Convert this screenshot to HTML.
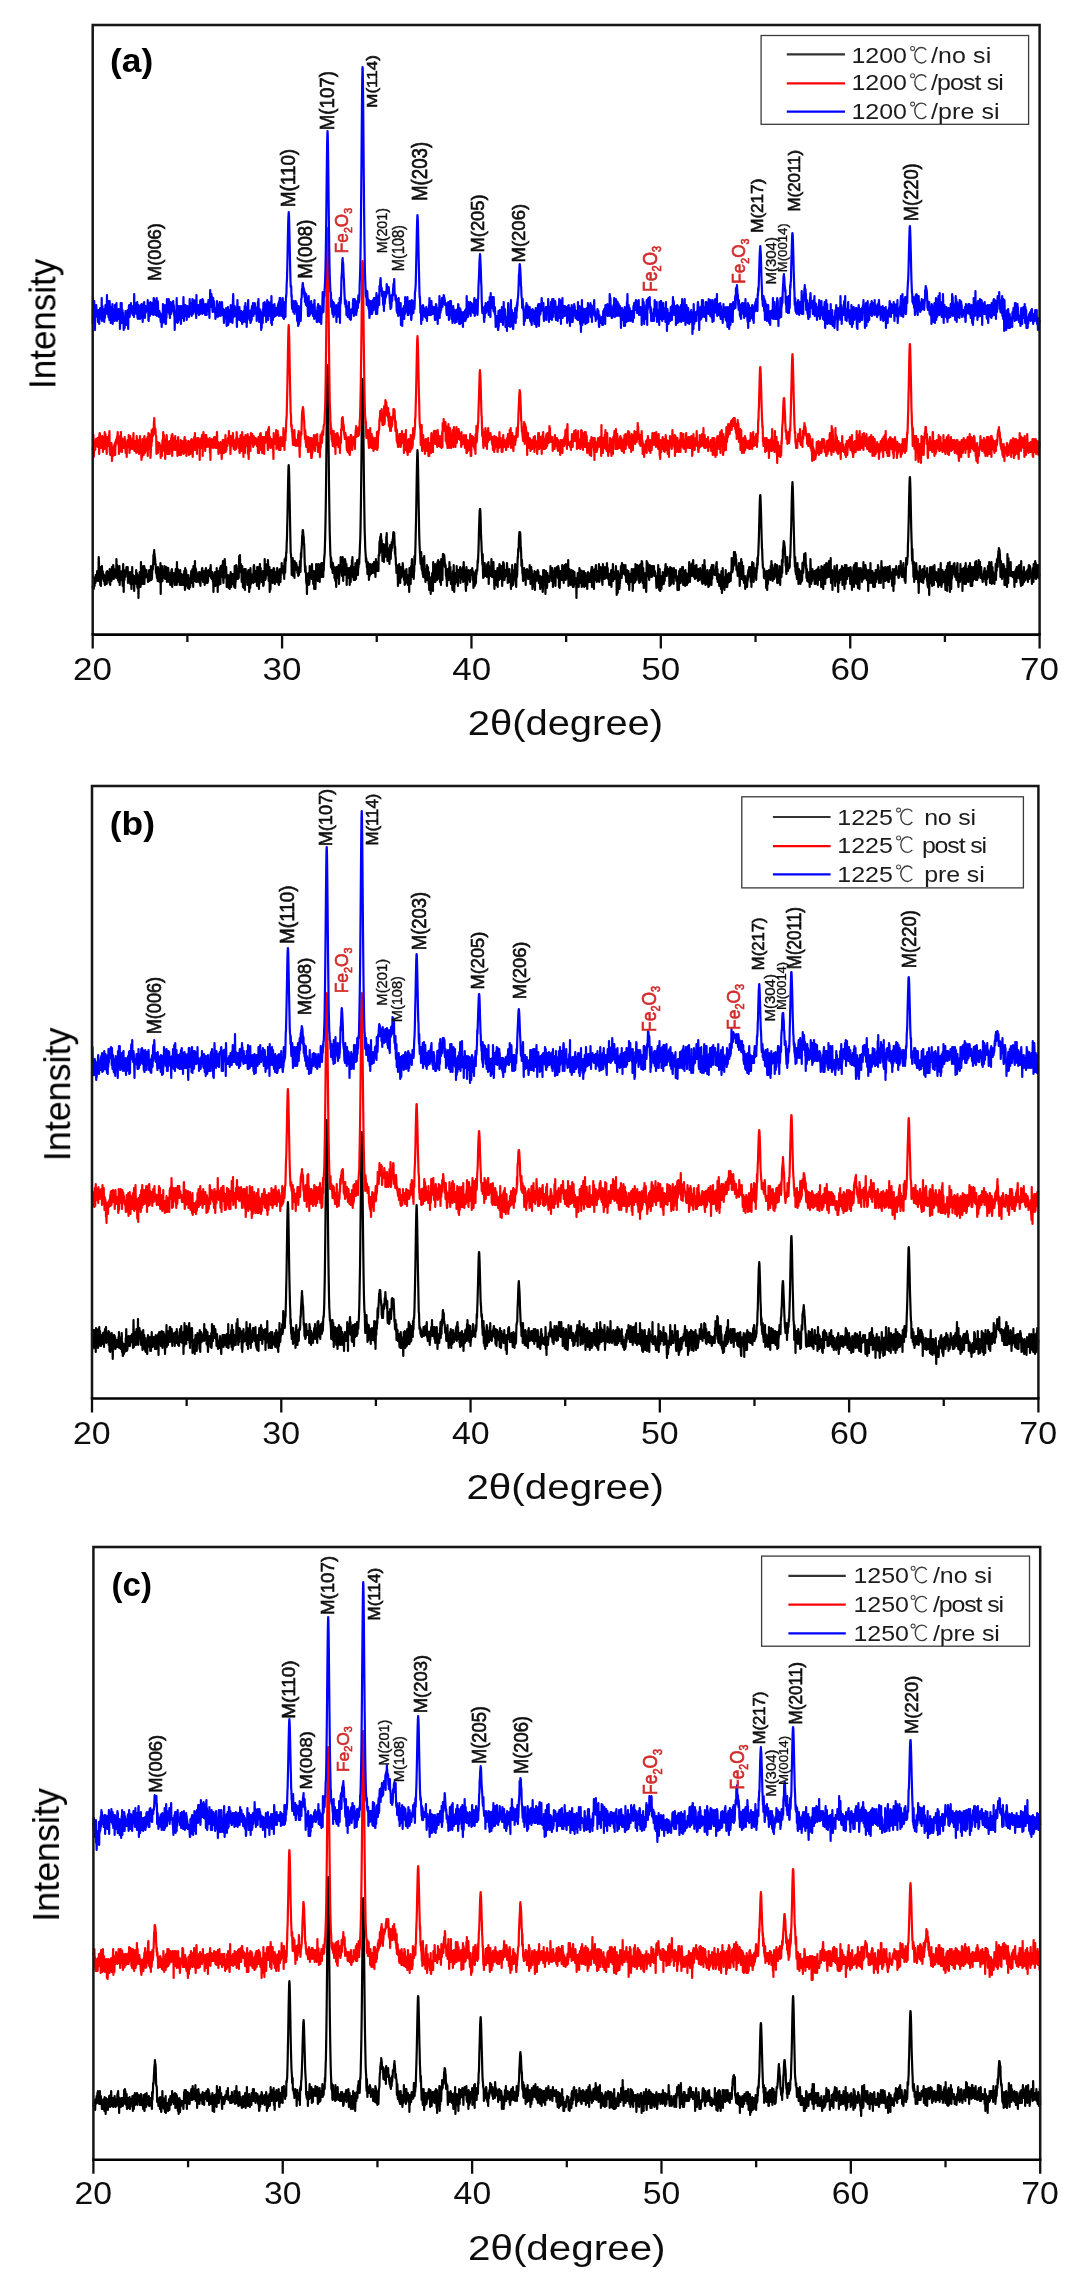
<!DOCTYPE html><html><head><meta charset="utf-8"><style>html,body{margin:0;padding:0;background:#fff;overflow:hidden}svg{display:block}text{font-family:"Liberation Sans",sans-serif}</style></head><body>
<svg width="1082" height="2284" viewBox="0 0 1082 2284">
<rect width="1082" height="2284" fill="#fff"/>
<defs><filter id="bl" x="0" y="0" width="1082" height="2284" filterUnits="userSpaceOnUse"><feGaussianBlur stdDeviation="0.5"/></filter></defs><g filter="url(#bl)">
<path d="M92.7 586l.25 3 .25-3 .25-9 .25 12 .25-3 .25-6 .25 6 .25-2 .25-1 .25-2 .25 2 .25-8 .25 3 .25-3 .25 6 .25-4 .25-3 .25-3 .25 2 .25 2 .25-3 .25 9 .25-2 .25-22 .25 5 .25 10 .25-2 .25 4 .25 0 .25 11 .25-18 .25 4 .25 15 .25-8 .25 1 .25-7 .25-6 .25 12 .25 0 .25-7 .25 4 .25 4 .25-5 .25 5 .25 2 .25-1 .25-3 .25 7 .25 1 .25-3 .25-7 .25 9 .25-8 .25 8 .25-12 .25 12 .25-6 .25-7 .25 5 .25 2 .25 2 .25-7 .25-1 .25 8 .25-4 .25 4 .25 3 .25-14 .25 11 .25 5 .25-9 .25-3 .25 8 .25-3 .25 3 .25-7 .25-7 .25 8 .25-3 .25 7 .25-4 .25-10 .25 2 .25 12 .25-2 .25-8 .25 4 .25 2 .25 0 .25 2 .25-4 .25-2 .25-1 .25 8 .25-19 .25 13 .25 1 .25-8 .25 11 .25-5 .25 9 .25-6 .25 5 .25 3 .25-5 .25-7 .25-4 .25 19 .25-11 .25-3 .25 4 .25-1 .25 6 .25-5 .25 1 .25-4 .25 7 .25-8 .25 10 .25 5 .25-17 .25-5 .25 17 .25 11 .25-20 .25-2 .25 10 .25-9 .25 1 .25 0 .25 5 .25-6 .25 3 .25-3 .25-4 .25 3 .25-3 .25 6 .25-6 .25 0 .25 16 .25-8 .25 1 .25 4 .25-5 .25 2 .25 4 .25-1 .25-8 .25 12 .25-8 .25-3 .25 1 .25 3 .25 12 .25-17 .25 8 .25-13 .25 12 .25 5 .25-6 .25-3 .25 6 .25 2 .25 0 .25 8 .25-10 .25-5 .25 3 .25 0 .25 1 .25-1 .25 1 .25-10 .25 14 .25-8 .25-3 .25 11 .25 4 .25-5 .25-1 .25-6 .25 22 .25-12 .25-11 .25 2 .25 5 .25-10 .25 10 .25-5 .25 10 .25-2 .25-23 .25 16 .25-11 .25 15 .25-6 .25 1 .25-10 .25 17 .25 0 .25-18 .25 8 .25-6 .25 4 .25-6 .25 18 .25-16 .25 5 .25 5 .25-6 .25 2 .25-1 .25 3 .25-6 .25 5 .25 1 .25-1 .25 3 .25-2 .25 6 .25-6 .25 1 .25-3 .25 0 .25-4 .25 11 .25-10 .25 2 .25 7 .25 0 .25-5 .25-9 .25 14 .25-2 .25-10 .25 11 .25-9 .25-4 .25 4 .25-4 .25-2 .25-9 .25 8 .25-10 .25-3 .05 5 .2-2 .25 4 .25 0 .25 4 .25 4 .25-1 .25 9 .25-4 .25 0 .25 6 .25 3 .25-3 .25-3 .25 9 .25-14 .25 4 .25 7 .25-9 .25 8 .25 0 .25 5 .25-10 .25 2 .25 5 .25-16 .25 31 .25-21 .25 0 .25 9 .25-6 .25-10 .25 14 .25 1 .25-8 .25 1 .25 4 .25-8 .25 7 .25-1 .25-5 .25-5 .25 7 .25-4 .25 10 .25-5 .25 3 .25-4 .25 1 .25-7 .25 9 .25 6 .25-12 .25-2 .25 3 .25-2 .25-1 .25 5 .25-1 .25 10 .25-8 .25 3 .25 4 .25-6 .25 10 .25-11 .25-1 .25 3 .25 2 .25-8 .25 8 .25-9 .25 18 .25-8 .25-4 .25-1 .25 3 .25 1 .25-5 .25 1 .25 4 .25-2 .25 8 .25 1 .25-7 .25 2 .25-11 .25 11 .25-4 .25 2 .25 7 .25-23 .25 15 .25-7 .25 10 .25-11 .25 6 .25 4 .25 3 .25-2 .25-5 .25 2 .25 8 .25-5 .25-10 .25 15 .25-2 .25 2 .25-7 .25 7 .25-11 .25 9 .25-6 .25 6 .25 2 .25-10 .25 3 .25 1 .25 6 .25-3 .25-11 .25 9 .25 2 .25 8 .25-22 .25 7 .25 11 .25-16 .25 1 .25 10 .25 3 .25-9 .25 7 .25-2 .25 8 .25-8 .25 6 .25-11 .25 5 .25 1 .25 8 .25-3 .25-8 .25 9 .25 0 .25-5 .25-1 .25 0 .25-10 .25 11 .25-1 .25-7 .25 9 .25-14 .25 4 .25 0 .25 14 .25-21 .25 12 .25 2 .25-4 .25 5 .25-13 .25-7 .25 18 .25-11 .25 5 .25-4 .25 13 .25-1 .25-9 .25 10 .25-5 .25-1 .25 1 .25-2 .25 5 .25-2 .25-4 .25 8 .25-10 .25 5 .25 1 .25 6 .25-11 .25 13 .25-9 .25-3 .25-2 .25 7 .25-3 .25-7 .25-1 .25 4 .25-1 .25 10 .25 1 .25-3 .25-3 .25-5 .25 2 .25 5 .25 7 .25-7 .25-7 .25 1 .25-3 .25-1 .25 3 .25 2 .25 10 .25-10 .25 7 .25 3 .25-10 .25 9 .25-5 .25-7 .25 4 .25-1 .25-2 .25 1 .25 2 .25 2 .25-8 .25 5 .25-8 .25 11 .25 2 .25-2 .25 1 .25 2 .25-7 .25 3 .25 4 .25 3 .25-3 .25 13 .25-15 .25 6 .25 2 .25-8 .25-4 .25-1 .25 8 .25 6 .25-5 .25 0 .25-3 .25 5 .25-15 .25 14 .25-2 .25-8 .25 20 .25-21 .25 2 .25-1 .25 13 .25-12 .25 8 .25-1 .25-2 .25-10 .25 4 .25 12 .25-18 .25 3 .25 3 .25 5 .25-4 .25 3 .25-11 .25 11 .25-2 .25-13 .25 18 .25 4 .25-17 .25 4 .25 8 .25-16 .25-3 .25 4 .25 5 .25 1 .25 7 .25-1 .25-8 .25 11 .25 9 .25-3 .25 0 .25-5 .25 6 .25-10 .25 10 .25-4 .25 7 .25-3 .25-9 .25 7 .25 6 .25-14 .25 3 .25-2 .25-4 .25 14 .25 1 .25-3 .25-3 .25-3 .25 2 .25-6 .25 9 .25 1 .25-1 .25-9 .25 4 .25-2 .25 11 .25-9 .25-12 .25 13 .25 9 .25-7 .25 1 .25-5 .25-12 .25 1 .25 3 .25 6 .25 2 .25 2 .25-7 .25 7 .25-7 .25-3 .25 9 .25-11 .25-11 .25 10 .25 6 .25-17 .25 15 .25 0 .25-6 .25 0 .25 7 .25 0 .25 11 .25-5 .25-11 .25 5 .25 9 .25 7 .25-8 .25 0 .25 9 .25-11 .25-2 .25-6 .25 5 .25 16 .25-21 .25 8 .25-8 .25 9 .25 4 .25-7 .25 5 .25 0 .25-2 .25 7 .25-5 .25-7 .25-2 .25-1 .25 8 .25-4 .25 18 .25-5 .25-11 .25 0 .25 12 .25-20 .25 8 .25 8 .25-10 .25 2 .25 1 .25 5 .25-3 .25 1 .25 1 .25-4 .25 6 .25-11 .25-5 .25-2 .25 1 .25 7 .25 9 .25-4 .25-4 .25-3 .25 4 .25 1 .25 0 .25-5 .25 6 .25 9 .25-19 .25 11 .25-11 .25 14 .25-6 .25-8 .25 12 .25 10 .25-11 .25 6 .25-7 .25-13 .25 15 .25-5 .25-6 .25 13 .25-3 .25-4 .25 8 .25-10 .25 9 .25-9 .25 9 .25-10 .25 15 .25-7 .25 6 .25-13 .25 1 .25 7 .25-21 .25 9 .25 12 .25-4 .25 3 .25-8 .25 5 .25-7 .25-3 .25-2 .25 8 .25 0 .25 1 .25-13 .25 6 .25 9 .25 6 .25-5 .25-1 .25-8 .25 25 .25-18 .25 16 .25-1 .25-8 .25-6 .25 4 .25-9 .25 8 .25-3 .25 3 .25 1 .25 4 .25-12 .25 8 .25-10 .25-1 .25 3 .25-2 .25 12 .25 1 .25 2 .25-7 .25 3 .25-5 .25-3 .25 9 .25-1 .25-8 .25 10 .25-14 .25 9 .25-2 .25 0 .25-3 .25 12 .25-3 .25 4 .25-7 .25-8 .25 5 .25-6 .25 9 .25 4 .25-6 .25-6 .25 1 .25 2 .25-10 .25 9 .25 0 .25-4 .25 0 .25 3 .25-5 .25 0 .25 9 .25-4 .25 8 .25-15 .25-5 .25 14 .25-1 .25-10 .25-5 .25 4 .25-9 .25 1 .25-10 .25-4 .25-12 .25-10 .25-13 .25-14 .25-12 .25-10 .25-3 .01 0 .24 3 .25 9 .25 13 .25 12 .25 14 .25 13 .25 13 .25 11 .25 1 .25 4 .25 1 .25 16 .25-5 .25-2 .25 4 .25-14 .25 4 .25 14 .25-3 .25-2 .25-7 .25 8 .25 6 .25-17 .25 7 .25-3 .25 5 .25-2 .25-1 .25-4 .25 5 .25-3 .25 3 .25 1 .25 4 .25-6 .25 1 .25 8 .25-7 .25 0 .25 6 .25-4 .25-1 .25 0 .25-9 .25 8 .25 3 .25-7 .25-12 .25 5 .25-8 .25-2 .25-5 .25-7 .25-1 .25-5 .21 0 .04 0 .25 3 .25 3 .25 1 .25 8 .25-1 .25 9 .25 9 .25 5 .25 5 .25-6 .25 6 .25 1 .25 8 .25 3 .25-10 .25 20 .25-17 .25-2 .25 6 .25 1 .25-2 .25-7 .25 12 .25-9 .25 8 .25-2 .25-16 .25 1 .25 0 .25 6 .25-1 .25 1 .25-6 .25 7 .25 5 .25-15 .25 7 .25 3 .25-2 .25 0 .25 12 .25-2 .25-2 .25-9 .25 18 .25-11 .25-5 .25 1 .25 0 .25 15 .25-11 .25-1 .25-13 .25 16 .25-11 .25 0 .25 9 .25-8 .25 9 .25 2 .25-17 .25 9 .25-9 .25 9 .25 5 .25-13 .25 17 .25-12 .25-5 .25 6 .25 5 .25-12 .25 7 .25-8 .25 14 .25-5 .25-4 .25 8 .25-13 .25 4 .25 10 .25-11 .25 5 .25-7 .25-6 .25-2 .25-3 .25-8 .25-9 .25-11 .25-15 .25-17 .25-22 .25-25 .25-26 .25-25 .25-19 .25-11 .08 0 .17 3 .25 14 .25 21 .25 26 .25 26 .25 24 .25 20 .25 17 .25 15 .25 9 .25 9 .25 7 .25 1 .25 10 .25-9 .25 10 .25-6 .25 0 .25 8 .25-6 .25 9 .25-10 .25 7 .25-4 .25 5 .25 0 .25-4 .25 11 .25-10 .25 1 .25 11 .25 1 .25-2 .25-2 .25 10 .25-20 .25 2 .25-2 .25 11 .25-4 .25 4 .25-1 .25-7 .25-3 .25-2 .25 19 .25-7 .25-3 .25-5 .25 1 .25-1 .25 0 .25-12 .25 13 .25-1 .25 3 .25 0 .25 4 .25-5 .25 5 .25-19 .25 8 .25 16 .25-17 .25 6 .25 5 .25-9 .25 9 .25-13 .25-3 .25 4 .25-2 .25 9 .25-2 .25 4 .25-8 .25 21 .25-15 .25 0 .25 3 .25-3 .25-2 .25 4 .25 5 .25-1 .25 2 .25-9 .25-1 .25 17 .25-13 .25 4 .25 2 .25 4 .25-16 .25 5 .25 1 .25 0 .25-12 .25 13 .25-16 .25 18 .25 2 .25 0 .25-10 .25 13 .25-10 .25-2 .25 1 .25 1 .25 6 .25 4 .25-17 .25 8 .25 8 .25-5 .25 1 .25-12 .25 12 .25-15 .25 9 .25 5 .25 1 .25-8 .25 1 .25-8 .25-1 .25 5 .25-7 .25-4 .25-8 .25-4 .25-9 .25-15 .25-16 .25-20 .25-23 .25-25 .25-23 .25-19 .25-11 .12-1 .13 1 .25 12 .25 19 .25 24 .25 25 .25 22 .25 19 .25 17 .25 14 .25 6 .25 9 .25 5 .25 3 .25 7 .25-4 .25 2 .25 4 .25 4 .25-4 .25 10 .25-12 .25 12 .25-11 .25 4 .25 3 .25 10 .25-6 .25-8 .25 10 .25-8 .25-4 .25 7 .25-2 .25 5 .25-8 .25 5 .25 1 .25-2 .25-2 .25-4 .25 9 .25-4 .25 2 .25-5 .25 2 .25-6 .25 7 .25 4 .25-4 .25 5 .25-4 .25 7 .25-9 .25-9 .25 12 .25-4 .25-5 .25 9 .25-2 .25 0 .25-5 .25 1 .25-1 .25 7 .25-16 .25 1 .25 0 .25-13 .25-2 .25 12 .25-16 .25 6 .11-5 .14 0 .25-4 .25 5 .25 8 .25-7 .25 11 .25 0 .25 10 .25-12 .25 10 .25-1 .25-6 .25-8 .25 18 .25-17 .25 5 .25 6 .25 0 .25-11 .25 3 .25-2 .25 6 .25 5 .04-20 .21 13 .25-17 .25 15 .25-5 .25 18 .25-9 .25-4 .25 3 .25 0 .25 5 .25-2 .25 5 .25 5 .25-5 .25-11 .25-3 .25 5 .25 9 .25-8 .25-3 .25 3 .25-9 .25 0 .25 6 .25-6 .25-3 .25 0 .25-5 .25-2 .25 0 .11 2 .14 0 .25-1 .25 6 .25 6 .25 9 .25-7 .25 10 .25 0 .25 8 .25 0 .25 8 .25-4 .25-4 .25 1 .25 6 .25 1 .25 13 .25-4 .25-16 .25 9 .25-9 .25-2 .25 14 .25-1 .25-9 .25 15 .25-15 .25-1 .25 11 .25-3 .25-2 .25 1 .25 1 .25-2 .25 0 .25-10 .25 3 .25 11 .25-8 .25 7 .25 4 .25-9 .25 4 .25 10 .25-8 .25 7 .25-2 .25-4 .25-4 .25-4 .25-1 .25 10 .25 0 .25-3 .25 7 .25-8 .25 10 .25-6 .25 0 .25 0 .25-1 .25 14 .25-24 .25 10 .25 5 .25-4 .25-6 .25 11 .25-17 .25-1 .25 10 .25-12 .25-5 .25 18 .25 0 .25-1 .25-7 .25 4 .25-7 .25 13 .25-6 .25-2 .25-15 .25 9 .25-3 .25-7 .25-9 .25-11 .25-11 .25-13 .25-15 .25-16 .25-14 .25-10 .25-6 .04 1 .21 2 .25 10 .25 13 .25 16 .25 15 .25 12 .25 15 .25 8 .25 6 .25 5 .25 3 .25 6 .25 2 .25-2 .25-10 .25 14 .25 3 .25 1 .25-3 .25 3 .25 4 .25-8 .25 11 .25-19 .25 4 .25 3 .25-9 .25 9 .25 13 .25 0 .25-6 .25 10 .25-9 .25-4 .25 5 .25-2 .25 5 .25-12 .25 15 .25-8 .25 8 .25-13 .25 8 .25 3 .25 6 .25-12 .25 18 .25-7 .25-5 .25 10 .25-6 .25 5 .25 7 .25-9 .25-8 .25 0 .25 5 .25-2 .25-7 .25 1 .25 7 .25 10 .25-29 .25 19 .25-5 .25 5 .25 1 .25-5 .25-7 .25-2 .25-4 .25 18 .25-9 .25-2 .25 1 .25-7 .25 9 .25 6 .25-2 .25-16 .25 17 .25-12 .25-7 .25 4 .25 2 .25 5 .25-6 .25-3 .25 7 .25 13 .25-15 .25 6 .25-2 .25 14 .25-26 .25 16 .25-13 .25 3 .25 1 .25 14 .25-20 .25-6 .25 10 .25-10 .25 1 .25 0 .05 0 .2 0 .25 3 .25 4 .25 5 .25-3 .25 1 .25 1 .25 10 .25-2 .25 5 .25 0 .25 7 .25-8 .25 3 .25-12 .25 1 .25 4 .25-5 .25 11 .25-12 .25 8 .25-14 .25 8 .25 5 .25 1 .25-9 .25 12 .25 5 .25-1 .25-7 .25 1 .25-3 .25 11 .25 5 .25-12 .25-7 .25 11 .25 3 .25-20 .25 16 .25 11 .25-8 .25-2 .25-1 .25 3 .25-11 .25 0 .25 7 .25-7 .25 6 .25-13 .25 15 .25 1 .25-5 .25 1 .25 8 .25-16 .25 1 .25-1 .25 4 .25-3 .25 6 .25-4 .25-5 .25-1 .25 16 .25-8 .25-1 .25 1 .25 0 .25 4 .25-1 .25-7 .25-2 .25-1 .25-1 .25 15 .25-13 .25-7 .25 7 .25 1 .25 6 .25-6 .25 8 .25-1 .25 5 .25 5 .25 4 .25-9 .25-15 .25 4 .25 4 .25 10 .25-8 .25 3 .25-8 .25 4 .25 1 .25-7 .25 7 .25 2 .25-7 .25 7 .25 3 .25-9 .25 0 .25-1 .25-2 .25 5 .25-2 .25 1 .25-2 .25-4 .25 4 .25 8 .25-9 .25 4 .25 13 .25-3 .25-11 .25 7 .25-7 .25 12 .25-13 .25 4 .25 7 .25-13 .25 12 .25-13 .25 5 .25-3 .25-1 .25 0 .25-4 .25-7 .25 3 .25-6 .25-6 .25-8 .25-12 .25-6 .25-8 .25-6 .25-2 .03 0 .22 0 .25 5 .25 8 .25 11 .25 6 .25 4 .25 8 .25 3 .25 6 .25 5 .25-11 .25 17 .25 7 .25-8 .25-1 .25 8 .25-13 .25 0 .25-1 .25 7 .25 4 .25-3 .25 3 .25 2 .25-2 .25-8 .25 3 .25 8 .25-13 .25 4 .25-1 .25 1 .25-5 .25-1 .25 22 .25-9 .25-9 .25 4 .25 5 .25-5 .25 6 .25-7 .25 2 .25 2 .25-2 .25-12 .25 15 .25 1 .25 2 .25-9 .25 8 .25 0 .25-11 .25-3 .25 16 .25-8 .25 12 .25 7 .25-16 .25 0 .25 4 .25 4 .25-10 .25 14 .25-2 .25-2 .25-8 .25 8 .25-1 .25-12 .25 19 .25-14 .25 3 .25-5 .25 5 .25 4 .25-11 .25-5 .25 7 .25-6 .25 3 .25 4 .25 0 .25 7 .25-13 .25 8 .25-6 .25 11 .25 7 .25-13 .25 8 .25-13 .25-6 .25 2 .25-1 .25 4 .25 5 .25 8 .25-2 .25-1 .25-5 .25-2 .25 5 .25 0 .25 1 .25 0 .25-3 .25-10 .25 4 .25 2 .25 14 .25-12 .25 6 .25 5 .25-6 .25-4 .25 1 .25-4 .25 8 .25 5 .25-3 .25 2 .25 0 .25 8 .25-15 .25 5 .25 4 .25 3 .25-21 .25 12 .25 2 .25-5 .25 11 .25-4 .25-4 .25-7 .25 1 .25 2 .25 7 .25-10 .25-6 .25 3 .25 4 .25 12 .25 4 .25-18 .25 7 .25 1 .25-3 .25-9 .25-8 .25 1 .25-9 .25 3 .25-4 .25-10 .25-2 .25-4 .25 0 .05 0 .2 0 .25 1 .25 5 .25 9 .25 1 .25 7 .25 11 .25-2 .25-4 .25 7 .25 7 .25-3 .25 8 .25 2 .25-11 .25 2 .25 2 .25-6 .25 9 .25-3 .25 6 .25-8 .25-2 .25 15 .25-15 .25 1 .25-1 .25 3 .25-4 .25 5 .25-4 .25 2 .25 5 .25 2 .25-1 .25-7 .25 6 .25-3 .25 0 .25-9 .25 14 .25-5 .25 10 .25-6 .25-10 .25-1 .25 15 .25-12 .25 10 .25-6 .25 15 .25-12 .25 9 .25-1 .25-10 .25 0 .25 11 .25-9 .25-6 .25 12 .25 7 .25-16 .25 8 .25-9 .25 8 .25-9 .25 9 .25-4 .25-4 .25 3 .25-4 .25-2 .25 1 .25 6 .25-5 .25 9 .25 2 .25 0 .25-6 .25 4 .25 0 .25 8 .25-13 .25 3 .25 1 .25 0 .25-3 .25 0 .25 10 .25-10 .25 9 .25 6 .25-4 .25-18 .25 14 .25-2 .25 0 .25-12 .25 13 .25-10 .25 13 .25-1 .25 9 .25-17 .25-6 .25 15 .25-1 .25-7 .25 10 .25-4 .25-11 .25 5 .25 0 .25 1 .25 2 .25-5 .25 2 .25 4 .25-4 .25-1 .25-1 .25 1 .25-11 .25 12 .25-8 .25 7 .25-9 .25 13 .25-4 .25-9 .25 9 .25-5 .25 15 .25-8 .25-8 .25 6 .25-1 .25 7 .25-6 .25 1 .25-10 .25 11 .25 7 .25-9 .25-4 .25 1 .25-6 .25 6 .25-7 .25 7 .25-3 .25-2 .25 9 .25-12 .25 9 .25-7 .25 18 .25 1 .25-6 .25 7 .25-8 .25 0 .25-6 .25-3 .25 6 .25-4 .25 0 .25 7 .25-6 .25-9 .25 8 .25-4 .25 3 .25-5 .25 13 .25 3 .25-17 .25 9 .25 0 .25-10 .25 6 .25 8 .25-4 .25 5 .25-16 .25 3 .25 7 .25 1 .25-2 .25-1 .25 0 .25 0 .25 7 .25-19 .25 26 .25-12 .25-5 .25 11 .25-11 .25 10 .25-4 .25 6 .25 1 .25 3 .25-10 .25 1 .25 2 .25-8 .25 12 .25-2 .25-9 .25 15 .25 1 .25-16 .25 11 .25 5 .25-3 .25-10 .25-2 .25 8 .25-2 .25 3 .25-1 .25 4 .25-6 .25 2 .25 18 .25-18 .25 5 .25-4 .25-1 .25-7 .25 7 .25-4 .25 5 .25 6 .25-11 .25 3 .25-11 .25 6 .25 9 .25-10 .25-3 .25 5 .25-2 .25 0 .25 0 .25 14 .25-16 .25 3 .25 0 .25 11 .25-9 .25 10 .25-6 .25-1 .25-8 .25 16 .25-4 .25 0 .25-3 .25-2 .25-5 .25 13 .25-4 .25-4 .25-2 .25 4 .25-1 .25 10 .25-6 .25-8 .25-3 .25 5 .25-4 .25 6 .25 1 .25 2 .25-2 .25-3 .25 4 .25-8 .25 4 .25 5 .25-3 .25-9 .25 0 .25-3 .25 20 .25-20 .25 7 .25 11 .25-5 .25 1 .25-11 .25 6 .25 13 .25-18 .25 2 .25-4 .25 2 .25 3 .25 6 .25-13 .25-2 .25 9 .25 1 .25 7 .25-3 .25-8 .25 7 .25 3 .25-5 .25-3 .25 5 .25-6 .25-8 .25 18 .25-15 .25 6 .25 0 .25 0 .25 0 .25-6 .25 11 .25-3 .25 0 .25 6 .25 0 .25 1 .25 3 .25-9 .25-12 .25 10 .25-1 .25 0 .25-4 .25-1 .25 10 .25 1 .25-12 .25 9 .25-4 .25-1 .25 7 .25-4 .25-3 .25 4 .25-12 .25 9 .25 1 .25-5 .25 10 .25 1 .25-5 .25 3 .25 5 .25 3 .25-11 .25 7 .25 4 .25-7 .25-4 .25-1 .25 2 .25-5 .25 17 .25-15 .25 5 .25-2 .25 2 .25-7 .25-6 .25 17 .25-10 .25 1 .25 0 .25 7 .25-3 .25 3 .25-1 .25-3 .25 2 .25-5 .25-6 .25 11 .25-4 .25 22 .25-5 .25-2 .25-10 .25 15 .25-22 .25 3 .25 2 .25-1 .25 5 .25 0 .25 9 .25-6 .25 1 .25-5 .25-4 .25-4 .25-5 .25 3 .25 2 .25 7 .25-15 .25 2 .25 9 .25-8 .25 8 .25-4 .25-2 .25-3 .25 7 .25-3 .25 1 .25 0 .25 5 .25 0 .25-10 .25 10 .25 3 .25 4 .25-1 .25-3 .25-8 .25 2 .25 10 .25-9 .25 10 .25 1 .25-13 .25 9 .25-3 .25 13 .25-7 .25-7 .25 5 .25-7 .25 5 .25 2 .25 0 .25 1 .25-8 .25-5 .25 8 .25-3 .25 1 .25 16 .25-6 .25-8 .25-8 .25 1 .25 9 .25 4 .25-9 .25 3 .25 0 .25 5 .25-18 .25 12 .25 1 .25 3 .25-3 .25-9 .25 3 .25-6 .25 9 .25 0 .25 2 .25-9 .25-1 .25 15 .25-7 .25 9 .25-7 .25-11 .25 14 .25 3 .25-10 .25-8 .25 16 .25-4 .25 2 .25-17 .25 19 .25-18 .25 11 .25 10 .25-15 .25 0 .25 8 .25 12 .25 0 .25-13 .25 10 .25-3 .25-2 .25 0 .25-7 .25 9 .25 1 .25 9 .25-11 .25-20 .25 7 .25 8 .25-2 .25-11 .25 9 .25-1 .25 1 .25-1 .25 6 .25 3 .25-5 .25-10 .25 1 .25 1 .25 4 .25-2 .25 0 .25-3 .25 11 .25 0 .25 0 .25-6 .25 3 .25-8 .25 0 .25 3 .25 6 .25-4 .25-5 .25 8 .25 2 .25-1 .25-4 .25 5 .25-3 .25 2 .25 1 .25 6 .25 6 .25-1 .25-5 .25-5 .25 1 .25 1 .25 8 .25-22 .25 18 .25-13 .25 12 .25 8 .25-13 .25-8 .25 21 .25 1 .25-7 .25 4 .25-12 .25 11 .25 2 .25-7 .25-3 .25 6 .25-1 .25-12 .25 12 .25-3 .25-4 .25 7 .25-2 .25-1 .25-8 .25 8 .25-12 .25 5 .25-9 .25-1 .25 12 .25-3 .25 0 .25 3 .25-2 .25-7 .25 5 .25 0 .25-3 .25 2 .25-1 .25-1 .25 2 .25 4 .25 11 .25-16 .25 8 .25-11 .25 18 .25-11 .25 3 .25 7 .25-1 .25-15 .25 12 .25-4 .25 5 .25-3 .25 3 .25-2 .25-3 .25 8 .25-16 .25 7 .25-3 .25 5 .25-2 .25 2 .25-1 .25 0 .25-6 .25 9 .25 2 .25-5 .25 0 .25 1 .25 13 .25-8 .25 1 .25-4 .25-1 .25-2 .25 14 .25-19 .25 11 .25-2 .25-2 .25-9 .25 2 .25 12 .25-11 .25 9 .25-2 .25-1 .25 1 .25-12 .25 4 .25 7 .25-11 .25 18 .25-13 .25 4 .25-5 .25 9 .25-6 .25 3 .25-5 .25 14 .25-16 .25 12 .25-1 .25 1 .25-9 .25 12 .25 0 .25-5 .25 1 .25-3 .25 5 .25-9 .25 7 .25-1 .25-11 .25-7 .25 14 .25-1 .25 7 .25-7 .25-4 .25-6 .25 6 .25-3 .25-4 .25 5 .25 7 .25-6 .25-7 .25 8 .25-8 .25-3 .25 12 .25-5 .25 10 .25-5 .25-6 .25 7 .25 6 .25-8 .25-5 .25 2 .25-1 .25-2 .25 0 .25 10 .25 3 .25-8 .25 6 .25 1 .25 4 .25-11 .25-1 .25 5 .25-2 .25 2 .25 6 .25-10 .25 5 .25-7 .25 6 .25-2 .25 0 .25 4 .25-1 .25 5 .25 3 .25-13 .25 14 .25-19 .25 15 .25 2 .25-8 .25 3 .25-4 .25 10 .25-23 .25 12 .25-6 .25 12 .25 7 .25-1 .25-3 .25-3 .25-6 .25 12 .25-3 .25-9 .25-2 .25 4 .25 10 .25 1 .25 2 .25-14 .25 3 .25 10 .25-7 .25 3 .25-12 .25 5 .25 2 .25-2 .25-1 .25-7 .25 18 .25-10 .25-10 .25 14 .25-7 .25 3 .25-6 .25-4 .25 0 .25 6 .25 2 .25-2 .25 1 .25 3 .25-5 .25 4 .25 1 .25-4 .25-2 .25-2 .25-4 .25-1 .25 17 .25-7 .25-3 .25 13 .25-3 .25-4 .25 6 .25-7 .25 4 .25 8 .25-4 .25-7 .25 6 .25 3 .25-7 .25-2 .25 14 .25-12 .25-6 .25 9 .25 13 .25-10 .25 3 .25-18 .25 9 .25 10 .25-9 .25 10 .25-5 .25 0 .25 7 .25-13 .25 0 .25 3 .25 1 .25-11 .25 17 .25-6 .25-2 .25 4 .25-6 .25 10 .25-7 .25 4 .25-10 .25 4 .25 3 .25-8 .25 1 .25 2 .25 6 .25-3 .25 0 .25-4 .25 3 .25 3 .25-9 .25 1 .25 0 .25-15 .25 10 .25 3 .25 1 .25-7 .25 5 .25-10 .25 1 .25 5 .25-14 .25 3 .25-2 .25 0 .25-1 .25 6 .25-4 .25 1 .25 10 .25-6 .25 11 .25-1 .25-2 .25 3 .25 2 .25 4 .25-6 .25 3 .25-7 .25 7 .25-10 .25 11 .25-3 .25 15 .25-5 .25-8 .25 6 .25-4 .25-9 .25-7 .25 20 .25-4 .25-13 .25 15 .25 2 .25-8 .25 9 .25-14 .25 10 .25 2 .25 5 .25-2 .25 0 .25 2 .25-7 .25 13 .25-11 .25 7 .25-5 .25-1 .25 4 .25-1 .25 5 .25-2 .25-10 .25 6 .25-3 .25-6 .25-2 .25 7 .25-5 .25-5 .25 7 .25 2 .25-1 .25-8 .25 3 .25 12 .25-13 .25 3 .25 15 .25-12 .25-5 .25-8 .25 13 .25-10 .25 8 .25-5 .25-5 .25 19 .25-10 .25 6 .25-1 .25-9 .25 5 .25-3 .25 7 .25-3 .25-5 .25 11 .25-7 .25-1 .25-8 .25 5 .25-11 .25 7 .25-9 .25 0 .25-7 .25-6 .25-8 .25-10 .25-10 .25-10 .25-7 .25-2 .06-1 .19 1 .25 7 .25 7 .25 10 .25 10 .25 9 .25 9 .25 2 .25 9 .25 4 .25 5 .25 0 .25 0 .25 1 .25 9 .25-9 .25 7 .25 0 .25-2 .25 3 .25 2 .25-6 .25 5 .25 10 .25-17 .25 5 .25-2 .25 16 .25-19 .25 8 .25 5 .25-10 .25 4 .25-4 .25-4 .25 6 .25 3 .25-6 .25 3 .25 2 .25 2 .25-14 .25 10 .25-8 .25-7 .25 6 .25 8 .25-2 .25-8 .25 16 .25-7 .25-3 .25-3 .25 6 .25-4 .25 9 .25-5 .25 2 .25-5 .25-7 .25 12 .25-9 .25 5 .25 1 .25-4 .25 9 .25-13 .25 18 .25-12 .25 9 .25 3 .25-13 .25 2 .25 9 .25-4 .25 0 .25-11 .25 1 .25 13 .25 5 .25-12 .25-2 .25 6 .25 0 .25 0 .25-7 .25-10 .25 13 .25-12 .25 2 .25-14 .25 2 .25-6 .25-4 .24 3 .01 0 .25-2 .25 5 .25-1 .25 5 .25 5 .25 3 .25 7 .25-6 .25 12 .25 2 .25-6 .25-4 .25-7 .25 13 .25-4 .25 5 .25-7 .25 5 .25-1 .25 0 .25 0 .25-2 .25 1 .25-11 .25 2 .25-7 .25-8 .25-9 .25-7 .25-12 .25-12 .25-10 .25-7 .25-3 .01-1 .24 4 .25 7 .25 10 .25 12 .25 10 .25 10 .25 11 .25 10 .25 5 .25 6 .25-10 .25 14 .25 1 .25 2 .25-7 .25 6 .25 3 .25 3 .25-7 .25-9 .25 8 .25 4 .25 0 .25 9 .25-12 .25-3 .25 2 .25 8 .25-7 .25-1 .25 1 .25 12 .25-5 .25-4 .25 7 .25-1 .25-10 .25 10 .25-4 .25-14 .25 4 .25 6 .25 0 .25-6 .25-6 .25 4 .25-11 .25 8 .25-4 .07 1 .18-2 .25 6 .25-10 .25 8 .25 8 .25-4 .25 13 .25-3 .25-6 .25 12 .25-6 .25 5 .25-7 .25 1 .25 8 .25-4 .25-5 .25-1 .25 9 .25 6 .25-15 .25 8 .25-21 .25 8 .25 12 .25 5 .25-9 .25 3 .25-2 .25 5 .25-12 .25 10 .25-6 .25 1 .25 2 .25-1 .25-3 .25 3 .25-4 .25 13 .25-5 .25-6 .25 11 .25-3 .25-5 .25-6 .25 4 .25 2 .25 4 .25-9 .25-2 .25 16 .25-5 .25-6 .25-7 .25 8 .25 4 .25-2 .25 0 .25-4 .25 7 .25-10 .25 2 .25 0 .25-1 .25 16 .25-21 .25 12 .25-7 .25-2 .25 8 .25-10 .25 9 .25 13 .25-14 .25 3 .25-9 .25 8 .25-12 .25 9 .25-3 .25 13 .25-13 .25-2 .25-2 .25-4 .25 12 .25 3 .25-10 .25 6 .25-6 .25 5 .25 1 .25-11 .25 4 .25 10 .25-16 .25 12 .25-2 .25-3 .25 5 .25 2 .25 2 .25-19 .25 25 .25-12 .25 8 .25-6 .25-3 .25 3 .25 17 .25-8 .25-11 .25 3 .25 5 .25-3 .25-3 .25-1 .25-6 .25 11 .25 2 .25 7 .25-16 .25 7 .25-3 .25 7 .25-7 .25-3 .25-6 .25 15 .25-3 .25 6 .25-10 .25 19 .25-20 .25 8 .25-1 .25 4 .25-8 .25-5 .25 0 .25 10 .25-5 .25 1 .25-7 .25 6 .25 0 .25 3 .25-12 .25 4 .25 15 .25-12 .25 2 .25-1 .25-6 .25 2 .25 9 .25-6 .25 16 .25-21 .25-3 .25 9 .25-5 .25 15 .25-12 .25 5 .25-12 .25 12 .25-1 .25 3 .25-7 .25 2 .25-3 .25 5 .25-8 .25 6 .25-6 .25 8 .25-5 .25-1 .25 1 .25 13 .25-17 .25 1 .25 12 .25-9 .25 3 .25 0 .25 16 .25-18 .25 0 .25 2 .25 3 .25 1 .25-11 .25 11 .25 9 .25-22 .25 14 .25 1 .25-3 .25-2 .25-12 .25 20 .25-8 .25 0 .25 9 .25-21 .25 13 .25 4 .25 1 .25-1 .25 8 .25-10 .25 4 .25-1 .25-13 .25 4 .25 17 .25-14 .25 1 .25-7 .25 5 .25-6 .25 4 .25 6 .25-8 .25 1 .25 11 .25-5 .25 0 .25 3 .25-9 .25 1 .25-10 .25 17 .25-6 .25 1 .25-6 .25 10 .25 0 .25-3 .25-10 .25 4 .25 5 .25-5 .25 8 .25 3 .25-10 .25 4 .25-3 .25 10 .25 0 .25 10 .25-15 .25-6 .25 8 .25-4 .25 3 .25 6 .25-9 .25 6 .25-17 .25 18 .25-5 .25-3 .25-1 .25 11 .25-12 .25 11 .25-11 .25 4 .25 2 .25 10 .25-10 .25 0 .25-1 .25-1 .25-2 .25 14 .25-1 .25-13 .25 5 .25-8 .25 12 .25-2 .25-4 .25-6 .25 9 .25-1 .25-5 .25 5 .25-13 .25 4 .25-2 .25 6 .25 10 .25-10 .25 7 .25-7 .25-2 .25 9 .25-2 .25 5 .25-2 .25-11 .25-9 .25 15 .25-7 .25-1 .25-1 .25 5 .25 3 .25 1 .25 12 .25-19 .25 7 .25-8 .25 2 .25 6 .25 1 .25-10 .25 14 .25-12 .25 11 .25-6 .25 6 .25-2 .25-5 .25 4 .25-10 .25 0 .25 5 .25 10 .25-13 .25 1 .25 12 .25-9 .25-1 .25-6 .25 6 .25 3 .25-3 .25 5 .25-2 .25 4 .25-1 .25-5 .25 7 .25 6 .25-9 .25-8 .25 8 .25-2 .25 16 .25-10 .25-11 .25 5 .25 9 .25-15 .25 3 .25 3 .25-1 .25-3 .25 4 .25-9 .25 5 .25-1 .25 2 .25 0 .25 2 .25-2 .25-1 .25 4 .25 3 .25 0 .25-12 .25 8 .25 2 .25-6 .25 4 .25-5 .25 4 .25-12 .25 12 .25-5 .25-2 .25 3 .25 8 .25 0 .25-4 .25 4 .25-7 .25-4 .25-3 .25 11 .25-1 .25 1 .25 0 .25 7 .25-13 .25 0 .25 15 .25-7 .25-7 .25-11 .25 5 .25 2 .25-1 .25-1 .25-6 .25 0 .25-12 .25-6 .25-10 .25-9 .25-13 .25-12 .25-10 .25-6 .17-2 .08 0 .25 5 .25 8 .25 13 .25 12 .25 12 .25 9 .25 8 .25 13 .25 4 .25-12 .25 15 .25-3 .25 4 .25 12 .25-15 .25 0 .25 20 .25-16 .25 2 .25 8 .25-9 .25 3 .25 2 .25 7 .25-16 .25 5 .25 4 .25 7 .25-8 .25 7 .25-6 .25 1 .25 10 .25-8 .25 18 .25-15 .25 4 .25-2 .25-14 .25 0 .25 12 .25-9 .25 3 .25 1 .25-3 .25 12 .25-2 .25-4 .25 2 .25-8 .25 10 .25-11 .25 14 .25-13 .25 0 .25 9 .25-3 .25-10 .25 9 .25-4 .25 0 .25 3 .25 0 .25 3 .25-3 .25-1 .25-2 .25 10 .25-13 .25 16 .25 2 .25 1 .25-13 .25 14 .25-5 .25 1 .25 11 .25-15 .25 2 .25-10 .25-5 .25 14 .25 1 .25 1 .25-3 .25-13 .25 13 .25 4 .25 2 .25-15 .25 0 .25 1 .25 0 .25-6 .25 6 .25 13 .25-15 .25-5 .25 9 .25-1 .25 7 .25-8 .25 4 .25-4 .25 0 .25 8 .25-2 .25 0 .25 4 .25-8 .25 5 .25 2 .25 6 .25-18 .25 9 .25 5 .25-6 .25 4 .25 4 .25-2 .25-13 .25 3 .25-10 .25 20 .25-3 .25 7 .25-8 .25-7 .25 12 .25-14 .25 8 .25-2 .25 5 .25 1 .25-8 .25-2 .25 3 .25-3 .25 9 .25-4 .25 6 .25 7 .25-20 .25 2 .25 6 .25 0 .25-4 .25-8 .25 25 .25-14 .25-7 .25-7 .25 22 .25-6 .25-2 .25-6 .25 6 .25-2 .25-13 .25 30 .25-13 .25-5 .25-4 .25 1 .25 18 .25-13 .25-10 .25 13 .25-3 .25 0 .25-4 .25 0 .25 2 .25-2 .25-8 .25 3 .25 6 .25-10 .25 9 .25-1 .25 6 .25-3 .25-2 .25 0 .25 5 .25 3 .25-11 .25-3 .25 6 .25-9 .25 9 .25 10 .25 1 .25 4 .25-9 .25 1 .25-5 .25 0 .25 5 .25 3 .25-3 .25-15 .25 15 .25-4 .25-4 .25 4 .25 4 .25-4 .25-6 .25 22 .25-22 .25 7 .25 4 .25-12 .25 8 .25-8 .25 4 .25-3 .25 15 .25-18 .25 11 .25-3 .25-11 .25 21 .25-13 .25 1 .25 3 .25-6 .25 0 .25 5 .25-5 .25 6 .25 7 .25-13 .25-3 .25 8 .25 4 .25 2 .25-10 .25-7 .25 19 .25-1 .25 5 .25-14 .25 9 .25 2 .25-16 .25 17 .25 2 .25-6 .25 0 .25 1 .25-7 .25-7 .25 3 .25 3 .25-4 .25 10 .25-8 .25 1 .25-10 .25 12 .25-7 .25 13 .25-19 .25 11 .25-4 .25 0 .25 12 .25-5 .25-10 .25 13 .25-12 .25 9 .25-15 .25 9 .25 0 .25 1 .25-7 .25-1 .25 11 .25 5 .25-3 .25-2 .25-6 .25 8 .25-1 .25 0 .25 6 .25 0 .25 2 .25-4 .25-3 .25 4 .25 0 .25-8 .25 7 .25-8 .25-2 .25 6 .25 1 .25 7 .25-6 .25 4 .25 5 .25-9 .25 1 .25-6 .25 8 .25-5 .25-1 .25-7 .25 0 .25 1 .25 5 .25 5 .25-15 .25 6 .25 0 .25 15 .25-14 .25-2 .25 8 .25-10 .25 10 .25-13 .25 22 .25-11 .25-2 .25-4 .25 7 .25 2 .25-4 .25 11 .25-9 .25 3 .25 1 .25 6 .25-10 .25 2 .25 1 .25 1 .25-14 .25 16 .25-8 .25-4 .25 3 .25-12 .25 5 .25 2 .25 1 .25-9 .25-2 .25-5 .25 1 .18-4 .07 2 .25-1 .25 1 .25 2 .25 4 .25 9 .25 12 .25-14 .25-2 .25 8 .25 1 .25-6 .25 15 .25-6 .25 1 .25-4 .25 1 .25 6 .25-13 .25 4 .25 6 .25-8 .25 19 .25-13 .25 1 .25 5 .25 7 .25-10 .25-4 .25-2 .25 6 .25-5 .25 17 .25-8 .25-25 .25 12 .25 6 .25 11 .25-25 .25 9 .25 9 .25-11 .25 4 .25-3 .25 7 .25-10 .25 7 .25-8 .25 14 .25-1 .25-3 .25 1 .25 0 .25-1 .25 3 .25 2 .25-2 .25-3 .25 1 .25 0 .25 6 .25-2 .25 10 .25-12 .25 1 .25-5 .25 4 .25-3 .25-3 .25 5 .25 8 .25-15 .25 1 .25 3 .25 1 .25 6 .25-11 .25 3 .25-4 .25 0 .25 3 .25-4 .25 10 .25 4 .25-8 .25 0 .25 12 .25-8 .25 11 .25-25 .25 16 .25-5 .25 3 .25 8 .25 2 .25-8 .25 7 .25-13 .25 8 .25-2 .25-10 .25 15 .25-9 .25 6 .25-7 .25 6 .25 2 .25-4 .25-3 .25 5 .25-2 .25-5 .25 3 .25-2 .25-2 .25 7 .25 5 .25-13 .25 2 .25-4 .25-2 .25 14 .25-10 .25 6 .25-9 .25 4 .25 7 .25 0 .25-1 .25 1 .25-1 .25 4 .25 4 .25-6 .25-4 .25-6 .25 3 .25 1 .25 10 .25-18 .25 5 .25-2 .25 11 .25-9 .25-7 .25-1 .25 14 .25-12 .25 16 .25 0 .25-12 .25 5 .25 2 .25-9 .25 2 .25 4 .25 4 .25 2 .25-12 .25 13 .25-2 .25-1 .25-1" fill="none" stroke="#000000" stroke-width="2.2" stroke-linejoin="round"/>
<path d="M92.7 450l.25-4 .25 0 .25-11 .25 22 .25-4 .25-8 .25 5 .25-3 .25-5 .25 8 .25-8 .25 0 .25-3 .25 7 .25-3 .25 3 .25-6 .25 3 .25-5 .25 9 .25-3 .25 0 .25 1 .25-8 .25 10 .25 7 .25-20 .25-1 .25 1 .25 13 .25-4 .25 5 .25-2 .25-2 .25 0 .25-2 .25 5 .25-11 .25 4 .25 4 .25 8 .25-14 .25-1 .25 2 .25 9 .25-7 .25 8 .25-17 .25 16 .25-1 .25-13 .25 8 .25 6 .25-6 .25 4 .25 8 .25-12 .25-3 .25-2 .25 7 .25-4 .25 0 .25 1 .25 5 .25-9 .25-2 .25-4 .25 21 .25-5 .25 8 .25-7 .25-3 .25 7 .25-3 .25-6 .25 3 .25 15 .25-8 .25 1 .25-4 .25-2 .25 8 .25-5 .25-4 .25 3 .25-5 .25 6 .25 4 .25-12 .25 12 .25-13 .25 4 .25-6 .25 2 .25 1 .25-4 .25-2 .25 0 .25-1 .25-4 .25 7 .25 3 .25 3 .25-1 .25 10 .25-11 .25-4 .25 13 .25-16 .25 11 .25-10 .25 7 .25-12 .25 16 .25-6 .25-4 .25 14 .25-5 .25-4 .25-4 .25 4 .25-1 .25 5 .25 1 .25-8 .25 1 .25 0 .25-4 .25 5 .25 3 .25 4 .25 4 .25-11 .25 7 .25-5 .25 13 .25-12 .25 3 .25-8 .25 1 .25 5 .25-4 .25 4 .25-11 .25 12 .25-8 .25 14 .25-11 .25 8 .25-14 .25 10 .25-6 .25 2 .25 3 .25-2 .25 3 .25 3 .25 0 .25-4 .25-7 .25 3 .25 3 .25-11 .25 16 .25-5 .25 0 .25 7 .25-1 .25-3 .25-6 .25 7 .25 1 .25-7 .25 11 .25-3 .25-14 .25 11 .25-8 .25 13 .25-2 .25-10 .25 1 .25 5 .25-2 .25 10 .25-4 .25-6 .25 5 .25-13 .25 13 .25 3 .25-5 .25-2 .25 7 .25 8 .25-10 .25-7 .25 14 .25-18 .25 13 .25-6 .25 8 .25-10 .25 11 .25-6 .25-11 .25-2 .25 9 .25 8 .25-6 .25-1 .25-2 .25 5 .25-2 .25-1 .25-7 .25 11 .25 1 .25-14 .25 19 .25-9 .25-6 .25-8 .25 14 .25-1 .25-6 .25-6 .25 15 .25-9 .25 1 .25 17 .25-3 .25-7 .25-8 .25 6 .25-16 .25 12 .25-6 .25-4 .25-3 .25 7 .25-4 .25-3 .25 0 .25-7 .25-2 .05-2 .2 5 .25 5 .25 0 .25 6 .25-5 .25 6 .25 1 .25 0 .25 18 .25-4 .25-7 .25 1 .25 5 .25-7 .25 11 .25-9 .25 5 .25-3 .25 3 .25-5 .25-1 .25 3 .25 2 .25 1 .25 2 .25 7 .25-4 .25-6 .25 5 .25-8 .25 11 .25-6 .25-10 .25 11 .25 0 .25-19 .25 10 .25 1 .25-8 .25 4 .25 1 .25 7 .25-1 .25 13 .25-17 .25 9 .25-6 .25 1 .25-8 .25-3 .25 6 .25 8 .25 5 .25-5 .25 0 .25-7 .25 12 .25 0 .25-11 .25 3 .25-5 .25 13 .25-6 .25-3 .25 3 .25 0 .25-5 .25-5 .25-1 .25-2 .25 11 .25 10 .25-22 .25 10 .25 1 .25-7 .25 6 .25-6 .25 12 .25-9 .25 4 .25 4 .25-6 .25-7 .25 7 .25 7 .25-4 .25 2 .25-7 .25 6 .25 3 .25-4 .25 10 .25-11 .25-5 .25-3 .25 15 .25-6 .25 6 .25-3 .25 6 .25-2 .25-8 .25 3 .25 5 .25-13 .25 15 .25-1 .25-2 .25-6 .25 3 .25-8 .25 7 .25-4 .25 4 .25-3 .25 4 .25 5 .25-13 .25 12 .25-15 .25-1 .25 11 .25 1 .25 3 .25-12 .25 9 .25 1 .25 6 .25-8 .25 3 .25-8 .25 4 .25-2 .25 6 .25-10 .25 0 .25 7 .25 7 .25-8 .25-1 .25-4 .25 8 .25-3 .25 7 .25-8 .25-6 .25 2 .25-2 .25-1 .25 14 .25-2 .25-11 .25 17 .25-8 .25-6 .25 7 .25-2 .25-4 .25-7 .25 11 .25 1 .25-16 .25 17 .25 0 .25-6 .25 3 .25-2 .25-3 .25 2 .25 10 .25-16 .25 10 .25-1 .25-5 .25 2 .25-6 .25 3 .25 4 .25 2 .25-8 .25 21 .25-20 .25 3 .25-2 .25-2 .25 9 .25-10 .25 9 .25-1 .25-11 .25 11 .25-9 .25 19 .25-17 .25-2 .25-5 .25 3 .25 4 .25-1 .25-1 .25 3 .25 2 .25 9 .25-16 .25 6 .25-2 .25-4 .25 2 .25 1 .25 9 .25-5 .25-2 .25 6 .25-1 .25-3 .25 4 .25-7 .25 8 .25 0 .25-5 .25-4 .25 15 .25-8 .25 15 .25-20 .25 8 .25-7 .25 3 .25 3 .25-8 .25 3 .25 2 .25-1 .25 3 .25 2 .25 0 .25-3 .25-4 .25-4 .25 2 .25 2 .25 6 .25-5 .25-5 .25 11 .25-8 .25 0 .25 4 .25 4 .25-16 .25 7 .25 8 .25-3 .25-2 .25 1 .25 11 .25-10 .25 7 .25 0 .25-6 .25 5 .25-5 .25 0 .25-3 .25 11 .25-7 .25 0 .25-3 .25 16 .25-6 .25-5 .25-3 .25-5 .25 9 .25 0 .25-9 .25 13 .25-2 .25-10 .25 2 .25 0 .25 3 .25-2 .25-9 .25 17 .25-7 .25 5 .25 0 .25-9 .25 3 .25 2 .25 0 .25-5 .25-3 .25 4 .25-4 .25 1 .25-8 .25 12 .25-6 .25 3 .25 3 .25 2 .25 9 .25-9 .25-9 .25 9 .25-5 .25 6 .25-6 .25-1 .25 1 .25-1 .25-6 .25 6 .25 3 .25 7 .25-9 .25 0 .25 5 .25 0 .25 5 .25-6 .25-3 .25 7 .25 1 .25-11 .25 4 .25-10 .25 8 .25-3 .25 5 .25-1 .25 2 .25 1 .25 4 .25-1 .25-4 .25-4 .25 13 .25 1 .25-11 .25 5 .25-11 .25-1 .25 7 .25 9 .25-14 .25 1 .25 13 .25-19 .25 14 .25-1 .25-3 .25 2 .25 13 .25-20 .25 5 .25 1 .25-2 .25-4 .25 16 .25-7 .25-11 .25 5 .25 6 .25 0 .25-10 .25 7 .25 2 .25 1 .25 0 .25-12 .25 20 .25-9 .25 9 .25 5 .25-16 .25-6 .25 11 .25-6 .25-2 .25-3 .25 14 .25-12 .25-6 .25 5 .25-4 .25 7 .25-3 .25-4 .25 9 .25-7 .25 8 .25 3 .25-9 .25-2 .25 5 .25 4 .25-5 .25 1 .25-1 .25 2 .25 2 .25-6 .25 1 .25 3 .25-3 .25 5 .25 2 .25-3 .25-3 .25-1 .25 14 .25-5 .25-11 .25 2 .25 14 .25-2 .25-8 .25 6 .25-15 .25 8 .25 5 .25-14 .25 6 .25 9 .25 2 .25-9 .25 5 .25 7 .25-11 .25-5 .25 6 .25-2 .25 8 .25-6 .25-6 .25 17 .25-17 .25 5 .25 1 .25 0 .25-3 .25 2 .25-3 .25-7 .25 7 .25 0 .25 1 .25 1 .25-3 .25 10 .25 2 .25-21 .25 12 .25-4 .25-10 .25 16 .25-6 .25 2 .25-2 .25 10 .25 1 .25-5 .25 2 .25-4 .25 2 .25-4 .25 4 .25-3 .25 6 .25 2 .25-2 .25 5 .25 8 .25-26 .25 11 .25-3 .25 0 .25-5 .25 8 .25-2 .25-2 .25 2 .25-2 .25-10 .25 19 .25-8 .25-3 .25 7 .25-6 .25-8 .25 17 .25-14 .25 8 .25 1 .25 7 .25-1 .25-6 .25-5 .25 1 .25 8 .25 3 .25-7 .25-6 .25 9 .25-8 .25 0 .25 0 .25 5 .25-2 .25 4 .25 1 .25-4 .25-14 .25 3 .25 10 .25-2 .25 11 .25-11 .25-2 .25 4 .25-1 .25-8 .25 0 .25-10 .25-4 .25-2 .25-13 .25-9 .25-13 .25-14 .25-15 .25-13 .25-10 .25-4 .01 0 .24 4 .25 9 .25 13 .25 14 .25 16 .25 11 .25 10 .25 12 .25 0 .25 12 .25 1 .25-2 .25 7 .25-2 .25 7 .25 2 .25 6 .25-7 .25 1 .25-3 .25 3 .25 6 .25-15 .25 14 .25-6 .25 3 .25 2 .25 3 .25-3 .25-3 .25 3 .25-1 .25-2 .25 3 .25 3 .25-4 .25 0 .25-8 .25 7 .25-10 .25 14 .25-9 .25 12 .25 9 .25-18 .25 8 .25-6 .25-6 .25-3 .25 3 .25-2 .25-8 .25-9 .25-4 .25-2 .25-1 .21-2 .04 0 .25 2 .25 2 .25 4 .25 5 .25 0 .25 10 .25 3 .25 6 .25-9 .25 3 .25 10 .25-2 .25 6 .25-11 .25 7 .25-4 .25 6 .25-3 .25 6 .25 4 .25-2 .25-13 .25 15 .25-2 .25-8 .25 1 .25 4 .25 3 .25-6 .25-6 .25 10 .25-1 .25 11 .25-20 .25 20 .25-4 .25-8 .25 7 .25-9 .25 5 .25-9 .25 4 .25-6 .25-3 .25 7 .25-2 .25 7 .25 4 .25-8 .25 1 .25 1 .25-10 .25 10 .25-1 .25 0 .25-6 .25-4 .25 9 .25 3 .25 6 .25-1 .25 1 .25-5 .25 4 .25-8 .25 4 .25 2 .25 8 .25-13 .25-9 .25 13 .25-12 .25 3 .25-2 .25-4 .25 10 .25-5 .25-7 .25 3 .25-3 .25 4 .25-6 .25-3 .25-1 .25-1 .25 0 .25-8 .25-4 .25-7 .25-11 .25-16 .25-20 .25-22 .25-25 .25-27 .25-25 .25-20 .25-10 .08-1 .17 3 .25 14 .25 22 .25 26 .25 27 .25 24 .25 22 .25 17 .25 16 .25 8 .25 5 .25 11 .25 0 .25 11 .25-6 .25 2 .25 10 .25-4 .25 6 .25-11 .25 15 .25-10 .25 7 .25-9 .25-3 .25 7 .25 2 .25 7 .25-7 .25 2 .25-1 .25 13 .25-20 .25 10 .25-7 .25 3 .25-4 .25 9 .25-12 .25 0 .25 6 .25-4 .25 10 .25 2 .25-9 .25 9 .25-7 .25 3 .25 0 .25 10 .25-11 .25-5 .25-1 .25 7 .25-14 .25 2 .25-3 .25-10 .25 3 .25 1 .23-3 .02-2 .25 4 .25 2 .25 7 .25-5 .25 4 .25 5 .25 1 .25 3 .25 1 .25-2 .25-4 .25 6 .25-3 .25 2 .25 3 .25 7 .25 2 .25-9 .25 8 .25 3 .25-4 .25-9 .25-2 .25 16 .25 0 .25-4 .25-7 .25 13 .25-2 .25-7 .25-2 .25-9 .25 13 .25-13 .25 12 .25 0 .25-4 .25 7 .25-10 .25 4 .25 1 .25-4 .25-4 .25 8 .25-4 .25-4 .25 0 .25 1 .25 11 .25-12 .25-2 .25-5 .25 0 .25-4 .25 11 .25-1 .25-5 .25-3 .25 6 .25-1 .25-4 .25 7 .25-2 .25-1 .25 2 .25-8 .25 5 .25-12 .25-1 .25-7 .25-11 .25-12 .25-16 .25-18 .25-21 .25-23 .25-21 .25-18 .25-10 .12-1 .13 1 .25 11 .25 18 .25 22 .25 23 .25 20 .25 18 .25 16 .25 12 .25 11 .25 5 .25 0 .25 6 .25-2 .25 12 .25 4 .25-7 .25 6 .25-3 .25-4 .25 5 .25-5 .25 6 .25 5 .25 3 .25 4 .25-8 .25 3 .25 2 .25 0 .25-17 .25 11 .25 8 .25-10 .25 8 .25 3 .25-14 .25 9 .25 3 .25-1 .25-8 .25 11 .25-5 .25 8 .25-2 .25-5 .25 4 .25-5 .25 0 .25-5 .25 6 .25 5 .25-4 .25-1 .25-4 .25-1 .25 6 .25-13 .25 18 .25-13 .25 11 .25-7 .25-10 .25 4 .25-4 .25-1 .25-1 .25-9 .25-2 .25-1 .25-6 .25 3 .11 2 .14 0 .25 0 .25-1 .25 6 .25-12 .25 8 .25 2 .25 6 .25-1 .25 1 .25-5 .25 5 .25-11 .25 4 .25-12 .25 18 .25-2 .25-12 .25-3 .25-7 .25 2 .25 6 .25-1 .04-5 .21 4 .25 0 .25 7 .25 3 .25-3 .25 3 .25 1 .25-9 .25 13 .25-1 .25 6 .25-13 .25 14 .25-7 .25 6 .25 5 .25-14 .25 2 .25 12 .25-12 .25 1 .25 7 .25-5 .25 3 .25-5 .25-4 .25 1 .25 1 .25-9 .25 4 .11-1 .14-3 .25 3 .25-2 .25 4 .25 6 .25 2 .25 9 .25-10 .25 7 .25 0 .25 5 .25 8 .25-11 .25 13 .25-7 .25 3 .25 8 .25-6 .25 6 .25-3 .25-1 .25-1 .25-8 .25 6 .25 4 .25 0 .25-10 .25 13 .25-3 .25-10 .25 1 .25 8 .25-12 .25 5 .25 4 .25-1 .25 1 .25 3 .25-6 .25 2 .25 14 .25-19 .25 6 .25 3 .25-3 .25 10 .25-6 .25 4 .25-18 .25 20 .25 0 .25-10 .25 12 .25-6 .25 4 .25 5 .25-9 .25-6 .25 5 .25-6 .25 2 .25 0 .25 1 .25 10 .25-2 .25-10 .25 11 .25-16 .25 5 .25 3 .25 6 .25-3 .25-2 .25 4 .25-4 .25 2 .25-12 .25-6 .25 6 .25 5 .25-5 .25 2 .25-3 .25-3 .25-3 .25-9 .25-1 .25-11 .25-8 .25-12 .25-11 .25-14 .25-11 .25-10 .25-3 .04-1 .21 3 .25 8 .25 11 .25 14 .25 11 .25 12 .25 8 .25 12 .25 8 .25 3 .25 2 .25-1 .25 18 .25-6 .25-12 .25 9 .25-11 .25 23 .25 3 .25-2 .25-7 .25-3 .25-4 .25 11 .25-6 .25 2 .25-1 .25 2 .25 7 .25 4 .25-8 .25-1 .25-6 .25 0 .25 1 .25 10 .25-3 .25 4 .25-3 .25-5 .25-4 .25 4 .25-5 .25 18 .25-9 .25-4 .25 13 .25-13 .25 5 .25-4 .25 3 .25-4 .25 5 .25 5 .25-15 .25-5 .25 19 .25-7 .25 3 .25-7 .25 10 .25 1 .25-17 .25 9 .25-7 .25-6 .25 6 .25 5 .25-11 .25 0 .25 13 .25-6 .25 1 .25-8 .25 3 .25 4 .25 1 .25 0 .25 8 .25-8 .25-9 .25 4 .25 5 .25 7 .25-10 .25 2 .25 2 .25-3 .25-1 .25 4 .25 7 .25-2 .25-4 .25 4 .25-9 .25 12 .25-2 .25-3 .25-11 .25 15 .25-24 .25 5 .25-2 .25 2 .25-9 .25 4 .05-1 .2 0 .25 5 .25 4 .25-1 .25-1 .25-7 .25 19 .25-7 .25-8 .25 11 .25 7 .25-8 .25-6 .25 18 .25-9 .25-2 .25 4 .25-17 .25 11 .25 0 .25 13 .25-15 .25 0 .25-5 .25 4 .25 3 .25 3 .25-2 .25 12 .25-8 .25 1 .25 4 .25-3 .25-7 .25-5 .25 11 .25-6 .25 12 .25-12 .25-8 .25 13 .25 5 .25-7 .25 2 .25-1 .25 8 .25-8 .25-2 .25-4 .25-6 .25 16 .25-1 .25-12 .25 8 .25-1 .25-4 .25 0 .25 6 .25-10 .25 4 .25 3 .25 0 .25-1 .25 3 .25 2 .25-7 .25 5 .25-3 .25 12 .25-15 .25 7 .25 6 .25-5 .25 0 .25-1 .25 5 .25-8 .25 6 .25 0 .25-7 .25 9 .25-4 .25 4 .25 4 .25-3 .25-8 .25 8 .25-10 .25 5 .25 13 .25-8 .25 8 .25-9 .25 2 .25-6 .25 11 .25-6 .25 5 .25-1 .25 1 .25-2 .25-2 .25 0 .25-4 .25-8 .25 13 .25 9 .25-7 .25 7 .25-11 .25-8 .25-1 .25 10 .25-3 .25-3 .25 5 .25-8 .25 7 .25-4 .25 3 .25 5 .25-7 .25 9 .25-1 .25-11 .25 16 .25-20 .25 6 .25 3 .25-17 .25 16 .25-1 .25-8 .25-1 .25-3 .25-5 .25-2 .25-10 .25-7 .25-8 .25-8 .25-8 .25-8 .25-3 .03 1 .22 2 .25 5 .25 8 .25 10 .25 8 .25 11 .25 1 .25 9 .25 11 .25-1 .25-6 .25 8 .25 6 .25 5 .25-7 .25 3 .25-12 .25 4 .25 8 .25-11 .25 5 .25-10 .25 18 .25-8 .25 4 .25-11 .25 1 .25 17 .25-12 .25-1 .25 6 .25 0 .25-14 .25 5 .25 5 .25 0 .25 2 .25-5 .25 1 .25 3 .25-5 .25-1 .25 2 .25 4 .25 0 .25-1 .25 2 .25 2 .25 2 .25 1 .25-8 .25 13 .25-13 .25 12 .25-7 .25 7 .25 3 .25-16 .25 13 .25-2 .25-5 .25 4 .25-5 .25 3 .25-7 .25 10 .25-2 .25 1 .25-8 .25 14 .25 0 .25-11 .25-2 .25 1 .25 6 .25 2 .25-9 .25-7 .25 14 .25-3 .25 2 .25 2 .25-9 .25 7 .25-2 .25 4 .25 5 .25-7 .25-4 .25 11 .25-3 .25-5 .25-9 .25 5 .25 5 .25 2 .25-6 .25 5 .25-6 .25 1 .25 5 .25-4 .25 2 .25 4 .25 2 .25-9 .25 2 .25-5 .25 0 .25 8 .25-4 .25-8 .25 13 .25-8 .25 2 .25 3 .25 0 .25-3 .25-11 .25 13 .25-6 .25-4 .25-5 .25 20 .25-7 .25 1 .25 2 .25-3 .25-8 .25 12 .25 2 .25-3 .25 5 .25 2 .25-15 .25 2 .25 7 .25-4 .25 0 .25 4 .25-1 .25-6 .25 3 .25-5 .25 2 .25-5 .25-5 .25 6 .25-2 .25 5 .25-1 .25-10 .25-3 .25-9 .25-6 .25-5 .25-6 .25-4 .25-3 .05 1 .2 0 .25 2 .25 7 .25 6 .25 7 .25 8 .25 0 .25 6 .25 5 .25-5 .25 7 .25 3 .25 2 .25 2 .25-2 .25-1 .25-9 .25-7 .25 9 .25 13 .25-7 .25-13 .25 10 .25 4 .25-11 .25 13 .25-9 .25 12 .25-4 .25 16 .25-22 .25 9 .25-9 .25 15 .25-5 .25 5 .25-4 .25-6 .25 3 .25-3 .25 1 .25 7 .25 5 .25-1 .25-2 .25-6 .25 5 .25-7 .25 5 .25 4 .25-6 .25-1 .25 0 .25 6 .25-5 .25-6 .25 5 .25-4 .25 14 .25-8 .25-8 .25 9 .25 2 .25-2 .25-4 .25 3 .25 0 .25 4 .25-4 .25 10 .25-13 .25 9 .25-8 .25-9 .25 3 .25-3 .25 0 .25 16 .25-10 .25 7 .25-8 .25 5 .25-6 .25 11 .25-7 .25-1 .25 2 .25 12 .25-9 .25 2 .25-12 .25 3 .25 6 .25-12 .25 17 .25-6 .25-1 .25-1 .25-1 .25-1 .25 10 .25-4 .25 3 .25-9 .25-3 .25 12 .25-14 .25 3 .25 7 .25 2 .25-13 .25 5 .25 2 .25-1 .25-4 .25 8 .25-7 .25 1 .25-11 .25 12 .25-10 .25 14 .25-1 .25-5 .25 4 .25 0 .25-1 .25 3 .25-2 .25-2 .25-1 .25 14 .25-8 .25-1 .25 4 .25-5 .25 0 .25 6 .25 2 .25-2 .25-12 .25 9 .25-1 .25 3 .25-8 .25 0 .25 5 .25-5 .25 0 .25 5 .25 6 .25-4 .25 6 .25-11 .25 10 .25-4 .25-4 .25 3 .25-2 .25 4 .25-3 .25 11 .25-9 .25-6 .25 6 .25 3 .25-4 .25 5 .25-10 .25 0 .25 13 .25-10 .25 2 .25 0 .25-1 .25-3 .25-2 .25 7 .25-9 .25 3 .25 2 .25-6 .25-6 .25 10 .25 4 .25-5 .25-10 .25 12 .25 8 .25-19 .25-6 .25 14 .25 2 .25 4 .25 1 .25-3 .25 2 .25 0 .25-1 .25 0 .25 0 .25 4 .25-1 .25-4 .25 8 .25-9 .25 2 .25 2 .25-11 .25 7 .25 6 .25 0 .25-11 .25 1 .25-2 .25 4 .25 0 .25-8 .25 10 .25-2 .25 0 .25-4 .25 3 .25-8 .25 11 .25 0 .25-1 .25-5 .25 14 .25 0 .25-16 .25 13 .25-1 .25-14 .25 16 .25 1 .25 0 .25-3 .25-5 .25 0 .25 5 .25 4 .25-10 .25 1 .25 5 .25-15 .25 14 .25-3 .25-10 .25 16 .25-9 .25 9 .25 3 .25-14 .25 0 .25 6 .25-9 .25 13 .25-3 .25 4 .25-15 .25 11 .25 1 .25-12 .25 15 .25-12 .25 9 .25-8 .25 12 .25 5 .25-8 .25 0 .25 7 .25-9 .25 2 .25 4 .25-2 .25 6 .25-2 .25 4 .25-11 .25 6 .25-10 .25 9 .25 4 .25 3 .25-19 .25 5 .25 5 .25-9 .25 8 .25 0 .25-6 .25 0 .25-2 .25 7 .25 6 .25-5 .25 14 .25-22 .25 6 .25 7 .25-9 .25 8 .25 2 .25-3 .25-2 .25 5 .25-3 .25 1 .25-2 .25-7 .25-3 .25 3 .25 3 .25-3 .25 6 .25-4 .25 3 .25-4 .25-5 .25 8 .25-1 .25-7 .25 2 .25 17 .25-31 .25 22 .25-6 .25 0 .25-2 .25-1 .25 15 .25-15 .25 1 .25 6 .25-2 .25-3 .25 0 .25-5 .25 13 .25-11 .25-7 .25 19 .25-1 .25-2 .25-4 .25 9 .25-12 .25-6 .25 13 .25 3 .25-1 .25 8 .25-6 .25-5 .25 0 .25 7 .25-5 .25 0 .25-9 .25 8 .25-5 .25 8 .25-1 .25 3 .25 5 .25-11 .25 8 .25-14 .25 7 .25 3 .25 5 .25-17 .25 4 .25 1 .25-2 .25-5 .25-4 .25 2 .25 6 .25-7 .25 17 .25-3 .25-17 .25 8 .25 10 .25 2 .25-2 .25-13 .25 6 .25 9 .25-6 .25-3 .25 5 .25 3 .25-5 .25 0 .25 5 .25-9 .25-2 .25 10 .25-11 .25 10 .25-6 .25 9 .25-11 .25 13 .25-4 .25-3 .25-2 .25 4 .25-4 .25-2 .25 12 .25-2 .25 3 .25-14 .25-4 .25 2 .25 11 .25 1 .25-15 .25 15 .25-8 .25-5 .25 6 .25 3 .25-5 .25 0 .25-4 .25-3 .25 5 .25-7 .25 12 .25-8 .25 12 .25-15 .25 16 .25-12 .25 0 .25 7 .25 3 .25-5 .25-2 .25 13 .25-9 .25-9 .25 4 .25 11 .25-8 .25 2 .25 7 .25-15 .25 6 .25-6 .25 4 .25 3 .25-11 .25 9 .25 0 .25 4 .25-9 .25-3 .25 9 .25-9 .25 7 .25 3 .25-8 .25 4 .25-5 .25-10 .25 8 .25-4 .25 12 .25-6 .25 5 .25 0 .25 6 .25-8 .25-1 .25 5 .25 6 .25-9 .25 3 .25-3 .25-2 .25-4 .25 9 .25 0 .25 1 .25 13 .25-11 .25 4 .25-3 .25 9 .25-8 .25 12 .25-11 .25 5 .25 1 .25-7 .25 5 .25-4 .25-5 .25 0 .25 4 .25 8 .25-13 .25 6 .25-7 .25 5 .25-8 .25 3 .25 5 .25-4 .25 4 .25 7 .25-6 .25-3 .25-2 .25 4 .25 9 .25-7 .25-1 .25 4 .25 0 .25 1 .25-8 .25-4 .25-5 .25 5 .25 1 .25 5 .25-2 .25-5 .25 8 .25-12 .25 1 .25-1 .25 1 .25 4 .25-3 .25 0 .25 12 .25-15 .25 2 .25 5 .25 4 .25 1 .25-3 .25 0 .25 2 .25 6 .25-8 .25-7 .25 15 .25-7 .25 6 .25 8 .25-6 .25 9 .25-19 .25 10 .25 0 .25 2 .25-8 .25 4 .25 0 .25-1 .25-8 .25-2 .25 12 .25-1 .25-2 .25 3 .25 2 .25-12 .25 10 .25 3 .25-3 .25-3 .25 1 .25-12 .25 4 .25 9 .25 2 .25-5 .25-5 .25 2 .25 6 .25 6 .25-6 .25-7 .25 6 .25-1 .25 11 .25-10 .25-3 .25-1 .25-7 .25 1 .25 3 .25-2 .25 5 .25-1 .25 4 .25 3 .25-8 .25-2 .25-9 .25 12 .25 2 .25-8 .25 2 .25-1 .25 9 .25-2 .25 4 .25-13 .25 21 .25-19 .25-1 .25 7 .25-4 .25 13 .25-12 .25-2 .25 9 .25 2 .25-11 .25 2 .25 1 .25 1 .25 10 .25-2 .25-1 .25 1 .25-6 .25 4 .25-5 .25-4 .25 13 .25-19 .25 10 .25-4 .25-6 .25 7 .25 2 .25 3 .25-7 .25 9 .25-2 .25 3 .25-14 .25 8 .25 0 .25 7 .25-7 .25 2 .25-4 .25 0 .25 2 .25 10 .25-11 .25-8 .25 14 .25-4 .25 5 .25-1 .25-5 .25-1 .25-1 .25 2 .25-5 .25 5 .25 6 .25-11 .25 0 .25 0 .25 6 .25 1 .25 4 .25-3 .25-3 .25 3 .25-9 .25 10 .25-1 .25 11 .25-4 .25-12 .25 2 .25 8 .25-16 .25 6 .25 7 .25 1 .25-3 .25 5 .25-7 .25 2 .25-2 .25-5 .25 7 .25-3 .25 3 .25-14 .25 15 .25-3 .25-1 .25 4 .25-3 .25 7 .25 2 .25-3 .25 0 .25-4 .25-2 .25-8 .25 4 .25 8 .25-3 .25-8 .25 3 .25 5 .25-7 .25 9 .25-12 .25 8 .25 0 .25-2 .25 1 .25 2 .25-15 .25 15 .25 4 .25-3 .25 4 .25-13 .25 7 .25 2 .25-3 .25 7 .25-3 .25-6 .25 8 .25 0 .25-7 .25 6 .25-1 .25 0 .25-8 .25 14 .25-3 .25-3 .25 2 .25 0 .25-3 .25-2 .25 4 .25-3 .25 0 .25-3 .25 4 .25 7 .25-4 .25-1 .25-2 .25 0 .25-6 .25 17 .25-12 .25-5 .25 11 .25-1 .25-4 .25-6 .25 1 .25 16 .25-9 .25-3 .25 14 .25-13 .25-2 .25 8 .25-1 .25 6 .25-17 .25 9 .25-11 .25 11 .25-7 .25 0 .25-2 .25 7 .25 4 .25-10 .25-2 .25-2 .25 5 .25-8 .25 21 .25-17 .25 10 .25-8 .25-7 .25-1 .25 7 .25-1 .25 4 .25-4 .25 19 .25 0 .25-21 .25 13 .25 4 .25-8 .25 1 .25 6 .25-3 .25-10 .25 12 .25-10 .25 11 .25-15 .25-8 .25 11 .25 4 .25-4 .25-3 .25-6 .25 8 .25-13 .25 11 .25-9 .25 2 .25-3 .25 1 .25 8 .25-10 .25 4 .25-4 .25 5 .25-8 .25 3 .25 2 .25 4 .25-10 .25 0 .25 2 .25 4 .1-7 .15 5 .25-4 .25-1 .25-1 .25 5 .25 3 .25-2 .25-6 .25 5 .25 6 .25 0 .25-1 .25 5 .25-9 .25 0 .25 15 .25-6 .25-3 .25-1 .25-9 .25 16 .25-13 .25 1 .25 10 .25 8 .25-9 .25 5 .25-4 .25 5 .25-10 .25 21 .25-16 .25 9 .25-13 .25 20 .25-6 .25 9 .25-14 .25 9 .25-6 .25 0 .25 8 .25-12 .25 8 .25 7 .25-1 .25-4 .25-4 .25-8 .25 14 .25-12 .25 10 .25-8 .25 2 .25 1 .25 3 .25-5 .25 4 .25-3 .25 6 .25-1 .25 1 .25-7 .25 7 .25-2 .25 3 .25-3 .25-6 .25 9 .25-8 .25 5 .25-13 .25 13 .25 1 .25-9 .25 8 .25-6 .25 9 .25-4 .25-10 .25 5 .25-8 .25 8 .25 4 .25 2 .25-6 .25-1 .25 2 .25-4 .25 4 .25 4 .25-5 .25 3 .25-9 .25 1 .25 4 .25 8 .25-6 .25 1 .25-9 .25 1 .25-14 .25 1 .25-11 .25-3 .25-11 .25-9 .25-10 .25-7 .25-3 .06 0 .19 2 .25 5 .25 7 .25 9 .25 10 .25 9 .25 8 .25 5 .25 6 .25-2 .25 16 .25-4 .25 8 .25-5 .25-1 .25 2 .25 1 .25-5 .25 2 .25 12 .25-5 .25-7 .25 5 .25-7 .25 13 .25-13 .25 10 .25-4 .25 0 .25-4 .25 3 .25-3 .25 0 .25 7 .25 11 .25-16 .25 8 .25-6 .25-4 .25 11 .25-4 .25 2 .25-6 .25 0 .25-5 .25 2 .25 11 .25-22 .25 15 .25 6 .25-4 .25 1 .25-6 .25 7 .25 1 .25-6 .25 9 .25-11 .25-10 .25 13 .25 0 .25-3 .25 3 .25 0 .25-7 .25 17 .25-6 .25 15 .25-14 .25 3 .25-10 .25 14 .25-11 .25 8 .25 3 .25-1 .25-9 .25 0 .25 8 .25 2 .25 1 .25-9 .25-1 .25 8 .25-14 .25 3 .25-8 .25-8 .25-4 .25-1 .25-8 .25-6 .25-6 .25-4 .24-1 .01 0 .25 0 .25 5 .25 8 .25 2 .25 9 .25 3 .25 7 .25-2 .25 0 .25 9 .25-4 .25 4 .25-1 .25 6 .25-3 .25-1 .25-5 .25-3 .25 3 .25 8 .25-2 .25-2 .25-6 .25-5 .25 3 .25-8 .25-7 .25-11 .25-9 .25-10 .25-11 .25-11 .25-6 .25-4 .01 1 .24 2 .25 8 .25 10 .25 10 .25 12 .25 9 .25 10 .25 9 .25 4 .25 5 .25-2 .25 11 .25-1 .25 4 .25 2 .25-5 .25 4 .25-7 .25 8 .25-6 .25-3 .25 2 .25-7 .25 4 .25 1 .25 2 .25-1 .25-3 .25 2 .25-10 .25 11 .25 3 .25 1 .25 1 .25-6 .25 0 .25-2 .25 1 .25 3 .25 6 .25-16 .25 5 .25 3 .25-8 .25 5 .25-9 .25 2 .25-6 .25 5 .07-3 .18 4 .25-2 .25 0 .25 3 .25 4 .25 1 .25 1 .25 0 .25 3 .25 5 .25-7 .25 6 .25-9 .25 12 .25-2 .25-4 .25 1 .25-7 .25 10 .25-2 .25-6 .25 6 .25 6 .25-2 .25 1 .25-4 .25 8 .25-4 .25 6 .25 8 .25-22 .25 8 .25 4 .25-4 .25 10 .25-8 .25 11 .25-5 .25-2 .25-2 .25 4 .25-1 .25 5 .25-6 .25 3 .25-3 .25 0 .25-11 .25 9 .25 2 .25-9 .25-1 .25 6 .25 3 .25-11 .25 11 .25 3 .25-6 .25 2 .25 1 .25-6 .25 7 .25-1 .25-10 .25 9 .25 2 .25-11 .25 10 .25-7 .25-6 .25 1 .25 1 .25 7 .25-5 .25 1 .25-5 .25 8 .25-7 .25 4 .25 8 .25 0 .25-6 .25 3 .25 4 .25-3 .25 6 .25 0 .25-8 .25-7 .25 5 .25 8 .25-2 .25-1 .25-1 .25-10 .25 4 .25 3 .25-5 .25 3 .25-10 .25-2 .25 18 .25-7 .25-1 .25 4 .25 4 .25 4 .25-29 .25 15 .25 4 .25-16 .25 1 .25 9 .25 11 .25-5 .25 7 .25-9 .25 5 .25 2 .25-5 .25-2 .25 1 .25-16 .25 19 .25-12 .25 7 .25 9 .25-1 .25-13 .25 14 .25 2 .25-2 .25 3 .25-1 .25-12 .25 8 .25-1 .25-5 .25 6 .25-5 .25 4 .25-5 .25 10 .25 6 .25-15 .25 3 .25 1 .25 2 .25-3 .25-11 .25 15 .25-3 .25-4 .25 5 .25-2 .25 5 .25-3 .25 0 .25 2 .25 0 .25-2 .25 6 .25-5 .25-6 .25 13 .25-9 .25 7 .25-14 .25 8 .25 6 .25-2 .25-7 .25-4 .25 0 .25 3 .25-5 .25 2 .25-1 .25 0 .25 6 .25-10 .25 10 .25 3 .25-9 .25 0 .25 5 .25-1 .25 6 .25-16 .25 10 .25 8 .25-7 .25 9 .25 2 .25-15 .25 12 .25-6 .25-2 .25-2 .25 0 .25-3 .25 4 .25 6 .25 1 .25-9 .25 5 .25-1 .25-16 .25 17 .25-12 .25 0 .25 10 .25 4 .25-15 .25 1 .25-1 .25 2 .25 1 .25-3 .25-4 .25 19 .25-12 .25-1 .25 9 .25-6 .25 8 .25-2 .25 2 .25-8 .25 6 .25-12 .25 1 .25 8 .25-2 .25 9 .25-9 .25-8 .25 10 .25-2 .25 2 .25-7 .25 2 .25 4 .25 4 .25-2 .25 2 .25-12 .25 8 .25 2 .25 5 .25-3 .25-3 .25 2 .25 0 .25-7 .25 9 .25 4 .25 0 .25-14 .25 10 .25-8 .25 13 .25-3 .25 1 .25-8 .25-7 .25 5 .25 4 .25-6 .25 3 .25 15 .25-17 .25 11 .25-13 .25 11 .25 3 .25-2 .25 4 .25 3 .25-17 .25 9 .25 1 .25-1 .25 6 .25-7 .25 5 .25 0 .25-6 .25 3 .25-7 .25 6 .25-1 .25-1 .25-2 .25 8 .25-6 .25 13 .25-5 .25-3 .25-7 .25 8 .25-4 .25-1 .25-6 .25 9 .25-2 .25-4 .25-1 .25 1 .25-5 .25 3 .25 11 .25-12 .25 16 .25-20 .25 13 .25 0 .25 0 .25-3 .25-12 .25 15 .25-1 .25-5 .25-13 .25 19 .25-11 .25 4 .25 9 .25 1 .25-5 .25-5 .25 13 .25-3 .25-7 .25-5 .25 7 .25-9 .25 17 .25-7 .25-5 .25 4 .25-11 .25 9 .25-3 .25-5 .25 5 .25 6 .25-9 .25 7 .25-7 .25 10 .25-11 .25 14 .25-1 .25 1 .25 5 .25-9 .25 0 .25 2 .25-6 .25-8 .25 4 .25-1 .25 8 .25-5 .25 2 .25 5 .25-2 .25 10 .25-12 .25-4 .25 12 .25-10 .25 2 .25 6 .25-4 .25 3 .25-7 .25 2 .25 5 .25-6 .25 1 .25 2 .25 9 .25-1 .25-7 .25-1 .25-4 .25 10 .25-5 .25 3 .25-13 .25 11 .25-3 .25 3 .25 1 .25-5 .25-2 .25 5 .25-10 .25 14 .25-6 .25-8 .25 12 .25-2 .25 2 .25-4 .25-4 .25-4 .25-7 .25 2 .25-6 .25-10 .25-7 .25-12 .25-10 .25-13 .25-13 .25-11 .25-6 .17-2 .08 0 .25 5 .25 10 .25 12 .25 11 .25 12 .25 15 .25 5 .25 10 .25 3 .25 6 .25 13 .25-18 .25 13 .25-1 .25 0 .25-4 .25 0 .25 13 .25-4 .25-9 .25 7 .25-6 .25 23 .25-13 .25-11 .25 16 .25-1 .25-1 .25-1 .25-3 .25 3 .25-10 .25 19 .25 4 .25-8 .25 1 .25-11 .25 5 .25-5 .25 0 .25 10 .25 4 .25-8 .25 13 .25-10 .25-17 .25 10 .25 9 .25-7 .25 5 .25-16 .25 16 .25-14 .25 8 .25 8 .25-12 .25-3 .25 4 .25-10 .25-2 .25 6 .25-11 .25 0 .25 9 .02-9 .23 6 .25 4 .25-1 .25-2 .25 11 .25-6 .25 17 .25 2 .25-16 .25 9 .25-6 .25 5 .25-4 .25-4 .25 8 .25-13 .25 10 .25-2 .25-4 .25 9 .25-4 .25-2 .25 1 .25 0 .25 7 .25-6 .25-14 .25 0 .25 11 .25-1 .25 6 .25-6 .25 3 .25 11 .25-15 .25 12 .25-6 .25 7 .25-2 .25-5 .25 5 .25-5 .25-7 .25 9 .25-1 .25-3 .25 1 .25-4 .25 4 .25-4 .25-7 .25 7 .25 9 .25-4 .25 4 .25-9 .25-2 .25-3 .25 7 .25 6 .25-1 .25 0 .25-6 .25 4 .25-4 .25 9 .25-1 .25-7 .25 4 .25-13 .25 16 .25-9 .25 2 .25 4 .25 0 .25-8 .25 12 .25 2 .25-4 .25-1 .25-7 .25 8 .25-12 .25-1 .25 7 .25 1 .25-5 .25 14 .25-17 .25-2 .25 9 .25 11 .25-4 .25-2 .25-1 .25 2 .25-2 .25-1 .25-2 .25-8 .25 14 .25-8 .25 4 .25 0 .25 3 .25-10 .25 9 .25 0 .25-4 .25 0 .25 1 .25-6 .25 4 .25-4 .25 13 .25-10 .25-2 .25 7 .25 2 .25-4 .25-3 .25 7 .25 3 .25-13 .25 14 .25-14 .25 13 .25-6 .25 2 .25 5 .25 4 .25 3 .25-4 .25-4 .25-11 .25 4 .25 3 .25-4 .25 6 .25-5 .25 11 .25-11 .25-6 .25 4 .25-2 .25 8 .25 3 .25-2 .25-1 .25-9 .25-3 .25 2 .25 4 .25-2 .25 3 .25 4 .25-5 .25 9 .25-13 .25 7 .25-4 .25 6 .25-6 .25-3 .25 3 .25-5 .25-1 .25 10 .25-7 .25 10 .25 7 .25-16 .25 7 .25-5 .25-9 .25 10 .25 8 .25-14 .25 5 .25 0 .25-6 .25 9 .25-2 .25 4 .25-3 .25-7 .25 8 .25 3 .25-4 .25 5 .25 0 .25-14 .25 15 .25-14 .25 4 .25 7 .25-4 .25 1 .25 11 .25-12 .25 13 .25 4 .25-2 .25-14 .25-2 .25 9 .25 11 .25-13 .25-2 .25 2 .25 4 .25 2 .25-7 .25-2 .25 3 .25-3 .25-4 .25-7 .25 9 .25-4 .25 2 .25 0 .25-3 .25 8 .25 3 .25-3 .25-6 .25 5 .25 3 .25-4 .25 4 .25-12 .25 7 .25 8 .25-2 .25-7 .25 1 .25 11 .25-6 .25-10 .25 5 .25-4 .25-1 .25-3 .25 10 .25 9 .25-7 .25-12 .25 11 .25-11 .25 10 .25 4 .25 3 .25-7 .25 1 .25-2 .25-1 .25 9 .25-14 .25-4 .25 18 .25 3 .25-21 .25 13 .25-1 .25-6 .25-3 .25 6 .25-3 .25 7 .25-8 .25 10 .25-10 .25 12 .25-4 .25 2 .25-9 .25 1 .25 1 .25 7 .25-10 .25-1 .25 3 .25 2 .25-3 .25-2 .25-7 .25 1 .25-4 .25 6 .25-5 .18 2 .07-6 .25 5 .25 3 .25-3 .25 4 .25 3 .25 5 .25 2 .25-7 .25 10 .25 0 .25 1 .25-6 .25 4 .25 7 .25 0 .25-10 .25 12 .25-11 .25-2 .25 10 .25-4 .25 11 .25-14 .25 3 .25 3 .25-2 .25-3 .25 2 .25 1 .25 0 .25 0 .25-8 .25 13 .25-9 .25 2 .25-3 .25 2 .25 6 .25 1 .25-5 .25-2 .25-4 .25 1 .25 3 .25-2 .25-5 .25 5 .25-6 .25 17 .25-10 .25-5 .25 5 .25-6 .25 2 .25 10 .25-1 .25-14 .25 1 .25 4 .25 15 .25-11 .25 1 .25-3 .25 10 .25-2 .25-14 .25 5 .25-5 .25 4 .25 1 .25-2 .25 3 .25 7 .25 2 .25-6 .25 4 .25-12 .25 15 .25 4 .25-14 .25 4 .25-2 .25-14 .25 17 .25-3 .25-11 .25 6 .25 9 .25-3 .25-11 .25 5 .25 0 .25 5 .25-5 .25 4 .25-1 .25-7 .25 10 .25-1 .25-5 .25 7 .25 8 .25-21 .25 9 .25 3 .25-4 .25-4 .25 15 .25-14 .25 2 .25-2 .25 10 .25-17 .25 7 .25 3 .25 4 .25 1 .25 4 .25-6 .25-3 .25 3 .25-4 .25 2 .25 0 .25 4 .25 3 .25-10 .25 2 .25 4 .25 0 .25-1 .25 5 .25-5 .25-8 .25 17 .25-15 .25 16 .25-8 .25 0 .25-10 .25 9 .25-3 .25-4 .25 8 .25 1 .25 2 .25-13 .25 3 .25 12 .25-5 .25 2 .25-7 .25 5 .25 3 .25-11 .25 3 .25 5 .25 6 .25-10 .25 6 .25-8 .25-1" fill="none" stroke="#ff0000" stroke-width="2.2" stroke-linejoin="round"/>
<path d="M92.7 324l.25-27 .25 18 .25-6 .25 1 .25 1 .25-10 .25 10 .25-4 .25 23 .25-17 .25-3 .25 0 .25-2 .25-3 .25 4 .25 5 .25-4 .25 7 .25-6 .25 1 .25 10 .25-6 .25-6 .25 2 .25 4 .25 8 .25-12 .25 0 .25 7 .25-11 .25 3 .25 7 .25-1 .25-3 .25 4 .25-20 .25 23 .25-11 .25-4 .25 11 .25 3 .25-7 .25-4 .25 6 .25-1 .25 8 .25-5 .25-4 .25 5 .25-8 .25-5 .25 8 .25 0 .25-5 .25-3 .25 6 .25-16 .25 19 .25-1 .25-11 .25 10 .25-6 .25 11 .25-16 .25 7 .25 10 .25 2 .25-19 .25 10 .25 5 .25-5 .25 12 .25-16 .25 9 .25-8 .25 14 .25-8 .25-2 .25-8 .25 20 .25-6 .25 0 .25 3 .25-5 .25-6 .25-1 .25 0 .25 12 .25-16 .25 5 .25 1 .25 3 .25 2 .25-10 .25-3 .25 10 .25 8 .25-3 .25-3 .25-3 .25 4 .25-3 .25 6 .25-10 .25 6 .25-2 .25 4 .25-2 .25 14 .25-6 .25 0 .25-20 .25 10 .25-1 .25 7 .25-16 .25 20 .25 0 .25-13 .25 2 .25 1 .25 6 .25 3 .25 8 .25-13 .25 6 .25-4 .25 9 .25-6 .25 3 .25-14 .25 5 .25-4 .25 13 .25-5 .25-6 .25-1 .25 6 .25-8 .25-1 .25 7 .25 12 .25-17 .25-2 .25-4 .25-1 .25 10 .25 2 .25-5 .25 2 .25-1 .25 0 .25-10 .25 6 .25 3 .25-5 .25 2 .25-3 .25 3 .25 6 .25-8 .25 1 .25 5 .25-2 .25 6 .25-23 .25 17 .25-8 .25 3 .25 4 .25 1 .25-1 .25-5 .25 9 .25-11 .25 1 .25 5 .25-7 .25 16 .25-6 .25 7 .25-12 .25-2 .25 4 .25 4 .25-7 .25 5 .25-2 .25 10 .25-13 .25 10 .25-9 .25-2 .25 2 .25-3 .25 8 .25 6 .25-5 .25 3 .25 6 .25-8 .25 0 .25-3 .25-8 .25 14 .25-15 .25 14 .25-4 .25 6 .25-7 .25-5 .25 7 .25-5 .25 2 .25 1 .25-1 .25 0 .25-3 .25 4 .25-11 .25 12 .25-5 .25 13 .25 1 .25-18 .25 12 .25-2 .25-6 .25 9 .25-6 .25-8 .25 8 .25 0 .25 1 .25-8 .25 10 .25 1 .25-11 .25 2 .25 2 .25-3 .25 11 .25-10 .25-7 .25 0 .25 3 .05 10 .2-11 .25 2 .25 2 .25-2 .25 13 .25-14 .25 7 .25-3 .25 3 .25-10 .25 18 .25-11 .25 1 .25-5 .25 2 .25 8 .25 3 .25-1 .25 4 .25-3 .25-3 .25 6 .25-1 .25-3 .25 5 .25 4 .25-5 .25-3 .25 6 .25 7 .25-12 .25 1 .25-1 .25 8 .25-19 .25 13 .25 4 .25-12 .25 13 .25-5 .25-7 .25 5 .25-10 .25 5 .25 14 .25-16 .25 16 .25-11 .25 5 .25-6 .25-13 .25 9 .25 4 .25-9 .25-1 .25 9 .25-6 .25-6 .25 6 .25 9 .25-8 .25 8 .25 4 .25-9 .25-6 .25-1 .25 7 .25 5 .25-3 .25 1 .25-5 .25 4 .25-4 .25 1 .25-6 .25-1 .25 7 .25-3 .25 1 .25 10 .25-4 .25 18 .25-11 .25-8 .25 9 .25-3 .25-5 .25 10 .25-11 .25-13 .25 22 .25-9 .25 12 .25-13 .25-3 .25 15 .25-16 .25 7 .25 7 .25-8 .25-2 .25 1 .25 5 .25-10 .25 8 .25 0 .25 10 .25-15 .25-3 .25 9 .25-6 .25 4 .25-1 .25 6 .25-11 .25 4 .25-14 .25 10 .25 14 .25-13 .25 0 .25-3 .25 11 .25-3 .25-8 .25 10 .25-3 .25 3 .25-9 .25 14 .25-8 .25-4 .25-2 .25 1 .25 6 .25-6 .25 8 .25-3 .25 5 .25-3 .25-5 .25-10 .25 13 .25 2 .25-3 .25 2 .25-6 .25 0 .25-4 .25 13 .25-7 .25-5 .25-5 .25 6 .25 9 .25-7 .25-7 .25 12 .25-1 .25-2 .25-1 .25 2 .25-3 .25 1 .25-8 .25 14 .25-7 .25 11 .25-23 .25 16 .25 2 .25-7 .25 5 .25 1 .25-1 .25-6 .25 2 .25 7 .25 1 .25-7 .25 0 .25 1 .25 5 .25-12 .25-2 .25 9 .25-7 .25 3 .25 4 .25 3 .25-9 .25 11 .25-15 .25 13 .25-12 .25 2 .25 11 .25-6 .25-3 .25 2 .25 6 .25-4 .25 1 .25 6 .25-11 .25 2 .25-1 .25 10 .25-2 .25 2 .25-8 .25-2 .25 6 .25-8 .25 7 .25-1 .25-9 .25 4 .25-1 .25 11 .25 4 .25-15 .25 0 .25-13 .25 14 .25-1 .25-6 .25 10 .25-13 .25 8 .25 3 .25-8 .25 13 .25 2 .25-14 .25 0 .25 13 .25-4 .25-6 .25 5 .25 2 .25 0 .25 5 .25-2 .25 8 .25-3 .25-4 .25 2 .25 2 .25-4 .25-11 .25 12 .25-5 .25 9 .25-9 .25 2 .25-1 .25 7 .25-9 .25-3 .25 3 .25-5 .25 4 .25-1 .25 1 .25 10 .25-13 .25 4 .25-1 .25 6 .25-10 .25 4 .25 5 .25 4 .25-3 .25-2 .25-1 .25 8 .25 6 .25-6 .25-1 .25 2 .25-8 .25 3 .25 1 .25 3 .25-2 .25-7 .25 14 .25 4 .25-12 .25 4 .25 0 .25 3 .25-14 .25 18 .25-12 .25 10 .25-7 .25-3 .25 1 .25 6 .25-10 .25 3 .25-1 .25-7 .25 17 .25-4 .25-4 .25 7 .25-13 .25 5 .25 10 .25-5 .25-19 .25-5 .25 11 .25 12 .25-9 .25 2 .25 4 .25-8 .25 6 .25 4 .25-2 .25 0 .25-6 .25 7 .25-5 .25 10 .25 7 .25-19 .25-8 .25 10 .25 5 .25 3 .25 1 .25-11 .25 0 .25 12 .25-13 .25 13 .25-7 .25 6 .25 0 .25 1 .25 1 .25-10 .25 7 .25-1 .25 2 .25 5 .25-9 .25-3 .25 0 .25 2 .25 6 .25-9 .25 11 .25-6 .25-3 .25-7 .25 9 .25 2 .25-14 .25 17 .25 2 .25-7 .25 0 .25 12 .25-7 .25-13 .25 6 .25-1 .25 0 .25-12 .25 18 .25-8 .25 5 .25-1 .25 6 .25-7 .25-2 .25 7 .25 5 .25-11 .25 10 .25-8 .25-5 .25 11 .25-14 .25 10 .25-9 .25 5 .25-9 .25 2 .25 11 .25-5 .25 0 .25-3 .25 6 .25-11 .25 2 .25 6 .25-4 .25 1 .25 3 .25 0 .25-1 .25 11 .25-4 .25 1 .25-8 .25-3 .25-5 .25 7 .25-10 .25 9 .25 8 .25 6 .25-3 .25-10 .25 8 .25-7 .25 10 .25-6 .25 6 .25 10 .25-10 .25 8 .25-12 .25-4 .25 9 .25 2 .25-14 .25 4 .25-10 .25 7 .25 6 .25-6 .25-3 .25-5 .25 11 .25 2 .25-1 .25-2 .25-8 .25 18 .25-11 .25 0 .25 5 .25-16 .25 12 .25 0 .25 3 .25 5 .25-5 .25-13 .25 9 .25 3 .25-1 .25-8 .25-2 .25 13 .25-2 .25-2 .25-10 .25 21 .25-27 .25 14 .25 15 .25-13 .25 2 .25-8 .25 14 .25-15 .25 9 .25-1 .25-7 .25 11 .25-13 .25 4 .25 3 .25-2 .25 5 .25 2 .25-7 .25-1 .25 0 .25 1 .25 6 .25-6 .25 4 .25-4 .25-4 .25 9 .25-11 .25 5 .25 8 .25-15 .25 6 .25-9 .25 6 .25-6 .25 6 .25-1 .25 4 .25 9 .25-7 .25 2 .25-4 .25-1 .25-3 .25-5 .25 11 .25 9 .25-6 .25-6 .25 13 .25-12 .25-1 .25-4 .25 1 .25 3 .25 11 .25-13 .25-6 .25-2 .25-3 .25-10 .25-3 .25-9 .25-11 .25-13 .25-13 .25-11 .25-7 .25-3 .01-1 .24 3 .25 8 .25 11 .25 12 .25 12 .25 12 .25 9 .25 8 .25 0 .25-1 .25 11 .25-2 .25 11 .25 3 .25-2 .25-3 .25 2 .25 6 .25-11 .25 10 .25-1 .25-3 .25 7 .25-12 .25 10 .25-11 .25 2 .25-2 .25 10 .25-8 .25 6 .25-6 .25 13 .25 5 .25-8 .25 9 .25-6 .25 10 .25-11 .25-9 .25 18 .25-9 .25-4 .25 2 .25-6 .25 8 .25-6 .25 12 .25-7 .25-14 .25-2 .25 0 .25-9 .25 2 .25-4 .25-4 .21 0 .04 1 .25 3 .25 3 .25-2 .25 6 .25-4 .25 7 .25-5 .25 10 .25-9 .25 2 .25 6 .25 4 .25-11 .25 6 .25 5 .25 1 .25-5 .25 6 .25-1 .25 10 .25-4 .25-11 .25-5 .25 14 .25 6 .25-5 .25 4 .25-8 .25-5 .25 12 .25-4 .25 3 .25-12 .25 8 .25-4 .25 8 .25-8 .25 0 .25 0 .25 11 .25-7 .25-4 .25-1 .25 0 .25 15 .25-19 .25 6 .25 9 .25 3 .25-7 .25 6 .25 0 .25 1 .25-5 .25 9 .25-8 .25 8 .25-15 .25 12 .25-13 .25-2 .25 12 .25-8 .25 7 .25-8 .25 15 .25-9 .25-7 .25 8 .25 4 .25-10 .25 7 .25 9 .25-7 .25-5 .25-4 .25 5 .25-12 .25-9 .25 11 .25-4 .25 13 .25-10 .25-7 .25-3 .25 4 .25-8 .25-4 .25-6 .25-9 .25-12 .25-16 .25-19 .25-21 .25-23 .25-21 .25-17 .25-8 .08-1 .17 3 .25 11 .25 19 .25 22 .25 22 .25 20 .25 19 .25 15 .25 12 .25 7 .25 6 .25 5 .25 0 .25 1 .25 14 .25-7 .25 3 .25-3 .25 11 .25 3 .25-10 .25 5 .25-7 .25 15 .25-4 .25-10 .25 12 .25-4 .25 0 .25 0 .25-5 .25 1 .25 6 .25-3 .25-5 .25 17 .25-13 .25-1 .25-1 .25 8 .25 2 .25-4 .25 3 .25-13 .25 6 .25-1 .25 3 .25 2 .25-15 .25 25 .25-22 .25 3 .25-1 .25-5 .25-8 .25-12 .25-3 .25-3 .25-8 .25-4 .23-2 .02 3 .25 1 .25 2 .25 7 .25 6 .25 3 .25 7 .25 6 .25 5 .25 6 .25-3 .25-1 .25 7 .25-4 .25-2 .25 14 .25-7 .25 4 .25 3 .25-9 .25 11 .25-1 .25-3 .25 4 .25-7 .25-8 .25 11 .25-4 .25 10 .25-4 .25-4 .25 2 .25 7 .25-1 .25-5 .25 0 .25-5 .25 0 .25 4 .25-4 .25 2 .25-9 .25-3 .25 0 .25 7 .25 10 .25-1 .25-13 .25-3 .25 14 .25-2 .25-10 .25 13 .25-5 .25 6 .25-6 .25 3 .25-4 .25-7 .25 3 .25-3 .25 7 .25-10 .25-3 .25 8 .25-1 .25-2 .25-5 .25-12 .25-5 .25-9 .25-12 .25-18 .25-20 .25-25 .25-28 .25-31 .25-29 .25-24 .25-13 .12-2 .13 2 .25 15 .25 24 .25 30 .25 30 .25 28 .25 25 .25 20 .25 17 .25 14 .25 8 .25 7 .25 7 .25 3 .25-7 .25 3 .25 12 .25-3 .25-11 .25 4 .25 8 .25-4 .25 8 .25-1 .25 3 .25-9 .25 10 .25 8 .25-15 .25 12 .25-1 .25-2 .25-4 .25-7 .25 2 .25 9 .25 1 .25 1 .25-1 .25-1 .25-8 .25-4 .25 8 .25 2 .25-2 .25-10 .25 6 .25-6 .25 10 .25-7 .25 5 .25 2 .25-1 .25 7 .25-14 .25-7 .25 18 .25 3 .25 0 .25-7 .25 1 .25-3 .25-9 .25 3 .25 4 .25-8 .25 10 .25-19 .25 2 .25 3 .25-9 .25-3 .11-1 .14 2 .25 9 .25-2 .25 3 .25-2 .25 8 .25-1 .25-4 .25 3 .25 5 .25 6 .25-6 .25 3 .25 9 .25-16 .25-3 .25 12 .25-3 .25-4 .25 1 .25-4 .25 3 .25-6 .25 4 .25-11 .25 1 .24 4 .01-3 .25 6 .25-3 .25-1 .25 5 .25-2 .25-4 .25 3 .25 3 .25 2 .25 4 .25 5 .25-2 .25 7 .25-2 .25-9 .25 10 .25-3 .25-10 .25 4 .25 2 .25-6 .25 1 .25-5 .25-2 .25-5 .25 1 .11-2 .14 3 .25-7 .25 10 .25 6 .25 0 .25 0 .25 5 .25-5 .25 2 .25 4 .25 2 .25 8 .25-10 .25 12 .25-14 .25 5 .25 5 .25 7 .25-10 .25-8 .25 15 .25-2 .25-6 .25 0 .25 2 .25 5 .25 4 .25-13 .25 22 .25-13 .25-2 .25 6 .25-3 .25 13 .25-8 .25-8 .25-1 .25-1 .25 0 .25 6 .25-8 .25 13 .25-10 .25-1 .25 6 .25-17 .25 6 .25 9 .25-3 .25 0 .25 2 .25-6 .25 2 .25-7 .25-3 .25 18 .25-13 .25 1 .25 12 .25-2 .25-10 .25 1 .25 2 .25-5 .25 10 .25-2 .25 0 .25 4 .25 0 .25 7 .25-2 .25-18 .25 15 .25-12 .25-2 .25 12 .25-9 .25 2 .25 7 .25-10 .25-2 .25 5 .25 3 .25-6 .25-11 .25 0 .25-4 .25-3 .25-11 .25-11 .25-11 .25-13 .25-11 .25-8 .25-5 .04 1 .21 2 .25 7 .25 11 .25 12 .25 12 .25 10 .25 11 .25 11 .25 6 .25-1 .25 8 .25 8 .25-5 .25 3 .25 13 .25-14 .25 0 .25-4 .25 2 .25 12 .25-9 .25-6 .25 1 .25 6 .25 4 .25-8 .25 8 .25-6 .25 5 .25 1 .25 1 .25-6 .25 2 .25 5 .25-11 .25 9 .25 2 .25 3 .25-7 .25-1 .25 2 .25-6 .25 3 .25 3 .25-2 .25-8 .25 4 .25-11 .25 17 .25-9 .25 5 .25-8 .25 5 .25 3 .25 4 .25-14 .25 13 .25-5 .25-3 .25 8 .25-4 .25 0 .25-2 .25 6 .25-1 .25-1 .25-5 .25 3 .25 5 .25 5 .25-8 .25 8 .25-9 .25-7 .25 10 .25-9 .25 7 .25 4 .25-8 .25 2 .25 14 .25-13 .25 1 .25 3 .25-5 .25 0 .25 2 .25-16 .25 22 .25-14 .25-1 .25 10 .25-4 .25-7 .25 8 .25-9 .25 2 .25-5 .25 3 .25 6 .25-3 .25-1 .25 1 .25-6 .25-3 .25 1 .05 7 .2-6 .25 2 .25 0 .25 4 .25 2 .25 0 .25 0 .25-2 .25 1 .25 8 .25 2 .25 1 .25-4 .25-5 .25 8 .25 0 .25-12 .25 13 .25-1 .25 6 .25-16 .25-1 .25 12 .25-14 .25 6 .25-2 .25 1 .25-5 .25 10 .25 8 .25-3 .25 0 .25-4 .25 11 .25-5 .25 3 .25-15 .25 11 .25-8 .25 9 .25-1 .25-7 .25 7 .25 6 .25-4 .25 1 .25-9 .25 1 .25-2 .25 7 .25 5 .25-4 .25-3 .25-6 .25 9 .25-4 .25-10 .25 1 .25 8 .25-4 .25 15 .25-9 .25-7 .25 4 .25 12 .25-15 .25 10 .25-2 .25 6 .25-6 .25-5 .25 6 .25-3 .25 6 .25-6 .25 12 .25-12 .25 3 .25-6 .25 5 .25-1 .25 1 .25 4 .25-9 .25-2 .25 11 .25-9 .25-3 .25 10 .25-3 .25-20 .25 12 .25 6 .25 0 .25-9 .25 12 .25-15 .25 3 .25 2 .25-1 .25 5 .25 1 .25-6 .25 8 .25-12 .25 3 .25 11 .25-10 .25 6 .25-9 .25 1 .25 1 .25 2 .25-3 .25 2 .25 4 .25 3 .25-6 .25 3 .25 1 .25-11 .25-2 .25 18 .25-1 .25-7 .25 2 .25-7 .25-3 .25 10 .25-10 .25 13 .25-9 .25 4 .25 7 .25-4 .25-13 .25 1 .25-12 .25-5 .25-5 .25-6 .25-9 .25-4 .25-3 .03-1 .22 2 .25 6 .25 5 .25 8 .25 8 .25 4 .25 12 .25 6 .25 6 .25 2 .25-6 .25 1 .25 0 .25 0 .25 1 .25 10 .25 3 .25-12 .25 8 .25-12 .25 5 .25-4 .25-4 .25 10 .25-1 .25-3 .25-1 .25-3 .25 4 .25-3 .25 4 .25-8 .25 8 .25 1 .25 4 .25-1 .25-5 .25-5 .25-7 .25 11 .25 8 .25 1 .25-24 .25 10 .25 2 .25-4 .25 7 .25-1 .25-4 .25 3 .25-9 .25 3 .25 1 .25 10 .25-14 .25 9 .25 6 .25-4 .25 6 .25-7 .25 7 .25 4 .25 9 .25-8 .25 4 .25-7 .25 1 .25 9 .25-6 .25 5 .25-4 .25 8 .25 1 .25-19 .25 16 .25-9 .25 1 .25-4 .25 5 .25-10 .25 2 .25 0 .25 7 .25 3 .25-1 .25-2 .25-5 .25-7 .25 12 .25-1 .25 1 .25 6 .25-10 .25 0 .25-13 .25 17 .25-4 .25-4 .25 7 .25-9 .25 3 .25 15 .25-6 .25 1 .25-1 .25 0 .25-3 .25 13 .25-14 .25 5 .25-6 .25-1 .25-12 .25 3 .25 20 .25 0 .25-11 .25 2 .25 3 .25-9 .25 16 .25-16 .25 1 .25-12 .25 25 .25-8 .25 9 .25-16 .25 8 .25-1 .25 0 .25 11 .25 1 .25-5 .25-11 .25 7 .25 2 .25-4 .25-1 .25 0 .25-9 .25 7 .25 8 .25-15 .25 6 .25 4 .25-13 .25 6 .25-9 .25 4 .25-7 .25-1 .25-3 .25-5 .25-6 .25-10 .25 0 .25-7 .25-3 .05 0 .2 2 .25 2 .25 5 .25 5 .25 8 .25 1 .25 8 .25 3 .25 1 .25 9 .25-4 .25-5 .25 10 .25 0 .25 1 .25 2 .25 13 .25-11 .25 1 .25-4 .25 10 .25-8 .25-5 .25-2 .25 10 .25 1 .25-14 .25 5 .25 8 .25 2 .25-13 .25 5 .25 8 .25-8 .25 1 .25 0 .25-4 .25 8 .25 1 .25-9 .25 9 .25 5 .25-5 .25 4 .25-8 .25 11 .25-13 .25 15 .25-13 .25-2 .25-1 .25 3 .25-1 .25-1 .25 3 .25 6 .25 2 .25-7 .25 10 .25-13 .25 0 .25 0 .25 10 .25-13 .25 1 .25 16 .25 2 .25-3 .25-16 .25 8 .25 4 .25-4 .25-11 .25 7 .25-8 .25 3 .25 19 .25-9 .25-13 .25 0 .25 11 .25-7 .25 6 .25-7 .25 2 .25 2 .25-8 .25-5 .25 4 .25 2 .25 3 .25 1 .25 0 .25 3 .25-8 .25 14 .25 4 .25-9 .25 0 .25 7 .25-3 .25-2 .25-2 .25-3 .25-2 .25 11 .25 2 .25-13 .25 5 .25 2 .25-5 .25-2 .25 1 .25-9 .25 10 .25-1 .25 14 .25-7 .25-8 .25 2 .25 10 .25 0 .25-8 .25-2 .25-7 .25 6 .25 1 .25-3 .25 14 .25-21 .25 9 .25 3 .25 0 .25 6 .25-18 .25 3 .25 5 .25 0 .25-3 .25-2 .25 11 .25-12 .25 3 .25 13 .25 3 .25-4 .25-9 .25 0 .25 1 .25-1 .25 4 .25 10 .25-6 .25-6 .25-1 .25-3 .25 13 .25-19 .25 13 .25-11 .25 2 .25-3 .25 14 .25-6 .25 16 .25-22 .25 0 .25 10 .25 0 .25-4 .25-10 .25 20 .25-5 .25-1 .25-5 .25 7 .25-8 .25 4 .25-2 .25 8 .25-10 .25 1 .25 8 .25-5 .25-1 .25-1 .25 8 .25-9 .25 7 .25 9 .25-8 .25-7 .25-2 .25 9 .25-8 .25-2 .25 6 .25-2 .25 12 .25-13 .25 18 .25-13 .25 5 .25 3 .25-2 .25 3 .25-10 .25-7 .25 11 .25-9 .25 7 .25 8 .25-7 .25-3 .25-4 .25 4 .25 1 .25-9 .25 11 .25-9 .25 8 .25-4 .25 8 .25-1 .25-5 .25-1 .25 3 .25 5 .25-2 .25-5 .25 1 .25 7 .25-18 .25 12 .25-8 .25 14 .25-11 .25 3 .25-6 .25 7 .25 5 .25 6 .25-17 .25 5 .25 20 .25-11 .25-6 .25 3 .25-18 .25 25 .25-8 .25-9 .25 15 .25-11 .25-2 .25 10 .25-1 .25-5 .25 3 .25-8 .25 0 .25 13 .25 2 .25-6 .25 0 .25-5 .25 0 .25-5 .25 15 .25-14 .25 5 .25-3 .25-8 .25 19 .25-14 .25-2 .25 5 .25-5 .25 5 .25-6 .25 9 .25-2 .25-9 .25 14 .25-5 .25-7 .25 8 .25 1 .25 8 .25-16 .25 10 .25-6 .25 5 .25-5 .25 1 .25 3 .25-9 .25-5 .25 12 .25-2 .25 3 .25 4 .25-5 .25 9 .25-8 .25 1 .25 5 .25-2 .25-4 .25 2 .25-6 .25 1 .25 4 .25 4 .25-7 .25 8 .25 7 .25 1 .25-12 .25 7 .25-2 .25 1 .25 1 .25-1 .25 2 .25-4 .25-2 .25 3 .25 1 .25 4 .25-5 .25 1 .25 4 .25-14 .25 3 .25 5 .25-4 .25-6 .25 11 .25-7 .25-5 .25 16 .25-19 .25 7 .25-4 .25 4 .25 3 .25-9 .25 4 .25-1 .25-5 .25 12 .25-6 .25-3 .25-2 .25 1 .25 3 .25-3 .25 10 .25-22 .25 2 .25 12 .25-10 .25 11 .25-3 .25 7 .25-1 .25 6 .25-2 .25 2 .25-4 .25 3 .25-3 .25-6 .25-3 .25 0 .25 10 .25-17 .25 15 .25-5 .25 9 .25-3 .25-6 .25 4 .25-13 .25 15 .25 1 .25-14 .25 15 .25-6 .25 2 .25-10 .25 12 .25-1 .25-4 .25-5 .25 10 .25 2 .25-5 .25 4 .25-9 .25 5 .25 2 .25-1 .25 16 .25-13 .25-5 .25 8 .25-10 .25 9 .25 3 .25-7 .25 1 .25-4 .25 7 .25-5 .25 14 .25-7 .25-5 .25-7 .25 19 .25-4 .25-6 .25-2 .25-1 .25-4 .25 13 .25-10 .25-10 .25 4 .25-12 .25 19 .25 1 .25 5 .25 2 .25-16 .25 7 .25 4 .25-1 .25-7 .25 9 .25-1 .25 5 .25-7 .25-1 .25-1 .25 1 .25-2 .25 2 .25 5 .25 0 .25 4 .25-2 .25-3 .25-11 .25 9 .25 3 .25-15 .25 0 .25 1 .25-1 .25 3 .25-4 .25 8 .25-10 .25 6 .25-2 .25-3 .25 12 .25-5 .25 3 .25-5 .25 7 .25 0 .25-4 .25-9 .25 15 .25 0 .25-3 .25 1 .25 0 .25 1 .25-7 .25 6 .25 2 .25-5 .25-2 .25 17 .25-7 .25-5 .25-2 .25-12 .25 7 .25 7 .25 8 .25-19 .25 7 .25 15 .25-7 .25-2 .25 4 .25-8 .25 0 .25 5 .25 0 .25-11 .25 14 .25-19 .25 5 .25 20 .25-21 .25 6 .25-11 .25 3 .25-4 .25 0 .25 4 .25 4 .25-4 .03 3 .22-8 .25 11 .25-2 .25 7 .25-6 .25 3 .25 11 .25-3 .25-1 .25-4 .25 4 .25 3 .25 1 .25-7 .25 1 .25 4 .25-10 .25 12 .25-6 .25-1 .25-14 .25 5 .25 3 .25 2 .25-3 .25 9 .25-2 .25-2 .25-10 .25 20 .25-9 .25 5 .25-8 .25 4 .25 4 .25-3 .25 4 .25-7 .25 13 .25-23 .25 7 .25 9 .25-8 .25-1 .25-8 .25 18 .25-18 .25 14 .25-2 .25 4 .25 4 .25-13 .25 0 .25 3 .25-8 .25 16 .25-7 .25 4 .25-8 .25 7 .25-3 .25 3 .25-5 .25 12 .25-9 .25-11 .25 18 .25-5 .25-4 .25 20 .25-15 .25-7 .25 4 .25 6 .25-4 .25 9 .25-1 .25-10 .25 4 .25 4 .25-6 .25-1 .25 7 .25-2 .25-12 .25 5 .25 0 .25 1 .25-4 .25 11 .25-14 .25-1 .25 7 .25-15 .25 7 .25 9 .25-12 .25 3 .25 11 .25-4 .25-2 .25 2 .25-5 .25 6 .25-3 .25 16 .25-10 .25-5 .25 2 .25 1 .25-8 .25 4 .25 14 .25-17 .25 5 .25 9 .25 2 .25-15 .25 14 .25-11 .25 11 .25-7 .25-5 .25 6 .25-2 .25-8 .25 17 .25-14 .25 8 .25-9 .25-8 .25 5 .25 6 .25 5 .25 6 .25-9 .25-2 .25-6 .25 7 .25 2 .25-14 .25 20 .25-1 .25 7 .25-19 .25 6 .25 0 .25-7 .25 3 .25 0 .25 9 .25 0 .25 6 .25-10 .25-5 .25 11 .25 0 .25 2 .25 3 .25-10 .25 8 .25-10 .25 7 .25 3 .25-5 .25 3 .25-10 .25 5 .25 5 .25-7 .25 2 .25 19 .25-12 .25-6 .25-1 .25 14 .25-25 .25 14 .25 6 .25-8 .25 6 .25-10 .25 5 .25 0 .25-1 .25 1 .25-2 .25 6 .25-8 .25-2 .25 1 .25 0 .25-7 .25-3 .25 3 .25 10 .25-6 .25 2 .25 19 .25-11 .25-8 .25-2 .25 11 .25-13 .25 11 .25-4 .25 5 .25-13 .25 10 .25-16 .25 9 .25 8 .25-2 .25-15 .25 15 .25-1 .25-3 .25-4 .25 3 .25-2 .25 9 .25-3 .25 3 .25-3 .25-12 .25 8 .25 11 .25-19 .25 8 .25-6 .25-1 .25 6 .25 4 .25 0 .25-2 .25 3 .25-15 .25 15 .25-3 .25-3 .25 1 .25-5 .25 12 .25-12 .25-4 .25 9 .25-4 .25 3 .25 10 .25-10 .25 1 .25 13 .25-22 .25 11 .25 4 .25 2 .25 4 .25-17 .25 7 .25-4 .25-2 .25-2 .25-4 .25 11 .25 2 .25-10 .25 11 .25-7 .25-3 .25-9 .25 22 .25-1 .25-6 .25 0 .25-5 .25 11 .25-3 .25 3 .25-1 .25-9 .25-1 .25 12 .25-13 .25 12 .25 4 .25-13 .25 12 .25-4 .25 3 .25-7 .25 3 .25 2 .25 8 .25-7 .25-1 .25-11 .25 9 .25-6 .25 4 .25 2 .25 4 .25-2 .25-3 .25-1 .25 9 .25-13 .25 6 .25 8 .25-9 .25 7 .25 1 .25 7 .25-5 .25-15 .25 10 .25 2 .25 3 .25-2 .25 9 .25-5 .25-14 .25 3 .25-9 .25 21 .25-11 .25-1 .25-9 .25 6 .25 5 .25-6 .25 0 .25-2 .25 15 .25-15 .25-5 .25 5 .25 1 .25 1 .25-2 .25-5 .25 3 .25 2 .25-11 .25 12 .25-5 .25-15 .25 2 .25 2 .14 1 .11 1 .25-9 .25 4 .25 4 .25 7 .25-5 .25 9 .25 3 .25 3 .25-10 .25 9 .25 0 .25-3 .25 10 .25-9 .25 10 .25-12 .25 14 .25-1 .25-14 .25 6 .25 0 .25-7 .25 10 .25-1 .25-9 .25 6 .25 5 .25-6 .25-4 .25 14 .25-15 .25 8 .25 5 .25-2 .25-15 .25 9 .25 2 .25 0 .25 6 .25 0 .25-2 .25 1 .25 5 .25 2 .25-19 .25 25 .25-17 .25 8 .25-14 .25 7 .25-5 .25 14 .25-2 .25-5 .25-1 .25 3 .25-8 .25 2 .25-1 .25 9 .25-5 .25-8 .25 10 .25 0 .25 5 .25-12 .25 5 .25 10 .25-15 .25-1 .25 5 .25-7 .25 2 .25-3 .25-2 .25 9 .25-8 .25-4 .25 4 .25 0 .25 2 .25 2 .25 4 .25-17 .25 2 .25-8 .25 3 .25-4 .25-9 .25-8 .25-8 .25-7 .25-5 .25-2 .06-2 .19 3 .25 3 .25 6 .25 10 .25 9 .25 7 .25 5 .25 11 .25-3 .25 7 .25 2 .25-6 .25-4 .25 1 .25 9 .25 5 .25-12 .25 7 .25 14 .25-19 .25 13 .25 0 .25 3 .25-13 .25 11 .25-10 .25 16 .25-13 .25 8 .25-7 .25 5 .25-9 .25 10 .25 2 .25-3 .25 9 .25-7 .25 3 .25-2 .25 8 .25-14 .25 2 .25 0 .25 5 .25-3 .25 3 .25-3 .25-5 .25 2 .25 2 .25-16 .25 21 .25-11 .25 1 .25 3 .25-3 .25-7 .25 7 .25 10 .25-2 .25 1 .25-10 .25 1 .25 8 .25 2 .25-9 .25-6 .25-6 .25 20 .25-18 .25 11 .25 3 .25 12 .25-16 .25-1 .25 3 .25 1 .25 5 .25-4 .25-8 .25-8 .25 14 .25-6 .25 11 .25-16 .25 6 .25-7 .25-3 .25 6 .25-10 .25-6 .25-2 .25-7 .25-2 .24-2 .01 4 .25-1 .25 4 .25 5 .25 1 .25 5 .25-2 .25 12 .25 2 .25-2 .25 10 .25-15 .25 13 .25-11 .25 1 .25 5 .25 8 .25-15 .25 0 .25-2 .25 17 .25-9 .25-2 .25 6 .25-11 .25-12 .25 3 .25-6 .25-1 .25-13 .25-8 .25-10 .25-8 .25-7 .25-2 .01 0 .24 2 .25 6 .25 9 .25 9 .25 11 .25 8 .25 9 .25 5 .25 13 .25-7 .25 0 .25 13 .25-9 .25 6 .25 5 .25-6 .25-1 .25 8 .25-4 .25-4 .25-4 .25 5 .25-7 .25 5 .25-1 .25 8 .25 3 .25-8 .25 1 .25-4 .25-2 .25 5 .25 6 .25-1 .25 0 .25-6 .25-15 .25 21 .25 2 .25-4 .25-1 .25-1 .25 6 .25-14 .25 2 .25-6 .25-3 .25-4 .25-2 .07-2 .18 5 .25 0 .25-1 .25 5 .25 0 .25 16 .25-7 .25 4 .25-7 .25 2 .25 12 .25-8 .25 3 .25 9 .25 1 .25-9 .25-1 .25-2 .25-4 .25 14 .25-19 .25 6 .25-11 .25 4 .25 10 .25 1 .25-1 .25-4 .25-2 .25 1 .25 1 .25 9 .25 2 .25-6 .25-6 .25-2 .25 8 .25-3 .25-9 .25 20 .25-8 .25-2 .25-3 .25 1 .25 11 .25-11 .25 6 .25 3 .25 7 .25-7 .25-4 .25-2 .25 8 .25 1 .25-9 .25 6 .25-4 .25-9 .25 4 .25 11 .25 4 .25-5 .25-5 .25-3 .25 7 .25-1 .25-11 .25 14 .25-8 .25 8 .25 0 .25 1 .25 3 .25-2 .25-10 .25 0 .25 13 .25-3 .25-12 .25-3 .25 18 .25 8 .25-8 .25-6 .25 3 .25-17 .25 10 .25 13 .25-1 .25-18 .25 20 .25-4 .25 3 .25-7 .25 2 .25-7 .25 9 .25 3 .25-11 .25 8 .25-5 .25 9 .25 0 .25-20 .25 17 .25 3 .25-10 .25 2 .25 1 .25-7 .25 6 .25 10 .25-6 .25 6 .25-4 .25 2 .25-7 .25 4 .25 7 .25-3 .25-7 .25-6 .25-2 .25 7 .25 2 .25-14 .25 12 .25 1 .25 0 .25-5 .25 17 .25-9 .25-13 .25 4 .25 8 .25-2 .25-2 .25-1 .25-2 .25-2 .25-4 .25 10 .25-21 .25 12 .25 12 .25-12 .25-3 .25 19 .25-5 .25-7 .25-3 .25 2 .25-1 .25 1 .25-3 .25 7 .25-7 .25-7 .25 3 .25 7 .25-6 .25-9 .25 24 .25-6 .25-5 .25 0 .25 6 .25 6 .25-12 .25 6 .25-6 .25 6 .25-8 .25-5 .25 12 .25-1 .25 5 .25-8 .25 12 .25-7 .25 9 .25-12 .25 12 .25-9 .25 1 .25 6 .25-17 .25 5 .25 17 .25-20 .25 6 .25 6 .25 5 .25-12 .25 3 .25-8 .25 5 .25 8 .25-4 .25-3 .25 3 .25-1 .25 0 .25-3 .25-4 .25 11 .25-11 .25 13 .25 7 .25-4 .25 5 .25-20 .25 8 .25-7 .25 1 .25-6 .25 3 .25 12 .25-1 .25 3 .25-1 .25-2 .25-10 .25 4 .25 4 .25 3 .25-10 .25-1 .25-1 .25 12 .25-6 .25-6 .25-3 .25 7 .25-12 .25 8 .25-2 .25 0 .25 5 .25 2 .25 15 .25-16 .25 4 .25-8 .25-5 .25 17 .25 6 .25-18 .25 6 .25 8 .25-6 .25-15 .25 21 .25-7 .25 4 .25-10 .25 10 .25 1 .25-12 .25 7 .25-8 .25 0 .25-3 .25 2 .25-2 .25 11 .25-9 .25-5 .25 15 .25-5 .25 3 .25-6 .25 4 .25-4 .25-5 .25 7 .25 0 .25 0 .25 5 .25-15 .25 12 .25-7 .25 4 .25 4 .25-2 .25-5 .25 9 .25-5 .25 6 .25 1 .25-9 .25-4 .25 7 .25 4 .25-3 .25-9 .25-3 .25 5 .25 0 .25 9 .25-3 .25 4 .25-5 .25 10 .25-10 .25 3 .25-6 .25 5 .25 4 .25-2 .25 3 .25-11 .25 7 .25 8 .25-9 .25-2 .25 0 .25-2 .25 5 .25 7 .25-5 .25-2 .25-5 .25-1 .25 21 .25-17 .25 4 .25-3 .25 4 .25-4 .25 3 .25 8 .25-13 .25 7 .25-4 .25 4 .25-9 .25 6 .25-8 .25-5 .25 2 .25 2 .25-1 .25 5 .25 8 .25-13 .25 9 .25-2 .25-5 .25-1 .25 8 .25 0 .25-5 .25 1 .25 1 .25-8 .25 9 .25 1 .25 9 .25-17 .25 3 .25 6 .25-4 .25 2 .25 3 .25-2 .25 2 .25 2 .25-12 .25 13 .25-17 .25 23 .25-5 .25-10 .25 9 .25-7 .25 2 .25 2 .25-3 .25-3 .25 3 .25-5 .25-1 .25-4 .25-5 .25 20 .25-5 .25-13 .25 11 .25-1 .25-14 .25 8 .25 4 .25 11 .25-4 .25 1 .25-6 .25 4 .25-13 .25 10 .25 0 .25-12 .25 8 .25 7 .25 2 .25-4 .25-12 .25 2 .25-4 .25 7 .25-12 .25-4 .25-5 .25-2 .25-8 .25-10 .25-10 .25-10 .25-8 .25-7 .17-1 .08 1 .25 4 .25 8 .25 10 .25 10 .25 12 .25 9 .25 7 .25 6 .25 0 .25 9 .25-2 .25-1 .25 5 .25-7 .25 5 .25 2 .25 4 .25-3 .25 3 .25 7 .25-4 .25-12 .25-4 .25 5 .25 0 .25-6 .25 1 .25 0 .25 7 .25 11 .25 2 .25-16 .25 4 .25-5 .25-2 .25 9 .25 1 .25-4 .25 8 .25-6 .25 8 .25-9 .25 8 .25-6 .25 2 .25 3 .25-11 .25 4 .25 4 .25-1 .25 3 .25-6 .25-3 .25 6 .25 2 .25-7 .25 9 .25-5 .25-3 .25-3 .25-9 .25 6 .25-10 .25 2 .02 1 .23-1 .25 2 .25 0 .25 4 .25 5 .25 9 .25-7 .25 9 .25 0 .25 0 .25-3 .25 3 .25-8 .25 10 .25 2 .25-5 .25 6 .25-2 .25-6 .25 9 .25-9 .25 17 .25-20 .25 1 .25 1 .25 5 .25 6 .25-6 .25-3 .25 14 .25-5 .25-7 .25 1 .25-8 .25 10 .25 10 .25-17 .25-2 .25 9 .25-15 .25 22 .25-17 .25 4 .25 3 .25 7 .25-5 .25-13 .25 0 .25 11 .25-14 .25 10 .25-3 .25 10 .25 2 .25-22 .25 18 .25 1 .25-8 .25 1 .25-3 .25 5 .25 4 .25 6 .25 0 .25-9 .25-4 .25 11 .25-21 .25 8 .25 12 .25 9 .25-17 .25 5 .25-6 .25 6 .25 1 .25-4 .25 7 .25-3 .25 5 .25-4 .25-6 .25 8 .25 4 .25-9 .25 12 .25-5 .25-5 .25 2 .25-3 .25-3 .25 10 .25-1 .25-8 .25 0 .25 0 .25 4 .25 4 .25-13 .25 6 .25-3 .25 3 .25 5 .25-14 .25-7 .25 11 .25-8 .25 19 .25-13 .25 2 .25 4 .25 0 .25-4 .25 3 .25 6 .25-7 .25 13 .25-9 .25-15 .25 18 .25-15 .25 12 .25 11 .25-7 .25-13 .25 2 .25 5 .25 8 .25-12 .25 10 .25-4 .25-3 .25 0 .25 10 .25-18 .25 2 .25 12 .25 0 .25-13 .25 2 .25-1 .25 10 .25-7 .25 12 .25-4 .25-3 .25 0 .25 3 .25 2 .25-5 .25 2 .25 3 .25-5 .25 7 .25-6 .25-4 .25 6 .25 9 .25-1 .25-17 .25 11 .25-5 .25 1 .25 0 .25 1 .25-2 .25 1 .25 2 .25-8 .25-1 .25 0 .25 0 .25 10 .25-10 .25 6 .25 1 .25 4 .25-4 .25 7 .25-6 .25 2 .25 4 .25-13 .25 11 .25 7 .25-8 .25-2 .25 12 .25-11 .25 6 .25-22 .25 14 .25-4 .25 4 .25 4 .25-8 .25-1 .25-16 .25 21 .25 3 .25-7 .25-4 .25 6 .25 4 .25-2 .25 8 .25-14 .25-5 .25 11 .25 5 .25-9 .25 3 .25-4 .25-3 .25 3 .25-8 .25 14 .25 1 .25 2 .25-10 .25 1 .25-7 .25 1 .25 13 .25 11 .25-22 .25 3 .25 8 .25-10 .25 8 .25-5 .25 0 .25 7 .25-6 .25-6 .25 12 .25-4 .25-3 .25-1 .25 8 .25-7 .25 5 .25 6 .25-6 .25 7 .25-14 .25 11 .25 0 .25 7 .25-11 .25 5 .25-7 .25-5 .25 0 .25 1 .25 8 .25-9 .25 5 .25 5 .25 2 .25-2 .25 3 .25-15 .25 4 .25 5 .25 4 .25-3 .25-8 .25 4 .25-9 .25 14 .25-15 .25 11 .25 5 .25-1 .25-14 .25 10 .25-3 .25 1 .25 11 .25-8 .25-10 .25 2 .25 9 .25-3 .25-9 .25-4 .25 4 .25-1 .25 4 .25-7 .18 5 .07 2 .25-11 .25 6 .25 11 .25-8 .25 4 .25 7 .25-9 .25 3 .25-6 .25 13 .25-6 .25 1 .25-12 .25 20 .25-1 .25-8 .25 12 .25-20 .25 14 .25-9 .25 27 .25-31 .25 9 .25 3 .25 10 .25 0 .25-2 .25-4 .25 14 .25-16 .25 6 .25 8 .25-18 .25 2 .25 11 .25-4 .25-10 .25 8 .25 11 .25-12 .25 6 .25-4 .25-4 .25 14 .25-3 .25 2 .25-8 .25 2 .25 1 .25 1 .25-5 .25-1 .25 10 .25-15 .25 3 .25 0 .25-2 .25-5 .25 1 .25 9 .25-8 .25-3 .25 14 .25-18 .25 14 .25-4 .25-10 .25 6 .25 0 .25 11 .25-2 .25-7 .25-4 .25-3 .25 10 .25-7 .25 7 .25 1 .25 3 .25 4 .25-5 .25 2 .25-3 .25 7 .25-2 .25 5 .25-2 .25-12 .25-4 .25 12 .25 2 .25-10 .25 12 .25-8 .25-1 .25 3 .25-10 .25-1 .25 8 .25-5 .25 8 .25 0 .25-14 .25 11 .25 8 .25-16 .25 12 .25-5 .25-4 .25 18 .25 0 .25-9 .25-1 .25 10 .25-1 .25-8 .25 5 .25-5 .25-3 .25 4 .25-6 .25 5 .25-5 .25-1 .25-1 .25 6 .25 3 .25-3 .25-8 .25 9 .25-9 .25-1 .25 5 .25 6 .25-1 .25 0 .25 5 .25-3 .25-7 .25 7 .25-6 .25 5 .25 1 .25-3 .25-8 .25 8 .25-1 .25 1 .25-1 .25-4 .25-3 .25 13 .25 1 .25-3 .25-2 .25 11 .25-7 .25-4 .25 4 .25-5 .25 5 .25-3" fill="none" stroke="#0000ff" stroke-width="2.2" stroke-linejoin="round"/>
<path d="M92.7 634.6V25H1039.6V634.6" fill="none" stroke="#141414" stroke-width="2.5"/>
<path d="M91.5 634.6H1040.8" fill="none" stroke="#000" stroke-width="2.6"/>
<path d="M92.7 634.6v14M187.39 634.6v7.5M282.08 634.6v14M376.77 634.6v7.5M471.46 634.6v14M566.15 634.6v7.5M660.84 634.6v14M755.53 634.6v7.5M850.22 634.6v14M944.91 634.6v7.5M1039.6 634.6v14" stroke="#111" stroke-width="2.3" fill="none"/>
<text transform="translate(72.99 680.2) scale(1.1 1)" font-size="31.86" fill="#111">20</text>
<text transform="translate(262.54 680.2) scale(1.1 1)" font-size="31.86" fill="#111">30</text>
<text transform="translate(452.27 680.2) scale(1.1 1)" font-size="31.86" fill="#111">40</text>
<text transform="translate(641.3 680.2) scale(1.1 1)" font-size="31.86" fill="#111">50</text>
<text transform="translate(830.51 680.2) scale(1.1 1)" font-size="31.86" fill="#111">60</text>
<text transform="translate(1019.89 680.2) scale(1.1 1)" font-size="31.86" fill="#111">70</text>
<text transform="translate(467.7 734.9) scale(1.11 1)" font-size="36" fill="#111">2&#952;(degree)</text>
<text transform="translate(55.4 388.95) scale(1.06 1) rotate(-90)" font-size="34.99" fill="#000">Intensity</text>
<text transform="translate(110.04 72.13) scale(1.08 1)" font-size="32.73" font-weight="bold" fill="#000">(a)</text>
<rect x="761.1" y="35.5" width="267.5" height="88.8" fill="#fff" stroke="#3a3a3a" stroke-width="1.3"/>
<path d="M786.8 54.4H845" stroke="#333" stroke-width="2.2"/>
<text transform="translate(851.43 63.2) scale(1.12 1)" font-size="22.3" fill="#1a1a1a">1200</text>
<circle cx="912.6" cy="48.5" r="2.0" fill="none" stroke="#444" stroke-width="1.05"/>
<path d="M926.3 50.06A6.6 7.75 0 1 0 926.3 60.44" fill="none" stroke="#3c3c3c" stroke-width="1.4"/>
<text transform="translate(931.1 63.2) scale(1.12 1)" font-size="22.3" fill="#1a1a1a" textLength="53.67">/no si</text>
<path d="M786.8 83.3H845" stroke="#ff0000" stroke-width="2.2"/>
<text transform="translate(851.43 90.4) scale(1.12 1)" font-size="22.3" fill="#1a1a1a">1200</text>
<circle cx="912.6" cy="75.7" r="2.0" fill="none" stroke="#444" stroke-width="1.05"/>
<path d="M926.3 77.26A6.6 7.75 0 1 0 926.3 87.64" fill="none" stroke="#3c3c3c" stroke-width="1.4"/>
<text transform="translate(931.1 90.4) scale(1.12 1)" font-size="22.3" fill="#1a1a1a" textLength="64.86">/post si</text>
<path d="M786.8 111.6H845" stroke="#0000ff" stroke-width="2.2"/>
<text transform="translate(851.43 118.8) scale(1.12 1)" font-size="22.3" fill="#1a1a1a">1200</text>
<circle cx="912.6" cy="104.1" r="2.0" fill="none" stroke="#444" stroke-width="1.05"/>
<path d="M926.3 105.66A6.6 7.75 0 1 0 926.3 116.04" fill="none" stroke="#3c3c3c" stroke-width="1.4"/>
<text transform="translate(931.1 118.8) scale(1.12 1)" font-size="22.3" fill="#1a1a1a" textLength="61.21">/pre si</text>
<text transform="translate(161 280.96) scale(0.98 1) rotate(-90)" font-size="18.25" fill="#111" stroke="#111" stroke-width="0.6">M(006)</text>
<text transform="translate(294.8 207.21) scale(1.04 1) rotate(-90)" font-size="18.88" fill="#111" stroke="#111" stroke-width="0.6">M(110)</text>
<text transform="translate(312.1 278.69) scale(1.07 1) rotate(-90)" font-size="18.68" fill="#111" stroke="#111" stroke-width="0.6">M(008)</text>
<text transform="translate(333.6 130.3) scale(1.05 1) rotate(-90)" font-size="18.71" fill="#111" stroke="#111" stroke-width="0.6">M(107)</text>
<text transform="translate(348 253.18) scale(1.07 1) rotate(-90)" font-size="17.2" fill="#d42a2a" stroke="#d42a2a" stroke-width="0.6">Fe<tspan font-size="10.66" dy="3.78">2</tspan><tspan dy="-3.78">O</tspan><tspan font-size="10.66" dy="3.78">3</tspan></text>
<text transform="translate(377.2 107.76) scale(0.85 1) rotate(-90)" font-size="17.05" fill="#111" stroke="#111" stroke-width="0.6">M(114)</text>
<text transform="translate(387 253.14) scale(1.04 1) rotate(-90)" font-size="14.25" fill="#111" stroke="#111" stroke-width="0.35">M(201)</text>
<text transform="translate(403.5 271.16) scale(1.1 1) rotate(-90)" font-size="14.55" fill="#111" stroke="#111" stroke-width="0.35">M(108)</text>
<text transform="translate(427.1 200.99) scale(1.16 1) rotate(-90)" font-size="18.68" fill="#111" stroke="#111" stroke-width="0.6">M(203)</text>
<text transform="translate(484.4 252.47) scale(1.01 1) rotate(-90)" font-size="18.35" fill="#111" stroke="#111" stroke-width="0.6">M(205)</text>
<text transform="translate(525.4 262.48) scale(0.96 1) rotate(-90)" font-size="18.51" fill="#111" stroke="#111" stroke-width="0.6">M(206)</text>
<text transform="translate(657 292) scale(1.15 1) rotate(-90)" font-size="17.52" fill="#d42a2a" stroke="#d42a2a" stroke-width="0.6">Fe<tspan font-size="10.86" dy="3.85">2</tspan><tspan dy="-3.85">O</tspan><tspan font-size="10.86" dy="3.85">3</tspan></text>
<text transform="translate(744.8 283.67) scale(1.1 1) rotate(-90)" font-size="17.16" fill="#d42a2a" stroke="#d42a2a" stroke-width="0.6">Fe<tspan font-size="10.64" dy="3.78">2</tspan><tspan dy="-3.78">O</tspan><tspan font-size="10.64" dy="3.78">3</tspan></text>
<text transform="translate(763.3 232.87) scale(0.94 1) rotate(-90)" font-size="17.12" fill="#111" stroke="#111" stroke-width="0.6">M(217)</text>
<text transform="translate(776.2 284.5) scale(0.99 1) rotate(-90)" font-size="14.98" fill="#111" stroke="#111" stroke-width="0.35">M(304)</text>
<text transform="translate(787.3 272.25) scale(1.02 1) rotate(-90)" font-size="13.16" fill="#111" stroke="#111" stroke-width="0.35">M(0014)</text>
<text transform="translate(800.2 211.55) scale(1 1) rotate(-90)" font-size="16.89" fill="#111" stroke="#111" stroke-width="0.6">M(2011)</text>
<text transform="translate(917.8 221.16) scale(1.09 1) rotate(-90)" font-size="18.28" fill="#111" stroke="#111" stroke-width="0.6">M(220)</text>
<path d="M92 1335l.25 3 .25 11 .25-6 .25-13 .25 10 .25-4 .25 4 .25-10 .25 11 .25 0 .25 7 .25-7 .25 1 .25-12 .25 22 .25-24 .25 17 .25-8 .25-3 .25 1 .25 0 .25 6 .25-3 .25 10 .25-19 .25 10 .25-5 .25 10 .25-17 .25 11 .25 3 .25-10 .25 15 .25-5 .25 5 .25 0 .25-11 .25 0 .25 4 .25 5 .25 0 .25-9 .25 0 .25-2 .25 1 .25 1 .25 0 .25 12 .25-15 .25 1 .25 4 .25-8 .25 3 .25 2 .25 5 .25-12 .25 16 .25-10 .25 3 .25 4 .25-1 .25 3 .25-5 .25-1 .25 3 .25-8 .25 14 .25-11 .25-2 .25 19 .25-12 .25-5 .25 18 .25-12 .25 8 .25-10 .25 4 .25-8 .25-1 .25 5 .25 6 .25 5 .25 10 .25-20 .25 11 .25-9 .25 2 .25-8 .25 0 .25 4 .25-3 .25 6 .25-4 .25 11 .25-7 .25 0 .25 5 .25-3 .25-4 .25 0 .25 0 .25 7 .25-2 .25-3 .25 3 .25-8 .25 6 .25-11 .25 16 .25-7 .25 1 .25 2 .25-3 .25-1 .25 9 .25-6 .25-6 .25 8 .25-12 .25 19 .25-10 .25 1 .25 13 .25 0 .25-12 .25 3 .25 3 .25 4 .25-10 .25 2 .25 6 .25-5 .25 3 .25-1 .25-11 .25 2 .25-11 .25 13 .25 9 .25-14 .25 13 .25-2 .25-6 .25 0 .25 0 .25-6 .25 4 .25 1 .25 4 .25 1 .25-9 .25 9 .25-10 .25 3 .25 3 .25-3 .25-1 .25 2 .25-5 .25-1 .25 3 .25 6 .25-6 .25 11 .25-9 .25-19 .25 15 .25 12 .25-10 .25-3 .25-2 .25 13 .25-2 .25-2 .25-2 .25 6 .25-4 .25-12 .25 12 .25-4 .25-1 .25 5 .25-5 .25-17 .25 26 .25-3 .25-7 .25-1 .25 3 .25-9 .25 10 .25-3 .25-1 .25-3 .25 2 .25 10 .25 2 .25-4 .25-3 .25-4 .25 10 .25 6 .25-18 .25 17 .25-19 .25 11 .25 5 .25-10 .25-1 .25 10 .25 4 .25-8 .25 10 .25-13 .25 14 .25-10 .25 1 .25 2 .25-2 .25 9 .25 2 .25-10 .25-3 .25-6 .25 3 .25 5 .25 0 .25 1 .25 0 .25 3 .25-10 .25 2 .25 12 .25-2 .25-8 .25 10 .25-12 .25 2 .25-9 .25 14 .25-5 .25 6 .25-3 .25-4 .25 0 .25 6 .25-9 .25 0 .25 2 .25 4 .25 0 .25 6 .25-11 .25 8 .25-11 .25 7 .25-3 .25 10 .25-7 .25-6 .25 6 .25-1 .25-4 .25 0 .25-3 .25 21 .25-15 .25 5 .25-13 .25 1 .25 5 .25-1 .25 6 .25-11 .25 9 .25 5 .25-14 .25 10 .25-11 .25 8 .25 0 .25 9 .25-14 .25 5 .25 5 .25-12 .25 7 .25-5 .25 1 .25 8 .25 0 .25 11 .25-7 .25-1 .25-9 .25-1 .25 3 .25-14 .25 22 .25-13 .25-3 .25 4 .25 8 .25 2 .25-10 .25 5 .25-3 .25-6 .25 7 .25-1 .25-10 .25 15 .25-15 .25 10 .25-7 .25 1 .25 1 .25 8 .25-11 .25 6 .25 11 .25-13 .25 4 .25 4 .25-7 .25 7 .25-7 .25 8 .25-4 .25-5 .25 13 .25-9 .25-1 .25-4 .25 2 .25 2 .25 2 .25 5 .25-14 .25 5 .25 9 .25-6 .25 2 .25 6 .25-7 .25 1 .25-3 .25 10 .25-4 .25-10 .25 7 .25-10 .25 13 .25-2 .25-5 .25-1 .25-8 .25 15 .25-4 .25-1 .25 7 .25-8 .25 1 .25 0 .25-4 .25 22 .25-15 .25-1 .25 8 .25-23 .25 17 .25 0 .25-6 .25 8 .25-15 .25 12 .25 5 .25-18 .25 4 .25 7 .25 1 .25-4 .25 6 .25-1 .25-9 .25 7 .25-7 .25-5 .25-2 .25 20 .25-7 .25 12 .25-20 .25 7 .25 5 .25-3 .25 5 .25-2 .25-3 .25-9 .25 8 .25 17 .25-5 .25 4 .25-11 .25 2 .25-3 .25 7 .25-2 .25 2 .25 7 .25-15 .25 9 .25-13 .25 14 .25-9 .25 1 .25 1 .25 9 .25-10 .25-3 .25-5 .25 9 .25-7 .25 1 .25 3 .25 4 .25-8 .25 8 .25 6 .25-19 .25 17 .25 5 .25-16 .25 7 .25-11 .25 10 .25-4 .25 4 .25-7 .25 1 .25 2 .25-2 .25 0 .25 2 .25-5 .25 5 .25 3 .25-17 .25 15 .25-6 .25-2 .25-2 .25 3 .25 1 .25 7 .25-10 .25 14 .25-10 .25 9 .25 2 .25-13 .25 13 .25 7 .25-16 .25 6 .25-4 .25 1 .25-2 .25-1 .25 7 .25 0 .25-5 .25 9 .25-3 .25-2 .25-9 .25 15 .25-4 .25-20 .25 5 .25 3 .25 8 .25 1 .25-9 .25 3 .25 3 .25-12 .25 11 .25-5 .25 4 .25-1 .25-6 .25 2 .25 7 .25 1 .25-2 .25 9 .25-8 .25-4 .25 5 .25 1 .25 1 .25 8 .25-4 .25 3 .25-2 .25-5 .25 7 .25-7 .25 2 .25-7 .25 6 .25-3 .25 4 .25 8 .25 3 .25-9 .25-6 .25 4 .25-3 .25-5 .25 3 .25-1 .25-2 .25 12 .25-11 .25 1 .25 7 .25-7 .25-2 .25 2 .25 8 .25 0 .25-1 .25-4 .25-3 .25 10 .25-13 .25 6 .25-6 .25 5 .25 1 .25 8 .25-24 .25 24 .25-13 .25 7 .25 2 .25-9 .25 4 .25 3 .25-4 .25-3 .25 5 .25-1 .25-9 .25 17 .25-7 .25-15 .25 9 .25 16 .25-1 .25-7 .25-12 .25 9 .25 7 .25-4 .25-4 .25-3 .25 8 .25-7 .25 3 .25 0 .25 6 .25-10 .25 0 .25-12 .25 16 .25-2 .25-5 .25-13 .25 10 .25 4 .25 12 .25-8 .25 1 .25 1 .25 3 .25-14 .25 2 .25-1 .25 5 .25 0 .25 3 .25-6 .25 6 .25-5 .25 17 .25-15 .25 18 .25-5 .25-16 .25 12 .25-1 .25-13 .25 13 .25-4 .25 3 .25-7 .25 5 .25 2 .25-4 .25-2 .25 2 .25-5 .25 7 .25-17 .25 23 .25-9 .25 2 .25 2 .25-12 .25 21 .25-20 .25 9 .25 0 .25 6 .25-7 .25-8 .25 10 .25-15 .25 13 .25-1 .25 12 .25-11 .25-1 .25-1 .25-1 .25 1 .25 7 .25-12 .25 6 .25-8 .25 7 .25 2 .25-9 .25 4 .25 4 .25 4 .25 1 .25-6 .25-5 .25-3 .25 15 .25 4 .25-5 .25 7 .25-11 .25 1 .25 12 .25-15 .25 9 .25-1 .25-1 .25 9 .25-15 .25 2 .25-10 .25 6 .25 2 .25 1 .25 0 .25 3 .25-6 .25-9 .25 12 .25 1 .25-10 .25 2 .25 14 .25-4 .25 0 .25-3 .25-3 .25-4 .25 6 .25-4 .25-1 .25 2 .25 1 .25 6 .25-11 .25 21 .25-20 .25 4 .25 9 .25-10 .25 2 .25 3 .25-17 .25 15 .25-3 .25 4 .25 5 .25 1 .25 5 .25-1 .25-2 .25-6 .25 6 .25-12 .25 6 .25 9 .25-4 .25-12 .25 5 .25 9 .25-1 .25 3 .25-16 .25 3 .25 6 .25-4 .25 5 .25 0 .25 2 .25-3 .25 3 .25 1 .25-4 .25-8 .25 14 .25-6 .25 1 .25-2 .25-10 .25 13 .25-7 .25-3 .25 15 .25-8 .25 3 .25 4 .25 5 .25-20 .25 6 .25 8 .25-9 .25-14 .25 18 .25-1 .25 2 .25-4 .25-5 .25 3 .25-3 .25-4 .25 4 .25-1 .25-8 .25 10 .25-2 .25-1 .25-20 .25 16 .25-2 .25-5 .25 7 .25-11 .25 12 .25-6 .25-7 .25 2 .25-9 .25-9 .25-13 .25-11 .25-16 .25-17 .25-16 .25-14 .25-8 .15-2 .1 1 .25 6 .25 13 .25 16 .25 17 .25 16 .25 13 .25 10 .25 11 .25 5 .25 14 .25-5 .25 10 .25 5 .25-7 .25 12 .25-5 .25-3 .25 0 .25 7 .25 6 .25-16 .25 14 .25-4 .25-3 .25 3 .25 1 .25-1 .25 5 .25-11 .25 16 .25-6 .25-9 .25-8 .25 10 .25-3 .25 7 .25-1 .25 7 .25-12 .25 5 .25-8 .25 0 .25 11 .25-10 .25-1 .25-2 .25 2 .25-1 .25-5 .25-8 .25 1 .25-8 .25-4 .25-5 .25-4 .25-5 .1 4 .15 0 .25 4 .25 6 .25 0 .25 6 .25 7 .25 7 .25-2 .25 4 .25 9 .25-9 .25 6 .25 6 .25-7 .25 6 .25-5 .25-9 .25 6 .25 2 .25-1 .25 2 .25 2 .25 0 .25-1 .25-3 .25 1 .25 0 .25-1 .25 12 .25-19 .25 13 .25-10 .25 6 .25 8 .25-6 .25 10 .25-14 .25 4 .25-2 .25 4 .25-2 .25-1 .25 3 .25 6 .25-6 .25 0 .25-2 .25-3 .25-4 .25 2 .25 6 .25-12 .25 15 .25-7 .25-4 .25 1 .25 7 .25-3 .25-1 .25 8 .25 3 .25-21 .25 13 .25-10 .25-4 .25 5 .25 9 .25-8 .25-1 .25 11 .25-5 .25-3 .25 10 .25-7 .25-7 .25-1 .25 3 .25 3 .25 4 .25-1 .25-4 .25-7 .25 9 .25-5 .25-7 .25-3 .25 1 .25-6 .25-7 .25-13 .25-11 .25-19 .25-20 .25-24 .25-27 .25-27 .25-23 .25-16 .21-4 .04 0 .25 9 .25 18 .25 25 .25 27 .25 26 .25 23 .25 20 .25 14 .25 14 .25 11 .25 4 .25 6 .25 4 .25-2 .25 4 .25 3 .25 4 .25 9 .25-1 .25-10 .25 1 .25-2 .25-7 .25 20 .25-4 .25-13 .25 11 .25 13 .25-10 .25 0 .25-2 .25-5 .25-3 .25 2 .25 6 .25-2 .25 6 .25 6 .25-6 .25 1 .25-6 .25-6 .25 21 .25-8 .25 3 .25-9 .25-8 .25 18 .25-20 .25 12 .25-2 .25 5 .25 3 .25 0 .25-16 .25 18 .25-17 .25 15 .25-6 .25-4 .25 4 .25-5 .25 8 .25 5 .25-1 .25-5 .25 6 .25-4 .25 10 .25-11 .25-6 .25 1 .25-3 .25 3 .25 1 .25 5 .25 0 .25-4 .25 2 .25-6 .25 1 .25-12 .25 10 .25 1 .25 18 .25-24 .25 8 .25-3 .25-8 .25 10 .25-2 .25-10 .25-5 .25 13 .25-8 .25 13 .25-6 .25 5 .25-4 .25 11 .25-5 .25 6 .25-8 .25-7 .25-2 .25 5 .25 5 .25-6 .25 17 .25-14 .25 2 .25-2 .25-8 .25 13 .25-3 .25 1 .25-10 .25 5 .25 0 .25 6 .25-14 .25 10 .25 2 .25-9 .25-3 .25 7 .25-7 .25-1 .25-6 .25-7 .25-12 .25-14 .25-14 .25-21 .25-22 .25-25 .25-25 .25-23 .25-15 .22-5 .03 0 .25 7 .25 17 .25 23 .25 26 .25 24 .25 22 .25 19 .25 16 .25 12 .25 8 .25 7 .25-1 .25 13 .25 8 .25-9 .25-4 .25 13 .25-4 .25-14 .25 12 .25-4 .25 1 .25 18 .25-6 .25-6 .25 1 .25 9 .25-15 .25 11 .25-8 .25 9 .25-3 .25-5 .25 10 .25-3 .25 8 .25-13 .25 3 .25-5 .25 11 .25-12 .25 5 .25 7 .25-4 .25-2 .25 0 .25 1 .25 2 .25-6 .25-10 .25 20 .25-15 .25 17 .25-9 .25 15 .25-11 .25-5 .25 2 .25-14 .25 8 .25-5 .25 0 .25-13 .25-3 .25 10 .25-6 .25-6 .25-3 .25-6 .25-4 .25 0 .21-3 .04 2 .25-2 .25 0 .25 5 .25 5 .25 0 .25 5 .25 1 .25 9 .25 1 .25 2 .25-10 .25 6 .25 4 .25-7 .25-2 .25-5 .25 5 .25-5 .25 1 .25-7 .25 5 .25-7 .13-4 .12 4 .25 2 .25 5 .25-3 .25 2 .25 4 .25 2 .25-7 .25 17 .25 5 .25-10 .25-1 .25 6 .25-4 .25 10 .25-8 .25 7 .25-11 .25-1 .25-2 .25 0 .25 9 .25 1 .25-6 .25-2 .25-12 .25 10 .25-11 .25 5 .25 2 .21-6 .04 1 .25 2 .25-3 .25 4 .25 5 .25 7 .25 7 .25-1 .25 8 .25-6 .25-3 .25 10 .25 1 .25-7 .25 16 .25-11 .25 2 .25 7 .25-8 .25 11 .25-1 .25 1 .25-3 .25-2 .25-2 .25 7 .25 6 .25-3 .25-3 .25 4 .25 3 .25-16 .25 8 .25 8 .25-11 .25 1 .25 7 .25-5 .25 8 .25-9 .25 5 .25 12 .25-9 .25-15 .25 2 .25 0 .25 5 .25-8 .25 11 .25 6 .25-1 .25-14 .25 2 .25 0 .25-3 .25 14 .25-14 .25-3 .25 9 .25 0 .25 6 .25 0 .25-10 .25-12 .25 16 .25 0 .25 6 .25-20 .25 2 .25 16 .25 0 .25-1 .25-8 .25 8 .25-11 .25-4 .25 7 .25 0 .25 3 .25 1 .25-16 .25 9 .25-1 .25-11 .25 1 .25-4 .25-7 .25-11 .25-11 .25-13 .25-15 .25-16 .25-16 .25-12 .25-8 .12-1 .13 2 .25 8 .25 13 .25 15 .25 17 .25 14 .25 12 .25 13 .25 13 .25 1 .25 9 .25 7 .25-2 .25 0 .25 3 .25 4 .25-5 .25 5 .25 2 .25-5 .25 6 .25 0 .25-5 .25 0 .25 2 .25-2 .25 0 .25-5 .25 6 .25 3 .25-1 .25-8 .25 8 .25 0 .25-9 .25 9 .25-3 .25-1 .25 4 .25-2 .25-11 .25 15 .25-7 .25 6 .25 5 .25-5 .25-1 .25 3 .25 2 .25-8 .25 1 .25 6 .25 6 .25-10 .25 5 .25-9 .25 4 .25 0 .25-8 .25 8 .25-1 .25-14 .25 14 .25 2 .25 0 .25 0 .25-9 .25 2 .25 2 .25-4 .25 2 .25 10 .25-12 .25 3 .25 13 .25-10 .25-5 .25 8 .25 0 .25 1 .25-10 .25 11 .25 1 .25 10 .25-8 .25-7 .25 4 .25 2 .25-5 .25 0 .25 8 .25-6 .25 0 .25-9 .25 7 .25-13 .25 16 .25-10 .25 4 .25 2 .25-14 .25 6 .25-7 .25 0 .25-7 .25-2 .11 5 .14-2 .25 0 .25 0 .25 10 .25-2 .25 3 .25 0 .25 5 .25 4 .25-3 .25 1 .25-3 .25 12 .25 1 .25-10 .25-3 .25 7 .25-10 .25 11 .25 1 .25 0 .25 9 .25 2 .25-8 .25-4 .25 8 .25 1 .25-13 .25 3 .25 3 .25-9 .25 4 .25 15 .25-17 .25 12 .25-9 .25 10 .25-4 .25 3 .25-13 .25 9 .25-5 .25 8 .25 0 .25-4 .25-2 .25 0 .25 2 .25-5 .25 0 .25-2 .25-3 .25 12 .25-14 .25 15 .25-4 .25-14 .25-1 .25 11 .25-6 .25 7 .25 5 .25-3 .25-3 .25 1 .25 9 .25-10 .25 13 .25 1 .25-13 .25 4 .25 8 .25-14 .25 7 .25 3 .25-11 .25 8 .25-1 .25-4 .25 12 .25-9 .25 14 .25-9 .25-8 .25 6 .25-6 .25 9 .25-2 .25-11 .25 4 .25 5 .25-3 .25-7 .25 11 .25 1 .25-17 .25 16 .25-20 .25 10 .25-3 .25 1 .25 4 .25-7 .25 7 .25 10 .25-6 .25 6 .25-2 .25-14 .25 20 .25-5 .25-1 .25-5 .25-1 .25-3 .25 5 .25 1 .25-2 .25 0 .25-11 .25 6 .25 0 .25 6 .25-5 .25 0 .25 2 .25-3 .25 0 .25 7 .25-7 .25-5 .25 6 .25-2 .25-3 .25-12 .25 4 .25-9 .25-7 .25-9 .25-9 .25-10 .25-10 .25-8 .25-4 .08 0 .17 1 .25 6 .25 8 .25 10 .25 9 .25 11 .25 7 .25 2 .25 6 .25 5 .25-3 .25 3 .25 10 .25 2 .25 6 .25-12 .25 6 .25-8 .25 22 .25-16 .25 7 .25 12 .25-2 .25-12 .25 17 .25-10 .25-8 .25 7 .25 2 .25 0 .25-15 .25 21 .25-19 .25 7 .25 9 .25-6 .25-2 .25-4 .25 7 .25 4 .25-11 .25 6 .25-5 .25 0 .25-9 .25 13 .25 4 .25-7 .25 7 .25-5 .25 6 .25-6 .25-3 .25-1 .25 4 .25 1 .25-7 .25 4 .25-7 .25 0 .25 11 .25-2 .25 3 .25-4 .25 1 .25 9 .25-15 .25 7 .25 7 .25 3 .25-8 .25-3 .25-5 .25 5 .25 2 .25 0 .25 3 .25 0 .25-5 .25-3 .25 4 .25 4 .25 7 .25-19 .25 16 .25-8 .25 8 .25 4 .25-7 .25-10 .25 5 .25 4 .25-4 .25 2 .25-4 .25 3 .25-2 .25 8 .25-3 .25 3 .25-13 .25 7 .25-1 .25 2 .25-2 .25 1 .25 13 .25-10 .25-5 .25 5 .25 14 .25-9 .25-9 .25 3 .25 0 .25 0 .25-11 .25 4 .25 4 .25-9 .25 8 .25 1 .25 4 .25 2 .25-7 .25 2 .25 3 .25 2 .25-5 .25-4 .25 8 .25 1 .25-4 .25 3 .25 6 .25-12 .25-1 .25-2 .25 8 .25 3 .25-8 .25 13 .25-13 .25 4 .25-2 .25 7 .25-11 .25 10 .25-11 .25-8 .25 0 .25-2 .25 0 .25-12 .25-6 .25-5 .25-9 .25-5 .25-3 .08-1 .17 3 .25 4 .25 4 .25 6 .25 9 .25 6 .25 5 .25 6 .25 2 .25 1 .25 9 .25-13 .25 4 .25 6 .25-6 .25 16 .25-20 .25 16 .25 0 .25-1 .25 1 .25-5 .25-1 .25 12 .25-8 .25-7 .25 2 .25-1 .25 10 .25 5 .25-8 .25 2 .25-4 .25 8 .25-1 .25 0 .25 5 .25-18 .25 11 .25-13 .25 13 .25 0 .25-1 .25 1 .25-6 .25-3 .25 8 .25-8 .25 8 .25-9 .25 6 .25 0 .25-6 .25 3 .25 7 .25-4 .25 3 .25-6 .25 4 .25-9 .25 4 .25 11 .25-4 .25-3 .25 0 .25-8 .25 10 .25-9 .25 3 .25 8 .25-8 .25 2 .25 3 .25 1 .25 8 .25-17 .25 8 .25 6 .25-6 .25 1 .25-2 .25 3 .25 5 .25 3 .25-5 .25 6 .25-8 .25-9 .25 13 .25-16 .25 11 .25 1 .25-7 .25 6 .25-2 .25 4 .25-3 .25 5 .25-6 .25 6 .25-4 .25 1 .25-1 .25-3 .25 8 .25-3 .25-15 .25 6 .25 16 .25-11 .25 17 .25-13 .25 0 .25-5 .25 2 .25 2 .25 4 .25-5 .25-1 .25-6 .25 2 .25 0 .25 1 .25-4 .25-2 .25 4 .25-12 .25 5 .25 3 .25 7 .25-6 .25-2 .25 9 .25-4 .25 8 .25-9 .25-3 .25 2 .25 12 .25-2 .25-8 .25 5 .25-13 .25 14 .25-5 .25-3 .25 1 .25 1 .25-4 .25 1 .25-5 .25 15 .25-13 .25 4 .25 6 .25 1 .25 1 .25-11 .25 1 .25 1 .25-9 .25 14 .25-14 .25 8 .25 6 .25 0 .25-7 .25 7 .25 1 .25-15 .25 8 .25 6 .25-1 .25-4 .25 1 .25 14 .25-14 .25 8 .25-12 .25 10 .25 4 .25-7 .25-1 .25 14 .25-10 .25 7 .25-13 .25 17 .25-20 .25 6 .25 2 .25 3 .25 1 .25 7 .25 2 .25-2 .25-6 .25-4 .25-13 .25 10 .25-3 .25 6 .25-9 .25 1 .25 0 .25 8 .25-3 .25-6 .25-3 .25 6 .25 0 .25 1 .25 4 .25 4 .25 0 .25-8 .25 0 .25 13 .25-10 .25 5 .25-3 .25 1 .25 6 .25-10 .25 7 .25-3 .25-4 .25-2 .25-1 .25 9 .25-1 .25-10 .25 7 .25-12 .25 10 .25 11 .25-18 .25 8 .25-5 .25 4 .25-7 .25 7 .25-14 .25 12 .25-1 .25 2 .25 11 .25-17 .25 3 .25-4 .25 11 .25-3 .25-6 .25 12 .25-3 .25 6 .25-3 .25-4 .25-5 .25-8 .25 9 .25 9 .25-8 .25-3 .25 5 .25 3 .25 11 .25-21 .25 4 .25-4 .25 2 .25 9 .25-5 .25-7 .25 16 .25 3 .25-5 .25-9 .25-1 .25 14 .25-13 .25 3 .25-5 .25 19 .25-15 .25 3 .25-3 .25 1 .25-3 .25 13 .25-10 .25 12 .25-15 .25 10 .25 3 .25-11 .25 7 .25-4 .25-4 .25 4 .25-9 .25 8 .25-7 .25 11 .25 4 .25-1 .25-12 .25 2 .25 12 .25-4 .25-4 .25-15 .25 10 .25 15 .25-10 .25-4 .25 3 .25 13 .25-6 .25-14 .25 1 .25 6 .25 7 .25-12 .25 1 .25-11 .25 11 .25 7 .25 0 .25-12 .25 14 .25-9 .25-3 .25 11 .25-11 .25 7 .25-2 .25 4 .25 2 .25-3 .25-3 .25 2 .25-12 .25 13 .25 12 .25-10 .25 4 .25-7 .25-1 .25 3 .25 1 .25-1 .25-8 .25 5 .25-9 .25 15 .25-6 .25-1 .25-6 .25 10 .25 3 .25-3 .25 4 .25-11 .25 10 .25-5 .25-16 .25 17 .25-7 .25 5 .25-3 .25-1 .25 11 .25-9 .25 4 .25 3 .25-6 .25-5 .25 7 .25-1 .25-5 .25 6 .25 7 .25-2 .25 3 .25-1 .25-7 .25-1 .25-6 .25 13 .25-10 .25 6 .25 6 .25-9 .25-9 .25 2 .25 4 .25 10 .25-10 .25 1 .25-5 .25 8 .25-1 .25 5 .25-9 .25 9 .25-10 .25 5 .25 1 .25 3 .25 4 .25-15 .25 14 .25-2 .25-5 .25 7 .25 4 .25-5 .25 0 .25 6 .25-8 .25 10 .25-5 .25 0 .25 1 .25 3 .25-12 .25 10 .25-13 .25 7 .25 1 .25-3 .25-8 .25-1 .25 0 .25 5 .25 1 .25 2 .25-13 .25 11 .25 3 .25-5 .25-1 .25 5 .25 4 .25 0 .25 0 .25-16 .25 16 .25-10 .25 7 .25-8 .25 6 .25-6 .25 2 .25 12 .25-18 .25 12 .25-5 .25-7 .25 14 .25-8 .25-3 .25 5 .25-7 .25 15 .25-18 .25 6 .25-8 .25 13 .25 4 .25 1 .25 4 .25-8 .25-2 .25 8 .25-9 .25 6 .25-5 .25-1 .25 4 .25 6 .25-1 .25-4 .25-16 .25 16 .25 2 .25 1 .25-6 .25 10 .25-3 .25-13 .25 16 .25 5 .25-7 .25-6 .25 14 .25-4 .25-17 .25 16 .25-4 .25-1 .25-12 .25 0 .25 10 .25 10 .25-10 .25 0 .25-4 .25 2 .25 8 .25-10 .25 15 .25-8 .25-1 .25-3 .25-3 .25 3 .25-7 .25 8 .25-11 .25 23 .25-13 .25-8 .25 10 .25-1 .25-4 .25 5 .25-6 .25 3 .25 0 .25 4 .25-7 .25 5 .25-18 .25 22 .25-5 .25 2 .25-4 .25 7 .25-5 .25 2 .25-1 .25-3 .25-1 .25 9 .25 1 .25-4 .25 8 .25-6 .25 2 .25 4 .25-2 .25-6 .25-5 .25 1 .25-2 .25 10 .25-22 .25 28 .25-17 .25 11 .25-5 .25 0 .25-10 .25 13 .25-7 .25 4 .25-9 .25 5 .25-4 .25 6 .25 2 .25-5 .25 4 .25 1 .25-3 .25-2 .25-9 .25 18 .25-5 .25-2 .25 3 .25-4 .25 1 .25 6 .25-11 .25 7 .25 4 .25-10 .25 4 .25 14 .25 6 .25-11 .25 3 .25-9 .25 13 .25-8 .25 0 .25 2 .25-7 .25-1 .25 3 .25-7 .25 2 .25-13 .25 9 .25 8 .25 3 .25-4 .25-8 .25 5 .25-6 .25-1 .25 12 .25-8 .25 1 .25 3 .25 4 .25-4 .25-2 .25 3 .25-2 .25-2 .25-11 .25 8 .25 4 .25-6 .25 17 .25 3 .25-4 .25-14 .25 8 .25 0 .25 1 .25-11 .25 15 .25 5 .25-4 .25 8 .25-13 .25 6 .25 4 .25-13 .25 5 .25-4 .25 10 .25-12 .25 8 .25-5 .25 8 .25-9 .25 2 .25 2 .25-7 .25 2 .25 0 .25-2 .25 4 .25-7 .25 4 .25-2 .25-3 .25-3 .25-4 .25 6 .25 8 .25-5 .25 11 .25-14 .25 4 .25-6 .25 16 .25-14 .25 11 .25-1 .25 13 .25-7 .25-3 .25-4 .25 10 .25-13 .25-6 .25 12 .25-5 .25-4 .25 6 .25 1 .25-12 .25 14 .25 6 .25-13 .25-6 .25 11 .25-2 .25 6 .25 1 .25-6 .25 10 .25-19 .25 7 .25 6 .25 1 .25-3 .25 3 .25-10 .25-6 .25 17 .25 3 .25-9 .25-7 .25 2 .25 7 .25-3 .25 6 .25 2 .25-3 .25-9 .25 7 .25-4 .25-2 .25 0 .25-2 .25-6 .25 8 .25-7 .25 4 .25 5 .25 0 .25-15 .25 7 .25-2 .25 8 .25-6 .25 10 .25-8 .25 5 .25-8 .25 1 .25 3 .25 4 .25-15 .25 12 .25-9 .25 10 .25-12 .25 8 .25 9 .25 2 .25-14 .25 15 .25-12 .25 3 .25 3 .25-2 .25 2 .25-1 .25 5 .25-4 .25-3 .25-3 .25 0 .25 6 .25 5 .25-3 .25-3 .25 4 .25-5 .25 4 .25 2 .25-5 .25 9 .25-1 .25-8 .25 5 .25-3 .25 0 .25-1 .25 5 .25-6 .25-1 .25 3 .25 0 .25 4 .25-15 .25 8 .25-15 .25 11 .25-8 .25-1 .25 7 .25-5 .25 4 .25-13 .25 23 .25-22 .25 11 .25 14 .25-17 .25 18 .25-3 .25-6 .25-1 .25 1 .25 4 .25 4 .25 3 .25-19 .25 18 .25 0 .25-10 .25 13 .25 1 .25 1 .25-5 .25 6 .25 3 .25-11 .25 1 .25-1 .25 10 .25-7 .25-5 .25-3 .25-2 .25 7 .25 3 .25 1 .25-14 .25 0 .25-1 .25 0 .25-4 .25 17 .25-7 .25-5 .25-12 .25 22 .25-3 .25-4 .25 4 .25-8 .25 8 .25-6 .25 6 .25-4 .25-6 .25 2 .25 12 .25 0 .25-7 .25-3 .25 1 .25 5 .25-10 .25 13 .25-11 .25-2 .25 7 .25 11 .25-16 .25 2 .25-4 .25 8 .25 0 .25-1 .25-2 .25 4 .25 3 .25-7 .25 2 .25-2 .25 1 .25 10 .25-12 .25 7 .25 6 .25-9 .25 7 .25 1 .25-12 .25 14 .25-11 .25 6 .25-9 .25-1 .25 8 .25 10 .25 5 .25 1 .25-8 .25-1 .25-3 .25-1 .25-6 .25 0 .25 5 .25 0 .25-6 .25-3 .25 2 .25 22 .25-22 .25 12 .25-1 .25-1 .25-10 .25 15 .25-10 .25-6 .25-1 .25 4 .25 13 .25-20 .25 4 .25 4 .25 2 .25-8 .25 0 .25 3 .25 7 .25-5 .25 0 .25 2 .25-1 .25 5 .25-10 .25 4 .25-3 .25 7 .25 1 .25-7 .25 9 .25-8 .25 9 .25-10 .25-1 .25-6 .25 3 .25 3 .25-9 .25 11 .25 5 .25-2 .25-2 .25 2 .25-8 .25 0 .25 6 .25-6 .25 3 .25-9 .25 1 .25-3 .25-10 .25-4 .25-10 .25-13 .25-6 .25-11 .25-3 .21-3 .04-1 .25 3 .25 8 .25 8 .25 9 .25 12 .25 4 .25 10 .25 9 .25-7 .25 5 .25 8 .25 1 .25 2 .25-11 .25 6 .25 8 .25 1 .25 4 .25-9 .25-2 .25-1 .25 1 .25-6 .25 22 .25-12 .25-1 .25 0 .25 8 .25-2 .25-5 .25 11 .25-5 .25-2 .25 1 .25 7 .25-3 .25-4 .25 6 .25-19 .25 17 .25-9 .25 1 .25 2 .25 12 .25-11 .25 0 .25 4 .25-15 .25 10 .25 5 .25-10 .25 9 .25-8 .25-5 .25 14 .25-5 .25 4 .25-4 .25-7 .25 12 .25-3 .25 0 .25-5 .25-4 .25 14 .25-3 .25-4 .25-4 .25 11 .25-13 .25 0 .25 17 .25-9 .25 2 .25-2 .25 8 .25-10 .25 0 .25-8 .25 5 .25-10 .25 6 .25 0 .25 2 .25 1 .25-12 .25-5 .25 0 .25-8 .25-2 .25-8 .25-9 .25-5 .25-3 .12-1 .13 0 .25 4 .25 7 .25 6 .25 6 .25 8 .25 5 .25 6 .25 4 .25 2 .25 4 .25-2 .25-1 .25 0 .25-7 .25 5 .25 12 .25-10 .25 2 .25 1 .25-8 .25 0 .25 2 .25-8 .25 3 .25-6 .25-7 .25-8 .25-10 .25-13 .25-14 .25-11 .25-10 .25-6 .14-1 .11 0 .25 6 .25 9 .25 14 .25 13 .25 12 .25 9 .25 11 .25 10 .25 2 .25 4 .25 14 .25-15 .25 6 .25-1 .25 4 .25 19 .25-22 .25 4 .25-2 .25-2 .25 9 .25-7 .25 8 .25 2 .25-10 .25 11 .25-15 .25 9 .25 5 .25-11 .25 5 .25 4 .25 1 .25-2 .25 9 .25-12 .25 7 .25 4 .25-17 .25-1 .25-5 .25 5 .25-1 .25-15 .25 0 .25-3 .25 4 .25-8 .19 1 .06-3 .25 6 .25-1 .25 6 .25 1 .25 7 .25 3 .25 5 .25 3 .25 11 .25-12 .25 13 .25-5 .25-2 .25 3 .25-1 .25 4 .25-1 .25-1 .25-2 .25-11 .25 14 .25 1 .25-4 .25-1 .25-7 .25 7 .25 3 .25-12 .25 5 .25-1 .25 10 .25-9 .25-8 .25 11 .25 7 .25-9 .25-2 .25 4 .25 9 .25-12 .25 1 .25 4 .25-7 .25-5 .25 11 .25-3 .25 5 .25-1 .25 2 .25-9 .25 8 .25-7 .25 7 .25-4 .25 12 .25-15 .25-9 .25 14 .25-4 .25-3 .25 7 .25 8 .25-10 .25-3 .25 12 .25-1 .25-6 .25-2 .25 8 .25-8 .25 1 .25-1 .25 8 .25 5 .25-8 .25 9 .25-21 .25 10 .25-10 .25 14 .25 2 .25-18 .25 6 .25 4 .25-9 .25 3 .25 0 .25 6 .25-5 .25-2 .25 2 .25 4 .25 1 .25-2 .25 8 .25-9 .25 3 .25 3 .25-6 .25 9 .25-3 .25 0 .25-10 .25 4 .25 4 .25 3 .25-10 .25 1 .25-4 .25-1 .25 15 .25-6 .25 4 .25 4 .25-6 .25 1 .25-6 .25 3 .25 6 .25 5 .25-2 .25-9 .25-1 .25 8 .25-1 .25 0 .25-1 .25 5 .25-5 .25 6 .25-4 .25-3 .25-6 .25 8 .25 3 .25-3 .25-7 .25-5 .25 9 .25 12 .25-16 .25 3 .25 4 .25 4 .25-11 .25 6 .25 1 .25-9 .25 9 .25-8 .25 7 .25 2 .25-3 .25-7 .25 10 .25 0 .25-3 .25 4 .25-8 .25-2 .25 3 .25 4 .25 1 .25-9 .25 5 .25 0 .25-4 .25-9 .25 2 .25 15 .25-13 .25-2 .25 3 .25 6 .25 9 .25-4 .25-5 .25 1 .25 5 .25-2 .25-10 .25 17 .25-2 .25-11 .25 5 .25 3 .25 0 .25-4 .25 2 .25 10 .25-12 .25 7 .25-4 .25-8 .25 10 .25-1 .25 4 .25 3 .25-4 .25-4 .25 1 .25 1 .25-10 .25-2 .25 10 .25-11 .25 4 .25 11 .25-5 .25 2 .25-7 .25 7 .25-11 .25 1 .25 4 .25-2 .25 11 .25-7 .25-5 .25 12 .25-1 .25 4 .25-13 .25 2 .25-8 .25 15 .25-2 .25-3 .25 10 .25-12 .25 2 .25-3 .25-1 .25 5 .25-1 .25-1 .25-5 .25-1 .25 4 .25 3 .25-4 .25 2 .25 1 .25-3 .25-3 .25 9 .25 10 .25-6 .25-3 .25-3 .25 1 .25 9 .25-12 .25 16 .25-10 .25 1 .25-4 .25 7 .25-1 .25-10 .25 14 .25-10 .25-10 .25 10 .25-1 .25-1 .25 3 .25 1 .25-13 .25 5 .25 1 .25 1 .25-11 .25 12 .25-1 .25 11 .25-15 .25 2 .25 6 .25-2 .25 6 .25 2 .25-11 .25 6 .25 4 .25-8 .25 18 .25-11 .25-1 .25-9 .25 5 .25-8 .25 16 .25-9 .25 5 .25 2 .25-1 .25-3 .25 7 .25-10 .25-4 .25 3 .25 13 .25 5 .25-12 .25 1 .25 6 .25-10 .25 4 .25-5 .25 8 .25-18 .25 8 .25-3 .25 9 .25 3 .25-4 .25 11 .25-12 .25-6 .25 3 .25 6 .25-2 .25 10 .25-11 .25-7 .25 0 .25 10 .25-20 .25 18 .25 2 .25-7 .25 4 .25 6 .25 0 .25-1 .25-2 .25-7 .25-6 .25-6 .25 23 .25-5 .25-13 .25 14 .25-9 .25 0 .25-4 .25 19 .25-20 .25 1 .25 11 .25 1 .25-2 .25-9 .25 4 .25-4 .25 2 .25 13 .25-9 .25 3 .25-10 .25 2 .25 5 .25 5 .25-8 .25 9 .25 6 .25-24 .25 11 .25 4 .25-5 .25 11 .25-8 .25 1 .25-11 .25 16 .25-8 .25 5 .25-5 .25-2 .25 3 .25-7 .25 6 .25 7 .25-1 .25-11 .25 10 .25-7 .25-1 .25 7 .25 0 .25-8 .25 9 .25-5 .25 12 .25-22 .25 7 .25-1 .25-4 .25-3 .25 13 .25-6 .25-10 .25 4 .25 0 .25 3 .25-7 .25 11 .25-9 .25 4 .25-8 .25-8 .25-6 .25-8 .25-11 .25-11 .25-12 .25-10 .25-9 .24-2 .01 0 .25 3 .25 8 .25 10 .25 12 .25 12 .25 8 .25 8 .25 8 .25 5 .25 1 .25 16 .25-2 .25-5 .25 6 .25-8 .25 13 .25-5 .25-2 .25-3 .25 13 .25-3 .25-3 .25 9 .25-6 .25 3 .25-5 .25 5 .25-9 .25 4 .25 2 .25-6 .25 1 .25 7 .25-8 .25 8 .25-4 .25-2 .25-10 .25 17 .25 0 .25-7 .25 0 .25 0 .25-3 .25 2 .25 4 .25-11 .25 9 .25 3 .25-12 .25 7 .25-5 .25 1 .25 11 .25-10 .25 22 .25-16 .25-3 .25 3 .25 2 .25 2 .25 0 .25 0 .25 4 .25 1 .25-6 .25 2 .25-7 .25 1 .25 1 .25 10 .25-11 .25 5 .25-1 .25 4 .25-8 .25 1 .25 9 .25-5 .25-5 .25 10 .25-6 .25-3 .25 8 .25 5 .25-12 .25-4 .25-7 .25 24 .25-13 .25 2 .25-4 .25 5 .25-5 .25 16 .25-5 .25-7 .25-4 .25 10 .25-8 .25 12 .25-5 .25-2 .25-6 .25 8 .25-8 .25 15 .25-17 .25 10 .25 16 .25-16 .25 7 .25 2 .25-4 .25-3 .25 6 .25 0 .25-10 .25 11 .25-2 .25-14 .25 8 .25 0 .25-3 .25-5 .25-3 .25 10 .25-12 .25 6 .25-7 .25 7 .25 5 .25-8 .25 13 .25 1 .25-3 .25 1 .25 5 .25-4 .25-14 .25 8 .25-4 .25 5 .25-10 .25 10 .25-3 .25 5 .25-9 .25 4 .25-11 .25 11 .25 0 .25-8 .25 8 .25-9 .25 11 .25-8 .25 2 .25 11 .25-7 .25 5 .25-3 .25-6 .25 9 .25-8 .25-1 .25-3 .25-4 .25 10 .25-4 .25 4 .25-3 .25 5 .25-7 .25 5 .25 4 .25 2 .25-8 .25-5 .25 13 .25-1 .25-11 .25 11 .25-5 .25-8 .25 6 .25-8 .25 5 .25 0 .25 2 .25 6 .25-15 .25-9 .25 21 .25-6 .25 7 .25 0 .25 5 .25-21 .25 20 .25-8 .25-2 .25 12 .25 0 .25-14 .25 5 .25 13 .25-16 .25 11 .25 1 .25-3 .25-2 .25 7 .25-6 .25-5 .25 8 .25-13 .25 5 .25 5 .25-12 .25 16 .25-7 .25-3 .25-6 .25 7 .25-3 .25 5 .25-5 .25 5 .25-10 .25 0 .25 5 .25-7 .25 10 .25 2 .25-9 .25 8 .25-2 .25 0 .25 11 .25-9 .25 3 .25-3 .25 1 .25 2 .25 2 .25-2 .25 8 .25-8 .25 1 .25 11 .25-9 .25 3 .25-1 .25-7 .25 10 .25-7 .25-1 .25 0 .25 1 .25 3 .25-17 .25 20 .25-19 .25 5 .25 11 .25-5 .25 5 .25-10 .25 7 .25 3 .25-8 .25 1 .25 4 .25 2 .25-17 .25 12 .25 4 .25 7 .25-15 .25 7 .25-7 .25 0 .25 2 .25 12 .25-7 .25 2 .25-6 .25 6 .25-7 .25 4 .25-14 .25 4 .25 8 .25 9 .25-2 .25-17 .25 5 .25 0 .25 17 .25-19 .25 6 .25 6 .25-3 .25-11 .25 19 .25-23 .25 14 .25-4 .25-6 .25 6 .25 0 .25-4 .25 3 .25 2 .25 3 .25-14 .25 9 .25 4 .25 5 .25 1 .25-17 .25 6 .25 5 .25 3 .25 5 .25-12 .25-5 .25 7 .25 1 .25-5 .25-2 .25 9 .25-11 .25 5 .25 4 .25 0 .25-1 .25-6 .25-12 .25 11 .25 7 .25 0 .25 2 .25-6 .25 2 .25-7 .25 0 .25 5 .25-12 .25 0 .25 4 .25-2 .25-8 .25 8 .2-6 .05 0 .25 5 .25-1 .25 1 .25 4 .25-1 .25-12 .25 12 .25 2 .25-2 .25 0 .25 4 .25 0 .25 0 .25 0 .25-4 .25 7 .25-4 .25 9 .25-7 .25 1 .25-5 .25 6 .25 5 .25-10 .25 14 .25-6 .25-2 .25 6 .25-2 .25-13 .25 17 .25-2 .25-4 .25-17 .25 0 .25 7 .25 15 .25 1 .25-5 .25-1 .25-13 .25 13 .25-5 .25 4 .25-5 .25 11 .25-7 .25 4 .25-2 .25-5 .25-4 .25 1 .25 2 .25 6 .25 12 .25-9 .25-3 .25 6 .25-11 .25 9 .25 0 .25-15 .25 15 .25-5 .25 3 .25-1 .25 2 .25-5 .25 9 .25 1 .25-12 .25 7 .25-3 .25 9 .25-12 .25 6 .25-1 .25-7 .25 15 .25-5 .25-8 .25 12 .25 1 .25-15 .25 8 .25-1 .25 0 .25 1 .25-3 .25-8 .25 10 .25-8 .25 5 .25 6 .25 8 .25-2 .25-12 .25 4 .25 9 .25-4 .25 2 .25-9 .25 8 .25 0 .25 4 .25 2 .25-15 .25 12 .25-10 .25 1 .25 8 .25-8 .25 2 .25 7 .25 4 .25-9 .25-9 .25 7 .25-4 .25 2 .25 5 .25-4 .25 2 .25 0 .25-1 .25-10 .25 9 .25 0 .25 10 .25-5 .25-3 .25-5 .25 6 .25-12 .25 13 .25-8 .25 0 .25 11 .25-7 .25 0 .25-6 .25 15 .25-23 .25 18 .25-1 .25 1 .25-6 .25-3 .25 16 .25-7 .25 2 .25-15 .25 15 .25 3 .25-4 .25-15 .25 3 .25-8 .25 16 .25 5 .25-4 .25-5" fill="none" stroke="#000000" stroke-width="2.2" stroke-linejoin="round"/>
<path d="M92 1196l.25-4 .25 7 .25 3 .25 4 .25-7 .25-5 .25-2 .25 10 .25 5 .25-9 .25-10 .25 2 .25 16 .25-9 .25-13 .25 11 .25-7 .25 3 .25 1 .25-1 .25 9 .25-4 .25-3 .25 7 .25 3 .25-16 .25 9 .25-4 .25 5 .25-7 .25 9 .25-1 .25-2 .25-5 .25 4 .25-4 .25-2 .25 10 .25-9 .25 15 .25-3 .25-17 .25 15 .25-8 .25 8 .25 1 .25-13 .25 13 .25 1 .25 8 .25-13 .25 13 .25-11 .25 5 .25-2 .25 15 .25-6 .25 12 .25-11 .25 1 .25-1 .25-9 .25 3 .25 8 .25-12 .25 4 .25-2 .25 3 .25-7 .25 1 .25 2 .25-1 .25-7 .25 11 .25-14 .25 0 .25-1 .25 14 .25-9 .25-4 .25-1 .25 10 .25-10 .25-1 .25 12 .25-11 .25 6 .25 2 .25-2 .25 3 .25 9 .25-11 .25-5 .25-3 .25 11 .25-1 .25 4 .25-5 .25 0 .25-2 .25 1 .25 5 .25-4 .25 2 .25 12 .25-10 .25-14 .25 21 .25-10 .25-9 .25 12 .25-6 .25-5 .25 0 .25-3 .25 7 .25 7 .25-9 .25 5 .25 10 .25-19 .25 10 .25-3 .25-5 .25 1 .25 6 .25 3 .25-6 .25 4 .25 4 .25-2 .25 3 .25-2 .25 0 .25 9 .25-8 .25-3 .25 4 .25-10 .25 4 .25 8 .25-1 .25 6 .25-9 .25-10 .25 23 .25-5 .25-14 .25 16 .25-9 .25-12 .25 9 .25 0 .25 13 .25-16 .25 4 .25-1 .25-1 .25-4 .25 7 .25 6 .25-4 .25-10 .25-2 .25 8 .25-6 .25 0 .25-7 .25 23 .25-6 .25-12 .25 12 .25 4 .25-24 .25 13 .25 1 .25 8 .25-4 .25-1 .25 2 .25 13 .25 2 .25-17 .25-3 .25 23 .25-24 .25 2 .25 3 .25 3 .25 3 .25-5 .25-9 .25 8 .25-2 .25 11 .25-13 .25-9 .25 2 .25 16 .25-13 .25-10 .25 9 .25 4 .25 7 .25-15 .25 10 .25 0 .25-10 .25 2 .25 12 .25-1 .25-6 .25-3 .25 5 .25-9 .25 1 .25-5 .25 7 .25 0 .25 19 .25-18 .25 10 .25 1 .25-8 .25 9 .25-21 .25 15 .25 5 .25-21 .25 8 .25 13 .25-9 .25-5 .25 4 .25-2 .25 8 .25-2 .25-4 .25-3 .25 4 .25 10 .25-7 .25 2 .25-4 .25-8 .25 4 .25 9 .25-4 .25-7 .25-5 .25 11 .25-3 .25 0 .25 0 .25 4 .25 0 .25 4 .25 0 .25 3 .25-3 .25-7 .25 2 .25 3 .25-5 .25 6 .25 4 .25-13 .25-6 .25 19 .25-8 .25 5 .25-14 .25 21 .25-6 .25-6 .25 0 .25 3 .25-1 .25 0 .25-4 .25 16 .25-8 .25 2 .25 0 .25-15 .25 19 .25-5 .25 1 .25 2 .25-6 .25 12 .25-10 .25-1 .25 0 .25 6 .25 4 .25-9 .25-7 .25 16 .25-14 .25 14 .25-9 .25-5 .25 0 .25 6 .25 3 .25-8 .25 7 .25 6 .25-15 .25-7 .25 0 .25-2 .25 4 .25-1 .25-4 .25 12 .25-21 .25 9 .25 21 .25-6 .25-3 .25-1 .25 9 .25-8 .25-3 .25-8 .25 7 .25-4 .25 1 .25 0 .25 4 .25-2 .25 8 .25-14 .25 7 .25 13 .25-12 .25 7 .25 0 .25 1 .25-4 .25-14 .25 8 .25-1 .25-7 .25 7 .25-5 .25-2 .25 12 .25-1 .25-4 .25-2 .25 3 .25 1 .25 0 .25 3 .25-3 .25 6 .25 1 .25-1 .25-6 .25 0 .25 7 .25-4 .25 1 .25-15 .25-2 .25 20 .25 0 .25 7 .25-4 .25-4 .25-1 .25-10 .25 15 .25-10 .25 7 .25-2 .25 0 .25 4 .25-10 .25 1 .25-4 .25 3 .25 14 .25-13 .25 10 .25-2 .25-1 .25 1 .25-11 .25 9 .25 9 .25-15 .25 5 .25-4 .25 7 .25-8 .25 18 .25-13 .25-7 .25 22 .25-5 .25-2 .25 0 .25-5 .25 1 .25 6 .25 2 .25 0 .25-5 .25-4 .25 1 .25 8 .25 2 .25-12 .25-1 .25 10 .25-3 .25-1 .25-14 .25 6 .25-2 .25 4 .25-12 .25 18 .25-6 .25 0 .25-11 .25 7 .25 8 .25-19 .25 12 .25 2 .25-9 .25 9 .25-7 .25 10 .25-5 .25-1 .25 11 .25-7 .25 4 .25-16 .25 4 .25 10 .25 1 .25-6 .25 6 .25-12 .25 9 .25-9 .25 10 .25-5 .25-1 .25 5 .25 12 .25-18 .25 2 .25 11 .25-10 .25 14 .25-11 .25-1 .25 1 .25 8 .25-8 .25-1 .25-2 .25-13 .25 4 .25 15 .25-4 .25-2 .25 1 .25-8 .25 6 .25-7 .25 9 .25-7 .25 3 .25 5 .25-4 .25 6 .25-1 .25 0 .25 7 .25-18 .25-1 .25 15 .25 2 .25 7 .25-9 .25 0 .25-11 .25 10 .25 0 .25-12 .25 1 .25 5 .25 2 .25-21 .25 20 .25 1 .25-3 .25 3 .25 1 .25-9 .25 9 .25-4 .25-4 .25 7 .25 9 .25-19 .25-1 .25 0 .25 24 .25-15 .25 1 .25-4 .25-1 .25-7 .25 14 .25 1 .25-15 .25 7 .25 2 .25 5 .25 2 .25 6 .25 2 .25-2 .25 2 .25-16 .25 4 .25 11 .25-6 .25-2 .25-13 .25 1 .25 16 .25-2 .25-5 .25-1 .25-8 .25 13 .25 4 .25 3 .25-10 .25-2 .25-6 .25 15 .25 3 .25-15 .25 6 .25-2 .25-4 .25-13 .25 14 .25 6 .25-14 .25 4 .25-14 .25 28 .25-5 .25-3 .25-2 .25-2 .25 4 .25-1 .25 0 .25 2 .25 1 .25 9 .25-20 .25 11 .25-6 .25-4 .25-9 .25 19 .25-10 .25 1 .25 7 .25-10 .25 7 .25 0 .25 5 .25 2 .25-13 .25 12 .25-6 .25 1 .25-2 .25 6 .25-12 .25 9 .25 6 .25-9 .25 15 .25-18 .25 6 .25-4 .25 0 .25-3 .25 4 .25 4 .25-5 .25 12 .25 4 .25-19 .25 16 .25-4 .25 1 .25 15 .25-8 .25-6 .25-1 .25-15 .25 19 .25-11 .25 6 .25-1 .25 5 .25 6 .25-7 .25 1 .25-10 .25 4 .25 2 .25-15 .25 23 .25-18 .25-3 .25 19 .25 3 .25-17 .25 1 .25 24 .25-18 .25-13 .25 9 .25 18 .25-8 .25 1 .25 3 .25-3 .25-7 .25-8 .25 13 .25-10 .25 7 .25 11 .25-8 .25-3 .25 0 .25 4 .25 1 .25-14 .25 10 .25 10 .25-6 .25-10 .25 1 .25-9 .25 8 .25 16 .25-11 .25-5 .25 2 .25 4 .25 0 .25-2 .25-2 .25 9 .25 6 .25-14 .25 0 .25 11 .25-17 .25 5 .25 1 .25 4 .25-4 .25-4 .25 8 .25-10 .25-3 .25-2 .25 18 .25-16 .25 14 .25 2 .25 1 .25-6 .25-2 .25 4 .25-5 .25-4 .25 16 .25-14 .25 18 .25-9 .25-6 .25 5 .25 5 .25-17 .25 2 .25-1 .25 7 .25 1 .25-3 .25-5 .25 0 .25 11 .25-1 .25-6 .25-10 .25 13 .25-2 .25-1 .25 10 .25-6 .25-11 .25-1 .25 15 .25-7 .25 4 .25-7 .25-6 .25 7 .25 8 .25-8 .25-10 .25 5 .25-1 .25 4 .25 6 .25 6 .25-10 .25-4 .25 4 .25 0 .25-2 .25 3 .25 0 .25-7 .25 12 .25-6 .25-3 .25 10 .25-6 .25 14 .25-8 .25-2 .25-5 .25 2 .25 8 .25-10 .25 9 .25-19 .25 14 .25 4 .25-4 .25-3 .25 5 .25-12 .25-2 .25 5 .25 5 .25-6 .25-6 .25 0 .25-4 .25-11 .25-10 .25-4 .25-11 .25-12 .25-13 .25-13 .25-11 .25-7 .15-1 .1 1 .25 5 .25 10 .25 13 .25 13 .25 12 .25 14 .25 9 .25 8 .25 6 .25 6 .25-3 .25 4 .25-5 .25 8 .25 1 .25-3 .25 7 .25 14 .25-24 .25 13 .25 1 .25 1 .25-11 .25 13 .25-3 .25-4 .25-1 .25 4 .25 4 .25 0 .25 9 .25-17 .25 6 .25-7 .25 8 .25-4 .25-5 .25-5 .25 3 .25 7 .25 8 .25-5 .25-13 .25 5 .25 3 .25-2 .25 1 .25 3 .25-5 .25-7 .25-8 .25 5 .25-8 .25 2 .25-2 .25-5 .1 3 .15 0 .25 7 .25 0 .25-4 .25 12 .25 4 .25 0 .25 1 .25 8 .25 1 .25-1 .25-9 .25 4 .25-9 .25-1 .25 5 .25-4 .25 3 .25 18 .25-14 .25-9 .25-9 .25 8 .25-4 .25-5 .25 19 .25-7 .25 7 .25 18 .25-18 .25 0 .25 2 .25-3 .25-3 .25 5 .25 10 .25-9 .25-6 .25 1 .25 1 .25 7 .25 4 .25-1 .25 5 .25-9 .25 6 .25-3 .25 2 .25-17 .25 19 .25-18 .25 2 .25 12 .25-8 .25 14 .25-11 .25-8 .25 7 .25-4 .25 12 .25 1 .25-6 .25-8 .25 3 .25 7 .25-12 .25 1 .25 10 .25 0 .25-5 .25 0 .25-10 .25 20 .25-7 .25-8 .25 2 .25 2 .25 16 .25-7 .25-12 .25 18 .25-5 .25-14 .25-10 .25 15 .25-11 .25-3 .25-7 .25-3 .25-11 .25-14 .25-17 .25-20 .25-23 .25-25 .25-25 .25-22 .25-14 .21-5 .04 1 .25 8 .25 18 .25 23 .25 25 .25 24 .25 22 .25 19 .25 13 .25 13 .25 10 .25 7 .25 3 .25 8 .25 2 .25-13 .25 12 .25 0 .25-2 .25-2 .25 5 .25 2 .25 0 .25 7 .25-2 .25-10 .25 0 .25 10 .25-9 .25 6 .25 3 .25 4 .25-2 .25 6 .25-11 .25 8 .25-7 .25 6 .25 0 .25-6 .25-10 .25 23 .25-3 .25-2 .25-5 .25 2 .25 4 .25-3 .25 6 .25-7 .25-7 .25 7 .25-10 .25 3 .25-13 .25 4 .25 1 .25-8 .25-1 .25-1 .25-3 .1 5 .15-6 .25 2 .25 2 .25-5 .25 4 .25 11 .25-2 .25 11 .25-7 .25 0 .25 9 .25-5 .25 9 .25-17 .25 10 .25 2 .25-1 .25 4 .25 0 .25-6 .25-4 .25 11 .25-6 .25 7 .25 3 .25-7 .25-6 .25 5 .25 7 .25-6 .25 9 .25-7 .25 1 .25-4 .25 4 .25 7 .25-8 .25 0 .25-3 .25 10 .25-14 .25 5 .25 10 .25 3 .25-11 .25 7 .25-19 .25 17 .25-4 .25-10 .25-4 .25 7 .25 4 .25 0 .25-3 .25 4 .25-2 .25-13 .25 5 .25-1 .25 8 .25-9 .25 7 .25-6 .25 10 .25-13 .25-2 .25-4 .25-4 .25-2 .25-15 .25-12 .25-15 .25-19 .25-23 .25-25 .25-25 .25-22 .25-16 .22-5 .03 0 .25 8 .25 17 .25 23 .25 25 .25 25 .25 21 .25 19 .25 16 .25 12 .25 9 .25 8 .25 3 .25 1 .25 11 .25-16 .25 5 .25 2 .25 1 .25 0 .25 3 .25-2 .25 4 .25 5 .25-2 .25 1 .25-5 .25 0 .25 6 .25 10 .25-3 .25 6 .25 1 .25 2 .25-12 .25 14 .25-3 .25 9 .25-9 .25-2 .25-3 .25 1 .25-12 .25 9 .25 0 .25 6 .25-11 .25 5 .25 10 .25-16 .25 8 .25-10 .25 2 .25 3 .25 2 .25-10 .25-4 .25 15 .25-9 .25 2 .25 0 .25-3 .25-7 .25-1 .25-11 .25 9 .25-6 .25 1 .25 8 .25-8 .25-5 .25-8 .21 9 .04 4 .25-11 .25 7 .25-3 .25 3 .25 0 .25-7 .25 7 .25-6 .25 19 .25-2 .25-6 .25 1 .25-1 .25 1 .25 0 .25-3 .25 1 .25-8 .25 2 .25 2 .25 5 .25-4 .13 14 .12-13 .25-1 .25 5 .25 4 .25 5 .25-5 .25-10 .25 3 .25 7 .25-5 .25 4 .25-5 .25 11 .25-1 .25-1 .25-6 .25-10 .25 2 .25 11 .25 2 .25-22 .25 15 .25 10 .25-3 .25-10 .25 5 .25-5 .25-3 .25 4 .25-1 .21-8 .04-2 .25-1 .25 1 .25 15 .25 5 .25-7 .25 7 .25-9 .25 5 .25 8 .25-3 .25-1 .25-9 .25 3 .25 7 .25 1 .25 4 .25-3 .25 3 .25 3 .25 3 .25-2 .25-4 .25 2 .25 8 .25-6 .25-5 .25 0 .25 9 .25 2 .25 5 .25-10 .25 11 .25-10 .25 1 .25-2 .25 7 .25 3 .25-6 .25-3 .25-7 .25 11 .25-3 .25 1 .25-3 .25-2 .25 3 .25 5 .25 3 .25-6 .25 2 .25-3 .25 0 .25-8 .25 14 .25-2 .25 5 .25-13 .25 4 .25-7 .25 7 .25-2 .25 4 .25-5 .25 5 .25-8 .25 7 .25-6 .25-1 .25 3 .25 1 .25-11 .25 0 .25 10 .25-1 .25-13 .25 2 .25 6 .25 7 .25-1 .25 4 .25 0 .25 6 .25-23 .25 5 .25 1 .25-14 .25-6 .25-4 .25-9 .25-11 .25-14 .25-11 .25-8 .25-5 .12-1 .13 1 .25 6 .25 9 .25 11 .25 12 .25 12 .25 6 .25 11 .25 3 .25 2 .25 16 .25 0 .25 6 .25-5 .25 4 .25-3 .25 3 .25-6 .25 13 .25-16 .25 16 .25-12 .25 7 .25-5 .25 2 .25 7 .25-9 .25-7 .25 8 .25 2 .25-19 .25 21 .25 1 .25-19 .25 10 .25 6 .25-12 .25 4 .25 1 .25 6 .25 3 .25-7 .25 1 .25 6 .25-2 .25-4 .25 9 .25-17 .25 10 .25-4 .25 0 .25 4 .25-1 .25 15 .25-12 .25-3 .25 8 .25-5 .25-19 .25 13 .25 3 .25-9 .25 6 .25-5 .25 5 .25-13 .25-1 .25 9 .25 5 .25 8 .25-9 .25-3 .25 12 .25-5 .25 12 .25-12 .25-11 .25 8 .25-1 .25-3 .25 4 .25 1 .25 2 .25-1 .25 6 .25-1 .25-1 .25 0 .25-14 .25 1 .25 5 .25 7 .25-12 .25 6 .25 4 .25 11 .25-12 .25-6 .25 9 .25-6 .25-5 .25 6 .25-12 .25 3 .25-2 .25 2 .11-8 .14-1 .25 5 .25 2 .25 3 .25 0 .25 6 .25 3 .25-2 .25-6 .25 14 .25-16 .25 10 .25 7 .25-9 .25 13 .25 4 .25-1 .25-8 .25 4 .25-10 .25 6 .25 0 .25-2 .25 0 .25-3 .25-12 .25 15 .25-1 .25 11 .25-10 .25-4 .25 5 .25-2 .25-4 .25-2 .25-7 .25 10 .25 10 .25-22 .25 7 .25 11 .25-3 .25 2 .25-14 .25 9 .25 8 .25 1 .25-2 .25-7 .25 9 .25-10 .25 1 .25-1 .25 17 .25-12 .25 4 .25-15 .25 22 .25-4 .25-13 .25 0 .25 22 .25-17 .25 19 .25-15 .25-13 .25 23 .25-4 .25 1 .25-8 .25 1 .25 7 .25-12 .25-8 .25 18 .25-10 .25 12 .25-12 .25 0 .25 1 .25-13 .25 23 .25-12 .25 3 .25 11 .25-9 .25 5 .25-4 .25 2 .25-3 .25 5 .25-10 .25 4 .25-8 .25 12 .25-22 .25 15 .25 1 .25 0 .25-3 .25 9 .25 5 .25-17 .25-8 .25 5 .25 2 .25 4 .25 1 .25 7 .25-10 .25 2 .25 1 .25-7 .25 3 .25 20 .25-19 .25-5 .25-8 .25 20 .25-8 .25-2 .25 20 .25-7 .25-20 .25 9 .25 9 .25-1 .25-13 .25 18 .25 0 .25-19 .25-5 .25 1 .25 10 .25-1 .25-8 .25-7 .25-4 .25-5 .25-11 .25-8 .25-6 .25-5 .25-4 .08 0 .17 1 .25 5 .25 5 .25 10 .25 7 .25 8 .25 4 .25 11 .25 1 .25 0 .25 8 .25-2 .25-3 .25 0 .25 8 .25-11 .25 5 .25-1 .25 4 .25-3 .25 15 .25-25 .25 15 .25-3 .25 7 .25-17 .25 19 .25-17 .25 14 .25-1 .25-3 .25-5 .25-1 .25 6 .25-6 .25-8 .25 0 .25 17 .25 0 .25-2 .25-3 .25 2 .25 1 .25-1 .25-7 .25 1 .25-2 .25 9 .25-7 .25 6 .25 11 .25-11 .25 9 .25 4 .25-22 .25 3 .25 12 .25-8 .25 8 .25 1 .25-8 .25 8 .25 6 .25-5 .25-12 .25 5 .25-2 .25 14 .25-11 .25-2 .25 5 .25 4 .25-5 .25 4 .25 0 .25 6 .25 2 .25-4 .25-5 .25 6 .25-8 .25 13 .25-5 .25-1 .25-18 .25 31 .25-6 .25-2 .25-8 .25 3 .25 14 .25-23 .25 9 .25-1 .25-3 .25 1 .25-8 .25 10 .25-12 .25 21 .25-6 .25-11 .25-7 .25 14 .25 3 .25-9 .25 18 .25-9 .25-5 .25-6 .25 9 .25-1 .25 6 .25 3 .25-7 .25 3 .25 7 .25-5 .25-6 .25 6 .25-8 .25 6 .25-3 .25-8 .25 10 .25-4 .25 3 .25-14 .25 14 .25 0 .25-11 .25 2 .25 0 .25-1 .25 6 .25-11 .25-2 .25 6 .25 14 .25-15 .25-4 .25 1 .25 6 .25 6 .25-12 .25 5 .25-1 .25 0 .25-4 .25 2 .25-5 .25-10 .25 8 .25-18 .25-4 .25 0 .25-7 .25-5 .25-1 .08 0 .17 0 .25 2 .25 4 .25 5 .25 5 .25 10 .25 1 .25 5 .25-4 .25 12 .25-14 .25 13 .25 3 .25-7 .25-2 .25 10 .25-7 .25 0 .25 6 .25-6 .25 7 .25 14 .25-15 .25 9 .25-13 .25 8 .25-2 .25 1 .25 6 .25 9 .25-15 .25 9 .25-6 .25 3 .25-8 .25-2 .25 4 .25-4 .25 5 .25-7 .25 7 .25 1 .25 11 .25-1 .25-7 .25-7 .25 8 .25 1 .25-6 .25-4 .25-6 .25 12 .25 13 .25-14 .25 4 .25-1 .25 1 .25 1 .25-19 .25 12 .25 3 .25-4 .25 8 .25-11 .25 8 .25 5 .25-13 .25 2 .25-2 .25 7 .25-19 .25 5 .25 8 .25 8 .25-1 .25-9 .25 16 .25-9 .25-4 .25 8 .25 5 .25-9 .25-9 .25 6 .25 4 .25 6 .25-13 .25 8 .25-9 .25 8 .25-9 .25 6 .25-7 .25 3 .25-4 .25-2 .25 20 .25 0 .25-5 .25-6 .25 12 .25-12 .25 4 .25 5 .25-6 .25 8 .25-11 .25 0 .25 2 .25-9 .25 1 .25 12 .25-16 .25 19 .25-5 .25 7 .25-3 .25 0 .25 8 .25-11 .25 0 .25 8 .25-11 .25 12 .25-2 .25-8 .25-4 .25-5 .25 25 .25-22 .25 2 .25 14 .25-3 .25-2 .25-1 .25-3 .25-3 .25 1 .25 8 .25 3 .25 0 .25-8 .25-16 .25 18 .25-6 .25-17 .25 25 .25-8 .25-3 .25 1 .25-2 .25 1 .25-1 .25-1 .25 3 .25-1 .25 14 .25-15 .25-3 .25-1 .25 7 .25-1 .25 1 .25-3 .25 0 .25 6 .25 4 .25-7 .25-3 .25-7 .25 0 .25 8 .25-2 .25 1 .25-6 .25 6 .25-11 .25 6 .25 3 .25 9 .25-7 .25-2 .25 9 .25-2 .25 7 .25-3 .25-1 .25-2 .25 6 .25-9 .25-5 .25 16 .25-9 .25 3 .25 4 .25 2 .25-25 .25 11 .25 15 .25-20 .25 14 .25-6 .25-3 .25 4 .25-10 .25 13 .25 5 .25-17 .25 4 .25 12 .25-6 .25-5 .25 11 .25-21 .25 9 .25 3 .25-3 .25 8 .25-15 .25 12 .25-4 .25 14 .25 1 .25-11 .25-1 .25 8 .25-5 .25 3 .25 6 .25-5 .25 15 .25-12 .25-4 .25-4 .25 4 .25 10 .25-4 .25 5 .25-1 .25-5 .25-9 .25 3 .25 1 .25-12 .25 12 .25-10 .25 5 .25-3 .25 6 .25 12 .25-25 .25 7 .25 12 .25-19 .25 4 .25 1 .25 3 .25-13 .25 13 .25 2 .25 13 .25-17 .25-3 .25 5 .25-17 .25 19 .25 8 .25-10 .25 0 .25-1 .25 3 .25-9 .25 19 .25-13 .25 0 .25 14 .25-10 .25-3 .25 13 .25-9 .25 5 .25-10 .25-7 .25 13 .25 8 .25-12 .25 5 .25 3 .25-3 .25-1 .25 5 .25-4 .25-5 .25 10 .25-1 .25-3 .25 2 .25-22 .25 19 .25-1 .25-14 .25 27 .25-11 .25-5 .25 0 .25 5 .25-2 .25-10 .25 8 .25 5 .25 1 .25 2 .25-13 .25 2 .25 6 .25-7 .25 5 .25-8 .25 9 .25-5 .25 3 .25-4 .25-6 .25-4 .25 8 .25-4 .25-6 .25 7 .25 9 .25 3 .25-2 .25 4 .25-11 .25 2 .25-5 .25 2 .25 15 .25-7 .25 1 .25 13 .25-4 .25-19 .25 12 .25-11 .25 11 .25-19 .25 6 .25 0 .25 19 .25-24 .25 19 .25 0 .25-6 .25 5 .25 12 .25-15 .25-3 .25 11 .25-3 .25-12 .25 9 .25 1 .25-9 .25 1 .25 2 .25-3 .25 11 .25-2 .25-16 .25 11 .25 3 .25-10 .25 6 .25 3 .25-13 .25 8 .25-14 .25 20 .25-10 .25-5 .25-3 .25 1 .25 19 .25-14 .25 2 .25 1 .25-7 .25 15 .25-21 .25 23 .25-10 .25 6 .25 3 .25 4 .25-13 .25 13 .25-3 .25 0 .25-1 .25 10 .25-4 .25 5 .25-3 .25-19 .25 12 .25 7 .25-14 .25-6 .25-4 .25 27 .25-20 .25 7 .25-9 .25 10 .25 8 .25-20 .25 9 .25-4 .25-7 .25 7 .25 6 .25 8 .25 1 .25-8 .25-11 .25 16 .25-4 .25 0 .25-7 .25 6 .25 14 .25-3 .25-1 .25-4 .25-7 .25 2 .25 1 .25 2 .25-5 .25-4 .25 13 .25-10 .25 8 .25-7 .25 6 .25-1 .25 2 .25 0 .25-11 .25-2 .25 8 .25 12 .25-17 .25 0 .25 21 .25-26 .25 6 .25 1 .25-2 .25 0 .25 11 .25-7 .25 0 .25-12 .25 16 .25-5 .25 0 .25 5 .25-4 .25-1 .25 3 .25-7 .25-1 .25-3 .25 16 .25-10 .25 6 .25 6 .25 5 .25-14 .25 3 .25 0 .25-9 .25 5 .25 22 .25-19 .25 12 .25-7 .25 6 .25-3 .25-7 .25-10 .25 18 .25-5 .25-2 .25 3 .25-11 .25 5 .25-1 .25-10 .25 2 .25 7 .25-14 .25 19 .25 0 .25-5 .25 2 .25-13 .25 13 .25 5 .25-1 .25 3 .25-6 .25 14 .25-10 .25 3 .25 2 .25-12 .25-2 .25 12 .25-14 .25 4 .25 10 .25-14 .25 0 .25-2 .25 1 .25 19 .25-9 .25 3 .25-20 .25-3 .25 9 .25 14 .25 1 .25-21 .25 1 .25 16 .25-4 .25 1 .25 1 .25-11 .25 6 .25-3 .25 10 .25-11 .25-10 .25 20 .25 4 .25-5 .25-9 .25-4 .25 14 .25-10 .25 8 .25 2 .25-6 .25-12 .25 17 .25-9 .25-4 .25 10 .25 1 .25-1 .25 4 .25-17 .25 16 .25 7 .25-11 .25-3 .25 3 .25 9 .25-9 .25-3 .25-5 .25 21 .25 1 .25-9 .25 14 .25-16 .25 7 .25-13 .25 1 .25 7 .25 3 .25 0 .25-10 .25 1 .25 3 .25-2 .25 0 .25 7 .25 1 .25-20 .25 21 .25-8 .25 1 .25 0 .25 3 .25-1 .25-15 .25 16 .25-13 .25 10 .25-1 .25-11 .25 10 .25-1 .25-2 .25 18 .25-13 .25-3 .25 14 .25-12 .25-1 .25-12 .25 17 .25 3 .25 6 .25-20 .25 14 .25 2 .25-4 .25-4 .25-11 .25 12 .25-5 .25-8 .25 15 .25-5 .25-1 .25 15 .25-17 .25-11 .25-1 .25 17 .25-5 .25-4 .25-9 .25 9 .25-2 .25 6 .25-5 .25 0 .25 5 .25-5 .25 7 .25-22 .25 11 .25 16 .25-7 .25-9 .25 6 .25-3 .25 2 .25 12 .25-12 .25 4 .25-7 .25 1 .25-5 .25 6 .25 2 .25 0 .25 3 .25 0 .25 4 .25-5 .25 10 .25-4 .25 5 .25-9 .25 9 .25-7 .25-11 .25 11 .25 0 .25-8 .25 3 .25 2 .25 19 .25-13 .25 10 .25-6 .25 0 .25-2 .25-15 .25 17 .25-15 .25 9 .25-3 .25 11 .25-3 .25 4 .25-9 .25-3 .25 6 .25 10 .25-11 .25-3 .25-8 .25 3 .25 5 .25 5 .25 0 .25-5 .25 2 .25 9 .25 2 .25-4 .25 2 .25-2 .25 4 .25-21 .25 5 .25 5 .25 1 .25 7 .25-21 .25 13 .25 1 .25-6 .25 4 .25 8 .25-4 .25-3 .25 2 .25-2 .25 7 .25-7 .25 7 .25-10 .25 3 .25-7 .25 6 .25 7 .25-12 .25 4 .25 3 .25-2 .25 8 .25-13 .25 14 .25 3 .25 3 .25-11 .25-5 .25-5 .25 15 .25 1 .25-4 .25 0 .25 2 .25-7 .25-8 .25 0 .25 4 .25-1 .25-5 .25 7 .25-4 .25 10 .25-5 .25 6 .25-14 .25 1 .25-3 .25 12 .25 18 .25-18 .25-4 .25 5 .25-2 .25 7 .25-6 .25-6 .25-7 .25 15 .25 4 .25-6 .25-7 .25 3 .25 0 .25 6 .25-4 .25 8 .25-9 .25-3 .25 17 .25-19 .25 2 .25 19 .25-12 .25 10 .25-28 .25 24 .25-8 .25 0 .25 2 .25-22 .25 12 .25 8 .25 16 .25-25 .25 20 .25-11 .25 2 .25-13 .25 10 .25-10 .25-2 .25 16 .25-12 .25 1 .25 8 .25-10 .25-3 .25 10 .25 0 .25 8 .25-17 .25 11 .25 0 .25-7 .25 1 .25 1 .25-7 .25-2 .25 12 .25-10 .25 0 .25 10 .25-8 .25 0 .25-6 .25 0 .25-1 .25-1 .25 12 .25-11 .25-8 .25 5 .25 8 .25-9 .25 4 .25-4 .25-4 .25 5 .25-2 .25 5 .25 2 .25-2 .02 11 .23-14 .25 10 .25-3 .25 5 .25-3 .25-11 .25 9 .25 7 .25-4 .25-5 .25 4 .25 4 .25 5 .25-8 .25 4 .25-5 .25-1 .25 4 .25 10 .25-3 .25-5 .25 2 .25 3 .25-3 .25-2 .25 1 .25 5 .25-6 .25 7 .25-17 .25 7 .25 2 .25 6 .25-10 .25 2 .25 6 .25-3 .25-4 .25 2 .25-3 .25 11 .25-2 .25 4 .25 9 .25-5 .25-4 .25-3 .25 16 .25-12 .25-2 .25 10 .25-5 .25-4 .25 5 .25 10 .25-11 .25 1 .25-8 .25 3 .25 9 .25-7 .25 2 .25 6 .25-9 .25 13 .25-15 .25 0 .25 0 .25-4 .25 13 .25-3 .25 8 .25-13 .25 9 .25 3 .25-10 .25-1 .25-15 .25 28 .25-14 .25 4 .25-8 .25 5 .25-10 .25 11 .25-4 .25-4 .25 5 .25-14 .25 12 .25-4 .25 11 .25-4 .25-7 .25-1 .25 19 .25-25 .25 16 .25-7 .25-4 .25-15 .25 8 .25-10 .25-7 .25-4 .25-10 .25-7 .25-8 .25-4 .21-2 .04 0 .25 2 .25 6 .25 8 .25 8 .25 13 .25 5 .25 4 .25 4 .25 1 .25 8 .25-1 .25-3 .25 0 .25 2 .25-4 .25 7 .25-6 .25 9 .25-5 .25 6 .25-7 .25-7 .25 4 .25 8 .25 5 .25 1 .25 1 .25 2 .25-2 .25 1 .25-4 .25 4 .25-4 .25 0 .25 1 .25 13 .25-24 .25 6 .25 2 .25 4 .25-2 .25 10 .25-20 .25 22 .25-19 .25 4 .25 8 .25-3 .25-1 .25 1 .25 2 .25 4 .25-4 .25-11 .25 4 .25 13 .25 4 .25-7 .25 1 .25-5 .25 12 .25-17 .25 1 .25-2 .25 15 .25-14 .25 7 .25-12 .25-1 .25 15 .25-2 .25 0 .25-4 .25-4 .25-1 .25-5 .25 4 .25 11 .25-10 .25-7 .25 6 .25-4 .25-1 .25 5 .25-4 .25-4 .25 12 .25-3 .25-11 .25 0 .25-10 .25-4 .25-1 .25-4 .12 0 .13-5 .25 7 .25 2 .25 6 .25 0 .25 7 .25 10 .25 4 .25 4 .25 3 .25 3 .25-3 .25-3 .25-2 .25 1 .25-3 .25-1 .25 5 .25-14 .25 5 .25 2 .25 5 .25 1 .25-7 .25-5 .25-7 .25 0 .25-9 .25-11 .25-8 .25-10 .25-10 .25-9 .25-4 .14-1 .11 0 .25 5 .25 7 .25 10 .25 11 .25 11 .25 10 .25 5 .25 4 .25 3 .25 8 .25-2 .25 9 .25-4 .25 3 .25-4 .25 16 .25-5 .25-7 .25-6 .25 9 .25 2 .25-12 .25 7 .25 13 .25-12 .25-4 .25 6 .25 8 .25-14 .25 0 .25 1 .25 2 .25 7 .25-5 .25-16 .25 17 .25-1 .25 2 .25-3 .25-3 .25 3 .25-9 .25-7 .25 5 .25-6 .25 9 .25-9 .25 4 .19-10 .06 1 .25 6 .25-6 .25 6 .25-3 .25 13 .25-9 .25 11 .25-9 .25 15 .25 4 .25-5 .25-7 .25 9 .25 4 .25-2 .25 3 .25 4 .25-10 .25-4 .25-2 .25 4 .25-1 .25-2 .25 6 .25 11 .25-17 .25 3 .25 1 .25-4 .25 14 .25-7 .25 5 .25-14 .25 15 .25-5 .25-8 .25 14 .25 1 .25-5 .25 1 .25-9 .25 12 .25-8 .25 4 .25 1 .25-1 .25-8 .25 6 .25-1 .25 6 .25-12 .25 11 .25-4 .25-2 .25 11 .25-7 .25-8 .25 6 .25-7 .25-2 .25 4 .25 1 .25 14 .25-5 .25-21 .25 15 .25-3 .25 3 .25 2 .25 0 .25 2 .25-8 .25 14 .25-10 .25 9 .25-9 .25 4 .25-10 .25 13 .25-5 .25-5 .25 4 .25 0 .25-13 .25 5 .25-2 .25 12 .25-5 .25-5 .25 0 .25 5 .25-14 .25 14 .25 12 .25-19 .25 1 .25 1 .25 10 .25-7 .25 17 .25-14 .25-3 .25-4 .25 11 .25 2 .25-7 .25 7 .25-1 .25-6 .25-2 .25-4 .25 5 .25-4 .25 12 .25-4 .25-6 .25-1 .25 6 .25 4 .25-4 .25 5 .25-9 .25 5 .25 3 .25-2 .25 2 .25 5 .25-6 .25 7 .25-9 .25 7 .25-5 .25 1 .25 6 .25 5 .25-9 .25 1 .25 8 .25-14 .25 10 .25-13 .25-5 .25 14 .25-5 .25-1 .25-13 .25 18 .25-5 .25-5 .25 7 .25-8 .25 3 .25 0 .25 11 .25-7 .25 8 .25-13 .25-3 .25 19 .25-21 .25 16 .25-15 .25 11 .25-10 .25 15 .25 2 .25-6 .25-5 .25-5 .25 8 .25 8 .25-16 .25-5 .25 20 .25-13 .25 7 .25-3 .25 1 .25-3 .25 1 .25-10 .25 8 .25-2 .25 13 .25-9 .25 2 .25-11 .25 11 .25 9 .25-9 .25 4 .25-8 .25-2 .25 9 .25-9 .25-4 .25 5 .25-2 .25 8 .25-4 .25-14 .25 9 .25-12 .25 5 .25-1 .25-7 .25-2 .24 4 .01-4 .25-2 .25 12 .25-1 .25 1 .25 2 .25 6 .25-4 .25 6 .25-1 .25-5 .25 12 .25-5 .25-6 .25 2 .25-12 .25 4 .25 2 .25 13 .25 0 .25 3 .25-5 .25 8 .25-14 .25-2 .25-1 .25 8 .25-6 .25-1 .25 2 .25 5 .25-10 .25 8 .25 0 .25 11 .25-10 .25-10 .25 10 .25 0 .25-10 .25-11 .25 24 .25-6 .25-3 .25 4 .25 9 .25 3 .25-14 .25 13 .25-10 .25 0 .25-1 .25 0 .25-1 .25-4 .25 5 .25-8 .25 10 .25-8 .25 7 .25-5 .25-11 .25 19 .25-7 .25-2 .25-2 .25 14 .25-14 .25 9 .25-5 .25-9 .25 14 .25-14 .25 14 .25 0 .25 0 .25-6 .25 15 .25 2 .25-17 .25 4 .25 13 .25-14 .25 9 .25-12 .25 2 .25 6 .25 2 .25-12 .25 3 .25 11 .25 5 .25-4 .25-1 .25 1 .25-10 .25 10 .25 3 .25-2 .25-11 .25 1 .25 13 .25-16 .25 1 .25 18 .25-17 .25 2 .25 9 .25 1 .25-7 .25-8 .25 6 .25 5 .25-8 .25 0 .25 14 .25-4 .25 1 .25 1 .25-13 .25 10 .25 4 .25-3 .25-12 .25-2 .25 5 .25 9 .25-5 .25 3 .25-10 .25 14 .25-10 .25 12 .25-8 .25-19 .25 18 .25-5 .25 0 .25 4 .25 8 .25-2 .25 4 .25-10 .25-12 .25 8 .25-2 .25 1 .25 22 .25-11 .25-11 .25 14 .25-9 .25-6 .25 17 .25-10 .25 5 .25 15 .25-21 .25 14 .25-8 .25-5 .25 6 .25 3 .25 0 .25-11 .25 15 .25-12 .25 7 .25-2 .25-5 .25 6 .25-9 .25-3 .25-3 .25-3 .25 7 .25-10 .25 12 .25-1 .25 15 .25-18 .25 15 .25-5 .25 0 .25-6 .25-1 .25 4 .25 1 .25 4 .25-7 .25 13 .25 0 .25-27 .25 16 .25-2 .25-6 .25-11 .25 5 .25 9 .25 4 .25-3 .25-2 .25-7 .25 2 .25-8 .25-5 .25-11 .25-9 .25-11 .25-7 .25-10 .25-7 .24-3 .01 1 .25 2 .25 7 .25 10 .25 11 .25 7 .25 6 .25 14 .25 4 .25 1 .25 5 .25 13 .25-8 .25-3 .25 4 .25 5 .25-1 .25 1 .25 0 .25-9 .25 12 .25 3 .25-2 .25-5 .25 0 .25 2 .25-1 .25-12 .25 10 .25 9 .25-11 .25-1 .25 7 .25-3 .25-5 .25 5 .25 10 .25 1 .25-10 .25-2 .25 9 .25-4 .25 1 .25-4 .25-7 .25-1 .25 9 .25-6 .25 12 .25 1 .25 4 .25-9 .25 12 .25-4 .25-6 .25 3 .25-9 .25-16 .25 27 .25-4 .25 8 .25-7 .25-5 .25-2 .25-1 .25 5 .25-13 .25 4 .25 13 .25-19 .25 4 .25 6 .25 1 .25 4 .25 5 .25-3 .25 2 .25-7 .25 4 .25-4 .25 4 .25 4 .25 0 .25-15 .25 4 .25 21 .25-27 .25 14 .25-8 .25 6 .25-3 .25 4 .25-8 .25 14 .25 7 .25-30 .25 10 .25-5 .25 10 .25 8 .25 0 .25-1 .25-7 .25-5 .25 10 .25-11 .25-1 .25 6 .25-9 .25 7 .25-4 .25 7 .25 5 .25-9 .25 7 .25 3 .25-11 .25 5 .25-2 .25 14 .25-15 .25 3 .25-10 .25 3 .25 9 .25-6 .25 6 .25-5 .25 16 .25-19 .25 8 .25-11 .25 1 .25-6 .25 27 .25-30 .25 15 .25-3 .25 9 .25-8 .25 17 .25-4 .25-3 .25 0 .25 4 .25-3 .25 7 .25-4 .25-6 .25 3 .25-1 .25 6 .25-9 .25 2 .25-8 .25 13 .25-3 .25-5 .25 15 .25-10 .25-8 .25 15 .25-9 .25-19 .25 22 .25-3 .25 0 .25-3 .25-5 .25 5 .25-12 .25 10 .25 6 .25 1 .25-10 .25 16 .25-10 .25-4 .25 4 .25-5 .25 10 .25-12 .25 2 .25-3 .25 2 .25 4 .25 13 .25-10 .25 6 .25-7 .25 6 .25-13 .25 0 .25 20 .25-10 .25-12 .25 15 .25-5 .25 0 .25 7 .25-13 .25 16 .25-6 .25-5 .25-5 .25 20 .25-15 .25-7 .25 8 .25 3 .25 1 .25 4 .25-6 .25-5 .25 14 .25-2 .25-20 .25 13 .25-10 .25 14 .25-16 .25 8 .25 9 .25-7 .25 5 .25-11 .25-3 .25 1 .25 12 .25-8 .25 13 .25-12 .25 11 .25-7 .25-10 .25 6 .25 3 .25-1 .25-4 .25 7 .25-1 .25 0 .25-12 .25-8 .25 17 .25-9 .25 2 .25 2 .25 4 .25-14 .25 11 .25 9 .25-18 .25 7 .25 11 .25-4 .25-2 .25-3 .25-11 .25 10 .25-8 .25 7 .25-6 .25-2 .25 8 .25 7 .25-9 .25 5 .25 5 .25 0 .25-11 .25 6 .25 7 .25-1 .25 12 .25-7 .25-10 .25 11 .25 3 .25-4 .25-1 .25-13 .25 8 .25 4 .25-7 .25-1 .25 5 .25-8 .25-2 .25 4 .25 0 .25 6 .25-7 .25-7 .25 10 .25-9 .25 10 .25-9 .25 7 .25-2 .25-3 .25-7 .25 5 .25 12 .25-8 .25 7 .25-7 .25 0 .25-5 .25 9 .25-7 .25 0 .25 13 .25-13 .25 22 .25-14 .25-4 .25 13 .25-15 .25 7 .25-1 .25 6 .25 5 .25-9 .25-11 .25 0 .25 5 .25 9 .25-4 .25 1 .25-4 .25 12 .25-16 .25 20 .25-4 .25-3 .25-5 .25-2 .25 2 .25-3 .25 0 .25-2 .25 9 .25-4 .25 1 .25-8 .25-4 .25 2 .25 6 .25-10 .25 9 .25-10 .25 1 .25 1 .25-8 .25-5 .2 14 .05-5 .25-2 .25 13 .25 5 .25-8 .25 4 .25 16 .25-18 .25 13 .25-1 .25-10 .25-2 .25 1 .25 5 .25 1 .25 14 .25-23 .25 7 .25-6 .25 10 .25-3 .25-11 .25 5 .25 3 .25 5 .25-2 .25 1 .25-4 .25 3 .25-3 .25 6 .25-3 .25-9 .25 5 .25-5 .25 5 .25 4 .25-2 .25-1 .25-3 .25 13 .25-9 .25-6 .25 3 .25 9 .25 7 .25-6 .25-10 .25 7 .25-17 .25 16 .25-7 .25 3 .25-10 .25 10 .25-10 .25-2 .25 20 .25-17 .25 15 .25-10 .25 4 .25 1 .25 7 .25-4 .25-8 .25 2 .25 12 .25 0 .25-13 .25 9 .25-7 .25 6 .25-13 .25 11 .25-9 .25-5 .25 12 .25 0 .25-14 .25-5 .25 15 .25 4 .25-6 .25 4 .25-3 .25 0 .25 6 .25 6 .25-4 .25-5 .25-2 .25 5 .25-15 .25 14 .25-1 .25 0 .25-3 .25 0 .25-9 .25 13 .25-7 .25 2 .25-4 .25-7 .25 13 .25-6 .25 0 .25 4 .25 8 .25-11 .25 4 .25 9 .25-13 .25 11 .25-7 .25 7 .25-5 .25 6 .25-10 .25 2 .25 0 .25 3 .25 9 .25-4 .25 2 .25-5 .25 3 .25 2 .25 0 .25-5 .25 1 .25-4 .25 12 .25 2 .25 6 .25-33 .25 26 .25-2 .25 13 .25-20 .25-3 .25 6 .25-11 .25 0 .25 13 .25-15 .25 3 .25 15 .25-5 .25-13 .25 17 .25-9 .25-4 .25 3 .25-2 .25 7 .25-4 .25-10 .25 2 .25 8 .25-9 .25-2" fill="none" stroke="#ff0000" stroke-width="2.2" stroke-linejoin="round"/>
<path d="M92 1072l.25 4 .25-29 .25 17 .25 8 .25 2 .25-4 .25 5 .25-7 .25 2 .25-3 .25-8 .25 2 .25 8 .25-6 .25 13 .25 0 .25 4 .25-13 .25 10 .25-15 .25 0 .25 6 .25 1 .25-12 .25-2 .25 14 .25-8 .25 13 .25-6 .25-1 .25-1 .25 4 .25-8 .25 8 .25-12 .25 2 .25-4 .25 8 .25-4 .25-7 .25 19 .25-16 .25 2 .25 3 .25 10 .25-13 .25 6 .25-3 .25-10 .25 16 .25 2 .25-8 .25 3 .25-10 .25 1 .25 8 .25 7 .25-7 .25 5 .25 5 .25-7 .25 3 .25 5 .25-19 .25 12 .25-18 .25 14 .25-3 .25-6 .25-5 .25 6 .25-3 .25 3 .25-7 .25 10 .25-11 .25 6 .25 0 .25 12 .25-17 .25 9 .25 12 .25-11 .25-3 .25 11 .25-3 .25 9 .25-12 .25 8 .25 3 .25 3 .25-15 .25 17 .25-15 .25-5 .25 4 .25 8 .25-3 .25 5 .25 0 .25-1 .25-5 .25 14 .25-27 .25 2 .25 8 .25-5 .25-10 .25 12 .25 0 .25-12 .25 22 .25 2 .25 0 .25-12 .25 4 .25-9 .25 9 .25-5 .25 7 .25-5 .25 10 .25-2 .25 4 .25-19 .25-1 .25 15 .25-6 .25 7 .25 0 .25-1 .25 5 .25-2 .25-1 .25-10 .25 17 .25-11 .25 6 .25-5 .25 6 .25-8 .25 0 .25-1 .25-6 .25 0 .25 3 .25 0 .25-7 .25 22 .25-23 .25 4 .25 18 .25-22 .25 9 .25-1 .25-6 .25-8 .25-1 .25 10 .25 3 .25-17 .25 16 .25-5 .25 11 .25-4 .25-7 .25 3 .25 4 .25 9 .25 11 .25-17 .25-2 .25 5 .25-5 .25 5 .25-2 .25-2 .25-6 .25 7 .25 4 .25-6 .25 10 .25-5 .25-8 .25 13 .25-20 .25 15 .25 4 .25-14 .25 1 .25 7 .25 3 .25-6 .25-1 .25 5 .25-5 .25-9 .25 7 .25 2 .25-10 .25 13 .25-7 .25 10 .25-14 .25 4 .25-3 .25 19 .25 0 .25 1 .25 1 .25-4 .25 0 .25-18 .25 14 .25-6 .25 1 .25-6 .25 17 .25-8 .25-10 .25 13 .25-3 .25-6 .25 6 .25-3 .25-9 .25 5 .25 15 .25-1 .25 0 .25-9 .25 4 .25 4 .25 4 .25-11 .25-2 .25 14 .25-8 .25-5 .25-4 .25-1 .25 12 .25-6 .25-10 .25-6 .25 16 .02-1 .23-2 .25-2 .25-16 .25 5 .25 13 .25-5 .25 5 .25-5 .25 0 .25 9 .25-6 .25 3 .25 2 .25 1 .25 6 .25 2 .25-18 .25 8 .25-3 .25 10 .25-11 .25 12 .25 0 .25 0 .25-10 .25 5 .25-5 .25 10 .25 4 .25-17 .25 5 .25 4 .25-2 .25 13 .25-11 .25 2 .25-10 .25 18 .25-10 .25 3 .25-5 .25-15 .25 3 .25 2 .25 11 .25-6 .25 6 .25-1 .25 0 .25 4 .25-4 .25-13 .25 7 .25 15 .25-18 .25 16 .25 2 .25-15 .25 6 .25-11 .25 15 .25-11 .25-3 .25 6 .25 0 .25-1 .25 6 .25-2 .25-4 .25 11 .25 10 .25-15 .25-5 .25-2 .25 11 .25-6 .25 2 .25-14 .25 6 .25-1 .25 15 .25-9 .25-15 .25 20 .25 4 .25 2 .25-28 .25 20 .25 4 .25-1 .25-5 .25-11 .25 9 .25 1 .25 6 .25 1 .25-6 .25 7 .25-13 .25 2 .25 4 .25 4 .25-6 .25 10 .25-5 .25-10 .25 7 .25-7 .25-1 .25-3 .25 19 .25-4 .25-17 .25 18 .25-1 .25-9 .25 6 .25 12 .25-13 .25 1 .25 5 .25-14 .25-1 .25 0 .25 9 .25 7 .25-11 .25-3 .25 11 .25-3 .25 6 .25-5 .25 0 .25 0 .25 0 .25-7 .25-2 .25 18 .25 8 .25-13 .25-19 .25 11 .25 8 .25-19 .25 8 .25 0 .25-3 .25 1 .25 13 .25-10 .25 1 .25 14 .25-18 .25-7 .25 17 .25 9 .25-12 .25 1 .25-11 .25 2 .25 16 .25-1 .25-5 .25-8 .25-4 .25 1 .25 0 .25 12 .25-10 .25 2 .25 8 .25 0 .25-4 .25 3 .25-3 .25-13 .25 13 .25-2 .25 1 .25 4 .25-5 .25 13 .25-10 .25 3 .25 1 .25-3 .25 6 .25 1 .25-1 .25-9 .25-2 .25 2 .25 4 .25-12 .25 6 .25-2 .25 3 .25-2 .25 11 .25-3 .25 4 .25-14 .25 1 .25 3 .25 14 .25 0 .25-15 .25 9 .25 10 .25-20 .25 6 .25 10 .25-3 .25-12 .25 17 .25-4 .25-2 .25-13 .25 7 .25 9 .25-6 .25 2 .25-8 .25 12 .25-12 .25 8 .25-4 .25-9 .25 17 .25-19 .25 4 .25 6 .25-10 .25-3 .25 12 .25-2 .25 1 .25 5 .25 12 .25-19 .25 20 .25-15 .25-2 .25-18 .25 8 .25 12 .25 2 .25-9 .25 8 .25 4 .25-10 .25-7 .25 4 .25 4 .25 4 .25 3 .25-12 .25 6 .25-2 .25 1 .25 7 .25 1 .25-13 .25-1 .25-1 .25 1 .25 0 .25 1 .25-2 .25-4 .25-1 .25 8 .25 16 .25-12 .25 1 .25-1 .25-3 .25 15 .25-15 .25-4 .25-2 .25 10 .25-7 .25 1 .25 0 .25-3 .25 11 .25-13 .25 27 .25-33 .25 9 .25 10 .25 2 .25-5 .25 4 .25-1 .25 0 .25 2 .25-3 .25-3 .25 0 .25 6 .25-8 .25 5 .25 6 .25-8 .25 5 .25-11 .25 5 .25 1 .25-1 .25 1 .25 6 .25-11 .25-3 .25 6 .25-12 .25 10 .25 7 .25-8 .25 4 .25-2 .25 6 .25-5 .25-1 .25-22 .25 18 .25 9 .25-5 .25-4 .25 12 .25-11 .25 4 .25 8 .25-8 .25 5 .25-1 .25-8 .25 5 .25 1 .25-3 .25 12 .25-9 .25-4 .25-6 .25 6 .25 11 .25-12 .25 7 .25-3 .25-7 .25-3 .25 10 .25-15 .25 16 .25-12 .25 15 .25-8 .25 2 .25 8 .25-13 .25 7 .25-2 .25 6 .25 1 .25-3 .25 0 .25-4 .25 7 .25-5 .25 2 .25 1 .25-10 .25 2 .25 9 .25-1 .25 8 .25-24 .25 18 .25 6 .25-7 .25 5 .25-5 .25-1 .25 7 .25-15 .25-7 .25 18 .25-2 .25 0 .25 1 .25 3 .25-7 .25 6 .25 0 .25-10 .25 7 .25 3 .25-6 .25 12 .25-9 .25 8 .25 4 .25-20 .25 1 .25 12 .25-6 .25 5 .25 7 .25-15 .25 8 .25-8 .25-3 .25 7 .25-2 .25 6 .25-6 .25 4 .25-2 .25-15 .25 9 .25 0 .25 8 .25-13 .25 8 .25-4 .25-10 .25 11 .25 5 .25-7 .25 8 .25-4 .25-1 .25-6 .25 3 .25 4 .25-2 .25-8 .25 8 .25 4 .25 6 .25-1 .25-12 .25 12 .25-15 .25 7 .25-1 .25 16 .25-6 .25-3 .25-6 .25 12 .25-10 .25 5 .25 4 .25-10 .25 6 .25-17 .25 17 .25-15 .25 15 .25-1 .25 1 .25 12 .25-32 .25 20 .25-7 .25 8 .25-4 .25-2 .25-4 .25-2 .25 7 .25-13 .25 18 .25-11 .25 7 .25-11 .25 12 .25-4 .25 7 .25 4 .25-12 .25 5 .25 2 .25 8 .25-18 .25 13 .25-3 .25-8 .25 6 .25-1 .25 12 .25-13 .25 13 .25-10 .25 8 .25-16 .25 6 .25 6 .25-8 .25-5 .25 9 .25 5 .25-6 .25-2 .25 3 .25-6 .25 9 .25 1 .25-16 .25 16 .25-3 .25-2 .25 3 .25 4 .25 3 .25-2 .25-13 .25 10 .25-20 .25 15 .25-2 .25 0 .25-12 .25 10 .25-5 .25-9 .25-11 .25-3 .25-11 .25-12 .25-12 .25-13 .25-15 .25-11 .25-7 .15-1 .1 0 .25 5 .25 12 .25 13 .25 14 .25 12 .25 12 .25 12 .25 6 .25 1 .25 9 .25-8 .25 8 .25 10 .25 2 .25-2 .25 2 .25-13 .25 5 .25 12 .25 8 .25-11 .25-9 .25 0 .25 14 .25 0 .25-15 .25 9 .25 9 .25 1 .25-13 .25 3 .25 5 .25-11 .25-3 .25 6 .25 13 .25-1 .25-4 .25-12 .25-6 .25 6 .25 6 .25 6 .25-13 .25 6 .25-13 .25-3 .25 12 .25-8 .25-1 .25-8 .25 10 .25-13 .25 2 .25-6 .25 1 .1 3 .15-2 .25 2 .25 5 .25 3 .25 7 .25-8 .25 16 .25-4 .25-5 .25 12 .25 1 .25-2 .25 6 .25-13 .25-2 .25 8 .25 12 .25-3 .25-3 .25-4 .25 4 .25 9 .25-11 .25 0 .25 7 .25 2 .25-3 .25 10 .25-8 .25-8 .25-8 .25 23 .25-9 .25 3 .25 0 .25 6 .25-3 .25-1 .25-5 .25-5 .25 3 .25-8 .25 8 .25 4 .25-2 .25-4 .25-7 .25 0 .25 1 .25 2 .25 6 .25 1 .25 1 .25 3 .25-13 .25 6 .25 5 .25 2 .25-10 .25 0 .25 12 .25-3 .25-2 .25-5 .25-5 .25 6 .25 2 .25 1 .25 2 .25-5 .25 7 .25-11 .25 4 .25-2 .25-12 .25 3 .25 4 .25 4 .25 1 .25 4 .25-8 .25-3 .25 2 .25-9 .25 3 .25-6 .25 0 .25-7 .25-7 .25-7 .25-15 .25-17 .25-22 .25-24 .25-26 .25-26 .25-23 .25-16 .21-4 .04 0 .25 8 .25 19 .25 25 .25 26 .25 25 .25 23 .25 20 .25 17 .25 11 .25 10 .25 2 .25 7 .25 0 .25 1 .25 8 .25-2 .25 10 .25-7 .25 3 .25-9 .25 1 .25 11 .25-9 .25 13 .25-14 .25 0 .25 18 .25-24 .25 7 .25 7 .25 0 .25-12 .25 21 .25-17 .25-9 .25 18 .25-9 .25 4 .25 4 .25-10 .25 1 .25 5 .25 7 .25-14 .25 18 .25-6 .25-10 .25 8 .25 2 .25 3 .25-4 .25-1 .25-10 .25-1 .25-15 .25 4 .25-9 .25-4 .25-7 .25-3 .1 1 .15 1 .25 3 .25 6 .25 5 .25 9 .25 12 .25 1 .25 3 .25-6 .25 13 .25 5 .25-6 .25 8 .25-20 .25 10 .25-2 .25 9 .25-9 .25-1 .25 16 .25-19 .25 13 .25 4 .25-9 .25-4 .25 5 .25-3 .25-1 .25 8 .25-2 .25 20 .25-11 .25-7 .25 2 .25 7 .25-3 .25-8 .25-6 .25 17 .25-12 .25 2 .25 7 .25-8 .25 7 .25-11 .25 3 .25-3 .25 15 .25-24 .25 8 .25-5 .25 1 .25-4 .25 3 .25 12 .25 2 .25-14 .25-3 .25 4 .25 12 .25-11 .25-12 .25 16 .25-7 .25 2 .25-4 .25-9 .25 3 .25-8 .25-11 .25-13 .25-13 .25-19 .25-23 .25-28 .25-30 .25-31 .25-27 .25-19 .22-6 .03 0 .25 9 .25 21 .25 28 .25 31 .25 30 .25 27 .25 23 .25 17 .25 14 .25 12 .25 9 .25 2 .25 7 .25 8 .25-11 .25 2 .25-2 .25 17 .25-12 .25 4 .25-2 .25 5 .25-2 .25 4 .25 0 .25 9 .25-16 .25 8 .25-1 .25-5 .25 12 .25 7 .25-19 .25 24 .25-16 .25 1 .25-16 .25 18 .25 0 .25-1 .25 7 .25-6 .25 4 .25-7 .25-3 .25 8 .25 3 .25 0 .25-4 .25-6 .25 5 .25-3 .25-8 .25 10 .25-4 .25-7 .25 4 .25 5 .25 5 .25-23 .25 8 .25 5 .25 2 .25-6 .25-11 .25 1 .25 1 .25-7 .25-3 .25-3 .25 12 .21-10 .04-1 .25 4 .25-1 .25 1 .25 3 .25-3 .25 3 .25 9 .25 0 .25-11 .25 17 .25-12 .25-8 .25 15 .25-1 .25-2 .25-9 .25 13 .25-5 .25-2 .25-2 .25 0 .25 8 .13-13 .12 4 .25 5 .25-1 .25-7 .25 5 .25-1 .25-6 .25 9 .25 8 .25-3 .25 6 .25-4 .25-8 .25 9 .25-15 .25 20 .25-11 .25 14 .25-21 .25 3 .25 2 .25 0 .25-10 .25 0 .25 8 .25-9 .25 5 .25 0 .25-14 .25 3 .21 6 .04-2 .25-6 .25 8 .25 8 .25-13 .25 15 .25 7 .25-7 .25 2 .25 11 .25-13 .25 16 .25 7 .25-6 .25-9 .25 23 .25-9 .25 6 .25-8 .25 7 .25 9 .25-16 .25 2 .25-5 .25 17 .25 1 .25-10 .25 8 .25-2 .25 12 .25-22 .25 10 .25-5 .25 15 .25-10 .25-11 .25 11 .25-4 .25-6 .25 9 .25-2 .25-9 .25 5 .25 10 .25-1 .25-8 .25-2 .25 4 .25-3 .25-8 .25 12 .25-10 .25 15 .25-6 .25 1 .25-7 .25 3 .25-5 .25 1 .25-4 .25 17 .25-18 .25 20 .25-7 .25-11 .25 15 .25-6 .25-8 .25 7 .25-3 .25-3 .25 4 .25 3 .25-4 .25 1 .25 6 .25-6 .25-2 .25-7 .25 7 .25-3 .25 0 .25 4 .25-3 .25-8 .25-7 .25-3 .25-7 .25-10 .25-13 .25-10 .25-14 .25-12 .25-10 .25-6 .12-1 .13 1 .25 6 .25 10 .25 13 .25 13 .25 13 .25 10 .25 4 .25 14 .25 6 .25-10 .25 14 .25 6 .25 0 .25 0 .25-5 .25-2 .25 16 .25-10 .25 8 .25-11 .25 7 .25-1 .25 0 .25-13 .25 25 .25-14 .25-3 .25 4 .25-13 .25 22 .25-11 .25 5 .25-1 .25-12 .25 10 .25 11 .25-13 .25 7 .25 5 .25 4 .25-16 .25 13 .25-3 .25-1 .25 3 .25-2 .25-12 .25 9 .25-8 .25 6 .25-6 .25 12 .25-4 .25-3 .25-8 .25 7 .25-10 .25 2 .25-5 .25 18 .25-9 .25 10 .25 3 .25 0 .25-9 .25 13 .25-1 .25-16 .25 11 .25-8 .25 5 .25 9 .25-6 .25 8 .25-7 .25 1 .25 6 .25-3 .25-3 .25 4 .25-1 .25-17 .25 3 .25 7 .25 7 .25-12 .25-6 .25 10 .25-4 .25 14 .25-27 .25 21 .25-2 .25-23 .25 10 .25 4 .25 3 .25-4 .25 2 .25-4 .25-7 .25 10 .25-9 .25-6 .25 4 .11-2 .14-1 .25 0 .25-1 .25 4 .25 0 .25-2 .25 16 .25 1 .25-2 .25-6 .25 3 .25 16 .25-16 .25 11 .25-3 .25 1 .25-7 .25 2 .25 1 .25-7 .25 16 .25-14 .25 6 .25 11 .25-2 .25-14 .25 8 .25 3 .25-20 .25 28 .25-10 .25-6 .25 2 .25-14 .25 20 .25 7 .25-12 .25 13 .25-7 .25-13 .25 13 .25-18 .25 1 .25 17 .25-1 .25-5 .25 0 .25-10 .25 18 .25-7 .25-1 .25 21 .25-17 .25-2 .25 14 .25-11 .25-6 .25 14 .25-11 .25-5 .25 3 .25 2 .25 6 .25 2 .25-17 .25 16 .25-13 .25 1 .25-14 .25 29 .25-7 .25-5 .25 0 .25 8 .25-6 .25-20 .25 22 .25-1 .25 1 .25-1 .25 6 .25-11 .25 21 .25-15 .25-6 .25 6 .25-12 .25 10 .25-4 .25-1 .25 12 .25-4 .25-8 .25 2 .25 7 .25 14 .25-16 .25 0 .25 4 .25-11 .25 8 .25 6 .25-2 .25 0 .25-11 .25 9 .25 9 .25 8 .25-11 .25-10 .25 0 .25 2 .25 16 .25-23 .25 7 .25-9 .25 8 .25 1 .25 8 .25-1 .25-4 .25-3 .25-1 .25 13 .25-12 .25-7 .25 2 .25 5 .25-6 .25-7 .25 15 .25-12 .25 1 .25-1 .25-6 .25-4 .25-14 .25 4 .25-8 .25-8 .25-8 .25-6 .25-6 .25-4 .08 0 .17 0 .25 4 .25 8 .25 9 .25 8 .25 10 .25 2 .25 11 .25-4 .25 9 .25-7 .25 16 .25-10 .25 13 .25-21 .25 25 .25-12 .25 4 .25-1 .25-13 .25 7 .25 0 .25 4 .25-10 .25 6 .25 5 .25 7 .25-2 .25-13 .25 15 .25 5 .25-5 .25-7 .25-3 .25 3 .25 15 .25-18 .25-9 .25 23 .25-10 .25 4 .25-2 .25 11 .25-10 .25-2 .25 0 .25 17 .25-2 .25-13 .25-1 .25 3 .25 4 .25-9 .25 16 .25-9 .25-20 .25 10 .25 5 .25 18 .25-5 .25-10 .25-10 .25 7 .25 1 .25-4 .25 4 .25 3 .25-8 .25-5 .25 8 .25-12 .25 7 .25 11 .25-7 .25-10 .25 8 .25-1 .25 2 .25 7 .25-10 .25-5 .25 20 .25-16 .25 11 .25-1 .25-4 .25 6 .25-1 .25 0 .25 4 .25-10 .25 12 .25-12 .25 12 .25 3 .25-15 .25 19 .25-17 .25 4 .25-5 .25 4 .25 2 .25-4 .25 11 .25-12 .25 7 .25-10 .25 1 .25 6 .25 1 .25-5 .25 4 .25 0 .25-9 .25 5 .25-7 .25-4 .25 5 .25 2 .25 9 .25-5 .25-2 .25-15 .25 8 .25 10 .25 1 .25-4 .25-8 .25-5 .25 2 .25 13 .25 2 .25 9 .25-16 .25 7 .25-7 .25 4 .25 3 .25-4 .25 13 .25-16 .25 13 .25-6 .25-2 .25 10 .25-11 .25 5 .25-3 .25 2 .25-14 .25 5 .25-4 .25-10 .25-7 .25-6 .25-4 .25-7 .25-4 .25-3 .08 0 .17 1 .25 3 .25 6 .25 7 .25 7 .25 5 .25 5 .25 9 .25 4 .25-5 .25-5 .25 15 .25-11 .25 1 .25 0 .25 4 .25-13 .25 13 .25 12 .25 10 .25-14 .25 3 .25 1 .25-10 .25-2 .25 9 .25 5 .25-7 .25 1 .25-2 .25-1 .25-3 .25 11 .25-1 .25-7 .25 3 .25 3 .25 3 .25 6 .25-2 .25-11 .25 1 .25-3 .25 7 .25 2 .25-19 .25 11 .25 9 .25-20 .25 19 .25-3 .25-11 .25-4 .25 19 .25-14 .25-6 .25 9 .25-10 .25 3 .25 19 .25-15 .25 3 .25-10 .25 5 .25 13 .25-5 .25 5 .25-1 .25-5 .25-4 .25-12 .25 22 .25-7 .25 17 .25-18 .25 0 .25-2 .25-5 .25 9 .25 3 .25 0 .25-3 .25-3 .25 14 .25-1 .25-11 .25-4 .25 4 .25 0 .25 11 .25-13 .25 7 .25-10 .25 5 .25 17 .25-23 .25 6 .25-7 .25 10 .25-6 .25-2 .25 9 .25-4 .25-1 .25-12 .25 3 .25 16 .25-17 .25 20 .25 1 .25-12 .25-4 .25-1 .25 14 .25-2 .25-8 .25-2 .25 10 .25-7 .25 4 .25-10 .25 13 .25-3 .25-4 .25-5 .25 7 .25 3 .25 0 .25-2 .25-6 .25 10 .25 3 .25-11 .25-5 .25 19 .25-8 .25-14 .25 19 .25-4 .25-5 .25 6 .25-7 .25 3 .25-5 .25 20 .25-11 .25 5 .25 1 .25-20 .25 18 .25-10 .25 16 .25-18 .25 13 .25 5 .25-10 .25 5 .25 1 .25-8 .25-4 .25-8 .25 21 .25-6 .25-3 .25-16 .25 18 .25-11 .25 4 .25 1 .25 4 .25-9 .25-3 .25 9 .25-2 .25-6 .25 19 .25-7 .25-17 .25-4 .25 2 .25 10 .25 7 .25 9 .25-10 .25-6 .25 6 .25 0 .25-7 .25 8 .25-13 .25 10 .25 5 .25-4 .25 5 .25 3 .25-3 .25 0 .25 0 .25-6 .25 8 .25-5 .25-8 .25 13 .25-7 .25-20 .25 32 .25-10 .25-5 .25 10 .25-2 .25 0 .25 10 .25-3 .25-9 .25-3 .25-3 .25 11 .25-2 .25 6 .25-6 .25 3 .25 3 .25-13 .25-3 .25 5 .25-9 .25 7 .25-1 .25 11 .25-12 .25 10 .25-10 .25 2 .25-2 .25 3 .25-3 .25-3 .25-1 .25 15 .25-4 .25 9 .25 0 .25-17 .25 20 .25-16 .25-7 .25 3 .25 5 .25-13 .25 20 .25-5 .25 7 .25-1 .25 0 .25 4 .25-1 .25-13 .25 20 .25-13 .25 3 .25 4 .25-10 .25 1 .25-9 .25 16 .25-1 .25-7 .25-3 .25-13 .25 20 .25-10 .25 3 .25 1 .25-1 .25 3 .25 3 .25-3 .25-9 .25 6 .25 0 .25-6 .25 4 .25 7 .25-1 .25-2 .25 1 .25-17 .25 14 .25 9 .25-12 .25 0 .25-3 .25 7 .25-2 .25-6 .25 7 .25-1 .25 3 .25 0 .25-7 .25 8 .25-3 .25 0 .25-2 .25 4 .25-5 .25-3 .25 15 .25-15 .25 9 .25 3 .25-3 .25-4 .25 1 .25-9 .25 12 .25-8 .25 5 .25-5 .25 12 .25-9 .25 3 .25 10 .25-16 .25 5 .25-13 .25 12 .25-1 .25-2 .25 9 .25 5 .25-5 .25-1 .25 2 .25-11 .25-2 .25 7 .25 9 .25-15 .25-6 .25 10 .25 6 .25-2 .25-2 .25-3 .25 6 .25-8 .25 11 .25 1 .25-3 .25 8 .25 3 .25-20 .25 4 .25-5 .25-5 .25 4 .25 5 .25 4 .25-1 .25-20 .25 15 .25-8 .25 11 .25-11 .25 11 .25 4 .25 0 .25-14 .25 2 .25-4 .25 2 .25 12 .25-23 .25 8 .25 4 .25-3 .25-3 .25 15 .25-7 .25-2 .25-6 .25 9 .25 8 .25-7 .25 9 .25-9 .25-2 .25 6 .25-5 .25-4 .25 14 .25 4 .25 5 .25-24 .25 19 .25-2 .25-4 .25 2 .25 1 .25-2 .25 0 .25-6 .25 12 .25-11 .25 7 .25-10 .25 2 .25 0 .25 2 .25 9 .25-19 .25 19 .25-12 .25 19 .25-19 .25 8 .25 4 .25-14 .25 11 .25 1 .25 2 .25-4 .25-5 .25-6 .25 8 .25 0 .25 0 .25 7 .25-6 .25-13 .25 5 .25 12 .25-4 .25-5 .25-4 .25 9 .25-13 .25 1 .25 11 .25-19 .25 20 .25-10 .25 6 .25-5 .25-9 .25 15 .25-6 .25 4 .25 4 .25-1 .25 0 .25 3 .25-13 .25 24 .25-24 .25 9 .25 2 .25-3 .25 9 .25-8 .25 4 .25 17 .25-20 .25 18 .25-25 .25 12 .25-3 .25 2 .25-21 .25 1 .25 18 .25 0 .25-2 .25-8 .25 7 .25-1 .25-7 .25 17 .25-13 .25-3 .25 6 .25-4 .25 4 .25-7 .25 1 .25 3 .25 11 .25-9 .25 13 .25-1 .25-13 .25 1 .25 11 .25-10 .25-1 .25 14 .25-3 .25-5 .25-16 .25 12 .25-12 .25 12 .25 1 .25 10 .25-22 .25 10 .25 0 .25 0 .25-1 .25 3 .25-6 .25-8 .25-1 .25 3 .25-8 .25-8 .25 0 .23 1 .02 0 .25 6 .25 2 .25-4 .25 6 .25 10 .25 4 .25-1 .25 17 .25-18 .25 14 .25-6 .25-15 .25 6 .25 8 .25-7 .25 3 .25 1 .25 3 .25-4 .25 6 .25-5 .25-6 .25 5 .25-6 .25 15 .25-15 .25 6 .25 1 .25 7 .25 6 .25-17 .25 5 .25-1 .25-2 .25-7 .25 11 .25-14 .25 22 .25-5 .25 0 .25 5 .25-14 .25-5 .25-8 .25 21 .25-2 .25-9 .25-3 .25 10 .25 1 .25-9 .25 18 .25-13 .25 8 .25-16 .25 5 .25 9 .25-9 .25 19 .25-26 .25 10 .25-10 .25 10 .25 11 .25-8 .25-3 .25 10 .25-20 .25 2 .25-2 .25 18 .25-19 .25 21 .25-14 .25 3 .25-1 .25 9 .25-9 .25 1 .25 0 .25 2 .25-6 .25 7 .25-8 .25 11 .25-7 .25 13 .25-19 .25 10 .25-1 .25 13 .25-9 .25-4 .25 0 .25-3 .25 19 .25 2 .25-15 .25-4 .25 9 .25 2 .25-10 .25 4 .25-1 .25 2 .25 6 .25-10 .25-5 .25 26 .25-16 .25 5 .25-7 .25 4 .25 1 .25-4 .25 18 .25-13 .25-7 .25 2 .25-1 .25-1 .25 9 .25 0 .25-8 .25 2 .25-10 .25 11 .25-4 .25-6 .25 3 .25 12 .25-17 .25 0 .25 9 .25 0 .25-5 .25-6 .25 3 .25 17 .25-23 .25 11 .25 5 .25-1 .25 10 .25-13 .25-6 .25-2 .25 3 .25 11 .25-17 .25 10 .25-8 .25 6 .25 14 .25-12 .25 2 .25-6 .25-7 .25 6 .25 3 .25 3 .25-13 .25 13 .25 12 .25-13 .25 9 .25-3 .25-2 .25-1 .25 7 .25 6 .25-24 .25 20 .25-10 .25 5 .25 4 .25-6 .25 11 .25-6 .25-10 .25 8 .25-17 .25 11 .25-6 .25-2 .25 12 .25-5 .25-6 .25 6 .25-4 .25 0 .25-10 .25 7 .25 8 .25-1 .25-2 .25-8 .25 3 .25-11 .25 10 .25 16 .25 3 .25-11 .25 0 .25-10 .25 11 .25-5 .25 18 .25-11 .25-4 .25-10 .25 21 .25-9 .25 14 .25-10 .25-5 .25 6 .25 1 .25-9 .25 13 .25 4 .25-18 .25-11 .25 21 .25-4 .25-1 .25-6 .25 17 .25-25 .25 23 .25-12 .25-11 .25 9 .25 5 .25 14 .25-6 .25-9 .25 1 .25 9 .25-4 .25 10 .25-21 .25 8 .25-7 .25 4 .25-11 .25 10 .25-10 .25 12 .25 7 .25-8 .25-1 .25-3 .25-8 .25 5 .25 2 .25-4 .25 15 .25-20 .25 6 .25 1 .25 4 .25-5 .25-2 .25 1 .25 4 .25-6 .25 17 .25-8 .25 8 .25-13 .25 8 .25-5 .25 2 .25 9 .25-5 .25-4 .25-2 .25-11 .25 11 .25-2 .25 17 .25-15 .25 6 .25-2 .25-2 .25 12 .25-14 .25 12 .25-17 .25 10 .25 15 .25-12 .25 3 .25 0 .25-1 .25-18 .25 7 .25 16 .25-5 .25-10 .25 0 .25 17 .25-12 .25 2 .25-2 .25-3 .25 7 .25 0 .25-5 .25 0 .25-5 .25 13 .25-19 .25 11 .25 3 .25 2 .25-7 .25 2 .25-5 .25-4 .25 5 .25 4 .25-3 .25-12 .25 6 .25 6 .25-7 .25 5 .25-9 .25-2 .25-14 .25 19 .25-14 .25 4 .25-2 .25 0 .25 6 .25-10 .25 7 .25-6 .25 4 .25 1 .25-2 .25-1 .25 1 .25-1 .25 3 .05-1 .2-2 .25 8 .25-9 .25 9 .25-6 .25 5 .25 0 .25-5 .25 5 .25 5 .25-13 .25 2 .25 2 .25 12 .25-5 .25-5 .25 3 .25 3 .25-5 .25 3 .25 3 .25 2 .25 3 .25-7 .25 2 .25-6 .25 7 .25 2 .25 0 .25 4 .25-9 .25 16 .25-5 .25 8 .25-13 .25 7 .25 3 .25-4 .25 12 .25-6 .25-9 .25 16 .25-10 .25 6 .25 4 .25-13 .25 16 .25-4 .25-16 .25 18 .25-14 .25 1 .25 16 .25-21 .25-7 .25 18 .25-2 .25-4 .25 13 .25-16 .25 4 .25 12 .25-10 .25-2 .25 4 .25-6 .25-1 .25 7 .25-3 .25 1 .25-5 .25 5 .25 1 .25 1 .25-11 .25-1 .25-5 .25 8 .25 3 .25-1 .25-2 .25 1 .25 1 .25-10 .25-1 .25-9 .25 1 .25-4 .25-10 .25-4 .25-11 .25-8 .25-9 .25-4 .21-3 .04 1 .25 2 .25 6 .25 9 .25 8 .25 9 .25 10 .25 2 .25 7 .25 9 .25 5 .25-3 .25 0 .25-5 .25 13 .25-8 .25 2 .25 9 .25-8 .25 7 .25 1 .25-8 .25 4 .25 10 .25-6 .25 0 .25-10 .25 8 .25 9 .25-10 .25 5 .25 4 .25 9 .25-26 .25 18 .25 1 .25-6 .25 13 .25-21 .25-1 .25 9 .25 6 .25-11 .25 7 .25-3 .25 17 .25-17 .25 13 .25-23 .25 12 .25 1 .25-10 .25 6 .25 3 .25-4 .25-3 .25 2 .25 3 .25 0 .25-8 .25 11 .25-7 .25 17 .25-16 .25 2 .25-8 .25 18 .25-11 .25 4 .25 4 .25-8 .25 4 .25-5 .25-3 .25-3 .25-6 .25 6 .25-6 .25 17 .25-13 .25 24 .25-20 .25-4 .25 13 .25-9 .25-5 .25-2 .25 5 .25-14 .25-5 .25-2 .25-4 .25-9 .25-3 .25-2 .12 0 .13 1 .25-1 .25 6 .25 1 .25 10 .25 1 .25 7 .25 7 .25-3 .25 2 .25-3 .25 3 .25 9 .25 4 .25 7 .25-15 .25 0 .25 19 .25-11 .25-6 .25 12 .25-8 .25-3 .25-6 .25 6 .25-5 .25-6 .25-12 .25-10 .25-10 .25-11 .25-12 .25-9 .25-5 .14 0 .11 0 .25 6 .25 7 .25 10 .25 10 .25 12 .25 7 .25 10 .25 2 .25 9 .25-3 .25 6 .25 5 .25-9 .25 13 .25-8 .25 15 .25-4 .25-2 .25 0 .25 5 .25-15 .25 10 .25-7 .25 2 .25 1 .25 4 .25-12 .25-3 .25-3 .25 14 .25-7 .25 7 .25 3 .25 1 .25-20 .25 14 .25 0 .25-7 .25-4 .25 12 .25 11 .25-22 .25 5 .25 2 .25-17 .25 18 .25-13 .25 6 .19 6 .06-9 .25-5 .25 6 .25 0 .25 7 .25-6 .25 14 .25-10 .25 25 .25-27 .25 16 .25-14 .25 18 .25-7 .25-13 .25 7 .25 2 .25-5 .25 10 .25-8 .25 6 .25 4 .25-3 .25-3 .25-1 .25 6 .25-7 .25 3 .25-15 .25 9 .25 9 .25-4 .25 2 .25 0 .25 9 .25-14 .25-8 .25 20 .25-7 .25-7 .25-4 .25-5 .25 7 .25 4 .25 10 .25-12 .25 1 .25-3 .25-3 .25 12 .25-1 .25-2 .25 8 .25-16 .25 11 .25-2 .25 7 .25-9 .25 3 .25-1 .25 5 .25-4 .25 0 .25-4 .25 1 .25 10 .25-9 .25 13 .25 6 .25-3 .25-6 .25 0 .25 2 .25-5 .25-1 .25 1 .25-5 .25 2 .25 15 .25-21 .25 1 .25-5 .25 17 .25 8 .25-5 .25-10 .25 7 .25-3 .25 1 .25-11 .25 12 .25-12 .25 7 .25 2 .25 1 .25 6 .25-2 .25-12 .25 17 .25-27 .25 7 .25 6 .25 3 .25-3 .25 0 .25 12 .25-22 .25 11 .25-4 .25 5 .25-2 .25 7 .25 5 .25 4 .25-26 .25 12 .25 12 .25-8 .25-2 .25 1 .25 8 .25-8 .25 2 .25-3 .25 2 .25 2 .25 11 .25-9 .25-3 .25 6 .25-18 .25 8 .25 4 .25-8 .25 6 .25 0 .25-1 .25-1 .25 5 .25 6 .25-10 .25 5 .25 1 .25-7 .25 2 .25 7 .25-17 .25 10 .25-1 .25-4 .25-12 .25 19 .25 11 .25-18 .25 7 .25-4 .25-1 .25-4 .25 4 .25-9 .25 5 .25 1 .25 0 .25-6 .25 10 .25-16 .25 1 .25 10 .25-14 .25 26 .25-24 .25 5 .25 12 .25-18 .25 19 .25-1 .25-1 .25-7 .25 10 .25-10 .25 7 .25-11 .25 13 .25 0 .25 0 .25 2 .25-12 .25 14 .25-7 .25 2 .25 3 .25-7 .25 10 .25-7 .25 6 .25-5 .25-6 .25 12 .25-6 .25 4 .25-7 .25-7 .25 17 .25-20 .25 10 .25-7 .25 15 .25-16 .25 19 .25 12 .25-23 .25 14 .25 6 .25-21 .25 9 .25-5 .25 4 .25-2 .25 14 .25-11 .25 15 .25-2 .25-7 .25-12 .25-1 .25-2 .25 9 .25-5 .25 0 .25 0 .25 11 .25-14 .25-2 .25 4 .25-1 .25 5 .25 0 .25-16 .25 9 .25-7 .25 6 .25-6 .25-3 .25 4 .25 5 .25-9 .25 11 .25-3 .25 0 .25 6 .25 3 .25-6 .25-18 .25 15 .25 14 .25-16 .25 12 .25-14 .25 27 .25-21 .25 11 .25-8 .25 5 .25 7 .25-8 .25-7 .25 17 .25-11 .25 11 .25-15 .25 2 .25 7 .25 1 .25-2 .25-11 .25 9 .25-15 .25 16 .25-5 .25 4 .25-8 .25 2 .25 5 .25-13 .25 7 .25 10 .25-2 .25-6 .25-2 .25-3 .25 5 .25 7 .25-4 .25-10 .25 2 .25 9 .25-21 .25 26 .25-32 .25 19 .25-5 .25-1 .25 0 .25 6 .25-3 .25-1 .25 13 .25-8 .25-3 .25-10 .25 9 .25 2 .25 4 .25-3 .25 0 .25-2 .25 10 .25-17 .25 13 .25 9 .25-27 .25 29 .25-6 .25 0 .25-8 .25 0 .25-1 .25 26 .25-27 .25 20 .25-17 .25-7 .25 11 .25-7 .25-5 .25 2 .25 7 .25-7 .25-2 .25 5 .25 2 .25-12 .25 18 .25-16 .25 7 .25 8 .25-3 .25-5 .25-1 .25 4 .25 8 .25-7 .25 8 .25-8 .25 16 .25-13 .25 8 .25-17 .25 8 .25 5 .25-17 .25 8 .25-4 .25 11 .25-10 .25 7 .25-2 .25 0 .25-11 .25 15 .25-18 .25 21 .25-7 .25-7 .25 4 .25-10 .25 8 .25 4 .25 15 .25-25 .25 9 .25-5 .25 10 .25 6 .25-17 .25 9 .25 6 .25-10 .25 1 .25-1 .25 3 .25 2 .25-6 .25 3 .25-5 .25 9 .25 0 .25 7 .25-8 .25 0 .25-8 .25 15 .25-4 .25-5 .25 5 .25 5 .25-5 .25-2 .25 0 .25-13 .25 2 .25-2 .25-12 .25-3 .25-5 .25-13 .25-9 .25-10 .25-8 .25-8 .24-1 .01 0 .25 2 .25 6 .25 11 .25 10 .25 10 .25 11 .25 7 .25 5 .25-1 .25 20 .25-5 .25 1 .25 6 .25 4 .25-12 .25 6 .25-4 .25-3 .25 3 .25 0 .25 3 .25-9 .25 4 .25 11 .25-15 .25 9 .25-8 .25 5 .25 5 .25 4 .25 2 .25-12 .25 15 .25-17 .25 17 .25-17 .25 3 .25 11 .25-5 .25 7 .25-3 .25-1 .25 7 .25-9 .25-1 .25 6 .25-2 .25 1 .25 2 .25 2 .25-11 .25-7 .25 11 .25 4 .25-3 .25-10 .25-4 .25 0 .25 14 .25-7 .25 12 .25 7 .25-8 .25-3 .25 0 .25 2 .25 11 .25-16 .25-5 .25 12 .25 5 .25-17 .25-1 .25-3 .25 10 .25-8 .25 19 .25-18 .25 16 .25-7 .25-16 .25 15 .25 10 .25-6 .25-9 .25 2 .25 2 .25 0 .25-2 .25-5 .25-2 .25-6 .25 14 .25-2 .25-6 .25 15 .25-12 .25 13 .25-11 .25-2 .25 7 .25-11 .25 16 .25 2 .25-13 .25 4 .25-10 .25 10 .25 5 .25-11 .25 6 .25 0 .25-4 .25 14 .25 5 .25-23 .25 12 .25-18 .25 14 .25 2 .25-3 .25 3 .25 1 .25 8 .25-11 .25-5 .25 9 .25 11 .25-17 .25 14 .25-8 .25-11 .25 8 .25-3 .25 8 .25-15 .25 11 .25-2 .25-17 .25 13 .25-4 .25 11 .25-4 .25 1 .25-6 .25-9 .25 15 .25-4 .25-5 .25 1 .25 6 .25-1 .25-5 .25-2 .25 10 .25-6 .25-4 .25 4 .25-2 .25 5 .25-5 .25 3 .25 4 .25-7 .25-1 .25 5 .25-8 .25 4 .25 0 .25 3 .25 0 .25-3 .25 11 .25-17 .25 5 .25 10 .25-11 .25 2 .25-6 .25 8 .25 9 .25-10 .25-4 .25 5 .25-8 .25 6 .25 22 .25-25 .25 0 .25 9 .25-5 .25 5 .25 15 .25-6 .25-14 .25 14 .25 0 .25 1 .25-11 .25 6 .25-5 .25 6 .25-1 .25 7 .25-5 .25-5 .25-14 .25 18 .25 1 .25 2 .25-7 .25 0 .25-2 .25-2 .25-11 .25 6 .25 2 .25-9 .25 9 .25-6 .25 11 .25-2 .25-13 .25-3 .25 19 .25 3 .25-2 .25-18 .25 18 .25-7 .25 9 .25-6 .25-5 .25 2 .25 6 .25-3 .25-13 .25 8 .25 6 .25-3 .25-2 .25 1 .25-10 .25 1 .25 8 .25 0 .25 3 .25-7 .25 1 .25-1 .25 6 .25 1 .25 5 .25 0 .25-1 .25 1 .25 5 .25-1 .25-9 .25-9 .25 7 .25 4 .25-1 .25-5 .25 11 .25-17 .25 11 .25-2 .25 10 .25-6 .25-8 .25-6 .25 4 .25 11 .25-8 .25 6 .25-1 .25-3 .25 8 .25-11 .25 6 .25 5 .25-5 .25 1 .25-6 .25-2 .25 8 .25 0 .25-6 .25 2 .25 1 .25 3 .25 7 .25-8 .25-3 .25 13 .25-26 .25 14 .25-5 .25 4 .25 10 .25-21 .25 1 .25 8 .25 8 .25-10 .25 3 .25 0 .25-7 .25 8 .25-4 .25 3 .25 2 .25-12 .25 10 .25-2 .25 1 .25-2 .25 7 .25 9 .25-13 .25 10 .25-11 .25 3 .25 6 .25-9 .25 2 .25-6 .25 19 .25-21 .25 11 .25-2 .25 2 .25-8 .25 6 .25 2 .25-8 .25-1 .25 7 .25-2 .25-2 .25 1 .25-6 .25-4 .25-2 .25 5 .25-10 .25 3 .25-6 .25 3 .25 6 .25-4 .25-3 .25-3 .25 0 .2 1 .05 4 .25-2 .25 5 .25-5 .25 12 .25-5 .25 3 .25 0 .25-3 .25 1 .25 0 .25 3 .25 14 .25-9 .25 4 .25-7 .25 3 .25 1 .25-10 .25-3 .25 13 .25-2 .25-4 .25 17 .25 2 .25-18 .25 17 .25-5 .25-10 .25-3 .25 10 .25-7 .25 10 .25 5 .25-3 .25 16 .25-13 .25 1 .25-2 .25-2 .25-1 .25 2 .25-9 .25 19 .25-18 .25 17 .25-10 .25 4 .25-15 .25 0 .25 17 .25-8 .25-10 .25-2 .25 1 .25 1 .25 10 .25 5 .25-7 .25 1 .25-2 .25-10 .25 7 .25 2 .25 3 .25-10 .25 8 .25 7 .25 3 .25-8 .25-15 .25 6 .25 8 .25-10 .25 3 .25 9 .25-16 .25 21 .25-9 .25-1 .25 0 .25-3 .25 16 .25-5 .25-6 .25 8 .25-4 .25-4 .25-3 .25 13 .25-12 .25 1 .25-4 .25 7 .25-10 .25 6 .25 8 .25 3 .25 13 .25-18 .25-2 .25 0 .25 11 .25-6 .25-7 .25 9 .25-3 .25 0 .25-3 .25 10 .25-9 .25 4 .25-5 .25 12 .25-15 .25 8 .25-16 .25 21 .25-18 .25 4 .25 4 .25 6 .25-7 .25 10 .25-2 .25 3 .25-16 .25 5 .25-1 .25 6 .25-1 .25 3 .25 0 .25 4 .25-11 .25-4 .25 10 .25 1 .25-1 .25-7 .25-15 .25 27 .25-7 .25 13 .25-18 .25 1 .25-14 .25 8 .25 5 .25 2 .25 12 .25 2 .25-19 .25 9 .25 3 .25-4 .25 2 .25 10 .25-15 .25 0 .25-3 .25 2 .25-1" fill="none" stroke="#0000ff" stroke-width="2.2" stroke-linejoin="round"/>
<path d="M92 1398.5V786H1038.4V1398.5" fill="none" stroke="#141414" stroke-width="2.5"/>
<path d="M90.8 1398.5H1039.6" fill="none" stroke="#000" stroke-width="2.6"/>
<path d="M92 1398.5v14M186.64 1398.5v7.5M281.28 1398.5v14M375.92 1398.5v7.5M470.56 1398.5v14M565.2 1398.5v7.5M659.84 1398.5v14M754.48 1398.5v7.5M849.12 1398.5v14M943.76 1398.5v7.5M1038.4 1398.5v14" stroke="#111" stroke-width="2.3" fill="none"/>
<text transform="translate(72.91 1443.8) scale(1.1 1)" font-size="30.86" fill="#111">20</text>
<text transform="translate(262.36 1443.8) scale(1.1 1)" font-size="30.86" fill="#111">30</text>
<text transform="translate(451.98 1443.8) scale(1.1 1)" font-size="30.86" fill="#111">40</text>
<text transform="translate(640.92 1443.8) scale(1.1 1)" font-size="30.86" fill="#111">50</text>
<text transform="translate(830.03 1443.8) scale(1.1 1)" font-size="30.86" fill="#111">60</text>
<text transform="translate(1019.31 1443.8) scale(1.1 1)" font-size="30.86" fill="#111">70</text>
<text transform="translate(466.39 1498.8) scale(1.14 1)" font-size="35.43" fill="#111">2&#952;(degree)</text>
<text transform="translate(70.5 1161.23) scale(1.04 1) rotate(-90)" font-size="35.9" fill="#000">Intensity</text>
<text transform="translate(109.84 834.93) scale(1.05 1)" font-size="33.69" font-weight="bold" fill="#000">(b)</text>
<rect x="741.8" y="796.8" width="281.6" height="91.1" fill="#fff" stroke="#3a3a3a" stroke-width="1.3"/>
<path d="M772.9 817H830.6" stroke="#333" stroke-width="2.2"/>
<text transform="translate(837.33 824.8) scale(1.12 1)" font-size="22.3" fill="#1a1a1a">1225</text>
<circle cx="898.6" cy="810.1" r="2.0" fill="none" stroke="#444" stroke-width="1.05"/>
<path d="M912.3 811.66A6.6 7.75 0 1 0 912.3 822.04" fill="none" stroke="#3c3c3c" stroke-width="1.4"/>
<text transform="translate(924.18 824.8) scale(1.12 1)" font-size="22.3" fill="#1a1a1a" textLength="46.39">no si</text>
<path d="M772.9 846.2H830.6" stroke="#ff0000" stroke-width="2.2"/>
<text transform="translate(837.33 852.6) scale(1.12 1)" font-size="22.3" fill="#1a1a1a">1225</text>
<circle cx="898.6" cy="837.9" r="2.0" fill="none" stroke="#444" stroke-width="1.05"/>
<path d="M912.3 839.46A6.6 7.75 0 1 0 912.3 849.84" fill="none" stroke="#3c3c3c" stroke-width="1.4"/>
<text transform="translate(921.88 852.6) scale(1.12 1)" font-size="22.3" fill="#1a1a1a" textLength="58.24">post si</text>
<path d="M772.9 874.3H830.6" stroke="#0000ff" stroke-width="2.2"/>
<text transform="translate(837.33 881.7) scale(1.12 1)" font-size="22.3" fill="#1a1a1a">1225</text>
<circle cx="898.6" cy="867" r="2.0" fill="none" stroke="#444" stroke-width="1.05"/>
<path d="M912.3 868.56A6.6 7.75 0 1 0 912.3 878.94" fill="none" stroke="#3c3c3c" stroke-width="1.4"/>
<text transform="translate(924.18 881.7) scale(1.12 1)" font-size="22.3" fill="#1a1a1a" textLength="54.13">pre si</text>
<text transform="translate(161.2 1034.25) scale(1.11 1) rotate(-90)" font-size="18.12" fill="#111" stroke="#111" stroke-width="0.6">M(006)</text>
<text transform="translate(293.6 943.91) scale(1.03 1) rotate(-90)" font-size="18.92" fill="#111" stroke="#111" stroke-width="0.6">M(110)</text>
<text transform="translate(311.2 1015.35) scale(1.05 1) rotate(-90)" font-size="18.18" fill="#111" stroke="#111" stroke-width="0.6">M(008)</text>
<text transform="translate(332 846.35) scale(1.04 1) rotate(-90)" font-size="18.15" fill="#111" stroke="#111" stroke-width="0.6">M(107)</text>
<text transform="translate(347.8 993.29) scale(1.09 1) rotate(-90)" font-size="17.4" fill="#d42a2a" stroke="#d42a2a" stroke-width="0.6">Fe<tspan font-size="10.79" dy="3.83">2</tspan><tspan dy="-3.83">O</tspan><tspan font-size="10.79" dy="3.83">3</tspan></text>
<text transform="translate(378.4 845.54) scale(1.02 1) rotate(-90)" font-size="16.78" fill="#111" stroke="#111" stroke-width="0.6">M(114)</text>
<text transform="translate(387 1005.68) scale(1 1) rotate(-90)" font-size="14.81" fill="#111" stroke="#111" stroke-width="0.35">M(201)</text>
<text transform="translate(402 1022.16) scale(0.98 1) rotate(-90)" font-size="14.55" fill="#111" stroke="#111" stroke-width="0.35">M(108)</text>
<text transform="translate(426.3 950.18) scale(1.11 1) rotate(-90)" font-size="18.45" fill="#111" stroke="#111" stroke-width="0.6">M(203)</text>
<text transform="translate(484.2 989.46) scale(1.02 1) rotate(-90)" font-size="18.25" fill="#111" stroke="#111" stroke-width="0.6">M(205)</text>
<text transform="translate(525.5 999.26) scale(1.05 1) rotate(-90)" font-size="18.21" fill="#111" stroke="#111" stroke-width="0.6">M(206)</text>
<text transform="translate(655.7 1032) scale(1.11 1) rotate(-90)" font-size="17.48" fill="#d42a2a" stroke="#d42a2a" stroke-width="0.6">Fe<tspan font-size="10.84" dy="3.85">2</tspan><tspan dy="-3.85">O</tspan><tspan font-size="10.84" dy="3.85">3</tspan></text>
<text transform="translate(740 1029.9) scale(1.1 1) rotate(-90)" font-size="17.48" fill="#d42a2a" stroke="#d42a2a" stroke-width="0.6">Fe<tspan font-size="10.84" dy="3.85">2</tspan><tspan dy="-3.85">O</tspan><tspan font-size="10.84" dy="3.85">3</tspan></text>
<text transform="translate(763.7 970.23) scale(1.04 1) rotate(-90)" font-size="16.66" fill="#111" stroke="#111" stroke-width="0.6">M(217)</text>
<text transform="translate(775 1021.5) scale(1 1) rotate(-90)" font-size="14.98" fill="#111" stroke="#111" stroke-width="0.35">M(304)</text>
<text transform="translate(786.3 1010.03) scale(0.93 1) rotate(-90)" font-size="12.93" fill="#111" stroke="#111" stroke-width="0.35">M(0014)</text>
<text transform="translate(800.7 969.26) scale(1.14 1) rotate(-90)" font-size="17.03" fill="#111" stroke="#111" stroke-width="0.6">M(2011)</text>
<text transform="translate(916.4 968.37) scale(1.06 1) rotate(-90)" font-size="18.38" fill="#111" stroke="#111" stroke-width="0.6">M(220)</text>
<path d="M93.4 2105l.25 1 .25-2 .25-4 .25 2 .25-2 .25 4 .25 6 .25-9 .25-2 .25 5 .25-1 .25-2 .25-5 .25 4 .25 3 .25-10 .25 5 .25-7 .25 3 .25-2 .25 8 .25-4 .25 8 .25-1 .25-1 .25-11 .25 10 .25 2 .25 1 .25-8 .25 5 .25-2 .25 1 .25 9 .25-9 .25 4 .25 5 .25-7 .25 2 .25 1 .25 0 .25-6 .25 6 .25 6 .25-14 .25 12 .25-4 .25-4 .25 13 .25-6 .25-10 .25 6 .25 2 .25-3 .25 4 .25-4 .25 3 .25 4 .25-11 .25 5 .25-4 .25 3 .25-7 .25 3 .25 2 .25 5 .25 1 .25-12 .25 2 .25 7 .25-13 .25 7 .25 1 .25 7 .25-3 .25-5 .25 0 .25 1 .25 8 .25-9 .25 1 .25 3 .25-2 .25 0 .25-4 .25 5 .25-2 .25 8 .25-2 .25-4 .25 4 .25-6 .25 7 .25-5 .25 3 .25-10 .25 8 .25-9 .25-2 .25 9 .25-3 .25 5 .25 11 .25-15 .25 1 .25 4 .25 2 .25-3 .25 0 .25 5 .25-1 .25-8 .25 5 .25 0 .25-5 .25 6 .25-6 .25 8 .25-4 .25-1 .25-3 .25 1 .25-9 .25 4 .25 7 .25-12 .25 15 .25-13 .25 13 .25-8 .25 9 .25-3 .25-8 .25 14 .25 1 .25-7 .25-1 .25 1 .25-4 .25 10 .25-8 .25 2 .25-3 .25 1 .25-3 .25 12 .25-7 .25 5 .25-4 .25-4 .25 2 .25-1 .25 3 .25-2 .25 0 .25-5 .25 3 .25 12 .25-11 .25-2 .25 6 .25 5 .25-14 .25 6 .25-2 .25-6 .25 12 .25-4 .25 0 .25-5 .25 6 .25-5 .25 1 .25-5 .25 0 .25 12 .25-9 .25 3 .25-1 .25-2 .25-1 .25 6 .25-4 .25 1 .25 1 .25 6 .25-2 .25-2 .25-4 .25-3 .25 11 .25 0 .25-5 .25 4 .25 1 .25 0 .25 1 .25-7 .25 10 .25-14 .25 11 .25-2 .25 2 .25 5 .25-2 .25-13 .25-2 .25 12 .25-9 .25 5 .25 5 .25-12 .25-2 .25 12 .25-1 .25-1 .25 1 .25-4 .25-3 .25 6 .25-4 .25-3 .25 10 .25-2 .25 2 .25-7 .25 1 .25-2 .25 0 .25 5 .25-5 .25 5 .25-1 .25 7 .25-17 .25 8 .25-6 .25-2 .25-9 .25 1 .25-1 .25-7 .25-4 .25-5 .25-2 .25-3 .04-2 .21 3 .25 1 .25 2 .25 9 .25 10 .25 1 .25 0 .25 4 .25 12 .25-2 .25 0 .25 1 .25 1 .25 4 .25-1 .25-1 .25-6 .25 7 .25-5 .25 9 .25-12 .25 6 .25 1 .25-6 .25 14 .25-1 .25-9 .25 6 .25-2 .25-15 .25 14 .25-2 .25 1 .25-6 .25 4 .25 1 .25 6 .25-4 .25-1 .25 8 .25-10 .25 1 .25-7 .25 17 .25-3 .25 0 .25-2 .25-2 .25 0 .25-3 .25 0 .25 1 .25 7 .25-5 .25-3 .25-3 .25-1 .25 11 .25-6 .25-2 .25-2 .25-4 .25 5 .25 4 .25-6 .25 0 .25 0 .25 1 .25-9 .25 7 .25-4 .25 8 .25-8 .25 6 .25 4 .25-9 .25-1 .25 4 .25-1 .25-4 .25 7 .25 8 .25-11 .25 1 .25-4 .25 8 .25-7 .25 1 .25 12 .25-10 .25 10 .25 3 .25-6 .25 2 .25 7 .25-10 .25-2 .25-4 .25 7 .25 7 .25-2 .25-10 .25 1 .25 1 .25 4 .25-3 .25 1 .25 0 .25-3 .25 1 .25 0 .25-1 .25 2 .25 6 .25-6 .25-3 .25-8 .25 10 .25-12 .25 3 .25 10 .25 0 .25-5 .25-8 .25 7 .25-2 .25 6 .25 8 .25-10 .25-5 .25-2 .25 6 .25-1 .25-4 .25 6 .25-6 .25 11 .25 0 .25 0 .25-8 .25 5 .25-4 .25-1 .25 0 .25-5 .25-2 .25 11 .25-5 .25 1 .25 4 .25-14 .25 4 .25 5 .25 1 .25-4 .25 7 .25-4 .25-6 .25 1 .25 8 .25-1 .25-12 .25 16 .25-3 .25 3 .25-8 .25 1 .25-4 .25 18 .25-13 .25 9 .25-10 .25 4 .25-9 .25 7 .25 7 .25-10 .25 11 .25-3 .25-6 .25 3 .25 0 .25 2 .25-2 .25-2 .25 3 .25-3 .25-2 .25 6 .25 4 .25-12 .25 8 .25-4 .25-2 .25 9 .25-8 .25 10 .25-12 .25 6 .25-4 .25-2 .25 6 .25-4 .25 4 .25-3 .25-5 .25 5 .25 1 .25 4 .25-9 .25 5 .25-8 .25 12 .25-8 .25-3 .25 9 .25 6 .25-12 .25 3 .25 2 .25-2 .25 7 .25-5 .25 0 .25 6 .25-6 .25 6 .25-7 .25-1 .25-3 .25 18 .25-11 .25 3 .25-1 .25 1 .25-1 .25 10 .25-15 .25-2 .25 3 .25-2 .25 10 .25 0 .25-9 .25-3 .25 5 .25 8 .25-21 .25 16 .25-8 .25 9 .25-10 .25 3 .25-6 .25 2 .25 11 .25-3 .25-6 .25-2 .25-5 .25 8 .25 2 .25 0 .25 0 .25-4 .25 6 .25 0 .25 7 .25 3 .25-9 .25-3 .25 4 .25-2 .25-1 .25 4 .25-5 .25 7 .25-3 .25 1 .25-2 .25-4 .25-1 .25 3 .25-2 .25 3 .25-1 .25-7 .25 7 .25-7 .25 4 .25 2 .25-9 .25 11 .25 1 .25-1 .25 0 .25 0 .25-2 .25 4 .25-2 .25 4 .25-7 .25 7 .25-1 .25-1 .25-2 .25 4 .25-11 .25 10 .25-1 .25 0 .25 0 .25-5 .25 1 .25 5 .25-2 .25-1 .25-8 .25 10 .25 3 .25-1 .25-3 .25-9 .25 12 .25-5 .25-12 .25 14 .25-9 .25 1 .25 3 .25 9 .25-8 .25 3 .25 7 .25 0 .25-9 .25 0 .25-5 .25 3 .25 6 .25 0 .25 0 .25 4 .25-8 .25 4 .25 5 .25-1 .25 3 .25-3 .25-3 .25 4 .25-7 .25-3 .25 11 .25-3 .25 2 .25-10 .25 7 .25-2 .25-1 .25-7 .25 9 .25 6 .25-3 .25-6 .25 3 .25 3 .25-18 .25 12 .25 3 .25 0 .25 4 .25-3 .25-4 .25 0 .25 2 .25-7 .25 3 .25 5 .25 5 .25-10 .25 0 .25 2 .25 5 .25-6 .25 7 .25-12 .25 3 .25 0 .25 4 .25 1 .25-12 .25 3 .25 6 .25-5 .25-4 .25 12 .25-2 .25 0 .25-4 .25 7 .25-6 .25 7 .25-10 .25 0 .25 6 .25-5 .25 7 .25-2 .25-5 .25 5 .25-2 .25 7 .25-8 .25 1 .25 9 .25 5 .25-1 .25-10 .25 1 .25 6 .25-8 .25-4 .25 6 .25 1 .25-6 .25-4 .25 1 .25 11 .25-7 .25 3 .25 2 .25 1 .25-4 .25 4 .25-7 .25 2 .25-3 .25 10 .25-6 .25-3 .25 2 .25 0 .25 5 .25-11 .25 2 .25 3 .25 14 .25-7 .25-6 .25 4 .25 6 .25-11 .25-1 .25 7 .25-4 .25 1 .25-6 .25 12 .25-1 .25-5 .25 0 .25-13 .25 14 .25-4 .25 3 .25 1 .25-4 .25-7 .25 10 .25-5 .25 2 .25-1 .25 1 .25-9 .25 17 .25-4 .25 4 .25 5 .25-10 .25-8 .25 4 .25-1 .25 3 .25 3 .25-11 .25 11 .25-9 .25 8 .25-2 .25-1 .25 1 .25-3 .25 0 .25-6 .25 8 .25 9 .25 1 .25-4 .25-3 .25-7 .25 10 .25-7 .25-1 .25-2 .25 2 .25-3 .25 1 .25-6 .25 3 .25 13 .25-12 .25-1 .25 4 .25 1 .25-9 .25 5 .25 5 .25-3 .25 0 .25 6 .25-10 .25 3 .25-3 .25 7 .25-15 .25 2 .25-3 .25-2 .25-8 .25-9 .25-14 .25-11 .25-15 .25-15 .25-12 .25-10 .24-3 .01 0 .25 4 .25 9 .25 14 .25 14 .25 15 .25 12 .25 9 .25 9 .25 5 .25 3 .25 8 .25-1 .25-4 .25 12 .25-2 .25 3 .25 0 .25 3 .25-2 .25 6 .25-3 .25 1 .25 1 .25-8 .25 6 .25 0 .25 3 .25-7 .25 15 .25-7 .25-6 .25-3 .25 7 .25 1 .25-3 .25 3 .25-3 .25 5 .25-7 .25 2 .25 4 .25 6 .25-17 .25 1 .25-3 .25 4 .25-9 .25-1 .25-4 .25-7 .25-7 .25-8 .25-11 .25-8 .25-8 .25-5 .19-1 .06-1 .25 4 .25 8 .25 9 .25 9 .25 8 .25 11 .25 5 .25 4 .25 5 .25 12 .25-3 .25 6 .25-6 .25 7 .25-7 .25 2 .25 12 .25-8 .25-6 .25 1 .25 2 .25 4 .25-9 .25-6 .25 7 .25 1 .25 0 .25 6 .25-4 .25 2 .25-9 .25 10 .25 6 .25-6 .25-3 .25 0 .25 8 .25-13 .25 3 .25 3 .25 1 .25-6 .25 4 .25-3 .25 2 .25-2 .25-5 .25 5 .25 5 .25-9 .25 3 .25 5 .25-8 .25 6 .25-6 .25 11 .25 6 .25-1 .25-10 .25 5 .25-3 .25 0 .25 7 .25-14 .25 12 .25-6 .25 7 .25-6 .25-4 .25 4 .25 2 .25-3 .25 2 .25-5 .25-7 .25 13 .25-1 .25-3 .25-1 .25 3 .25-7 .25-2 .25 1 .25 2 .25-11 .25 4 .25-9 .25-8 .25-6 .25-14 .25-16 .25-20 .25-23 .25-26 .25-28 .25-26 .25-20 .25-9 .06 0 .19 4 .25 15 .25 24 .25 27 .25 27 .25 25 .25 22 .25 18 .25 14 .25 12 .25 9 .25 5 .25 10 .25-6 .25 8 .25-2 .25 10 .25 1 .25-15 .25 5 .25 8 .25 1 .25 0 .25-3 .25 2 .25 1 .25-3 .25 5 .25-16 .25 14 .25-8 .25 9 .25-6 .25-3 .25 6 .25-6 .25 0 .25-4 .25 8 .25 2 .25 3 .25-6 .25 6 .25-5 .25 0 .25 3 .25 3 .25-7 .25 1 .25 0 .25 2 .25-5 .25 9 .25-7 .25 4 .25-6 .25 6 .25 0 .25-4 .25 12 .25-8 .25 7 .25-4 .25-7 .25 2 .25 4 .25-1 .25 1 .25-1 .25-7 .25 7 .25-9 .25 12 .25-5 .25 0 .25 2 .25 2 .25-9 .25-2 .25 4 .25-5 .25 5 .25 13 .25-13 .25 9 .25-10 .25 9 .25-3 .25 1 .25 4 .25 5 .25-7 .25-1 .25-5 .25 8 .25-4 .25 5 .25-4 .25 8 .25-18 .25 8 .25 6 .25-6 .25-2 .25 2 .25-6 .25 7 .25 11 .25-7 .25-11 .25 1 .25 1 .25 6 .25-9 .25 0 .25 6 .25 0 .25-7 .25-4 .25-2 .25 3 .25-7 .25 12 .25-6 .25 3 .25 3 .25-5 .25-10 .25 1 .25-6 .25-11 .25-11 .25-13 .25-18 .25-20 .25-24 .25-25 .25-23 .25-19 .25-10 .09-1 .16 3 .25 13 .25 20 .25 24 .25 25 .25 23 .25 20 .25 15 .25 13 .25 12 .25 6 .25 3 .25 12 .25 4 .25-12 .25 8 .25 10 .25-6 .25-2 .25-1 .25-1 .25 2 .25-2 .25 6 .25-5 .25 0 .25-3 .25 6 .25-4 .25 4 .25 6 .25-3 .25 1 .25-1 .25-1 .25-1 .25 0 .25 5 .25-8 .25 12 .25-6 .25-4 .25 2 .25 0 .25 4 .25-4 .25 9 .25-9 .25-7 .25 8 .25-6 .25 9 .25 6 .25-2 .25-10 .25 2 .25 12 .25-8 .25-2 .25 4 .25 5 .25-7 .25-8 .25-1 .25-2 .25-8 .25-5 .25 0 .25-7 .25-1 .25-3 .25 3 .08-7 .17 2 .25 1 .25 3 .25 5 .25-2 .25 1 .25-1 .25 4 .25 8 .25-1 .25-5 .25 3 .25 2 .25 2 .25-5 .25 1 .25-8 .25 3 .25 13 .25-18 .25 8 .25 3 .25-3 .25-2 .25 4 .25 0 .25 0 .25-8 .25 9 .25-3 .25 1 .25 5 .25 2 .25 2 .25-6 .25 7 .25 2 .25 0 .25 2 .25-7 .25 0 .25 4 .25-10 .25 6 .25-4 .25-1 .25-7 .25 1 .25 0 .25 0 .25-3 .25-4 .25-1 .08-2 .17 4 .25 0 .25 6 .25 7 .25-1 .25-3 .25 5 .25 0 .25 3 .25 13 .25-4 .25-7 .25 11 .25 4 .25-7 .25-1 .25 2 .25 3 .25 3 .25 3 .25 0 .25 1 .25 1 .25-3 .25-10 .25 7 .25 3 .25-3 .25 6 .25-6 .25-3 .25 12 .25-4 .25-3 .25 3 .25 0 .25-4 .25-14 .25 8 .25 1 .25-3 .25 5 .25 5 .25-9 .25-3 .25 15 .25-11 .25-4 .25 7 .25 2 .25-5 .25 7 .25-6 .25-1 .25 6 .25 3 .25-7 .25 5 .25-2 .25 14 .25-17 .25 10 .25-7 .25-1 .25 4 .25 0 .25 1 .25-5 .25-5 .25 0 .25 4 .25 0 .25 3 .25-5 .25 2 .25 2 .25-7 .25-8 .25 1 .25-1 .25 13 .25-12 .25 8 .25-5 .25 0 .25-7 .25-9 .25-8 .25-9 .25-11 .25-13 .25-12 .25-11 .25-9 .25-2 .25 2 .25 9 .25 11 .25 12 .25 13 .25 9 .25 12 .25 5 .25 9 .25 4 .25-6 .25 10 .25 6 .25 8 .25-5 .25 1 .25-7 .25 14 .25 2 .25-9 .25-1 .25-6 .25 12 .25 9 .25-10 .25 3 .25-3 .25-7 .25 12 .25-12 .25 5 .25 3 .25 3 .25-2 .25-1 .25-5 .25-3 .25 6 .25-4 .25-3 .25 0 .25 4 .25-7 .25 2 .25-1 .25 8 .25 1 .25 8 .25-17 .25 4 .25 8 .25-6 .25 0 .25 10 .25-10 .25-3 .25-1 .25 8 .25 0 .25-8 .25 2 .25 8 .25 0 .25-6 .25 7 .25-1 .25-11 .25 7 .25 4 .25-5 .25-8 .25 9 .25 6 .25 4 .25-18 .25 23 .25-18 .25 10 .25 1 .25-1 .25-4 .25-7 .25 8 .25-7 .25-9 .25 25 .25-11 .25 5 .25-14 .25 10 .25 0 .25 0 .25-9 .25-6 .25 4 .25-10 .25 1 .25 7 .25-6 .25 1 .25-2 .25 3 .25-6 .25-6 .25 1 .25-5 .01 1 .24 3 .25-3 .25 5 .25 0 .25 7 .25 8 .25-6 .25 6 .25-4 .25 0 .25 1 .25 14 .25 5 .25-8 .25-5 .25 8 .25-5 .25 6 .25-2 .25 1 .25 2 .25-6 .25 1 .25-6 .25 7 .25-5 .25 7 .25-4 .25 5 .25 2 .25-9 .25 3 .25 0 .25 8 .25 4 .25-4 .25-6 .25 9 .25-15 .25 15 .25-10 .25-11 .25 27 .25-6 .25-12 .25 6 .25-2 .25 1 .25-7 .25 4 .25 5 .25-1 .25 4 .25-6 .25 11 .25-15 .25 4 .25-11 .25 3 .25 12 .25-12 .25 7 .25-4 .25-5 .25 3 .25-1 .25-1 .25 6 .25-1 .25-6 .25-2 .25 6 .25-2 .25 6 .25 7 .25-9 .25-4 .25-1 .25-3 .25-1 .25 0 .25 3 .25-1 .25 6 .25-6 .25 2 .25-5 .25 14 .25-5 .25 7 .25-5 .25 4 .25-7 .25 5 .25 10 .25-19 .25 12 .25 3 .25-6 .25 2 .25 2 .25-10 .25 6 .25-7 .25 1 .25 0 .25 2 .25 1 .25 2 .25-10 .25 17 .25-4 .25-3 .25-5 .25 1 .25 3 .25-1 .25-11 .25 12 .25 11 .25-24 .25 14 .25-3 .25-2 .25 7 .25-12 .25 6 .25 6 .25-8 .25-2 .25 2 .25-4 .25 6 .25-12 .25 2 .25-11 .25-1 .25-9 .25-12 .25-7 .25-10 .25-9 .25-5 .24-3 .01 0 .25 3 .25 6 .25 10 .25 9 .25 9 .25 10 .25 10 .25 6 .25 2 .25 4 .25 2 .25 0 .25 13 .25-8 .25-4 .25 3 .25 6 .25 0 .25-3 .25-3 .25 4 .25-9 .25 2 .25 11 .25-7 .25 5 .25 4 .25-3 .25-3 .25 10 .25-8 .25-5 .25 5 .25-2 .25-6 .25 4 .25-2 .25-9 .25 9 .25-1 .25-1 .25-6 .25 6 .25 2 .25 1 .25-6 .25 9 .25-9 .25 5 .25 7 .25-10 .25 1 .25 8 .25-7 .25 0 .25 3 .25 4 .25-16 .25 7 .25-1 .25 0 .25 1 .25 0 .25 6 .25-5 .25 5 .25 1 .25-5 .25 4 .25 7 .25-6 .25-5 .25 3 .25-5 .25 6 .25 3 .25-8 .25 3 .25 7 .25-7 .25 4 .25-6 .25 2 .25 2 .25 14 .25-12 .25-1 .25 1 .25 2 .25 4 .25-3 .25 9 .25-9 .25 5 .25-6 .25 1 .25-10 .25 6 .25 0 .25-1 .25-9 .25 15 .25-7 .25 0 .25 1 .25 1 .25 3 .25-8 .25 2 .25 6 .25-1 .25-2 .25-1 .25-2 .25 4 .25 6 .25-11 .25 13 .25-4 .25-6 .25 6 .25-11 .25-1 .25 2 .25 4 .25 1 .25-1 .25 3 .25-11 .25 13 .25-9 .25 4 .25 1 .25-3 .25-1 .25 1 .25 5 .25 3 .25-1 .25-7 .25 0 .25-1 .25 6 .25-12 .25 15 .25-9 .25-2 .25 4 .25 2 .25-5 .25 0 .25-8 .25-1 .25-5 .25-9 .25-3 .25-7 .25-4 .25-2 .01 0 .24 3 .25 1 .25 7 .25 5 .25 6 .25-2 .25 10 .25 7 .25-3 .25 5 .25-9 .25 15 .25-6 .25 7 .25-13 .25 13 .25-5 .25 5 .25-9 .25 1 .25 14 .25-15 .25 0 .25 2 .25-3 .25 11 .25 3 .25-12 .25-5 .25 15 .25 0 .25-1 .25 2 .25-9 .25 3 .25-5 .25 0 .25 11 .25-8 .25 14 .25-11 .25-3 .25 6 .25 5 .25-7 .25-9 .25 7 .25 5 .25-10 .25-2 .25 9 .25-5 .25-6 .25 3 .25-2 .25 5 .25 0 .25 5 .25-2 .25-11 .25 10 .25 3 .25-2 .25 4 .25-7 .25-2 .25 10 .25-9 .25-4 .25 16 .25-8 .25 3 .25-5 .25 1 .25 1 .25 4 .25 3 .25-13 .25 15 .25-10 .25 0 .25 8 .25-4 .25-8 .25 16 .25-14 .25 5 .25-1 .25 6 .25-9 .25 7 .25-9 .25 9 .25-9 .25 2 .25 10 .25-7 .25-1 .25 10 .25-9 .25-6 .25 7 .25-9 .25 11 .25 1 .25-9 .25 0 .25 5 .25-1 .25-4 .25 7 .25-12 .25 8 .25 1 .25 0 .25 3 .25-7 .25 9 .25-4 .25-3 .25-3 .25 0 .25 7 .25-6 .25 4 .25 4 .25 0 .25 2 .25-10 .25-4 .25 9 .25-4 .25 4 .25-6 .25 6 .25-2 .25-1 .25-1 .25 0 .25 0 .25 0 .25 5 .25-7 .25 12 .25-8 .25 6 .25-4 .25-1 .25 12 .25-11 .25-4 .25 2 .25 2 .25 12 .25-9 .25 3 .25-9 .25 6 .25 2 .25 5 .25-12 .25 7 .25-1 .25-6 .25 5 .25 0 .25-10 .25 15 .25 1 .25-5 .25-3 .25 14 .25-6 .25 4 .25 2 .25-9 .25 6 .25-5 .25 0 .25 0 .25 0 .25 4 .25-5 .25-2 .25-1 .25 3 .25-6 .25 1 .25 2 .25-2 .25 2 .25-2 .25 13 .25-3 .25-4 .25-3 .25 11 .25-9 .25-2 .25 2 .25-1 .25 5 .25-8 .25 10 .25-15 .25 7 .25-9 .25 13 .25-11 .25 1 .25 5 .25 1 .25-12 .25 4 .25-5 .25 8 .25-1 .25-1 .25-1 .25 3 .25-1 .25 6 .25 6 .25-16 .25 9 .25-1 .25 4 .25-7 .25 3 .25-4 .25 7 .25-3 .25-2 .25 2 .25-3 .25-7 .25 10 .25-1 .25-2 .25 5 .25 2 .25-11 .25 2 .25 11 .25 0 .25-11 .25-2 .25 3 .25 1 .25-5 .25 7 .25-6 .25 0 .25 10 .25-7 .25 2 .25 4 .25 1 .25-6 .25 2 .25-5 .25 13 .25-6 .25-9 .25 5 .25 4 .25-2 .25 6 .25-2 .25-10 .25 2 .25-6 .25 8 .25 0 .25 12 .25-12 .25-10 .25 7 .25 4 .25-6 .25 3 .25 3 .25 4 .25-2 .25-3 .25 8 .25-7 .25 0 .25-4 .25 2 .25 7 .25-12 .25 7 .25 3 .25-6 .25 2 .25-7 .25 11 .25-1 .25-5 .25-10 .25 4 .25 10 .25 3 .25-6 .25 5 .25-9 .25 3 .25 1 .25 2 .25-9 .25 13 .25 2 .25-12 .25-1 .25 9 .25-5 .25-8 .25 16 .25-3 .25-3 .25 13 .25-10 .25-4 .25 4 .25-5 .25 1 .25 6 .25-5 .25 1 .25 10 .25-4 .25 0 .25-2 .25 0 .25 5 .25-7 .25 9 .25-13 .25 3 .25-5 .25 5 .25 4 .25 5 .25-10 .25 3 .25-2 .25-2 .25-2 .25 6 .25-8 .25 8 .25 0 .25-3 .25-2 .25-2 .25 16 .25-16 .25 14 .25-5 .25-5 .25-4 .25 11 .25 4 .25-13 .25 3 .25 7 .25-4 .25 8 .25-12 .25 6 .25-9 .25 16 .25-13 .25-7 .25 10 .25 0 .25 10 .25-11 .25 2 .25 3 .25 5 .25-8 .25 5 .25-2 .25-4 .25 2 .25-1 .25-4 .25 10 .25-13 .25 13 .25-2 .25-5 .25-4 .25 3 .25 3 .25 1 .25-3 .25 3 .25-8 .25 3 .25-9 .25 11 .25-4 .25-3 .25 8 .25-3 .25-17 .25 14 .25-7 .25 12 .25 7 .25-14 .25 3 .25-1 .25 3 .25 2 .25 3 .25-11 .25 12 .25-12 .25 6 .25 4 .25-2 .25-8 .25 1 .25 1 .25 2 .25 6 .25-12 .25 9 .25 1 .25 0 .25 0 .25 5 .25-5 .25 3 .25-2 .25 7 .25-18 .25 16 .25-7 .25 0 .25-3 .25-5 .25 8 .25-2 .25 6 .25-10 .25 15 .25-6 .25-2 .25-2 .25 0 .25-2 .25 3 .25 3 .25 0 .25-6 .25 6 .25-3 .25 6 .25 8 .25-6 .25-4 .25-7 .25 1 .25-2 .25 12 .25-8 .25 3 .25-3 .25 3 .25 6 .25-11 .25 1 .25-2 .25 8 .25-9 .25 0 .25-1 .25 0 .25 9 .25 11 .25-17 .25 10 .25-4 .25-6 .25 4 .25 0 .25-2 .25 13 .25-19 .25 11 .25 0 .25-5 .25 3 .25 3 .25-3 .25 1 .25 1 .25-14 .25 17 .25 4 .25-7 .25 1 .25-12 .25 6 .25-3 .25 1 .25 8 .25-8 .25 3 .25-9 .25 9 .25 1 .25-4 .25-1 .25 13 .25-16 .25 1 .25 1 .25 10 .25 4 .25-9 .25-5 .25 2 .25 7 .25-9 .25 11 .25 0 .25-6 .25 3 .25 1 .25 4 .25-12 .25 11 .25-8 .25-1 .25 4 .25-2 .25-4 .25-3 .25 3 .25 12 .25 2 .25-6 .25 2 .25-8 .25 2 .25 2 .25-7 .25 1 .25 5 .25-2 .25-4 .25 7 .25-3 .25 6 .25-6 .25-1 .25 2 .25-2 .25-3 .25 2 .25 5 .25 0 .25 3 .25-14 .25 6 .25 0 .25 3 .25-3 .25 0 .25 7 .25-3 .25-7 .25 13 .25-2 .25-8 .25 7 .25-8 .25 9 .25-7 .25-3 .25 2 .25-2 .25 5 .25 0 .25 0 .25-3 .25-11 .25 15 .25-9 .25 11 .25 4 .25-4 .25-3 .25 1 .25 1 .25-3 .25 0 .25-2 .25 10 .25-5 .25 4 .25-6 .25 2 .25-2 .25 3 .25 2 .25-3 .25-5 .25 0 .25 11 .25-10 .25 0 .25 8 .25-2 .25-4 .25-5 .25 13 .25-10 .25 1 .25-4 .25-7 .25 0 .25 8 .25 0 .25-4 .25-4 .25-2 .25 6 .25-5 .25 12 .25 1 .25 9 .25-9 .25-6 .25-1 .25-9 .25 12 .25 3 .25 6 .25-2 .25 1 .25-2 .25 2 .25 4 .25-13 .25 3 .25-5 .25 15 .25-2 .25-3 .25-10 .25 6 .25-2 .25 1 .25-1 .25 3 .25-4 .25 6 .25-3 .25-2 .25 0 .25-1 .25 6 .25-5 .25 2 .25-3 .25-6 .25 12 .25-10 .25 8 .25-2 .25-10 .25 3 .25 1 .25-1 .25-2 .25 9 .25-4 .25 3 .25-4 .25 4 .25-4 .25 4 .25 3 .25-2 .25-2 .25-3 .25 6 .25 1 .25-2 .25-2 .25 6 .25 10 .25-13 .25 3 .25 1 .25-14 .25 13 .25-4 .25 10 .25-8 .25-3 .25 3 .25 1 .25-4 .25 3 .25-7 .25 6 .25 5 .25 6 .25-6 .25-2 .25 5 .25-1 .25 4 .25-3 .25-6 .25 2 .25-1 .25 1 .25-1 .25-5 .25-7 .25 6 .25-7 .25 10 .25 0 .25-9 .25 12 .25 0 .25-3 .25 7 .25 1 .25-15 .25 11 .25-3 .25 0 .25 3 .25-8 .25 0 .25-1 .25 1 .25 3 .25-6 .25 2 .25 8 .25-3 .25 3 .25-11 .25 6 .25 1 .25 3 .25-3 .25 8 .25-5 .25 0 .25 0 .25 4 .25-6 .25 8 .25-4 .25-1 .25-1 .25 2 .25 2 .25 0 .25-3 .25 2 .25-4 .25 5 .25-6 .25-10 .25 17 .25-6 .25-6 .25 5 .25-3 .25 15 .25-7 .25-10 .25 11 .25-4 .25 11 .25-14 .25-6 .25 11 .25-2 .25-1 .25-9 .25 13 .25 5 .25-17 .25 15 .25-9 .25 14 .25-9 .25-4 .25 7 .25-3 .25-6 .25 6 .25-6 .25-6 .25 18 .25-11 .25-2 .25 4 .25-9 .25 1 .25 3 .25 0 .25 3 .25 5 .25-8 .25 4 .25 1 .25-9 .25 7 .25-6 .25 10 .25-3 .25-2 .25-6 .25 7 .25-4 .25 7 .25-4 .25-3 .25 9 .25-1 .25-7 .25 9 .25-7 .25-1 .25 2 .25-4 .25 0 .25 0 .25 6 .25-3 .25-9 .25 3 .25-9 .25-2 .25-1 .25-2 .04 4 .21-4 .25-1 .25 8 .25-1 .25 3 .25-8 .25 18 .25 1 .25 1 .25 2 .25 4 .25-7 .25 5 .25-7 .25 2 .25 8 .25-3 .25-8 .25 9 .25-2 .25-2 .25 7 .25-4 .25-5 .25 2 .25 15 .25-16 .25 8 .25 2 .25 0 .25-9 .25 4 .25 2 .25 2 .25-7 .25-3 .25 11 .25 0 .25-4 .25-5 .25 5 .25-2 .25 3 .25-10 .25 6 .25-1 .25-5 .25 6 .25-1 .25-2 .25 4 .25-9 .25 6 .25 3 .25-1 .25 4 .25-11 .25-1 .25 8 .25 1 .25 9 .25-7 .25-7 .25 9 .25-8 .25-3 .25 21 .25-11 .25 2 .25 0 .25 6 .25-7 .25 5 .25-11 .25-2 .25 13 .25 0 .25-5 .25-1 .25-1 .25-5 .25 11 .25-5 .25-1 .25 0 .25 3 .25-3 .25 1 .25-9 .25 8 .25 7 .25-13 .25 1 .25 5 .25-1 .25-2 .25-12 .25 8 .25-9 .25-1 .25 2 .25-8 .25-3 .25-5 .25-12 .25-10 .25-10 .25-9 .25-6 .24-2 .01 0 .25 2 .25 7 .25 8 .25 9 .25 9 .25 10 .25 7 .25 8 .25 5 .25-2 .25 7 .25-8 .25 18 .25-4 .25-5 .25-4 .25 8 .25-10 .25 5 .25 8 .25-3 .25-3 .25 7 .25-9 .25 6 .25-4 .25-2 .25 7 .25-8 .25 14 .25-12 .25 12 .25-15 .25 8 .25-8 .25-1 .25 7 .25 2 .25-9 .25 12 .25-10 .25 5 .25 1 .25 2 .25-12 .25 17 .25-5 .25-5 .25-3 .25-3 .25 2 .25 9 .25-4 .25-4 .25 3 .25 9 .25-9 .25-1 .25 9 .25-5 .25-2 .25-4 .25-5 .25 0 .25 1 .25-2 .25-2 .25-4 .25-5 .25-4 .25-4 .23-3 .02 3 .25 0 .25 3 .25 5 .25 1 .25 4 .25 7 .25 3 .25-1 .25 6 .25-2 .25-3 .25 4 .25 6 .25-12 .25 5 .25-3 .25-5 .25-10 .25 0 .25-8 .25-4 .25-3 .16 1 .09-1 .25 2 .25 5 .25 2 .25 3 .25 9 .25 3 .25 5 .25-5 .25 10 .25-2 .25 6 .25-13 .25 7 .25-3 .25-6 .25 4 .25 7 .25-7 .25-2 .25 6 .25-1 .25-1 .25-9 .25 0 .25-2 .25-9 .25-8 .25-8 .25-11 .25-14 .25-13 .25-10 .25-7 .19-2 .06 0 .25 5 .25 9 .25 13 .25 12 .25 13 .25 10 .25 14 .25 5 .25 2 .25 3 .25 4 .25-3 .25 5 .25 1 .25 8 .25-5 .25-2 .25-2 .25 1 .25 5 .25 0 .25 7 .25-9 .25 9 .25-4 .25-1 .25-9 .25 4 .25 10 .25 4 .25-6 .25 3 .25-5 .25 0 .25-1 .25 9 .25-3 .25-3 .25 0 .25 5 .25-1 .25-5 .25 13 .25-7 .25-1 .25 8 .25-2 .25-6 .25 3 .25-8 .25 2 .25-9 .25 17 .25-16 .25 12 .25-8 .25-1 .25 3 .25 2 .25 1 .25 5 .25-7 .25 2 .25-7 .25 6 .25-3 .25-3 .25 2 .25 0 .25 1 .25 1 .25-4 .25-1 .25 7 .25-11 .25 5 .25 10 .25-20 .25 10 .25 6 .25-11 .25 20 .25-25 .25 20 .25 0 .25-3 .25-5 .25 3 .25-6 .25 9 .25-9 .25 4 .25 6 .25-9 .25 4 .25 2 .25-7 .25 13 .25-4 .25-9 .25 7 .25-3 .25 1 .25 3 .25-3 .25 8 .25-8 .25 8 .25-5 .25 4 .25-6 .25 0 .25-3 .25 8 .25 2 .25 5 .25-4 .25-5 .25-2 .25 3 .25-2 .25 7 .25-3 .25-9 .25 1 .25 10 .25-6 .25-3 .25 7 .25-8 .25 0 .25-1 .25-8 .25 14 .25-11 .25 3 .25-1 .25 8 .25-4 .25 1 .25-8 .25 8 .25-7 .25 10 .25 0 .25-1 .25 10 .25-7 .25 1 .25-2 .25-2 .25 6 .25 0 .25-11 .25 11 .25-3 .25 2 .25-3 .25-8 .25 0 .25 14 .25-8 .25-8 .25 8 .25-3 .25-7 .25-3 .25 4 .25 9 .25-2 .25-1 .25 3 .25 1 .25-13 .25 9 .25-2 .25-2 .25 3 .25 2 .25 0 .25-6 .25 5 .25 12 .25-15 .25-3 .25 10 .25 2 .25-1 .25-7 .25 10 .25-9 .25-1 .25 2 .25 3 .25 4 .25-1 .25-3 .25 4 .25-4 .25 4 .25-12 .25-1 .25 12 .25-11 .25 5 .25 1 .25-1 .25 0 .25 9 .25-19 .25 17 .25 6 .25-11 .25 0 .25 3 .25 6 .25-15 .25 6 .25-1 .25 3 .25-2 .25 3 .25-6 .25 3 .25-4 .25 1 .25 2 .25 1 .25-5 .25 13 .25-8 .25-6 .25 12 .25-9 .25 7 .25-3 .25 1 .25 0 .25-4 .25 3 .25 10 .25-21 .25 10 .25 2 .25-8 .25-2 .25 17 .25-13 .25 11 .25-8 .25-2 .25 2 .25 0 .25 3 .25-3 .25-2 .25 1 .25 6 .25-3 .25-8 .25 2 .25 5 .25-4 .25 2 .25-2 .25 4 .25 3 .25 4 .25-5 .25 10 .25-10 .25 15 .25-10 .25-3 .25-5 .25-12 .25 13 .25 1 .25 8 .25-17 .25 16 .25-11 .25 5 .25-16 .25 12 .25-2 .25 5 .25-3 .25-6 .25 10 .25-1 .25 0 .25 2 .25 0 .25-5 .25-6 .25 0 .25 13 .25-3 .25-3 .25-2 .25 2 .25 0 .25-1 .25-2 .25 14 .25-9 .25-4 .25-3 .25 3 .25 7 .25 1 .25-5 .25 1 .25-2 .25-4 .25 11 .25-4 .25 10 .25-16 .25 3 .25 5 .25-6 .25-5 .25 2 .25 6 .25 1 .25-2 .25 6 .25 0 .25-3 .25-1 .25-2 .25 4 .25 2 .25-4 .25 1 .25-3 .25-6 .25 2 .25 8 .25-2 .25 6 .25-8 .25 3 .25 2 .25-2 .25-8 .25 1 .25 1 .25-6 .25 7 .25 2 .25-8 .25 12 .25-11 .25 0 .25 0 .25-2 .25 6 .25-1 .25 8 .25-4 .25 0 .25-3 .25-5 .25 7 .25-3 .25 9 .25-4 .25 8 .25-4 .25 1 .25-3 .25 0 .25 2 .25 1 .25-8 .25 6 .25 10 .25-13 .25-1 .25-2 .25-4 .25 13 .25-6 .25 2 .25 7 .25 3 .25-17 .25 9 .25-2 .25-2 .25 0 .25-2 .25 7 .25-5 .25-1 .25 4 .25-2 .25-1 .25-1 .25 7 .25-6 .25-2 .25-4 .25 3 .25-4 .25 6 .25 1 .25-12 .25 10 .25 3 .25-3 .25-6 .25 11 .25-10 .25-4 .25 1 .25 4 .25 5 .25 0 .25-5 .25-7 .25 3 .25-1 .25 3 .25-7 .25 10 .25 3 .25-3 .25 3 .25-6 .25-2 .25 5 .25 9 .25 0 .25-7 .25 8 .25-7 .25 8 .25-5 .25-5 .25 6 .25-8 .25-2 .25-2 .25 7 .25-1 .25-1 .25-2 .25 9 .25-9 .25-2 .25 8 .25 0 .25-6 .25-11 .25 3 .25 0 .25-7 .25-3 .25-13 .25-6 .25-12 .25-9 .25-11 .25-8 .25-5 .09 0 .16 1 .25 5 .25 9 .25 12 .25 11 .25 9 .25 7 .25 8 .25 4 .25 11 .25 0 .25 3 .25-1 .25-6 .25 6 .25-1 .25 8 .25-1 .25-4 .25 2 .25 10 .25-12 .25 0 .25 3 .25-2 .25 1 .25 4 .25 6 .25-18 .25 9 .25 0 .25-1 .25 0 .25-1 .25 7 .25-7 .25 1 .25 1 .25 1 .25-1 .25 5 .25-4 .25 0 .25-1 .25-4 .25 1 .25-1 .25 5 .25-4 .25-2 .25 6 .25 1 .25-11 .25 17 .25-9 .25 0 .25 5 .25-5 .25-3 .25 14 .25-16 .25 5 .25 4 .25-9 .25 5 .25 2 .25 10 .25-16 .25 4 .25 4 .25-3 .25-7 .25 8 .25-2 .25 2 .25 3 .25-1 .25-4 .25 0 .25-7 .25 4 .25 2 .25-3 .25 2 .25-4 .25 12 .25 3 .25-12 .25 5 .25-3 .25 8 .25-4 .25-1 .25-2 .25 2 .25-5 .25 8 .25-6 .25 6 .25-2 .25 5 .25-6 .25 5 .25-9 .25 7 .25-4 .25 1 .25 0 .25 4 .25-15 .25 11 .25-9 .25 13 .25-15 .25 4 .25-3 .25 16 .25-14 .25 7 .25-3 .25-6 .25 7 .25 5 .25-4 .25 5 .25-6 .25 1 .25-2 .25 3 .25 8 .25-8 .25-1 .25-4 .25-1 .25 11 .25-13 .25 1 .25 4 .25-1 .25 12 .25-21 .25 14 .25 2 .25-8 .25 2 .25 6 .25 7 .25-12 .25-3 .25 13 .25 3 .25-9 .25-9 .25 17 .25-8 .25 6 .25-6 .25-2 .25-1 .25 9 .25 0 .25-18 .25 6 .25 13 .25-10 .25-5 .25 7 .25 0 .25 0 .25-1 .25 1 .25-1 .25 4 .25-5 .25 2 .25 1 .25 7 .25-5 .25-2 .25 3 .25-1 .25 3 .25-3 .25 6 .25-2 .25-7 .25-2 .25 6 .25-2 .25-3 .25-7 .25-1 .25 10 .25 2 .25 1 .25-10 .25 12 .25-8 .25 5 .25 1 .25-6 .25 2 .25-7 .25 5 .25-4 .25 11 .25-2 .25 4 .25-3 .25-5 .25 4 .25-4 .25 4 .25-2 .25-7 .25 4 .25 0 .25-2 .25 6 .25 3 .25-10 .25 0 .25-9 .25 11 .25-2 .25-8 .25 12 .25 2 .25-7 .25 2 .25-3 .25 9 .25-11 .25 6 .25 11 .25-10 .25 2 .25-3 .25-5 .25 6 .25 2 .25-7 .25 6 .25 4 .25-1 .25-13 .25 3 .25-3 .25 13 .25-2 .25 1 .25-8 .25-1 .25 6 .25 1 .25-5 .25 6 .25 3 .25-2 .25-6 .25-5 .25 10 .25 2 .25-2 .25-1 .25-1 .25 6 .25-4 .25 1 .25-6 .25 2 .25 3 .25-6 .25-2 .25 5 .25 7 .25-5 .25 6 .25-8 .25-1 .25-5 .25 4 .25 10 .25-5 .25 2 .25 0 .25-3 .25-1 .25 2 .25 3 .25-1 .25 1 .25-1 .25-4 .25 3 .25-3 .25 10 .25-15 .25 10 .25 12 .25-13 .25-4 .25 5 .25 6 .25-7 .25 4 .25-3 .25-2 .25 16 .25-14 .25-3 .25 0 .25 4 .25 1 .25 1 .25-3 .25-8 .25 10 .25-4 .25 0 .25-6 .25 4 .25-1 .25 3 .25-6 .25 7 .25 0 .25-6 .25 3 .25-1 .25 8 .25-16 .25 10 .25-6 .25 5 .25 6 .25-7 .25 3 .25-6 .25 13 .25-5 .25 0 .25-13 .25 1 .25 9 .25-7 .25-2 .25 1 .25-9 .25 5 .25-6 .25-3 .25-7 .25-2 .25-5 .25 0 .09 0 .16 1 .25 2 .25 4 .25-2 .25 12 .25 2 .25 5 .25 1 .25-2 .25 6 .25 7 .25 5 .25-9 .25-1 .25 12 .25-10 .25 14 .25-9 .25-5 .25 10 .25 3 .25-15 .25 15 .25-9 .25 8 .25-9 .25-6 .25 10 .25 2 .25 5 .25-2 .25-5 .25-5 .25-2 .25 1 .25-3 .25 2 .25-11 .25 13 .25-1 .25 12 .25-9 .25-6 .25 5 .25-9 .25 4 .25-7 .25 17 .25-4 .25-9 .25 6 .25 5 .25-2 .25 0 .25-6 .25 1 .25 4 .25 4 .25-8 .25-2 .25 11 .25-10 .25 10 .25-4 .25 3 .25 4 .25-5 .25 0 .25-8 .25 1 .25 7 .25 5 .25-1 .25 5 .25-10 .25 0 .25 4 .25-5 .25 0 .25-5 .25 10 .25-10 .25 7 .25-9 .25 12 .25-10 .25 9 .25-12 .25 5 .25 8 .25-10 .25 4 .25-3 .25-9 .25 13 .25 0 .25-8 .25 8 .25-6 .25-2 .25 5 .25-3 .25 14 .25-18 .25 11 .25 1 .25-14 .25 2 .25 11 .25-5 .25 5 .25 4 .25-7 .25-3 .25-8 .25 15 .25-6 .25 6 .25 0 .25-8 .25 14 .25-3 .25-2 .25-10 .25 3 .25-1 .25 0 .25-4 .25 8 .25-1 .25 0 .25-4 .25 9 .25-5 .25-15 .25 11 .25 3 .25 5 .25-6 .25 1 .25-2 .25 6 .25-5 .25 0 .25-1 .25 7 .25-5 .25-6 .25 12 .25-6 .25 5 .25 0 .25 4 .25 0 .25-8 .25 2 .25-6 .25 14 .25-6 .25 5 .25-9 .25-8 .25 17" fill="none" stroke="#000000" stroke-width="2.2" stroke-linejoin="round"/>
<path d="M93.4 1952l.25 3 .25 0 .25 6 .25-12 .25 13 .25-5 .25 11 .25 0 .25 3 .25-4 .25-5 .25 6 .25 3 .25-12 .25 7 .25-4 .25 9 .25-13 .25 3 .25 4 .25 0 .25-11 .25 12 .25-3 .25 0 .25 0 .25 2 .25-12 .25 20 .25-15 .25-8 .25 13 .25 8 .25-11 .25 12 .25 0 .25-14 .25-9 .25 7 .25 15 .25-11 .25-4 .25 1 .25 8 .25 1 .25 5 .25 1 .25-11 .25 4 .25-5 .25 7 .25-8 .25 0 .25 19 .25-13 .25 4 .25 10 .25-10 .25-5 .25 0 .25-5 .25 11 .25-9 .25 12 .25-12 .25-1 .25 0 .25 6 .25-3 .25 6 .25-11 .25 5 .25 9 .25-12 .25 4 .25 6 .25-6 .25-7 .25-8 .25 26 .25-11 .25 5 .25-10 .25 13 .25-8 .25-2 .25-6 .25 8 .25-5 .25 1 .25-8 .25 6 .25 4 .25-8 .25 7 .25 3 .25-6 .25-3 .25 0 .25 8 .25-14 .25 6 .25-1 .25 3 .25-1 .25-6 .25 18 .25-10 .25-9 .25 3 .25 6 .25 3 .25-11 .25 13 .25-12 .25 4 .25 10 .25 5 .25-10 .25-1 .25 9 .25-14 .25 8 .25 0 .25 5 .25-4 .25-4 .25 5 .25-10 .25 11 .25-9 .25-2 .25 3 .25 2 .25 4 .25-5 .25 5 .25 1 .25-6 .25-5 .25 11 .25-4 .25-13 .25 6 .25 7 .25-9 .25 4 .25-7 .25 13 .25-2 .25 0 .25 7 .25-11 .25 0 .25 13 .25-19 .25 11 .25-11 .25 9 .25 11 .25-11 .25-6 .25 19 .25-17 .25 2 .25 4 .25-10 .25 15 .25 3 .25-4 .25-3 .25-2 .25 6 .25-22 .25 16 .25 3 .25-13 .25 14 .25-3 .25 0 .25 1 .25 3 .25-1 .25-8 .25 6 .25 0 .25 1 .25-3 .25 10 .25 2 .25 1 .25 3 .25-3 .25-11 .25-1 .25 1 .25 5 .25-4 .25 6 .25 3 .25-13 .25 8 .25-8 .25-5 .25-1 .25 6 .25-10 .25 14 .25 6 .25-16 .25 5 .25 10 .25-7 .25-1 .25-3 .25 7 .25-5 .25-8 .25-8 .25-1 .25 20 .25-5 .25 10 .25-4 .25-10 .25 10 .25 6 .25-12 .25 3 .25 13 .25-20 .25 3 .25 12 .25-5 .25-9 .25-3 .25 9 .25 1 .25-5 .25-6 .25-1 .25-8 .25-8 .25 2 .25-9 .25 0 .04 0 .21 4 .25-2 .25 5 .25 0 .25 11 .25 4 .25 5 .25-4 .25 8 .25-4 .25 4 .25 3 .25 9 .25-10 .25 4 .25-5 .25 2 .25-1 .25 4 .25 5 .25-11 .25 11 .25-10 .25 8 .25-5 .25 1 .25-1 .25 9 .25-6 .25 5 .25-9 .25 1 .25 10 .25-19 .25 5 .25 4 .25 12 .25-15 .25 9 .25 4 .25-10 .25 0 .25 10 .25-13 .25-3 .25 11 .25-9 .25 11 .25-5 .25-13 .25 12 .25-2 .25-4 .25 11 .25-17 .25 3 .25 5 .25 7 .25-13 .25 5 .25 0 .25-5 .25 7 .25-5 .25 4 .25 5 .25-7 .25 0 .25-1 .25 1 .25-4 .25 3 .25 7 .25-6 .25 23 .25-23 .25 8 .25-12 .25 7 .25-2 .25 2 .25 8 .25-9 .25-6 .25 8 .25-6 .25 5 .25 10 .25-4 .25 1 .25-2 .25-3 .25-9 .25 7 .25 0 .25 8 .25 2 .25-3 .25-7 .25 15 .25-3 .25-10 .25 2 .25 2 .25-3 .25-2 .25 3 .25-4 .25 1 .25-11 .25 0 .25 19 .25-18 .25 12 .25-1 .25 1 .25-5 .25 11 .25-3 .25-3 .25-6 .25 8 .25-1 .25-4 .25 10 .25 2 .25 1 .25-4 .25-2 .25 7 .25-2 .25 8 .25-11 .25-10 .25 10 .25 7 .25-13 .25-3 .25-3 .25 14 .25-12 .25 0 .25 3 .25-9 .25 7 .25-6 .25 7 .25 5 .25 3 .25-8 .25 8 .25-7 .25-7 .25 13 .25-4 .25 2 .25-16 .25 16 .25 0 .25-1 .25 5 .25-9 .25 14 .25-9 .25-1 .25-18 .25 3 .25 20 .25-6 .25 3 .25-8 .25 2 .25 5 .25-8 .25 12 .25-14 .25 8 .25-3 .25 3 .25 5 .25-15 .25 9 .25-2 .25 3 .25-5 .25-3 .25 6 .25 4 .25-2 .25-4 .25 2 .25-11 .25 6 .25 2 .25-1 .25-1 .25 4 .25 3 .25 9 .25-15 .25-1 .25 11 .25-5 .25-6 .25 13 .25-10 .25 0 .25-2 .25-2 .25 6 .25-6 .25 20 .25-13 .25-3 .25-3 .25 6 .25 4 .25-4 .25-9 .25 5 .25-9 .25 18 .25-4 .25-4 .25 1 .25-6 .25 2 .25 6 .25-6 .25 4 .25-3 .25 0 .25 1 .25 4 .25-8 .25 6 .25-8 .25 1 .25 0 .25 9 .25-6 .25 9 .25-12 .25 8 .25-8 .25 13 .25-10 .25 7 .25-6 .25-1 .25 6 .25-11 .25 3 .25 15 .25-14 .25 10 .25-10 .25-5 .25 7 .25 8 .25-5 .25-2 .25 7 .25-9 .25 9 .25-2 .25-8 .25 11 .25 2 .25-8 .25 2 .25-2 .25-5 .25 11 .25-11 .25 9 .25-6 .25-3 .25 10 .25-3 .25 10 .25-11 .25 1 .25 0 .25-2 .25 9 .25 1 .25-5 .25-10 .25 9 .25-3 .25-2 .25-7 .25 14 .25 2 .25-5 .25 1 .25 8 .25 1 .25-10 .25-18 .25 21 .25-3 .25 3 .25-7 .25-2 .25 9 .25-5 .25 3 .25 2 .25-2 .25-9 .25 12 .25-6 .25 1 .25 4 .25-11 .25 7 .25-10 .25 8 .25 5 .25-3 .25-1 .25 5 .25-6 .25-7 .25 16 .25-5 .25 3 .25-6 .25-1 .25-2 .25-7 .25 8 .25-1 .25 12 .25-20 .25 11 .25-2 .25 0 .25-1 .25 2 .25 3 .25-14 .25 14 .25-7 .25-4 .25-5 .25 0 .25 10 .25-6 .25 1 .25 4 .25 3 .25-3 .25-3 .25 3 .25 3 .25-5 .25 11 .25 2 .25 0 .25-9 .25 0 .25-3 .25 13 .25-11 .25 16 .25-24 .25 13 .25 2 .25-3 .25 3 .25 9 .25-12 .25 5 .25-8 .25-4 .25 1 .25 11 .25-3 .25-11 .25 10 .25 2 .25 0 .25 3 .25-14 .25 3 .25-1 .25 7 .25 7 .25-10 .25 4 .25 3 .25-7 .25 7 .25-6 .25 11 .25-2 .25-11 .25-1 .25 13 .25-16 .25 12 .25-10 .25-4 .25 16 .25-8 .25-8 .25 4 .25-2 .25-2 .25 6 .25 7 .25-14 .25 12 .25-11 .25 8 .25-7 .25 1 .25 4 .25 10 .25-1 .25-5 .25-1 .25 2 .25 16 .25-15 .25-3 .25-2 .25 1 .25 5 .25 0 .25-17 .25 26 .25-9 .25-3 .25 16 .25-24 .25 1 .25 14 .25-7 .25 5 .25 2 .25 3 .25-7 .25-9 .25-6 .25 10 .25-12 .25 10 .25-5 .25 6 .25 2 .25-5 .25-8 .25 9 .25-6 .25 6 .25-5 .25 16 .25-17 .25-8 .25 6 .25 5 .25 16 .25-8 .25-11 .25 4 .25-6 .25-1 .25 14 .25-2 .25-6 .25 1 .25 8 .25 2 .25-7 .25-5 .25 16 .25-9 .25-5 .25 10 .25 2 .25 5 .25-8 .25 4 .25-9 .25 9 .25-12 .25 12 .25-3 .25-10 .25 5 .25 12 .25-16 .25-4 .25 7 .25 2 .25 3 .25-6 .25-3 .25 1 .25 5 .25-6 .25 3 .25-14 .25 8 .25 1 .25 6 .25-4 .25-1 .25 5 .25-6 .25 17 .25-23 .25 7 .25 10 .25-6 .25-3 .25 5 .25-8 .25 3 .25 0 .25 8 .25-10 .25 5 .25-12 .25-5 .25-11 .25-4 .25-14 .25-10 .25-13 .25-14 .25-13 .25-8 .24-3 .01 0 .25 4 .25 9 .25 12 .25 14 .25 13 .25 11 .25 10 .25 5 .25 8 .25-2 .25-2 .25 12 .25 7 .25-10 .25 8 .25-11 .25 9 .25 1 .25 0 .25-8 .25 12 .25 1 .25 0 .25 11 .25-14 .25 4 .25 6 .25-14 .25 3 .25 11 .25-8 .25-3 .25 7 .25-11 .25 8 .25-8 .25 2 .25-12 .25 16 .25 0 .25-3 .25-3 .25 6 .25 6 .25-3 .25-9 .25 4 .25-4 .25 0 .25-8 .25 0 .25-11 .25-7 .25-5 .25-5 .25-7 .19 0 .06 1 .25 4 .25 2 .25 10 .25 4 .25 8 .25 10 .25 3 .25-2 .25 7 .25 1 .25 4 .25-5 .25 2 .25 2 .25 2 .25-1 .25 3 .25 2 .25-2 .25-5 .25-5 .25 4 .25 2 .25 2 .25 7 .25-5 .25-5 .25-2 .25 7 .25-1 .25-5 .25-3 .25 7 .25 4 .25-1 .25-10 .25 6 .25 1 .25-5 .25 4 .25-3 .25 8 .25-9 .25 12 .25-3 .25-4 .25-1 .25 6 .25-10 .25 5 .25-4 .25 11 .25-10 .25 0 .25-13 .25 17 .25-3 .25 6 .25-11 .25 4 .25 13 .25-12 .25 6 .25 4 .25-5 .25-1 .25 7 .25-11 .25 6 .25-5 .25-5 .25 6 .25 6 .25-9 .25-3 .25 2 .25-2 .25 4 .25-8 .25 9 .25-4 .25 3 .25-9 .25 4 .25-10 .25 3 .25-7 .25-8 .25-6 .25-11 .25-16 .25-19 .25-23 .25-25 .25-27 .25-24 .25-19 .25-9 .06 0 .19 4 .25 15 .25 22 .25 26 .25 26 .25 24 .25 19 .25 18 .25 14 .25 8 .25 10 .25 1 .25 10 .25 3 .25 1 .25-3 .25 5 .25-7 .25 3 .25 7 .25-5 .25 2 .25 2 .25 6 .25-9 .25 1 .25 0 .25-6 .25 11 .25-12 .25 7 .25 12 .25-7 .25-13 .25 8 .25 15 .25-11 .25 12 .25-14 .25-11 .25 15 .25-3 .25 2 .25-8 .25 0 .25 2 .25-3 .25 11 .25 1 .25-8 .25 6 .25-9 .25 1 .25-8 .25 12 .25-10 .25 4 .25-3 .25-5 .25-2 .21-4 .04 5 .25 0 .25 3 .25 1 .25-4 .25 2 .25 12 .25 5 .25-8 .25 2 .25 3 .25 0 .25 2 .25-2 .25 3 .25-4 .25 4 .25 5 .25-3 .25-4 .25 6 .25-8 .25 3 .25-2 .25 7 .25 2 .25-5 .25-3 .25 8 .25-1 .25-11 .25 15 .25 0 .25-7 .25 1 .25 0 .25-2 .25 5 .25-6 .25 2 .25 3 .25-11 .25 7 .25-4 .25 4 .25-1 .25 1 .25 2 .25-8 .25 7 .25-12 .25 15 .25-6 .25 4 .25-15 .25 17 .25-9 .25 3 .25-2 .25-2 .25-2 .25-8 .25 14 .25 2 .25-13 .25 6 .25-5 .25-6 .25-6 .25-5 .25-11 .25-12 .25-16 .25-20 .25-23 .25-27 .25-28 .25-27 .25-21 .25-11 .09-1 .16 3 .25 14 .25 24 .25 27 .25 28 .25 27 .25 22 .25 19 .25 15 .25 14 .25 6 .25 6 .25 2 .25 2 .25 11 .25 2 .25-13 .25 6 .25 10 .25-5 .25 5 .25-14 .25 11 .25 0 .25 1 .25-4 .25 4 .25 11 .25-16 .25 6 .25-1 .25 1 .25 12 .25-1 .25-11 .25 5 .25-7 .25 7 .25-4 .25 11 .25-6 .25-9 .25-5 .25 4 .25 18 .25-18 .25-4 .25 4 .25 1 .25 5 .25-8 .25 13 .25-10 .25 1 .25 6 .25-8 .25 0 .25 1 .25-9 .25 1 .25 6 .25-10 .25 0 .25 8 .25-4 .25-3 .25-9 .25 14 .25-12 .25-3 .25 0 .25-4 .08 3 .17 10 .25-16 .25 19 .25-15 .25 1 .25 13 .25 4 .25-13 .25 7 .25-9 .25 2 .25-3 .25 4 .25-5 .25 3 .25-3 .25 0 .25 0 .25-6 .25 1 .25-5 .25 7 .25 1 .01-6 .24 1 .25-1 .25 2 .25 4 .25-8 .25 2 .25 10 .25 6 .25-9 .25 10 .25 1 .25-4 .25 13 .25-13 .25 1 .25-7 .25 1 .25 7 .25 3 .25-5 .25 1 .25 1 .25 3 .25-14 .25 12 .25-9 .25 5 .25 0 .25-10 .25 11 .08-5 .17-1 .25 11 .25-11 .25 1 .25 10 .25 4 .25-2 .25 7 .25-15 .25 20 .25-4 .25-6 .25 0 .25 10 .25 1 .25-6 .25 6 .25 0 .25 7 .25-11 .25 12 .25-5 .25 0 .25 3 .25-5 .25-5 .25-1 .25 15 .25-16 .25 16 .25-10 .25 10 .25-12 .25 7 .25-1 .25 3 .25-7 .25 5 .25 6 .25-17 .25 14 .25-12 .25 13 .25-8 .25 11 .25-9 .25-1 .25 9 .25-7 .25 1 .25 7 .25 3 .25-4 .25-16 .25 13 .25 0 .25 3 .25 1 .25 0 .25-3 .25 9 .25-13 .25-3 .25-3 .25 5 .25 6 .25-4 .25 8 .25-9 .25-3 .25 12 .25-10 .25 7 .25-20 .25 5 .25 4 .25-3 .25 6 .25-2 .25 0 .25-7 .25-1 .25-1 .25 8 .25-11 .25 0 .25-11 .25-8 .25-5 .25-10 .25-13 .25-10 .25-10 .25-8 .25-3 .25 3 .25 8 .25 10 .25 11 .25 11 .25 9 .25 12 .25-4 .25 14 .25 6 .25-4 .25 9 .25-5 .25 9 .25 6 .25-10 .25 15 .25-12 .25-13 .25 11 .25 4 .25 1 .25-1 .25 2 .25-2 .25 9 .25-5 .25-3 .25 12 .25-17 .25-4 .25 8 .25-11 .25 18 .25-4 .25 14 .25-18 .25-1 .25 11 .25 0 .25 1 .25-7 .25 0 .25 7 .25-4 .25 5 .25 3 .25-8 .25 6 .25-15 .25 21 .25 0 .25-8 .25-2 .25 2 .25 0 .25-2 .25-3 .25 5 .25 4 .25-19 .25 8 .25-3 .25-3 .25 6 .25-14 .25 9 .25 7 .25 0 .25-2 .25-3 .25 3 .25-4 .25 2 .25 2 .25 4 .25-2 .25-1 .25-14 .25 11 .25-1 .25-4 .25-3 .25 10 .25-3 .25-2 .25-4 .25 2 .25 1 .25 5 .25 7 .25-8 .25-13 .25 13 .25 0 .25-10 .25-2 .25 6 .25 2 .25-3 .25 3 .25-10 .25-2 .25-4 .25 4 .25-3 .01 2 .24-9 .25 3 .25 10 .25 4 .25-2 .25 3 .25 7 .25-7 .25 5 .25-5 .25 2 .25 8 .25-15 .25 5 .25-10 .25 15 .25 0 .25 15 .25-19 .25 4 .25 5 .25-1 .25-6 .25 10 .25-23 .25 19 .25-6 .25 0 .25-1 .25 8 .25-8 .25 8 .25 9 .25-14 .25 5 .25-4 .25-5 .25 11 .25 3 .25-11 .25 4 .25-2 .25-4 .25 8 .25-17 .25 20 .25-13 .25 13 .25-7 .25-4 .25-9 .25 3 .25 11 .25-7 .25 10 .25-12 .25 14 .25-6 .25 3 .25-7 .25 3 .25 6 .25-2 .25-6 .25 7 .25-9 .25 20 .25-8 .25-6 .25 1 .25-4 .25 7 .25-17 .25 16 .25 10 .25-23 .25 13 .25-4 .25 2 .25-7 .25 12 .25-13 .25 12 .25 0 .25-5 .25 1 .25-15 .25 7 .25-12 .25 18 .25 3 .25-16 .25 10 .25-2 .25-9 .25 9 .25 3 .25 6 .25-5 .25 5 .25 8 .25-3 .25-11 .25 9 .25 7 .25 6 .25-11 .25 3 .25-2 .25 7 .25-7 .25 0 .25-12 .25 2 .25-8 .25 3 .25 7 .25 4 .25-1 .25-4 .25 9 .25-20 .25 7 .25 8 .25-6 .25-1 .25 4 .25-9 .25 0 .25 1 .25 12 .25-17 .25 2 .25 13 .25-12 .25-7 .25-9 .25 0 .25-8 .25-7 .25-10 .25-7 .25-4 .24-3 .01 1 .25 2 .25 5 .25 7 .25 11 .25 5 .25 12 .25 3 .25 9 .25-1 .25 12 .25 7 .25-9 .25 14 .25-9 .25-4 .25 5 .25-4 .25 3 .25-5 .25-7 .25 16 .25-6 .25-4 .25 5 .25-12 .25 6 .25 5 .25 4 .25-7 .25 4 .25-15 .25 10 .25 5 .25 4 .25-15 .25 17 .25 6 .25-13 .25-11 .25 15 .25 0 .25-6 .25 11 .25 2 .25-16 .25-1 .25 8 .25 5 .25-15 .25 3 .25 2 .25-4 .25 3 .25 7 .25-12 .25 10 .25-5 .25-1 .25-7 .25 10 .25 2 .25-8 .25 11 .25 1 .25-5 .25-6 .25 5 .25 7 .25 0 .25-6 .25-1 .25 6 .25-1 .25 2 .25-13 .25 6 .25 5 .25-10 .25 5 .25-6 .25 9 .25 2 .25-11 .25 17 .25-9 .25-7 .25 5 .25-6 .25 9 .25-6 .25-5 .25 4 .25-6 .25-6 .25 5 .25 11 .25-7 .25 5 .25-5 .25 2 .25 1 .25 3 .25-11 .25 1 .25 5 .25 9 .25-7 .25-2 .25 0 .25 0 .25-1 .25 9 .25 7 .25-9 .25-9 .25-1 .25 22 .25-20 .25 24 .25-10 .25-3 .25 6 .25-5 .25 9 .25-13 .25 5 .25-6 .25 6 .25 2 .25-13 .25-2 .25 15 .25-1 .25-1 .25-7 .25-2 .25 1 .25 7 .25-6 .25 0 .25 8 .25 7 .25 2 .25-11 .25 5 .25-5 .25-2 .25-4 .25-5 .25-3 .25 0 .25-1 .25-14 .25-4 .25-7 .25-5 .25-4 .25-7 .25-3 .01 1 .24 3 .25 2 .25 4 .25 6 .25 11 .25 0 .25 16 .25-11 .25 13 .25-3 .25 13 .25-1 .25 3 .25 2 .25-8 .25 5 .25-5 .25 3 .25 4 .25-4 .25-6 .25 0 .25 1 .25 0 .25 0 .25 14 .25-3 .25-3 .25 6 .25-5 .25-6 .25 10 .25-4 .25-15 .25 26 .25-14 .25-9 .25 19 .25-7 .25 0 .25 8 .25-3 .25-3 .25-1 .25-1 .25-1 .25-8 .25 14 .25-7 .25-1 .25 5 .25-9 .25 1 .25 6 .25-5 .25-5 .25 0 .25 24 .25-20 .25 17 .25-17 .25 7 .25-5 .25-4 .25 6 .25 14 .25-17 .25-1 .25 8 .25-9 .25 1 .25-4 .25 14 .25-2 .25-18 .25 18 .25-6 .25 1 .25-4 .25 5 .25 2 .25-8 .25 4 .25 0 .25-5 .25 1 .25 2 .25 6 .25-9 .25 4 .25 6 .25 2 .25-16 .25 10 .25-3 .25-1 .25-1 .25 15 .25-4 .25-8 .25 2 .25-1 .25-1 .25 6 .25-8 .25 7 .25-12 .25 9 .25-2 .25-3 .25 6 .25-1 .25-3 .25 10 .25-9 .25 0 .25-2 .25 9 .25-1 .25-20 .25 8 .25 7 .25 4 .25-3 .25-4 .25 9 .25-12 .25 4 .25 0 .25 0 .25-5 .25 4 .25 6 .25 2 .25-1 .25-1 .25-4 .25 5 .25-3 .25 1 .25 2 .25-7 .25 8 .25 3 .25-16 .25 8 .25-1 .25 11 .25-9 .25 3 .25 0 .25-9 .25-4 .25 14 .25 0 .25-2 .25-1 .25-9 .25 0 .25 4 .25 4 .25-6 .25 1 .25 5 .25 7 .25-18 .25 8 .25-7 .25-1 .25 18 .25-12 .25 9 .25 5 .25-2 .25-9 .25 8 .25-2 .25-4 .25 2 .25-1 .25 9 .25-6 .25-3 .25 5 .25-1 .25 1 .25 2 .25-11 .25 1 .25 9 .25-11 .25 7 .25-17 .25 12 .25-5 .25 4 .25 3 .25-14 .25 3 .25 8 .25-6 .25 8 .25-1 .25-6 .25 12 .25-1 .25-2 .25-6 .25 1 .25-5 .25-4 .25 10 .25 6 .25-5 .25 4 .25-6 .25 0 .25 0 .25 10 .25-14 .25 3 .25 8 .25 2 .25-2 .25 12 .25-16 .25 2 .25-3 .25 1 .25 13 .25-4 .25-8 .25 10 .25-13 .25 16 .25-13 .25 6 .25-12 .25 8 .25-4 .25 1 .25 0 .25-9 .25 0 .25 17 .25-14 .25-6 .25 15 .25-2 .25 2 .25-4 .25 7 .25 2 .25-6 .25 4 .25-14 .25 10 .25-4 .25-1 .25 12 .25-19 .25 14 .25-10 .25 14 .25-6 .25 5 .25-8 .25-7 .25 23 .25-16 .25-6 .25 13 .25 6 .25-13 .25-3 .25 7 .25 1 .25 0 .25-8 .25 2 .25 2 .25 9 .25-4 .25-11 .25 6 .25 3 .25-8 .25-14 .25 19 .25-4 .25 5 .25 1 .25-1 .25-1 .25 7 .25-9 .25-6 .25-4 .25 17 .25-11 .25 8 .25 2 .25 5 .25 0 .25-4 .25 0 .25 10 .25-22 .25 11 .25-4 .25 4 .25 10 .25-14 .25-5 .25-2 .25 8 .25-5 .25-2 .25 12 .25 5 .25-15 .25-2 .25 9 .25-5 .25 7 .25 2 .25-3 .25-1 .25-5 .25 11 .25 2 .25-15 .25 6 .25 7 .25-1 .25 6 .25-13 .25 5 .25 2 .25 0 .25 6 .25-2 .25 4 .25-9 .25-4 .25 8 .25-4 .25-10 .25-1 .25 8 .25 3 .25-12 .25 16 .25-7 .25-4 .25 7 .25-7 .25-9 .25 6 .25 8 .25 1 .25-7 .25 2 .25 1 .25-11 .25 7 .25 1 .25 9 .25-12 .25 12 .25-6 .25 0 .25-9 .25 20 .25 4 .25-22 .25 6 .25-10 .25 14 .25 1 .25 0 .25-9 .25 21 .25-7 .25-15 .25 5 .25 3 .25 1 .25 10 .25-16 .25 2 .25 2 .25-1 .25 1 .25 3 .25 8 .25-3 .25-6 .25-11 .25 2 .25 0 .25 4 .25-6 .25 3 .25 8 .25 3 .25-9 .25 10 .25-25 .25 17 .25-3 .25 8 .25-5 .25 3 .25 1 .25-3 .25 4 .25-6 .25-5 .25 3 .25 5 .25-4 .25-2 .25-6 .25 4 .25 9 .25-1 .25 3 .25-7 .25 2 .25 6 .25-11 .25 25 .25-23 .25 10 .25 7 .25-13 .25-11 .25 6 .25-4 .25 0 .25 24 .25-5 .25-1 .25-11 .25 5 .25-3 .25 1 .25-1 .25 8 .25-5 .25-2 .25-2 .25-9 .25 12 .25-3 .25 10 .25-22 .25 5 .25 6 .25 3 .25 0 .25-3 .25-2 .25 4 .25 11 .25-5 .25-13 .25 4 .25-7 .25 3 .25 13 .25 2 .25-12 .25 8 .25-12 .25 13 .25-8 .25 1 .25-4 .25 2 .25 15 .25-8 .25 1 .25-5 .25 1 .25 0 .25-3 .25 10 .25-10 .25 11 .25 5 .25-4 .25-11 .25 16 .25-15 .25 3 .25-2 .25-3 .25-1 .25 3 .25 3 .25 1 .25-10 .25 18 .25-8 .25-1 .25 0 .25 4 .25-2 .25-1 .25-7 .25 9 .25-5 .25 0 .25-3 .25 4 .25 0 .25-1 .25 8 .25-5 .25-4 .25 2 .25-12 .25 15 .25-7 .25-2 .25 8 .25-9 .25 10 .25-8 .25-5 .25 8 .25 6 .25-9 .25 7 .25-4 .25 0 .25 6 .25-6 .25 16 .25-19 .25-3 .25-7 .25 3 .25 7 .25-11 .25 1 .25 11 .25-5 .25-5 .25-4 .25 5 .25 4 .25-1 .25 1 .25 0 .25 0 .25 5 .25 4 .25-1 .25-6 .25 8 .25-2 .25 1 .25 1 .25-1 .25-10 .25 6 .25-2 .25-4 .25 23 .25-19 .25-3 .25 7 .25-4 .25-2 .25 5 .25 3 .25-1 .25 3 .25-9 .25 0 .25 14 .25-14 .25 10 .25-5 .25-5 .25 11 .25 2 .25-19 .25 8 .25 5 .25-13 .25 15 .25-17 .25 21 .25-16 .25 7 .25-10 .25 16 .25-11 .25-2 .25 6 .25-2 .25-15 .25 14 .25 5 .25-7 .25 7 .25-2 .25 6 .25-7 .25 12 .25-12 .25 3 .25-3 .25-4 .25 6 .25-4 .25 9 .25-6 .25 6 .25-1 .25-8 .25 2 .25 17 .25-10 .25-4 .25 8 .25-14 .25-5 .25 15 .25-8 .25-7 .25 6 .25 5 .25-7 .25 7 .25 4 .25-1 .25 4 .25-15 .25 22 .25-25 .25 8 .25-3 .25 11 .25-2 .25 7 .25-3 .25-1 .25-5 .25 3 .25-4 .25 8 .25-2 .25 4 .25-6 .25-2 .25 5 .25-6 .25 2 .25-4 .25 9 .25-2 .25-6 .25 16 .25-9 .25-5 .25-4 .25 0 .25 4 .25-8 .25 4 .25 7 .25 4 .25-12 .25 14 .25-2 .25-11 .25-2 .25 12 .25 0 .25-6 .25 6 .25 13 .25-18 .25 8 .25-12 .25-6 .25 2 .25-4 .25 15 .25-5 .25 1 .25 0 .25-8 .25 5 .25-4 .25 0 .25-4 .25-3 .25 9 .25-5 .25 0 .25 10 .25-5 .25-1 .25-1 .25 1 .25 7 .25-8 .25 12 .25-2 .25-15 .25 6 .25 7 .25-9 .25-5 .25 12 .25 7 .25-18 .25 17 .25-14 .25 3 .25 8 .25-5 .25-1 .25 1 .25-8 .25 19 .25-11 .25-3 .25-1 .25 10 .25-1 .25-12 .25 8 .25-6 .25 11 .25-5 .25 7 .25 1 .25 3 .25-8 .25-1 .25 4 .25 5 .25-8 .25-1 .25 9 .25-17 .25 19 .25-10 .25 3 .25 4 .25-12 .25 6 .25 5 .25-5 .25 3 .25-9 .25 8 .25-3 .25-3 .25-5 .25 10 .25-8 .25 8 .25 7 .25-11 .25 4 .25-8 .25 11 .25-17 .25 12 .25-7 .25 1 .25 0 .25 15 .25-15 .25 14 .25-9 .25-4 .25 4 .25-1 .25 1 .25 6 .25-16 .25 12 .25-2 .25 3 .25-7 .25 15 .25-9 .25-7 .25 2 .25 1 .25-1 .25 8 .25-12 .25 21 .25-17 .25 1 .25 0 .25 4 .25-16 .25 12 .25 4 .25-6 .25 4 .25 8 .25-16 .25 1 .25 5 .25 2 .25-2 .25-4 .25 1 .25 2 .25 5 .25 13 .25-14 .25-9 .25 19 .25-12 .25 7 .25-2 .25-3 .25 1 .25-13 .25 18 .25-21 .25 23 .25-10 .25-11 .25 13 .25 8 .25-1 .25-7 .25 1 .25-2 .25 3 .25-6 .25 5 .25-11 .25 9 .25-10 .25 0 .25 15 .25-7 .25 10 .25-18 .25-5 .25 4 .25 12 .25-2 .25-12 .25 5 .25 4 .25-3 .25-10 .25 28 .25-2 .25-8 .25-11 .25-4 .25 15 .25-1 .25 3 .25 1 .25-10 .25 0 .25 2 .25-2 .25-6 .25 7 .25 7 .25-7 .25 1 .25 10 .25-15 .25 4 .25-1 .25 2 .25 3 .25-7 .25 6 .25 15 .25-19 .25 8 .25 8 .25 4 .25-7 .25-10 .25 5 .25 10 .25 0 .25-11 .25 3 .25 9 .25-14 .25 15 .25-20 .25 4 .25 10 .25-1 .25-10 .25 17 .25-16 .25 6 .25 8 .25-9 .25 4 .25-15 .25 3 .25-4 .25 9 .25-2 .25-4 .25 9 .25-6 .25 10 .25-4 .25-5 .25 8 .25-3 .25 8 .25-15 .25 12 .25-7 .25-5 .25 10 .25-12 .25 4 .25 2 .25 3 .25-4 .25-7 .25 7 .25-13 .25-1 .25 3 .25 9 .25-9 .25 6 .25-4 .25-3 .25 2 .25 8 .25-6 .25-7 .25-4 .25-10 .25 3 .25-9 .25-7 .25-7 .25-9 .25-4 .24-4 .01 1 .25 2 .25 5 .25 9 .25 7 .25 8 .25 4 .25 8 .25-3 .25 13 .25-8 .25 6 .25-1 .25 10 .25-7 .25 10 .25 1 .25-11 .25 17 .25-3 .25-7 .25 1 .25 2 .25 3 .25-1 .25-5 .25 8 .25-7 .25 2 .25-3 .25 9 .25 0 .25 2 .25-11 .25 4 .25 4 .25-10 .25 0 .25 9 .25-8 .25 4 .25-4 .25 13 .25-3 .25-3 .25 5 .25-5 .25-4 .25 16 .25-15 .25 21 .25-21 .25 9 .25-15 .25 13 .25-4 .25-1 .25 1 .25-1 .25 5 .25 7 .25-15 .25-8 .25 5 .25 3 .25-5 .25 7 .25-6 .25 10 .25-6 .25 1 .25-5 .25 3 .25-6 .25 8 .25-4 .25-6 .25 13 .25-10 .25 6 .25-4 .25 7 .25-10 .25 0 .25 1 .25-8 .25 4 .25 0 .25-7 .25-3 .25-5 .25-3 .25-5 .25-4 .25-4 .16 1 .09-1 .25 3 .25 2 .25 3 .25 9 .25 0 .25 12 .25-7 .25 3 .25 1 .25 10 .25-5 .25 1 .25 8 .25-9 .25 8 .25 7 .25-14 .25-6 .25 17 .25-5 .25-13 .25 8 .25-13 .25 10 .25-4 .25-11 .25-2 .25-10 .25-9 .25-11 .25-12 .25-8 .25-7 .19-1 .06 0 .25 3 .25 10 .25 9 .25 11 .25 9 .25 13 .25 2 .25 4 .25 7 .25 7 .25 1 .25-8 .25 19 .25 3 .25-3 .25-3 .25 3 .25 13 .25-17 .25 8 .25-2 .25-3 .25 3 .25 0 .25 13 .25-6 .25-11 .25 0 .25 5 .25 8 .25-5 .25 3 .25 3 .25-9 .25 7 .25-3 .25 6 .25-5 .25 10 .25-13 .25 2 .25-5 .25 8 .25-2 .25-15 .25 2 .25 4 .25 2 .25 14 .25-11 .25 0 .25 3 .25-1 .25 5 .25-7 .25-3 .25 6 .25 4 .25-5 .25-5 .25 6 .25-3 .25-3 .25 12 .25-11 .25 1 .25-3 .25 5 .25 6 .25-11 .25 10 .25-3 .25-4 .25 21 .25-14 .25 1 .25-11 .25 24 .25-13 .25 0 .25 5 .25-8 .25 1 .25-8 .25 4 .25 0 .25 8 .25 4 .25-16 .25 12 .25-2 .25-4 .25-1 .25 2 .25-3 .25 12 .25-19 .25 8 .25 6 .25-3 .25-3 .25 6 .25-4 .25 4 .25-2 .25-5 .25 0 .25 1 .25-11 .25 6 .25 6 .25-8 .25 3 .25-1 .25 1 .25-9 .25 7 .25 4 .25-16 .25-2 .25 11 .25 2 .25 2 .25 4 .25-11 .25 8 .25 2 .25 0 .25-8 .25 1 .25 4 .25 3 .25-2 .25-6 .25 13 .25 1 .25 5 .25-15 .25 2 .25 4 .25-11 .25 2 .25-1 .25 13 .25-4 .25-6 .25-4 .25 5 .25 10 .25-7 .25 5 .25-6 .25 8 .25-12 .25 1 .25 1 .25-5 .25 2 .25-1 .25-4 .25 13 .25-7 .25-7 .25 0 .25 6 .25-5 .25 14 .25-1 .25-7 .25 9 .25-9 .25 5 .25 2 .25-12 .25 15 .25 1 .25-7 .25 12 .25-8 .25-4 .25 13 .25-5 .25-7 .25 12 .25 0 .25-13 .25 6 .25 7 .25-27 .25 25 .25-13 .25-4 .25 17 .25-13 .25-6 .25 15 .25-13 .25 11 .25-3 .25 4 .25-3 .25-6 .25 6 .25 1 .25 2 .25-1 .25-5 .25-1 .25 3 .25-1 .25 18 .25-13 .25-2 .25 3 .25-4 .25 7 .25-12 .25 3 .25-8 .25 8 .25-4 .25-10 .25 8 .25 13 .25-5 .25 1 .25-5 .25 13 .25-7 .25-10 .25 2 .25 11 .25-12 .25 11 .25 3 .25-18 .25 6 .25 3 .25-1 .25 1 .25 5 .25 1 .25-3 .25-4 .25 3 .25 1 .25-3 .25-3 .25-1 .25 9 .25-3 .25-4 .25 1 .25 10 .25-14 .25 5 .25 6 .25-7 .25-11 .25 13 .25-8 .25 6 .25-2 .25 10 .25-9 .25-5 .25 5 .25-1 .25-1 .25 12 .25-6 .25-3 .25-11 .25 5 .25 17 .25-6 .25-2 .25-2 .25-12 .25 9 .25 4 .25-3 .25-6 .25 5 .25 2 .25-12 .25-1 .25 2 .25-6 .25 3 .25 0 .25-1 .25 5 .25-4 .25 2 .25 11 .25-3 .25 0 .25-1 .25 2 .25 2 .25 8 .25-11 .25 0 .25 2 .25 6 .25-5 .25 8 .25-3 .25-4 .25 5 .25 1 .25-13 .25 12 .25-4 .25-11 .25 2 .25-1 .25 11 .25 0 .25 5 .25-11 .25 19 .25-12 .25-5 .25 0 .25 1 .25-4 .25 11 .25-7 .25 4 .25 8 .25-4 .25 0 .25-6 .25 11 .25-10 .25 2 .25 11 .25-23 .25 16 .25-6 .25-9 .25 8 .25 5 .25-7 .25 7 .25-8 .25 5 .25-7 .25-11 .25 13 .25-13 .25 15 .25 4 .25 7 .25-8 .25-7 .25 13 .25-10 .25 9 .25-8 .25-9 .25 5 .25 0 .25 7 .25 1 .25-7 .25 1 .25-5 .25 8 .25-1 .25-9 .25 14 .25 2 .25-7 .25 8 .25 5 .25 1 .25-10 .25-2 .25 3 .25 5 .25-7 .25 2 .25-10 .25 11 .25-1 .25-3 .25-1 .25 0 .25 4 .25-3 .25 3 .25 2 .25-6 .25 4 .25-7 .25-1 .25 1 .25-3 .25 1 .25 4 .25-3 .25-6 .25 7 .25-1 .25 4 .25-7 .25 4 .25-5 .25 0 .25 9 .25 0 .25-1 .25-7 .25 18 .25-11 .25 1 .25 8 .25-17 .25 15 .25-6 .25-2 .25 9 .25-15 .25 1 .25 13 .25-23 .25 11 .25-3 .25 3 .25-2 .25-1 .25 6 .25-4 .25-1 .25-8 .25 12 .25 2 .25-9 .25 7 .25-5 .25 1 .25 10 .25-3 .25-2 .25-6 .25 1 .25-6 .25 5 .25 3 .25-5 .25 13 .25-5 .25-1 .25-7 .25 11 .25-13 .25-4 .25 0 .25-6 .25-7 .25-9 .25-8 .25-10 .25-9 .25-6 .25-4 .09-1 .16 2 .25 4 .25 8 .25 8 .25 11 .25 9 .25 8 .25 7 .25 1 .25 8 .25-7 .25 0 .25 6 .25-3 .25 8 .25 9 .25-13 .25 3 .25-4 .25 11 .25 0 .25-1 .25-4 .25 3 .25 5 .25 1 .25-2 .25-6 .25-2 .25-7 .25 8 .25-5 .25-1 .25 9 .25-3 .25 0 .25 5 .25-7 .25-8 .25 14 .25 2 .25-15 .25 16 .25-14 .25 5 .25 7 .25-3 .25 8 .25-5 .25-8 .25-1 .25 6 .25-13 .25 14 .25-7 .25 2 .25-6 .25-4 .25 5 .25-7 .25 2 .25-4 .25 0 .25-9 .18 2 .07 1 .25 1 .25 1 .25-3 .25 11 .25-1 .25-4 .25 13 .25-6 .25-2 .25 10 .25 4 .25-2 .25 2 .25 0 .25 1 .25 3 .25 1 .25 5 .25-19 .25 13 .25-5 .25 3 .25 3 .25 3 .25 3 .25-9 .25-4 .25 3 .25 6 .25 1 .25 1 .25-6 .25 3 .25 2 .25 0 .25-9 .25-2 .25-5 .25 2 .25 7 .25-1 .25 3 .25 3 .25-10 .25 9 .25 1 .25 2 .25-19 .25 19 .25-7 .25-12 .25 7 .25 12 .25-4 .25-1 .25 4 .25 3 .25-9 .25-9 .25 10 .25 8 .25-12 .25 3 .25-4 .25 8 .25-12 .25 15 .25 0 .25 6 .25-8 .25-5 .25 3 .25 3 .25-2 .25 12 .25-1 .25-14 .25 4 .25-9 .25 10 .25 5 .25-8 .25-9 .25 17 .25-11 .25 13 .25-19 .25 15 .25 5 .25-8 .25-5 .25 2 .25-11 .25 5 .25 9 .25 1 .25-12 .25 0 .25 11 .25-14 .25 16 .25-5 .25 2 .25-3 .25 3 .25-10 .25 4 .25 12 .25-5 .25-12 .25 14 .25-5 .25 9 .25-10 .25 0 .25-11 .25 16 .25-10 .25-1 .25 4 .25-8 .25 8 .25 2 .25-3 .25 4 .25 4 .25-5 .25-8 .25 11 .25 3 .25-1 .25-7 .25 4 .25 8 .25-11 .25 0 .25-6 .25 6 .25 8 .25-11 .25-9 .25 6 .25 8 .25-11 .25 5 .25 10 .25-9 .25 11 .25-9 .25 1 .25-11 .25 7 .25-8 .25-2 .25 20 .25-14 .25-3 .25 11 .25-10 .25 8 .25-5 .25 11 .25-11 .25 8 .25-6 .25 10 .25-13 .25-3 .25 17 .25-15 .25 15 .25-8 .25-1 .25 13 .25-14 .25 3 .25-1 .25 2 .25-3 .25 9 .25-6 .25-1 .25-5 .25 15 .25-15 .25 5 .25-1 .25-2 .25 5 .25-2 .25 4 .25-3 .25-5 .25 2 .25-3 .25 9 .25-8 .25 3 .25-8 .25 12 .25-6 .25 7 .25-16 .25 5 .25 3 .25-5 .25 11 .25-5 .25 7 .25-4 .25 0 .25 2 .25-7 .25 9 .25 6 .25-12 .25-5 .25 6 .25 7 .25-3 .25 4 .25-11 .25-4 .25 9 .25 4 .25-1 .25-7 .25 9 .25-11 .25 6 .25 6 .25-10 .25-1 .25 21 .25-26 .25 19 .25-16 .25-3 .25 6 .25 5 .25 1 .25-10 .25-1 .25 9 .25-7 .25 17 .25-9 .25 5 .25-9 .25 5 .25 8 .25 9 .25-6 .25-5 .25-1 .25-5 .25-3 .25 16 .25-3 .25-6 .25 11 .25-13 .25-2 .25 1 .25 8 .25-6 .25-4 .25 11 .25-5 .25-2 .25-11 .25 9 .25-5 .25 2 .25 5 .25-9 .25 12 .25-4 .25-20 .25 25 .25-11 .25 7 .25-11 .25 17 .25-1 .25-10 .25-9 .25-1 .25-3 .25 5 .25 3 .25 0 .25 5 .25-3 .25 11 .25-18 .25-1 .25 8 .25 12 .25-16 .25 0 .25 3 .25-1 .25 2 .25-11 .25 5 .25 1 .25 3 .25 6 .25-16 .25 11 .25 4 .25-5 .25 3 .25-3 .25-8 .25 10 .25 0 .25 5 .25 0 .25-5 .25 9 .25-3 .25-3 .25-12 .25 27 .25-11 .25-10 .25 8 .25-5 .25 2 .25 1 .25 9 .25-4 .25-3 .25-3 .25 5 .25 7 .25-12 .25 7 .25-11 .25 11 .25 4 .25-8 .25-8 .25-1 .25-1 .25 6 .25-2 .25 5 .25-10 .25 10 .25-6 .25-7 .25 14 .25-5 .25 8 .25-7 .25 5 .25-5 .25 10 .25-2 .25 2 .25-2 .25-2 .25-1 .25 6 .25-14 .25 6 .25-3 .25-1 .25-7 .25 6 .25 11 .25-13 .25 5 .25 4 .25-13 .25 7 .25 10 .25-3 .25-10 .25 16 .25-27 .25 19 .25 7 .25-13 .25 5 .25-2 .25 8 .25-3 .25-9 .25 13 .25-9 .25-1 .25-6 .25 3 .25 8 .25 8 .25-17 .25 1 .25-5 .25 11 .25 15 .25-14 .25-8 .25 4 .25 3 .25-5 .25 4 .25-3 .25 6 .25 4 .25-3 .25 6 .25-21 .25 13 .25-3 .25 8 .25-1 .25-11 .25 10 .25-6 .25-1 .25 3 .25-1 .25-12 .25-6 .25 24 .25-9 .25-3 .25 6 .25 10 .25-25 .25 13 .25 6 .25-3 .25-7 .25 8 .25 2 .25-7 .25 9 .25-11 .25-4 .25 16 .25-7 .25 1 .25-7 .25 2 .25 3 .25 5 .25 8 .25-1 .25 0" fill="none" stroke="#ff0000" stroke-width="2.2" stroke-linejoin="round"/>
<path d="M93.4 1823l.25 7 .25-12 .25 16 .25 3 .25-9 .25 6 .25-1 .25-3 .25-3 .25-7 .25 23 .25-9 .25 16 .25-10 .25-3 .25-6 .25 12 .25-12 .25 13 .25-13 .25 3 .25-12 .25 23 .25-16 .25-3 .25 6 .25-11 .25 9 .25-13 .25 10 .25-11 .25-6 .25 8 .25-6 .25 12 .25-4 .25 3 .25-2 .25-3 .25 2 .25 7 .25-8 .25-3 .25-1 .25 5 .25-3 .25 17 .25-19 .25 1 .25 5 .25 6 .25-5 .25-5 .25 1 .25 3 .25 8 .25-13 .25 5 .25-4 .25 6 .25 0 .25-13 .25 24 .25-14 .25-5 .25-3 .25 4 .25 2 .25 4 .25-3 .25 3 .25-13 .25 6 .25-1 .25 7 .25 3 .25-12 .25 8 .25 6 .25 2 .25-13 .25 11 .25-2 .25-4 .25 15 .25-20 .25 5 .25 5 .25-2 .25-3 .25 9 .25 0 .25-4 .25 0 .25-7 .25-7 .25 22 .25-20 .25 20 .25-14 .25 3 .25-2 .25 8 .25-9 .25 16 .25-8 .25-1 .25-4 .25 5 .25-1 .25 12 .25-6 .25-16 .25 19 .25-25 .25 25 .25-22 .25 12 .25 5 .25-6 .25-7 .25 14 .25-19 .25 2 .25 17 .25-15 .25 7 .25 3 .25-7 .25 2 .25-1 .25 0 .25 6 .25-2 .25-3 .25 4 .25-9 .25-1 .25-1 .25 12 .25 5 .25-9 .25-12 .25 9 .25 7 .25-1 .25-1 .25 5 .25 0 .25-15 .25 11 .25-8 .25 5 .25 6 .25 3 .25-7 .25-9 .25 1 .25 5 .25-10 .25 6 .25 4 .25 2 .25-7 .25 4 .25 7 .25-6 .25-13 .25 13 .25 1 .25-4 .25 4 .25-9 .25 17 .25-5 .25-5 .25 5 .25-1 .25-6 .25-11 .25-1 .25 31 .25-20 .25 6 .25 6 .25-6 .25 10 .25-13 .25 9 .25-17 .25 18 .25 0 .25-3 .25 0 .25-1 .25 4 .25 0 .25-12 .25 13 .25-13 .25 7 .25-2 .25 4 .25-5 .25 5 .25-6 .25-4 .25 13 .25-4 .25-1 .25 2 .25-14 .25 12 .25-13 .25 8 .25-3 .25 2 .25 3 .25-4 .25-6 .25 13 .25 2 .25-3 .25 3 .25-18 .25 12 .25-1 .25-12 .25 13 .25-1 .25-10 .25 4 .25 5 .25 3 .25 0 .25-12 .25 0 .25 2 .25 2 .25-5 .25 0 .25 1 .25-4 .25-5 .25-6 .25 1 .04 3 .21 1 .25 3 .25-5 .25 5 .25-1 .25-6 .25 11 .25-3 .25 20 .25-5 .25-6 .25 5 .25 2 .25 9 .25-7 .25 5 .25-7 .25 6 .25 0 .25-3 .25-6 .25 7 .25-9 .25 12 .25-11 .25-2 .25 16 .25-14 .25 5 .25-8 .25 3 .25 3 .25-3 .25 14 .25-12 .25-3 .25 15 .25-2 .25-20 .25 11 .25 9 .25-12 .25 3 .25-1 .25-14 .25 8 .25 10 .25 4 .25-10 .25-1 .25 4 .25-2 .25 2 .25-8 .25 6 .25 3 .25 1 .25-13 .25 16 .25-5 .25 1 .25-12 .25 11 .25-10 .25-6 .25 16 .25 0 .25 0 .25 1 .25-2 .25 7 .25-1 .25 5 .25 6 .25-11 .25 1 .25 7 .25-17 .25 4 .25 4 .25-11 .25 16 .25 5 .25-18 .25 3 .25 11 .25 2 .25-19 .25 14 .25-6 .25-10 .25 8 .25-1 .25 4 .25-1 .25-2 .25 0 .25 0 .25 4 .25 3 .25 0 .25-12 .25 1 .25 1 .25 13 .25-6 .25-7 .25-3 .25 2 .25 6 .25-7 .25 7 .25 9 .25-10 .25 7 .25-15 .25 12 .25 0 .25-8 .25 15 .25-9 .25-4 .25 3 .25 8 .25-15 .25 10 .25-7 .25 8 .25-4 .25 3 .25 6 .25-5 .25 4 .25 1 .25-1 .25-1 .25-2 .25 4 .25 4 .25 4 .25 0 .25-18 .25 9 .25 1 .25 5 .25-1 .25-16 .25 11 .25-13 .25 8 .25-3 .25 2 .25 13 .25-14 .25 0 .25 3 .25 5 .25-18 .25 20 .25-16 .25-2 .25 6 .25 3 .25 12 .25-12 .25-10 .25 3 .25-5 .25 10 .25 1 .25-8 .25 10 .25-18 .25 7 .25-3 .25 2 .25-6 .25 16 .25-12 .25 5 .25 8 .25 3 .25-3 .25-22 .25 12 .25-1 .25-2 .25-1 .25 2 .25 7 .25-7 .25-5 .25-2 .25 11 .25-12 .25 16 .25-8 .25 0 .25 5 .25-3 .25 7 .25-12 .25-3 .25 24 .25-11 .25-17 .25 27 .25-19 .25 22 .25-2 .25-6 .25-5 .25-6 .25 12 .25-9 .25 10 .25-9 .25-8 .25 6 .25 5 .25-3 .25 5 .25-7 .25 17 .25-13 .25 7 .25-14 .25 16 .25 4 .25-6 .25-5 .25-4 .25 9 .25 0 .25-12 .25 9 .25 4 .25-9 .25 9 .25-5 .25 11 .25-17 .25 12 .25-2 .25-13 .25 6 .25 0 .25 12 .25-9 .25 2 .25 1 .25 15 .25-18 .25 13 .25-13 .25-10 .25 5 .25-3 .25 5 .25-7 .25 4 .25 18 .25-11 .25 1 .25 10 .25-22 .25 15 .25-6 .25 3 .25-4 .25 6 .25 7 .25 1 .25-6 .25 4 .25-13 .25-11 .25 25 .25 6 .25-10 .25-7 .25 4 .25 7 .25-16 .25 7 .25 3 .25-11 .25 19 .25-9 .25 5 .25-17 .25 8 .25 8 .25-7 .25 6 .25-20 .25 12 .25-12 .25 9 .25 5 .25-2 .25-8 .25 10 .25 2 .25-5 .25 5 .25 2 .25 0 .25-10 .25 5 .25-7 .25 3 .25 7 .25-7 .25-2 .25-1 .25 7 .25 7 .25-5 .25-7 .25 7 .25 1 .25 3 .25-14 .25 9 .25-6 .25-1 .25 11 .25-4 .25-3 .25 9 .25-7 .25-7 .25 12 .25-12 .25 0 .25 3 .25 2 .25 7 .25-9 .25-9 .25 8 .25 5 .25-3 .25 0 .25-7 .25 6 .25 6 .25 0 .25-8 .25 1 .25-1 .25 12 .25-10 .25 4 .25-4 .25 0 .25 5 .25 7 .25-10 .25 11 .25-8 .25 5 .25 10 .25-1 .25-13 .25-2 .25-1 .25 5 .25-16 .25 8 .25 4 .25-4 .25-1 .25 15 .25-17 .25 7 .25 0 .25 1 .25-3 .25 11 .25-5 .25 11 .25-20 .25 10 .25-10 .25 9 .25 6 .25-15 .25 13 .25-12 .25-3 .25 9 .25 2 .25-5 .25 1 .25-3 .25-4 .25-11 .25 11 .25-3 .25 8 .25-9 .25 18 .25-9 .25-6 .25 7 .25-6 .25 10 .25-10 .25 12 .25-16 .25 8 .25-1 .25-5 .25 4 .25 2 .25-8 .25 2 .25 9 .25-8 .25 15 .25 0 .25-12 .25 5 .25 2 .25 1 .25-7 .25 9 .25-8 .25 4 .25 9 .25-8 .25-5 .25 3 .25 6 .25-7 .25-1 .25 7 .25-7 .25 19 .25-18 .25 9 .25-15 .25 7 .25 7 .25-2 .25 0 .25-8 .25 5 .25-2 .25-8 .25 16 .25-12 .25 3 .25 6 .25-2 .25 12 .25-17 .25 9 .25-10 .25 0 .25 7 .25-3 .25-7 .25 3 .25 2 .25 10 .25-15 .25 7 .25 3 .25-2 .25-4 .25 9 .25-11 .25 18 .25-29 .25 4 .25 13 .25 3 .25-2 .25-7 .25 2 .25 1 .25-6 .25 3 .25-4 .25 13 .25-5 .25-5 .25 0 .25 0 .25 1 .25 4 .25-4 .25-1 .25 6 .25-3 .25 1 .25 1 .25-2 .25-6 .25 5 .25 9 .25-13 .25 0 .25 2 .25 0 .25 10 .25-11 .25 10 .25-3 .25 0 .25-1 .25-1 .25 1 .25 5 .25-20 .25 14 .25 5 .25-11 .25 3 .25 5 .25-16 .25 10 .25-9 .25 4 .25-3 .25-5 .25-10 .25-5 .25-11 .25-10 .25-13 .25-12 .25-11 .25-8 .24-3 .01 1 .25 3 .25 8 .25 11 .25 13 .25 11 .25 9 .25 13 .25 3 .25 9 .25-1 .25 10 .25 2 .25-8 .25 1 .25-10 .25 14 .25 1 .25-3 .25 9 .25-4 .25 1 .25-4 .25-5 .25 10 .25 5 .25 2 .25-6 .25-9 .25 6 .25 3 .25-8 .25 5 .25-2 .25-2 .25-1 .25 8 .25 1 .25 5 .25-10 .25 2 .25-11 .25 13 .25 6 .25-13 .25 8 .25-6 .25 6 .25 1 .25-14 .25 2 .25-1 .25 1 .25 3 .25-8 .25-2 .25-1 .19-3 .06 5 .25 0 .25 3 .25 1 .25-3 .25 11 .25-3 .25 1 .25 22 .25-9 .25-7 .25 9 .25 2 .25-5 .25-3 .25 9 .25-1 .25 0 .25-14 .25 14 .25 11 .25-20 .25 5 .25-3 .25 2 .25 2 .25 14 .25-16 .25 12 .25-17 .25 9 .25-5 .25-3 .25 4 .25 7 .25-7 .25 1 .25-3 .25 2 .25-1 .25 3 .25-7 .25-3 .25 1 .25-1 .25 7 .25-9 .25 9 .25-4 .25 7 .25-7 .25 5 .25-4 .25-2 .25-2 .25 5 .25-2 .25-4 .25 2 .25-9 .25 20 .25 0 .25-10 .25-4 .25 12 .25 3 .25-8 .25-4 .25 12 .25-3 .25 1 .25 5 .25-13 .25 1 .25 10 .25-7 .25 8 .25-31 .25 6 .25 11 .25-1 .25-10 .25 0 .25-1 .25 6 .25-11 .25 2 .25-5 .25-11 .25-1 .25-9 .25-16 .25-18 .25-22 .25-24 .25-25 .25-23 .25-18 .25-9 .06 0 .19 4 .25 14 .25 21 .25 25 .25 25 .25 22 .25 21 .25 16 .25 11 .25 13 .25 1 .25 12 .25-3 .25 5 .25 0 .25 0 .25 3 .25 5 .25-1 .25 13 .25-9 .25-16 .25 12 .25 3 .25 4 .25 1 .25-12 .25 9 .25-6 .25 5 .25-2 .25 9 .25-1 .25 3 .25-14 .25 1 .25 3 .25-4 .25 0 .25 6 .25 10 .25-12 .25 7 .25-20 .25 21 .25 0 .25-14 .25-5 .25 6 .25-14 .25 10 .25-12 .25 16 .25-10 .25-5 .25-7 .25 9 .25-8 .25-4 .25 1 .21-4 .04 4 .25 2 .25 0 .25 8 .25 7 .25-3 .25 4 .25 10 .25 4 .25-6 .25-12 .25 10 .25 17 .25-10 .25-2 .25 8 .25-13 .25 24 .25-26 .25 11 .25 3 .25 1 .25-11 .25 5 .25 9 .25-6 .25 3 .25-4 .25 0 .25-7 .25-3 .25 5 .25-6 .25 16 .25-6 .25 3 .25-17 .25 0 .25 13 .25-3 .25 0 .25 5 .25-11 .25-1 .25 3 .25 19 .25-13 .25-4 .25 14 .25-3 .25 0 .25-2 .25-5 .25 12 .25-6 .25-12 .25 0 .25 3 .25 8 .25-9 .25 1 .25-1 .25 1 .25 5 .25-10 .25 0 .25 3 .25-15 .25 0 .25-8 .25-10 .25-12 .25-16 .25-22 .25-25 .25-28 .25-29 .25-28 .25-22 .25-12 .09-1 .16 3 .25 15 .25 25 .25 28 .25 30 .25 27 .25 23 .25 21 .25 14 .25 12 .25 10 .25 6 .25 5 .25-1 .25-2 .25 9 .25 2 .25 2 .25-3 .25-1 .25 19 .25-7 .25-2 .25-1 .25-5 .25 3 .25 8 .25-1 .25-10 .25 1 .25 0 .25-1 .25 10 .25-1 .25-2 .25-5 .25 12 .25-7 .25-16 .25 24 .25-6 .25-6 .25 12 .25-23 .25 10 .25 8 .25-9 .25 16 .25 0 .25-12 .25-1 .25 9 .25-7 .25-11 .25 4 .25-5 .25 9 .25-4 .25 7 .25-8 .25-8 .25-3 .25 15 .25-2 .25-15 .25-5 .25-2 .25 13 .25-10 .25 10 .25-13 .25-1 .08 0 .17 4 .25 5 .25-14 .25 10 .25 3 .25-9 .25-1 .25 9 .25-11 .25 2 .25-5 .25 2 .25 4 .25 0 .25-4 .25 0 .25-8 .25 15 .25-17 .25 5 .25-7 .25 2 .25-8 .01 5 .24-1 .25 6 .25 2 .25-3 .25 2 .25 9 .25-3 .25 7 .25 0 .25-4 .25 3 .25-9 .25 12 .25-1 .25 3 .25 10 .25-8 .25 0 .25 1 .25-2 .25 11 .25-9 .25 7 .25-5 .25-9 .25 2 .25 1 .25-8 .25 0 .25-2 .08 0 .17 4 .25-3 .25 4 .25 6 .25-10 .25 14 .25 6 .25 4 .25-4 .25 0 .25 12 .25-9 .25 8 .25-1 .25-5 .25 2 .25-1 .25 11 .25-5 .25-12 .25 23 .25-3 .25-1 .25-14 .25 3 .25-1 .25 13 .25-9 .25 1 .25-3 .25-7 .25 15 .25 9 .25-16 .25-3 .25 2 .25 0 .25-5 .25 7 .25 1 .25-7 .25 12 .25-6 .25-5 .25 8 .25 9 .25-1 .25-2 .25-1 .25-1 .25-1 .25 1 .25 7 .25-15 .25 7 .25-13 .25 13 .25 4 .25-11 .25 13 .25-16 .25 15 .25-11 .25 4 .25-5 .25 6 .25-5 .25 8 .25-7 .25 1 .25-3 .25 4 .25-6 .25 1 .25-7 .25 6 .25 0 .25 1 .25 1 .25-10 .25 13 .25 7 .25-14 .25-11 .25 9 .25-8 .25-7 .25-7 .25-10 .25-11 .25-12 .25-14 .25-11 .25-8 .25-3 .25 3 .25 7 .25 12 .25 13 .25 13 .25 11 .25 12 .25 7 .25 6 .25-3 .25 3 .25 6 .25 5 .25 5 .25-10 .25 14 .25-8 .25-4 .25 8 .25 4 .25-8 .25 0 .25 2 .25 3 .25-5 .25 1 .25 2 .25-1 .25 3 .25-6 .25-7 .25 10 .25 1 .25 15 .25-4 .25-4 .25-5 .25-3 .25 4 .25 8 .25-4 .25-5 .25 9 .25-5 .25 7 .25 9 .25-6 .25-21 .25 23 .25-11 .25 5 .25 0 .25 0 .25-13 .25 19 .25-14 .25 0 .25 7 .25 3 .25-8 .25-6 .25 12 .25-4 .25 7 .25 2 .25-16 .25-1 .25 7 .25-5 .25 16 .25-11 .25 0 .25 0 .25 7 .25-7 .25 2 .25-10 .25 9 .25-8 .25-1 .25 0 .25 11 .25-9 .25 5 .25-2 .25 3 .25-7 .25-4 .25 6 .25 3 .25-6 .25 5 .25 4 .25-17 .25 21 .25-3 .25-6 .25 4 .25-20 .25 10 .25-2 .25-3 .25-3 .25 2 .25-6 .25-5 .01-2 .24 2 .25 4 .25 5 .25 2 .25 5 .25-2 .25 4 .25 6 .25-2 .25-2 .25 2 .25 6 .25-6 .25 1 .25 13 .25-13 .25 1 .25 5 .25 3 .25-7 .25-13 .25 23 .25-21 .25-2 .25 3 .25 15 .25-9 .25-11 .25 24 .25-21 .25 22 .25-27 .25 16 .25 1 .25-4 .25 3 .25 7 .25-6 .25 3 .25-4 .25 0 .25-5 .25 3 .25 6 .25 1 .25-15 .25 4 .25 5 .25-2 .25-4 .25-7 .25 15 .25-6 .25 17 .25-6 .25-4 .25-12 .25 4 .25 11 .25-12 .25 3 .25 4 .25 1 .25-6 .25 6 .25-13 .25 11 .25-1 .25 12 .25-7 .25-17 .25 24 .25 8 .25-14 .25 1 .25 6 .25-11 .25 0 .25 1 .25-21 .25 15 .25 8 .25-1 .25-14 .25 8 .25-2 .25-1 .25 11 .25-11 .25 5 .25 6 .25-10 .25 7 .25-6 .25 7 .25 0 .25 5 .25-7 .25 1 .25-8 .25 6 .25-3 .25-2 .25 6 .25 2 .25-1 .25 7 .25-11 .25-1 .25-10 .25 21 .25-3 .25 0 .25-10 .25 1 .25 1 .25-5 .25 10 .25-3 .25 9 .25-7 .25-2 .25 5 .25 0 .25-12 .25-4 .25 2 .25 13 .25-3 .25 4 .25-9 .25 1 .25-5 .25 11 .25-9 .25 0 .25-9 .25-8 .25-1 .25-12 .25-2 .25-7 .25-3 .24-3 .01 1 .25 1 .25 3 .25 9 .25 5 .25 4 .25 3 .25 5 .25 5 .25 4 .25 0 .25-9 .25 12 .25 3 .25 4 .25-4 .25 0 .25 3 .25-3 .25 17 .25-17 .25-1 .25 8 .25 0 .25 3 .25-5 .25-3 .25-1 .25 5 .25 2 .25-1 .25-8 .25 0 .25 16 .25-7 .25-1 .25 13 .25-5 .25-15 .25 7 .25 8 .25-2 .25-2 .25 8 .25-19 .25 14 .25-9 .25 11 .25-8 .25-10 .25 11 .25-18 .25 23 .25-6 .25 5 .25-6 .25-1 .25 8 .25-5 .25-15 .25 6 .25 12 .25-17 .25 0 .25 2 .25-4 .25 11 .25-3 .25 8 .25-8 .25 12 .25-12 .25 7 .25 2 .25-5 .25-4 .25-7 .25 2 .25 10 .25-5 .25 6 .25-8 .25 5 .25 1 .25 4 .25-6 .25 7 .25-15 .25 2 .25 10 .25-2 .25 5 .25-13 .25 12 .25-12 .25 19 .25-12 .25 1 .25 7 .25-1 .25-6 .25 2 .25 12 .25-17 .25 15 .25-13 .25-5 .25 15 .25-4 .25-4 .25 6 .25-8 .25-2 .25 6 .25-1 .25-7 .25 12 .25-5 .25 7 .25 8 .25-26 .25 11 .25-1 .25-10 .25 11 .25-20 .25 9 .25 12 .25-13 .25 4 .25 4 .25-7 .25 4 .25 6 .25-1 .25-2 .25 10 .25-9 .25 6 .25-4 .25-9 .25 3 .25 9 .25-12 .25 10 .25 2 .25-11 .25-5 .25 17 .25 2 .25-11 .25 5 .25-9 .25-9 .25-2 .25-4 .25-13 .25 2 .25-1 .25-2 .01-2 .24 1 .25 1 .25 10 .25-2 .25 13 .25 4 .25 0 .25 8 .25 5 .25-7 .25-4 .25 15 .25-6 .25 3 .25-8 .25 16 .25-3 .25-14 .25-3 .25 14 .25-3 .25-2 .25-1 .25 5 .25 1 .25 0 .25 10 .25-1 .25-24 .25 20 .25 3 .25-20 .25 6 .25 1 .25 8 .25-3 .25-1 .25-2 .25 4 .25-4 .25-9 .25-1 .25 1 .25 16 .25-10 .25 2 .25 6 .25-8 .25-15 .25 15 .25-5 .25 1 .25 0 .25 4 .25-6 .25 14 .25-2 .25-1 .25 0 .25-9 .25 12 .25-12 .25-5 .25 8 .25 3 .25 0 .25 5 .25-9 .25 9 .25 2 .25-8 .25-9 .25 15 .25-8 .25 1 .25-11 .25-2 .25 22 .25-5 .25-10 .25 3 .25-5 .25 9 .25-13 .25 19 .25-2 .25 5 .25-6 .25 5 .25-1 .25 1 .25-6 .25 11 .25-15 .25 5 .25 3 .25 15 .25-22 .25 8 .25 1 .25-14 .25 26 .25-9 .25-5 .25-4 .25 6 .25-19 .25 25 .25-13 .25 9 .25-14 .25 3 .25-11 .25 13 .25 2 .25-4 .25 15 .25-11 .25 1 .25-5 .25 10 .25-7 .25 3 .25-5 .25 14 .25 2 .25-11 .25 5 .25-7 .25 10 .25-1 .25-10 .25 8 .25-16 .25 10 .25-6 .25 7 .25 0 .25-10 .25 1 .25 3 .25 1 .25 1 .25 2 .25-4 .25 16 .25-10 .25-7 .25 12 .25-3 .25 3 .25 0 .25-14 .25 5 .25 2 .25-9 .25 14 .25-8 .25 9 .25 1 .25-8 .25-9 .25 16 .25-9 .25 8 .25-16 .25 21 .25-8 .25 3 .25-4 .25 8 .25 1 .25-15 .25 3 .25 5 .25 2 .25-19 .25 15 .25-10 .25 16 .25-5 .25-8 .25 0 .25 16 .25 1 .25-12 .25-2 .25 7 .25-10 .25 6 .25 4 .25 1 .25 1 .25-4 .25 0 .25-7 .25-3 .25 15 .25-4 .25 11 .25-7 .25-14 .25 16 .25-11 .25 3 .25-3 .25-9 .25 22 .25-11 .25 3 .25-5 .25-3 .25 2 .25 15 .25-14 .25-3 .25 20 .25-15 .25-2 .25 12 .25-12 .25 7 .25-3 .25-5 .25-3 .25 16 .25-2 .25 6 .25-12 .25-2 .25 3 .25 1 .25 4 .25-20 .25 19 .25-9 .25 4 .25-7 .25 5 .25 11 .25-23 .25 15 .25-2 .25-2 .25 2 .25 3 .25-5 .25 3 .25-1 .25 3 .25-3 .25 2 .25 6 .25-3 .25 6 .25-10 .25-10 .25 11 .25-5 .25-1 .25 7 .25-4 .25 3 .25 8 .25 0 .25-9 .25 2 .25 1 .25 2 .25-16 .25-1 .25 20 .25-14 .25-6 .25 13 .25-6 .25 15 .25 1 .25-6 .25-3 .25 2 .25-5 .25 4 .25 0 .25-5 .25 0 .25 0 .25 12 .25-11 .25-7 .25 13 .25-9 .25-3 .25-15 .25 11 .25-4 .25 8 .25-3 .25 3 .25 0 .25-8 .25-8 .25 17 .25-6 .25-2 .25-3 .25 2 .25 23 .25-20 .25 7 .25-8 .25-5 .25 16 .25 3 .25 2 .25-9 .25-3 .25 9 .25-4 .25 5 .25-2 .25 8 .25-14 .25 2 .25-12 .25 15 .25-9 .25 10 .25-15 .25 10 .25-8 .25 0 .25 3 .25 23 .25-18 .25-8 .25 16 .25-5 .25-6 .25 14 .25-14 .25 1 .25-4 .25 10 .25-3 .25 6 .25 9 .25-20 .25 7 .25 1 .25 6 .25-7 .25-4 .25 9 .25-8 .25 2 .25 5 .25-4 .25 8 .25-2 .25-12 .25 7 .25-1 .25-6 .25 5 .25 5 .25-1 .25 2 .25-9 .25 4 .25 6 .25-11 .25 3 .25 12 .25-12 .25 2 .25 14 .25-14 .25 2 .25-8 .25 7 .25-2 .25-4 .25-4 .25 9 .25 0 .25 6 .25 7 .25-8 .25 2 .25-9 .25 3 .25 6 .25 4 .25-19 .25 9 .25 4 .25-9 .25 11 .25-13 .25 3 .25 4 .25-10 .25 4 .25 5 .25 0 .25 9 .25-10 .25 2 .25-4 .25 1 .25 9 .25 2 .25-5 .25 1 .25-6 .25 5 .25 10 .25 0 .25-26 .25 18 .25 6 .25-14 .25 10 .25 4 .25-16 .25 8 .25 2 .25-3 .25-11 .25 14 .25 5 .25-13 .25-2 .25 13 .25-12 .25 5 .25 3 .25-7 .25 6 .25 1 .25-5 .25-13 .25 8 .25 7 .25-11 .25-1 .25 10 .25 1 .25-10 .25 12 .25-3 .25-11 .25 13 .25-15 .25 9 .25 6 .25-4 .25-6 .25 1 .25 17 .25-17 .25 13 .25-7 .25-1 .25 2 .25 13 .25-17 .25 9 .25-2 .25 3 .25-13 .25 12 .25 0 .25-4 .25 6 .25-17 .25 2 .25 6 .25 13 .25-11 .25 0 .25 8 .25-7 .25-4 .25 16 .25-8 .25-1 .25-5 .25 6 .25-12 .25 10 .25 3 .25 4 .25 2 .25-6 .25 4 .25-11 .25 2 .25 2 .25 6 .25-5 .25-13 .25-6 .25 15 .25-10 .25 0 .25 9 .25-3 .25 6 .25-14 .25-1 .25 6 .25 4 .25-4 .25-15 .25 2 .25 4 .22 0 .03-4 .25-1 .25 2 .25 12 .25-2 .25-13 .25 2 .25 18 .25-8 .25 9 .25-4 .25-2 .25 8 .25-9 .25 13 .25-11 .25 0 .25 1 .25 8 .25 8 .25-8 .25 6 .25-10 .25 14 .25-14 .25-1 .25 12 .25 0 .25 5 .25 9 .25-21 .25 9 .25-13 .25 8 .25-12 .25 23 .25-11 .25-1 .25-6 .25 5 .25-2 .25 7 .25-8 .25-5 .25 11 .25-3 .25-2 .25 9 .25-14 .25 3 .25 6 .25-1 .25-6 .25-3 .25 13 .25 0 .25 8 .25-16 .25 4 .25-4 .25 4 .25 2 .25 1 .25 3 .25-4 .25-3 .25 5 .25-9 .25 7 .25-3 .25 10 .25-2 .25 1 .25-6 .25-6 .25 2 .25 2 .25 4 .25-1 .25 0 .25 5 .25 0 .25-2 .25-4 .25 7 .25-12 .25 5 .25-5 .25 5 .25-13 .25 11 .25-9 .25-3 .25 7 .25 5 .25-4 .25 8 .25 1 .25-14 .25-4 .25 3 .25 15 .25-12 .25 5 .25 7 .25-13 .25 2 .25 3 .25 0 .25 2 .25-6 .25-2 .25 1 .25-3 .25 11 .25-3 .25-4 .25 18 .25-21 .25 0 .25-1 .25 2 .25 8 .25-2 .25-9 .25 11 .25 10 .25-8 .25 0 .25-3 .25-8 .25 20 .25-11 .25 10 .25-7 .25 3 .25-6 .25 0 .25-12 .25 20 .25-1 .25-9 .25 3 .25 0 .25-1 .25-1 .25 6 .25-7 .25 4 .25 2 .25-11 .25 8 .25-2 .25 2 .25-5 .25-4 .25 10 .25-16 .25-2 .25 20 .25-6 .25-11 .25 0 .25 6 .25-8 .25 17 .25-19 .25 4 .25 4 .25 2 .25-13 .25 0 .25 16 .25 4 .25-10 .25-4 .25 14 .25 6 .25-10 .25-12 .25 7 .25 5 .25-9 .25 12 .25-2 .25 6 .25-3 .25 9 .25-1 .25-14 .25 14 .25-6 .25-5 .25-7 .25-1 .25 9 .25 7 .25-13 .25-2 .25-6 .25 21 .25-18 .25 6 .25 2 .25 2 .25 1 .25 5 .25-10 .25 5 .25 4 .25-3 .25-4 .25 6 .25-1 .25-6 .25 2 .25 0 .25 1 .25 12 .25-22 .25 20 .25-9 .25 5 .25-6 .25-9 .25 12 .25-3 .25 14 .25-28 .25 29 .25-25 .25 2 .25 6 .25 6 .25 5 .25 0 .25-5 .25-2 .25-9 .25 14 .25-7 .25-11 .25-1 .25 21 .25-18 .25 6 .25-8 .25 13 .25-10 .25 8 .25-1 .25 5 .25-8 .25-5 .25 15 .25-16 .25 10 .25-1 .25-2 .25-1 .25 10 .25-16 .25 8 .25-7 .25 25 .25-16 .25 1 .25-12 .25 1 .25 1 .25 5 .25 15 .25-4 .25-5 .25-2 .25 1 .25 7 .25-4 .25 6 .25-4 .25-5 .25 3 .25-3 .25-5 .25-4 .25 8 .25 8 .25-12 .25 11 .25-16 .25 2 .25 10 .25-9 .25-2 .25 4 .25-2 .25-1 .25 4 .25 5 .25-14 .25 15 .25-17 .25 13 .25-3 .25 7 .25 8 .25-4 .25-4 .25-1 .25 5 .25-12 .25-2 .25 5 .25-7 .25 17 .25 7 .25-13 .25-8 .25 2 .25-8 .25 8 .25 14 .25-4 .25-3 .25 0 .25-13 .25 3 .25 9 .25-3 .25 2 .25-8 .25-6 .25 15 .25-10 .25-7 .25 18 .25-16 .25 3 .25 11 .25-8 .25-8 .25 1 .25-6 .25 0 .25 4 .25-17 .25 4 .25 3 .25-9 .07 5 .18 7 .25 2 .25-4 .25 5 .25 7 .25-7 .25 5 .25 1 .25 13 .25-8 .25 16 .25-10 .25-1 .25 9 .25-13 .25 7 .25 1 .25-1 .25 11 .25-4 .25 3 .25-11 .25-8 .25 7 .25 9 .25 2 .25-10 .25-5 .25 4 .25-8 .25 10 .25-7 .25-3 .25-2 .25 20 .25-14 .25 8 .25 0 .25-1 .25-4 .25-16 .25 7 .25-1 .25 15 .25-1 .25-3 .25-4 .25 10 .25-3 .25 2 .25-7 .25 1 .25-1 .25 0 .25-5 .25 4 .25-1 .25 15 .25-2 .25-2 .25-12 .25 4 .25 7 .25-6 .25-5 .25 8 .25 3 .25 4 .25-5 .25-8 .25 8 .25-1 .25-17 .25 22 .25-3 .25-3 .25 10 .25-8 .25 3 .25-3 .25-12 .25 4 .25 0 .25-3 .25 5 .25-18 .25 3 .25-10 .25 1 .25-10 .25-9 .25-11 .25-7 .25-5 .24-3 .01 1 .25 3 .25 4 .25 9 .25 7 .25 9 .25 11 .25 5 .25 9 .25-2 .25 9 .25-16 .25 6 .25 7 .25 0 .25 13 .25-2 .25-9 .25-4 .25-1 .25 3 .25 1 .25 4 .25-6 .25-4 .25 7 .25 5 .25-4 .25 4 .25-8 .25 12 .25-3 .25 10 .25-11 .25 9 .25-11 .25 9 .25-8 .25-4 .25 6 .25-1 .25 7 .25 1 .25-4 .25-9 .25 17 .25 1 .25-14 .25 6 .25 11 .25-8 .25-3 .25 13 .25-11 .25 5 .25-2 .25-4 .25-3 .25-2 .25 6 .25-3 .25 0 .25-12 .25 7 .25-5 .25 11 .25-10 .25-1 .25 1 .25 11 .25-1 .25-3 .25 0 .25-5 .25-1 .25 3 .25 2 .25-2 .25 14 .25-5 .25 2 .25-6 .25-2 .25-9 .25 3 .25 8 .25-1 .25-4 .25-5 .25 5 .25-14 .25-4 .25 2 .25-13 .25-3 .16 2 .09 1 .25-4 .25 8 .25 4 .25 7 .25 5 .25-10 .25 3 .25-1 .25 13 .25-15 .25 19 .25-1 .25-7 .25 2 .25-4 .25 0 .25 6 .25 6 .25 3 .25-1 .25-15 .25-6 .25 11 .25-2 .25-10 .25 0 .25-6 .25-15 .25-10 .25-11 .25-12 .25-9 .25-6 .19-1 .06 0 .25 3 .25 8 .25 12 .25 13 .25 9 .25 12 .25 7 .25 5 .25 9 .25 5 .25-5 .25 7 .25-2 .25-3 .25 16 .25-15 .25 9 .25 12 .25 2 .25-14 .25 6 .25-6 .25-5 .25 5 .25 0 .25 12 .25-5 .25-7 .25 6 .25 1 .25 5 .25-10 .25 6 .25 8 .25-4 .25-3 .25-11 .25 12 .25-12 .25-3 .25 10 .25 1 .25 0 .25-4 .25-7 .25 8 .25 7 .25 1 .25 3 .25-15 .25 1 .25-10 .25 19 .25-7 .25 9 .25-9 .25-1 .25 10 .25-5 .25-9 .25 19 .25 7 .25-16 .25-7 .25 15 .25-7 .25 7 .25-6 .25 1 .25-3 .25 1 .25-5 .25 6 .25-9 .25 10 .25 6 .25-11 .25-5 .25-9 .25 13 .25 4 .25-15 .25 16 .25-14 .25 10 .25-14 .25 8 .25 7 .25-9 .25-1 .25-2 .25 7 .25-12 .25 5 .25-2 .25 4 .25 9 .25-14 .25-1 .25 9 .25-3 .25-4 .25 7 .25-17 .25 16 .25 6 .25-2 .25 2 .25-4 .25-1 .25 3 .25-8 .25 8 .25-7 .25 8 .25-3 .25 2 .25-6 .25-2 .25 13 .25 2 .25-13 .25 0 .25 6 .25 1 .25 7 .25-11 .25 7 .25-11 .25-6 .25 14 .25-9 .25 12 .25 6 .25-19 .25 10 .25 8 .25-12 .25 14 .25-8 .25 1 .25-7 .25 2 .25 7 .25 2 .25 0 .25-4 .25-8 .25 10 .25 16 .25-20 .25 3 .25 3 .25-12 .25-1 .25 9 .25-13 .25 15 .25 8 .25-7 .25-7 .25 1 .25 1 .25-3 .25 0 .25 8 .25-1 .25-5 .25 9 .25-14 .25 5 .25-3 .25 2 .25-3 .25 3 .25-1 .25-9 .25 9 .25-5 .25-4 .25 7 .25-1 .25 5 .25-24 .25 16 .25-1 .25-5 .25-3 .25-2 .25 19 .25-9 .25 13 .25-7 .25 8 .25-8 .25 5 .25-4 .25-4 .25 4 .25 1 .25 3 .25 8 .25-6 .25 3 .25-4 .25-7 .25 12 .25-10 .25 13 .25-14 .25 13 .25-18 .25 9 .25-5 .25-2 .25 1 .25 0 .25 4 .25-4 .25-2 .25-4 .25-1 .25 11 .25 1 .25 0 .25-8 .25 13 .25-6 .25 13 .25-10 .25-5 .25 5 .25-11 .25 1 .25 5 .25 0 .25-2 .25 2 .25 7 .25 0 .25 5 .25-15 .25 3 .25 1 .25 4 .25 7 .25-14 .25 1 .25-7 .25 8 .25-5 .25-6 .25 13 .25-6 .25 8 .25-7 .25-2 .25-1 .25 1 .25-1 .25-8 .25 11 .25 5 .25 13 .25-7 .25-2 .25-6 .25-7 .25 10 .25-8 .25-1 .25 10 .25-4 .25-9 .25 3 .25-4 .25 12 .25-9 .25 2 .25-10 .25 21 .25-16 .25 7 .25 9 .25 1 .25 3 .25-1 .25-7 .25-9 .25 15 .25 10 .25-24 .25 6 .25 7 .25-3 .25 10 .25-11 .25-2 .25 4 .25-9 .25 3 .25 13 .25-11 .25 16 .25-7 .25-15 .25 15 .25-6 .25-6 .25 21 .25-12 .25-14 .25 9 .25-1 .25 6 .25-10 .25-6 .25 12 .25 5 .25-16 .25 10 .25 2 .25 2 .25-14 .25 2 .25 10 .25-4 .25 5 .25-4 .25 6 .25-14 .25 1 .25-2 .25 7 .25 9 .25-4 .25 1 .25-8 .25 12 .25-1 .25-5 .25 5 .25-16 .25-4 .25 4 .25-2 .25 8 .25 14 .25-16 .25 11 .25-15 .25-3 .25 20 .25-4 .25-5 .25 16 .25-14 .25 7 .25 0 .25 4 .25-5 .25 4 .25-1 .25-2 .25-1 .25 7 .25 0 .25-24 .25 7 .25 5 .25-3 .25-1 .25 11 .25 4 .25-4 .25-9 .25-4 .25-7 .25-3 .25 24 .25-9 .25-8 .25 2 .25 2 .25 16 .25-12 .25 1 .25 5 .25-16 .25 13 .25 4 .25-10 .25-3 .25 11 .25-9 .25 3 .25-5 .25-3 .25 6 .25 14 .25-18 .25-6 .25 6 .25 3 .25 5 .25-7 .25 3 .25 9 .25-1 .25-23 .25 15 .25-9 .25 1 .25 17 .25-21 .25 9 .25 17 .25-24 .25 12 .25-11 .25 5 .25 8 .25-8 .25 9 .25-17 .25 6 .25 11 .25 0 .25 8 .25-11 .25-10 .25 7 .25-2 .25 3 .25 11 .25-6 .25-7 .25 2 .25 3 .25 2 .25-8 .25 0 .25 11 .25-1 .25-15 .25 6 .25-2 .25 5 .25-11 .25 7 .25 0 .25 7 .25-7 .25 7 .25-5 .25 4 .25-6 .25-2 .25 1 .25-1 .25-11 .25-11 .25 0 .25-9 .25-10 .25-11 .25-9 .25-7 .25-3 .09 0 .16 0 .25 6 .25 8 .25 10 .25 11 .25 9 .25 10 .25 7 .25 6 .25 15 .25-8 .25 11 .25-17 .25 20 .25-2 .25-6 .25 1 .25 10 .25-5 .25-4 .25-1 .25 1 .25 3 .25 7 .25-17 .25 5 .25 5 .25-2 .25-9 .25 7 .25-18 .25 17 .25-4 .25-7 .25 5 .25-7 .25 11 .25-3 .25-1 .25 9 .25-15 .25 5 .25 7 .25 3 .25 3 .25-18 .25 13 .25-2 .25 4 .25-6 .25-7 .25 9 .25-10 .25-3 .25 11 .25 7 .25 9 .25-18 .25 3 .25 3 .25 3 .25 7 .25-4 .25-5 .25 2 .25-2 .25-3 .25 2 .25-10 .25 27 .25-11 .25-1 .25 3 .25-9 .25 3 .25 4 .25 7 .25-4 .25-14 .25 6 .25 1 .25 0 .25 10 .25-9 .25-5 .25 5 .25 5 .25-7 .25 3 .25-2 .25 10 .25-7 .25 5 .25-13 .25-1 .25 6 .25-4 .25 2 .25-2 .25 4 .25-2 .25-8 .25 9 .25-8 .25 10 .25 6 .25-2 .25-10 .25-9 .25 26 .25-10 .25-8 .25-6 .25 11 .25 6 .25-3 .25 3 .25 6 .25-17 .25 3 .25 4 .25 2 .25-4 .25 2 .25 1 .25 1 .25-12 .25 0 .25 1 .25-1 .25 17 .25-15 .25 5 .25-6 .25 1 .25 3 .25 6 .25-5 .25-9 .25-6 .25 11 .25-5 .25 1 .25 2 .25-2 .25 2 .25-2 .25 3 .25 3 .25-13 .25 1 .25 19 .25 0 .25-9 .25 10 .25-2 .25-4 .25 4 .25-16 .25 5 .25-9 .25 9 .25 1 .25 5 .25-1 .25-5 .25 9 .25-11 .25 0 .25 10 .25 2 .25-7 .25 4 .25 7 .25 0 .25-14 .25 8 .25-5 .25 5 .25 2 .25 2 .25 13 .25-25 .25-2 .25 3 .25 12 .25-4 .25 1 .25 7 .25-9 .25-9 .25 4 .25 1 .25 3 .25-5 .25-3 .25-1 .25 2 .25 10 .25-9 .25-2 .25 20 .25-12 .25-2 .25 9 .25 9 .25-23 .25 17 .25-8 .25-6 .25 7 .25-8 .25-4 .25 9 .25 10 .25-14 .25-5 .25 2 .25 15 .25-7 .25 10 .25-14 .25 2 .25-9 .25 15 .25-2 .25 6 .25-7 .25-7 .25-5 .25 9 .25-2 .25-8 .25 3 .25 5 .25 2 .25 2 .25 14 .25-26 .25 13 .25-7 .25 14 .25 2 .25-15 .25 7 .25 4 .25-12 .25 10 .25-8 .25-3 .25-4 .25 1 .25 1 .25 8 .25-14 .25 5 .25 9 .25-14 .25 21 .25-5 .25-3 .25-12 .25 3 .25 12 .25 0 .25-3 .25-1 .25-7 .25-2 .25-3 .25 11 .25 12 .25-9 .25 5 .25 2 .25-12 .25-3 .25 7 .25-5 .25-3 .25 8 .25-6 .25 5 .25-5 .25-4 .25 0 .25 8 .25 4 .25 3 .25 1 .25-3 .25-9 .25 12 .25-3 .25-4 .25-2 .25 6 .25 5 .25 0 .25-1 .25-15 .25 12 .25-7 .25 6 .25-8 .25 14 .25-10 .25-6 .25 11 .25 0 .25 1 .25 1 .25 9 .25-8 .25-8 .25 12 .25-11 .25 4 .25 1 .25-12 .25 18 .25-14 .25 5 .25 8 .25 1 .25-14 .25 9 .25-7 .25-1 .25 1 .25 9 .25 3 .25-25 .25 15 .25 6 .25-8 .25 1 .25 7 .25 6 .25-18 .25 6 .25-3 .25-7 .25 3 .25 4 .25-2 .25 3 .25-2 .25-9 .25 2 .25-8 .25 6 .25-3 .25 5 .25-7 .25 1 .09-5 .16 2 .25-1 .25 14 .25-5 .25 5 .25-4 .25 4 .25 2 .25-4 .25 2 .25 12 .25 2 .25-10 .25-12 .25 15 .25 1 .25 5 .25-12 .25 3 .25 1 .25-2 .25-2 .25 3 .25 0 .25-4 .25-2 .25 10 .25 5 .25-21 .25 2 .25 9 .25-4 .25 4 .25 12 .25-12 .25 9 .25-10 .25 13 .25-4 .25 4 .25-14 .25 15 .25-6 .25-4 .25 0 .25 5 .25-3 .25 1 .25 0 .25-9 .25 10 .25-1 .25 3 .25-1 .25 0 .25-8 .25 7 .25-8 .25 1 .25 7 .25 3 .25-3 .25 10 .25-6 .25 0 .25-6 .25-6 .25 10 .25-12 .25 13 .25-10 .25 11 .25-2 .25-1 .25 3 .25 0 .25-11 .25 11 .25-3 .25-3 .25 3 .25-6 .25 9 .25-1 .25-5 .25-10 .25 8 .25 1 .25 2 .25 3 .25-3 .25 10 .25-4 .25-16 .25 8 .25 11 .25-5 .25-1 .25-8 .25 1 .25 5 .25-1 .25-16 .25 19 .25 1 .25-5 .25-11 .25 11 .25-1 .25-7 .25 8 .25-21 .25 23 .25-1 .25-7 .25 5 .25 1 .25-3 .25 12 .25 1 .25-15 .25 9 .25 5 .25 4 .25-8 .25 2 .25 5 .25 4 .25-10 .25-11 .25 5 .25 8 .25-3 .25-11 .25 7 .25 12 .25-9 .25-7 .25 14 .25-9 .25-6 .25 5 .25 6 .25-7 .25-2 .25 4 .25 6 .25-7 .25 4 .25-8 .25-5 .25 13 .25-5 .25-5 .25-2 .25 16 .25-13 .25 2 .25 8 .25-12 .25 15 .25-15 .25 10" fill="none" stroke="#0000ff" stroke-width="2.2" stroke-linejoin="round"/>
<path d="M93.4 2159.8V1547H1040.2V2159.8" fill="none" stroke="#141414" stroke-width="2.5"/>
<path d="M92.2 2159.8H1041.4" fill="none" stroke="#000" stroke-width="2.6"/>
<path d="M93.4 2159.8v14M188.08 2159.8v7.5M282.76 2159.8v14M377.44 2159.8v7.5M472.12 2159.8v14M566.8 2159.8v7.5M661.48 2159.8v14M756.16 2159.8v7.5M850.84 2159.8v14M945.52 2159.8v7.5M1040.2 2159.8v14" stroke="#111" stroke-width="2.3" fill="none"/>
<text transform="translate(74.4 2204.2) scale(1.1 1)" font-size="30.71" fill="#111">20</text>
<text transform="translate(263.92 2204.2) scale(1.1 1)" font-size="30.71" fill="#111">30</text>
<text transform="translate(453.62 2204.2) scale(1.1 1)" font-size="30.71" fill="#111">40</text>
<text transform="translate(642.64 2204.2) scale(1.1 1)" font-size="30.71" fill="#111">50</text>
<text transform="translate(831.84 2204.2) scale(1.1 1)" font-size="30.71" fill="#111">60</text>
<text transform="translate(1021.2 2204.2) scale(1.1 1)" font-size="30.71" fill="#111">70</text>
<text transform="translate(467.99 2260) scale(1.14 1)" font-size="35.43" fill="#111">2&#952;(degree)</text>
<text transform="translate(59 1921.73) scale(1.03 1) rotate(-90)" font-size="35.9" fill="#000">Intensity</text>
<text transform="translate(111.55 1595.73) scale(1.01 1)" font-size="32.73" font-weight="bold" fill="#000">(c)</text>
<rect x="761.6" y="1556.1" width="267.9" height="90.1" fill="#fff" stroke="#3a3a3a" stroke-width="1.3"/>
<path d="M788.4 1575.9H845.8" stroke="#333" stroke-width="2.2"/>
<text transform="translate(853.43 1583) scale(1.12 1)" font-size="22.3" fill="#1a1a1a">1250</text>
<circle cx="913.1" cy="1568.3" r="2.0" fill="none" stroke="#444" stroke-width="1.05"/>
<path d="M926.8 1569.86A6.6 7.75 0 1 0 926.8 1580.24" fill="none" stroke="#3c3c3c" stroke-width="1.4"/>
<text transform="translate(933 1583) scale(1.12 1)" font-size="22.3" fill="#1a1a1a" textLength="52.96">/no si</text>
<path d="M788.4 1604.6H845.8" stroke="#ff0000" stroke-width="2.2"/>
<text transform="translate(853.43 1612.1) scale(1.12 1)" font-size="22.3" fill="#1a1a1a">1250</text>
<circle cx="913.1" cy="1597.4" r="2.0" fill="none" stroke="#444" stroke-width="1.05"/>
<path d="M926.8 1598.96A6.6 7.75 0 1 0 926.8 1609.34" fill="none" stroke="#3c3c3c" stroke-width="1.4"/>
<text transform="translate(933 1612.1) scale(1.12 1)" font-size="22.3" fill="#1a1a1a" textLength="63.44">/post si</text>
<path d="M788.4 1633.3H845.8" stroke="#0000ff" stroke-width="2.2"/>
<text transform="translate(853.43 1640.8) scale(1.12 1)" font-size="22.3" fill="#1a1a1a">1250</text>
<circle cx="913.1" cy="1626.1" r="2.0" fill="none" stroke="#444" stroke-width="1.05"/>
<path d="M926.8 1627.66A6.6 7.75 0 1 0 926.8 1638.04" fill="none" stroke="#3c3c3c" stroke-width="1.4"/>
<text transform="translate(933 1640.8) scale(1.12 1)" font-size="22.3" fill="#1a1a1a" textLength="59.69">/pre si</text>
<text transform="translate(162.1 1792.87) scale(0.96 1) rotate(-90)" font-size="18.31" fill="#111" stroke="#111" stroke-width="0.6">M(006)</text>
<text transform="translate(295.1 1718.81) scale(0.96 1) rotate(-90)" font-size="18.92" fill="#111" stroke="#111" stroke-width="0.6">M(110)</text>
<text transform="translate(311.6 1789.48) scale(0.92 1) rotate(-90)" font-size="18.45" fill="#111" stroke="#111" stroke-width="0.6">M(008)</text>
<text transform="translate(333.6 1615.1) scale(1.03 1) rotate(-90)" font-size="18.71" fill="#111" stroke="#111" stroke-width="0.6">M(107)</text>
<text transform="translate(348.6 1772.09) scale(0.98 1) rotate(-90)" font-size="17.4" fill="#d42a2a" stroke="#d42a2a" stroke-width="0.6">Fe<tspan font-size="10.79" dy="3.83">2</tspan><tspan dy="-3.83">O</tspan><tspan font-size="10.79" dy="3.83">3</tspan></text>
<text transform="translate(380 1620.46) scale(0.96 1) rotate(-90)" font-size="17.02" fill="#111" stroke="#111" stroke-width="0.6">M(114)</text>
<text transform="translate(388.6 1765.66) scale(1.02 1) rotate(-90)" font-size="14.55" fill="#111" stroke="#111" stroke-width="0.35">M(201)</text>
<text transform="translate(404.3 1782.16) scale(1.02 1) rotate(-90)" font-size="14.55" fill="#111" stroke="#111" stroke-width="0.35">M(108)</text>
<text transform="translate(427.1 1713.28) scale(1.04 1) rotate(-90)" font-size="18.45" fill="#111" stroke="#111" stroke-width="0.6">M(203)</text>
<text transform="translate(486.4 1763.96) scale(1.09 1) rotate(-90)" font-size="18.28" fill="#111" stroke="#111" stroke-width="0.6">M(205)</text>
<text transform="translate(527.6 1774.07) scale(1.06 1) rotate(-90)" font-size="18.31" fill="#111" stroke="#111" stroke-width="0.6">M(206)</text>
<text transform="translate(657.3 1794.9) scale(1.13 1) rotate(-90)" font-size="17.48" fill="#d42a2a" stroke="#d42a2a" stroke-width="0.6">Fe<tspan font-size="10.84" dy="3.85">2</tspan><tspan dy="-3.85">O</tspan><tspan font-size="10.84" dy="3.85">3</tspan></text>
<text transform="translate(743.5 1789.56) scale(1.16 1) rotate(-90)" font-size="17.04" fill="#d42a2a" stroke="#d42a2a" stroke-width="0.6">Fe<tspan font-size="10.57" dy="3.75">2</tspan><tspan dy="-3.75">O</tspan><tspan font-size="10.57" dy="3.75">3</tspan></text>
<text transform="translate(764.5 1744.33) scale(1 1) rotate(-90)" font-size="16.66" fill="#111" stroke="#111" stroke-width="0.6">M(217)</text>
<text transform="translate(776.1 1796.8) scale(0.92 1) rotate(-90)" font-size="14.94" fill="#111" stroke="#111" stroke-width="0.35">M(304)</text>
<text transform="translate(787.7 1785.06) scale(0.92 1) rotate(-90)" font-size="13.21" fill="#111" stroke="#111" stroke-width="0.35">M(0014)</text>
<text transform="translate(802.4 1724.47) scale(1.07 1) rotate(-90)" font-size="17.09" fill="#111" stroke="#111" stroke-width="0.6">M(2011)</text>
<text transform="translate(918.3 1733.97) scale(0.99 1) rotate(-90)" font-size="18.41" fill="#111" stroke="#111" stroke-width="0.6">M(220)</text>
</g>
</svg></body></html>
